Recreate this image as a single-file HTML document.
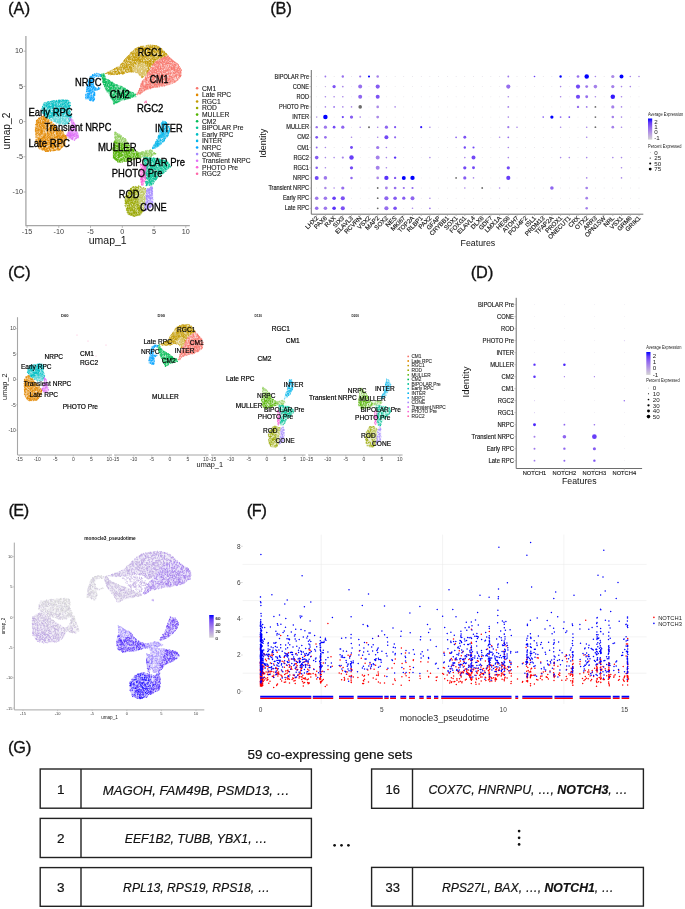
<!DOCTYPE html>
<html><head><meta charset="utf-8"><style>
html,body{margin:0;padding:0;background:#fff;}
svg{display:block;will-change:transform;}
text{font-family:"Liberation Sans",sans-serif;}
</style></head><body>
<svg width="685" height="909" viewBox="0 0 685 909">
<rect width="685" height="909" fill="#fff"/>
<text x="8.02" y="14.40" font-size="17.2" fill="#111" stroke="#111" stroke-width="0.3">(</text>
<text x="24.43" y="14.40" font-size="17.2" fill="#111" stroke="#111" stroke-width="0.3">)</text>
<text x="18.98" y="14.40" font-size="16.3" fill="#111" stroke="#111" stroke-width="0.3" text-anchor="middle">A</text>
<text x="270.27" y="14.00" font-size="17.2" fill="#111" stroke="#111" stroke-width="0.3">(</text>
<text x="286.13" y="14.00" font-size="17.2" fill="#111" stroke="#111" stroke-width="0.3">)</text>
<text x="280.95" y="14.00" font-size="16.3" fill="#111" stroke="#111" stroke-width="0.3" text-anchor="middle">B</text>
<text x="8.07" y="278.40" font-size="17.2" fill="#111" stroke="#111" stroke-width="0.3">(</text>
<text x="24.93" y="278.40" font-size="17.2" fill="#111" stroke="#111" stroke-width="0.3">)</text>
<text x="19.25" y="278.40" font-size="16.3" fill="#111" stroke="#111" stroke-width="0.3" text-anchor="middle">C</text>
<text x="470.77" y="278.40" font-size="17.2" fill="#111" stroke="#111" stroke-width="0.3">(</text>
<text x="487.73" y="278.40" font-size="17.2" fill="#111" stroke="#111" stroke-width="0.3">)</text>
<text x="482.00" y="278.40" font-size="16.3" fill="#111" stroke="#111" stroke-width="0.3" text-anchor="middle">D</text>
<text x="8.57" y="516.00" font-size="17.2" fill="#111" stroke="#111" stroke-width="0.3">(</text>
<text x="23.53" y="516.00" font-size="17.2" fill="#111" stroke="#111" stroke-width="0.3">)</text>
<text x="18.80" y="516.00" font-size="16.3" fill="#111" stroke="#111" stroke-width="0.3" text-anchor="middle">E</text>
<text x="246.77" y="516.00" font-size="17.2" fill="#111" stroke="#111" stroke-width="0.3">(</text>
<text x="261.13" y="516.00" font-size="17.2" fill="#111" stroke="#111" stroke-width="0.3">)</text>
<text x="256.70" y="516.00" font-size="16.3" fill="#111" stroke="#111" stroke-width="0.3" text-anchor="middle">F</text>
<text x="8.02" y="752.70" font-size="17.2" fill="#111" stroke="#111" stroke-width="0.3">(</text>
<text x="25.63" y="752.70" font-size="17.2" fill="#111" stroke="#111" stroke-width="0.3">)</text>
<text x="19.58" y="752.70" font-size="16.3" fill="#111" stroke="#111" stroke-width="0.3" text-anchor="middle">G</text>
<path d="M38.4 118.2L43.0 115.6L50.2 120.2L56.8 126.8L63.4 132.0L67.3 137.3L64.7 145.2L59.4 150.4L46.3 151.8L39.7 149.8L35.8 142.6L35.1 129.4L35.8 121.5Z" fill="#E38900" fill-opacity="0.25"/>
<path d="M48.5 141.7h0M39.8 118.9h0M41.1 128.1h0M47.9 135.1h0M48.6 140.4h0M41.7 147.4h0M36.0 139.9h0M48.5 135.8h0M39.6 122.8h0M45.2 140.7h0M40.6 147.4h0M38.3 130.8h0M57.2 145.8h0M44.1 144.2h0M38.4 131.8h0M44.4 120.3h0M35.7 140.2h0M41.9 125.2h0M54.1 140.9h0M38.4 130.6h0M57.5 130.6h0M36.7 135.0h0M56.5 134.2h0M65.5 136.8h0M39.6 144.8h0M47.9 121.6h0M59.3 141.9h0M63.5 138.2h0M43.8 148.0h0M48.9 150.5h0M56.5 138.1h0M49.6 136.5h0M48.2 124.2h0M64.2 136.4h0M45.6 134.7h0M64.4 138.2h0M40.6 120.6h0M65.1 140.8h0M37.2 142.9h0M59.4 149.0h0M36.0 124.5h0M62.8 135.1h0M52.9 146.1h0M39.1 125.7h0M54.0 150.7h0M62.9 142.6h0M37.0 120.0h0M42.4 141.4h0M43.2 142.5h0M41.4 136.6h0M42.8 133.5h0M55.1 145.6h0M37.4 133.2h0M54.6 136.2h0M45.3 151.4h0M53.8 129.4h0M52.8 142.6h0M37.2 129.0h0M43.5 144.7h0M41.3 138.7h0M52.0 149.1h0M43.6 118.0h0M58.8 143.6h0M55.0 150.0h0M65.7 135.8h0M64.6 138.8h0M47.7 133.2h0M54.6 135.5h0M47.8 150.5h0M40.7 120.2h0M39.4 133.9h0M40.8 127.6h0M39.3 144.9h0M46.2 149.6h0M53.8 147.4h0M49.9 135.4h0M50.9 137.3h0M35.6 137.1h0M49.1 144.8h0M45.3 147.9h0M60.5 137.8h0M36.8 130.8h0M57.0 148.9h0M47.2 150.9h0M54.6 145.6h0M53.6 138.3h0M44.3 136.8h0M59.3 146.7h0M59.4 140.9h0M56.7 131.9h0M47.4 130.5h0M48.0 127.1h0M55.1 131.2h0M41.5 131.0h0M46.2 144.5h0M43.2 146.5h0M52.1 144.6h0M53.5 142.1h0M51.8 143.5h0M53.4 132.5h0M46.1 118.1h0M47.3 118.5h0M61.2 147.3h0M57.3 136.2h0M40.3 132.5h0M46.2 123.7h0M54.2 126.9h0M43.4 119.6h0M41.3 133.7h0M43.1 146.4h0M48.5 137.9h0M42.6 119.3h0M51.7 132.9h0M40.0 138.1h0M52.6 139.3h0M39.8 142.8h0M42.2 134.4h0M45.5 147.2h0M62.3 135.1h0M61.7 146.5h0M38.3 139.2h0M57.8 137.7h0M59.9 142.1h0M43.5 124.9h0M55.5 128.1h0M60.8 131.8h0M44.8 120.8h0M64.1 135.2h0M66.5 138.6h0M40.3 142.6h0M36.1 128.9h0M62.9 140.7h0M49.3 136.7h0M43.1 125.1h0M59.3 132.1h0M36.9 134.0h0M41.9 144.5h0M54.2 146.1h0M47.4 142.7h0M51.6 135.2h0M36.1 141.3h0M50.1 149.9h0M42.2 125.3h0M37.7 131.1h0M38.6 138.5h0M61.0 140.8h0M61.6 138.3h0M39.7 118.4h0M36.0 142.9h0M47.8 142.6h0M49.7 131.9h0M50.5 132.8h0M61.0 130.2h0M60.7 148.7h0M39.8 121.3h0M41.1 138.1h0M58.0 142.1h0M43.1 121.9h0M38.9 145.0h0M39.8 125.2h0M52.3 127.0h0M49.1 134.1h0M58.2 147.9h0M36.0 134.5h0M45.6 146.7h0M53.1 140.6h0M49.7 138.3h0M53.7 126.9h0M51.8 148.8h0M48.8 124.6h0M47.1 149.3h0M37.9 123.8h0M45.2 121.9h0M54.6 130.6h0M53.6 128.2h0M36.9 123.9h0M56.5 133.6h0M51.8 121.9h0M61.4 137.1h0M49.6 129.2h0M61.6 138.5h0M56.6 132.9h0M35.5 128.4h0M50.9 142.0h0M50.2 132.2h0M46.0 134.6h0M59.4 132.4h0M39.1 126.9h0M51.3 140.0h0M35.8 134.4h0M56.8 140.5h0M49.6 148.7h0M50.7 146.7h0M61.8 139.1h0M56.8 136.5h0M43.9 135.9h0M56.7 128.4h0M60.0 131.1h0M42.0 143.4h0M45.0 142.1h0M42.0 122.8h0M39.7 129.3h0M56.8 144.6h0M37.7 124.0h0M41.8 148.8h0M58.0 135.7h0M44.9 145.8h0M49.1 149.0h0M57.8 132.9h0M40.2 122.9h0M49.0 130.2h0M39.8 142.0h0M41.2 138.9h0M54.5 142.7h0M55.7 137.2h0M44.6 142.1h0M47.8 126.5h0M47.0 134.8h0M41.7 118.4h0M51.5 125.1h0M46.6 119.5h0M52.1 142.4h0M39.9 135.5h0M42.1 143.1h0M62.8 135.8h0M48.1 143.1h0M58.6 134.3h0M57.9 143.9h0M47.2 143.5h0M59.3 137.8h0M48.0 140.8h0M39.0 123.6h0M44.8 147.6h0M52.6 126.0h0M39.6 126.1h0M54.9 127.3h0M49.8 131.7h0M61.8 131.0h0M46.2 140.0h0M42.2 132.5h0M45.2 138.3h0M60.4 132.1h0M49.0 148.5h0M54.6 143.4h0M51.4 133.6h0M53.6 149.7h0M51.8 122.6h0M57.7 135.2h0M65.7 138.2h0M45.5 149.9h0M43.3 144.7h0M50.9 146.6h0M48.6 140.3h0M47.9 133.9h0M44.6 119.3h0M58.2 136.0h0M60.7 134.0h0M60.6 140.8h0M60.1 130.3h0M45.5 121.8h0M48.3 124.3h0M48.2 150.9h0M45.4 151.2h0M55.6 129.2h0M62.7 138.0h0M43.2 144.3h0M49.0 128.5h0M45.7 140.8h0M43.8 144.9h0M44.6 135.3h0M50.8 146.6h0M53.9 148.1h0M49.5 149.0h0M44.1 137.6h0M35.5 130.7h0M46.1 120.8h0M58.2 140.9h0M48.8 129.1h0M55.4 141.2h0M54.9 139.1h0M40.6 121.0h0M51.7 147.3h0M41.0 132.4h0M48.9 133.6h0M40.3 128.0h0M43.5 146.2h0M60.9 131.0h0M51.5 126.3h0M62.8 139.9h0M50.3 151.3h0M65.6 139.0h0M40.0 138.7h0M53.3 132.6h0M48.9 137.3h0M62.5 142.8h0M53.8 149.1h0M36.8 122.8h0M48.7 119.5h0M44.3 117.8h0M57.8 139.8h0M47.3 122.4h0M60.7 133.3h0M55.8 128.3h0M42.5 131.3h0M47.4 132.6h0M60.0 135.6h0M43.0 148.6h0M53.0 129.2h0M63.3 132.0h0M57.9 143.7h0M51.0 134.7h0M40.0 129.0h0M39.7 141.9h0M50.5 131.8h0M63.6 134.7h0M48.3 125.3h0M37.4 130.7h0M35.9 126.1h0M51.3 150.6h0M38.6 140.0h0M51.2 143.7h0M39.7 118.6h0M48.0 144.5h0M41.3 143.4h0M44.4 123.5h0M35.6 130.0h0M47.4 139.5h0M37.4 121.1h0M56.1 130.2h0M45.4 135.8h0M57.6 148.8h0M50.4 128.2h0M52.5 148.0h0M49.5 147.3h0M43.3 125.5h0M45.7 135.4h0M42.2 139.9h0M39.7 119.0h0M47.5 136.3h0M52.1 127.9h0M53.0 150.9h0M45.1 139.8h0M45.6 143.6h0M45.6 147.8h0M59.3 143.2h0M50.2 123.2h0M36.4 127.3h0M36.3 140.7h0M56.7 131.2h0M59.8 135.0h0M41.3 127.8h0M36.8 137.5h0M51.6 138.0h0M49.0 146.3h0M63.2 139.4h0M36.7 124.1h0M37.1 130.9h0M60.0 146.1h0M36.5 133.2h0M42.8 150.1h0M65.5 137.8h0M42.7 149.7h0M63.1 141.0h0M54.6 142.1h0M43.3 137.3h0M39.3 146.1h0M55.0 134.8h0M43.1 126.3h0M41.6 145.5h0M63.5 133.2h0M54.4 134.7h0M55.2 146.6h0M44.2 147.6h0M42.4 137.2h0M42.8 120.4h0M40.3 146.2h0M54.5 150.5h0M46.2 137.2h0M54.4 137.9h0M37.0 142.8h0M41.3 142.9h0M35.3 127.5h0M64.6 136.9h0M62.6 137.5h0M61.6 147.4h0M45.4 120.1h0M58.3 131.5h0M39.2 137.0h0M36.3 122.8h0M44.5 149.2h0M51.4 132.1h0M54.0 125.2h0M44.9 129.1h0M43.0 136.8h0M61.1 142.8h0M37.7 133.0h0M49.5 139.9h0M49.5 141.1h0M57.0 140.8h0M59.6 143.9h0M40.8 129.8h0M45.4 145.1h0M54.9 143.1h0M38.8 129.1h0M41.3 145.3h0M54.4 140.5h0M42.7 132.3h0M41.5 116.5h0M58.6 141.8h0M45.7 146.1h0M48.9 146.9h0M56.3 136.6h0M41.6 134.8h0M45.7 140.3h0M62.5 139.7h0M46.2 121.1h0M55.6 146.3h0M61.6 138.3h0M65.9 137.0h0M41.5 131.1h0M45.9 151.5h0M47.3 151.5h0M51.8 121.8h0M37.5 129.0h0M39.1 138.6h0M48.4 151.5h0M47.8 132.3h0M53.2 143.8h0M50.8 130.8h0M43.5 148.6h0M41.2 140.4h0M46.5 150.9h0M39.1 122.4h0M63.7 136.7h0M42.4 120.9h0M41.7 148.0h0M63.2 141.0h0M50.3 145.5h0M51.1 128.8h0M44.0 149.1h0M47.6 133.4h0M43.3 147.6h0M47.4 126.4h0M38.9 145.9h0M59.1 137.0h0M42.9 138.2h0M55.7 127.5h0M49.9 143.3h0M43.3 137.0h0M48.9 129.4h0M39.2 124.4h0M37.7 126.6h0M59.0 137.9h0M56.9 133.8h0M42.5 121.9h0M41.1 146.2h0M46.3 143.8h0M52.7 145.2h0M50.7 137.0h0M52.4 128.8h0M54.6 150.3h0M47.7 129.8h0M60.6 139.0h0M47.8 140.5h0M48.1 120.5h0M49.6 127.7h0M42.1 149.1h0M57.3 137.3h0M59.1 135.2h0M57.7 149.3h0M43.6 118.2h0M41.9 133.8h0M38.5 129.7h0M52.4 127.9h0M53.0 135.0h0M47.7 140.8h0M56.9 140.5h0M53.2 128.6h0M54.8 149.5h0M49.3 142.4h0M36.3 143.3h0M44.0 135.0h0M52.8 144.6h0M56.0 149.3h0M37.5 125.6h0M64.7 143.3h0M54.4 145.8h0M38.2 146.1h0M57.2 133.2h0M46.3 128.4h0M43.3 148.6h0M50.0 125.8h0M45.0 149.2h0M51.8 129.1h0M58.0 132.1h0M38.0 122.3h0M52.1 130.7h0M40.8 146.7h0M36.9 126.2h0M46.6 150.1h0M50.5 125.7h0M51.3 138.9h0M38.7 143.0h0M62.5 146.2h0M44.3 148.4h0M40.1 147.4h0M46.2 121.4h0M40.4 122.7h0M57.4 136.4h0M51.7 146.8h0M43.2 123.7h0M44.1 138.8h0M44.6 125.4h0M54.1 129.4h0M57.7 133.6h0M55.5 128.4h0M44.3 120.4h0M44.2 125.5h0M49.3 122.3h0M66.1 138.9h0M50.7 150.6h0M39.7 138.5h0M56.4 131.3h0M37.0 133.4h0M50.1 144.8h0M43.4 129.8h0M42.8 140.4h0M37.0 120.6h0M44.4 149.9h0M62.5 131.3h0M50.2 138.4h0M43.6 116.2h0M56.8 135.6h0M45.5 143.8h0M39.8 124.5h0M44.5 122.7h0M37.9 140.4h0M53.0 148.4h0M61.1 147.0h0M56.7 144.8h0M53.1 133.9h0M57.4 140.3h0M51.9 145.6h0M51.4 145.5h0M44.2 122.1h0M43.5 136.6h0M37.8 138.0h0M42.3 143.3h0M53.4 139.7h0M38.6 118.7h0M55.2 130.4h0M37.9 129.0h0M48.2 142.5h0M44.4 127.0h0M54.6 137.1h0M59.8 149.7h0M56.3 146.1h0M41.0 146.6h0M46.8 147.9h0M66.7 137.7h0M48.5 121.7h0M45.1 127.3h0M54.7 139.2h0M56.4 136.5h0M47.9 150.6h0M40.1 148.0h0M45.1 135.5h0M40.5 134.0h0M60.6 140.7h0M38.9 148.2h0M50.5 149.9h0M41.6 146.5h0M57.8 148.0h0M45.7 134.7h0M56.0 137.1h0M42.6 131.1h0M43.1 146.2h0M56.1 129.0h0M44.6 148.6h0M65.4 137.8h0M42.0 149.6h0M59.3 142.8h0M41.9 145.7h0M42.8 138.5h0M58.0 142.5h0M47.7 143.1h0M64.2 136.9h0M38.0 120.3h0M38.5 121.9h0M39.2 143.8h0M36.4 124.3h0M45.1 144.5h0M61.2 146.7h0M49.9 149.3h0M43.4 149.4h0M36.2 141.9h0M53.3 133.4h0M43.4 127.4h0M43.1 123.5h0M60.8 133.8h0M37.8 143.7h0M52.3 142.4h0M51.7 130.1h0M47.7 123.4h0M44.5 148.8h0M64.2 135.0h0M44.6 117.1h0M58.8 138.8h0M52.9 150.5h0M44.1 137.4h0M47.9 138.3h0M44.8 145.3h0M36.7 121.0h0M47.8 150.2h0M38.7 139.0h0M52.1 128.4h0M41.5 123.6h0M36.5 141.4h0M56.2 131.7h0M56.3 129.3h0M48.5 133.1h0M50.5 135.7h0M55.7 142.7h0M46.4 148.8h0M62.0 135.6h0M63.0 146.4h0M52.4 148.2h0M59.9 130.8h0M45.8 150.1h0M61.1 148.2h0M35.5 129.3h0M42.7 126.3h0M58.9 141.8h0M50.0 128.8h0M53.9 134.9h0M52.8 137.9h0M47.8 143.5h0M43.2 139.3h0M52.6 138.3h0M42.9 148.7h0M53.8 124.8h0M56.0 141.5h0M52.0 139.4h0M61.3 144.8h0M55.1 131.9h0M48.2 147.3h0M53.3 148.5h0M40.0 146.2h0M61.5 133.7h0M36.3 120.9h0M47.1 138.0h0M40.1 135.1h0M50.1 133.4h0M59.8 138.6h0M50.2 139.7h0M49.7 134.6h0M60.5 137.4h0M50.1 148.0h0M54.5 141.9h0M48.4 140.4h0M38.9 143.4h0M47.6 148.4h0M41.2 131.6h0M62.3 137.1h0M50.0 134.2h0M53.6 131.5h0M41.3 119.7h0M40.0 117.5h0M53.1 146.3h0M46.7 118.3h0M48.8 137.4h0M48.8 144.9h0M57.8 132.6h0M64.3 144.8h0M42.2 131.1h0M62.4 131.9h0M50.0 127.7h0M52.2 125.9h0M39.0 139.8h0M57.0 147.0h0M39.4 144.5h0M61.7 139.0h0M41.7 125.1h0M48.6 135.2h0M50.5 132.5h0M62.1 147.1h0M61.4 147.4h0M53.5 150.5h0M54.6 137.5h0M45.4 140.3h0M36.8 120.5h0M39.3 139.3h0M40.7 127.9h0M36.5 124.1h0M40.0 134.5h0M47.7 125.9h0M43.3 118.6h0M62.9 131.8h0M53.2 142.3h0M60.7 131.8h0M41.0 145.6h0M53.7 147.3h0M54.7 124.7h0M44.6 134.9h0M51.5 128.0h0M59.9 144.7h0M48.8 123.0h0M37.3 122.8h0M43.9 137.3h0M66.0 140.3h0M48.5 134.8h0M57.0 134.2h0M44.7 119.4h0M44.3 143.4h0M55.7 144.6h0M51.8 124.0h0M55.3 126.6h0M48.6 131.0h0M59.0 149.9h0M37.4 121.9h0M45.5 124.6h0M51.1 145.4h0M62.6 137.2h0M42.8 122.4h0M52.5 142.7h0M42.4 121.9h0M36.4 120.9h0M42.3 116.8h0M48.4 120.6h0M47.2 131.0h0M50.3 130.9h0M38.4 143.6h0M39.5 131.0h0M43.9 126.5h0M56.8 134.3h0M41.2 132.6h0M46.0 141.1h0M42.4 146.2h0M52.0 133.7h0M43.3 122.3h0M50.3 151.1h0M39.4 125.9h0M60.9 139.7h0M44.1 127.0h0M48.6 137.4h0M58.3 146.6h0M64.9 143.9h0M45.0 126.6h0M55.5 125.7h0M50.6 144.7h0M47.9 121.4h0M56.0 142.9h0M44.1 131.9h0M57.9 137.0h0M35.2 130.0h0M53.2 142.2h0M37.9 130.1h0M44.1 130.9h0M51.1 139.5h0M51.1 138.1h0M53.9 131.1h0M45.4 120.9h0M54.4 137.7h0M51.2 127.2h0M49.4 140.9h0M41.1 117.9h0M47.3 140.8h0M38.4 122.7h0M49.7 138.1h0M55.2 129.6h0M35.7 133.2h0M41.0 138.7h0M52.4 143.7h0M47.8 151.4h0M51.7 132.9h0M59.2 136.3h0M46.8 133.3h0M41.2 129.8h0M36.1 132.3h0M43.9 134.7h0M36.0 135.7h0M44.5 136.5h0M58.7 131.5h0M51.1 145.3h0M58.2 141.1h0M49.3 142.9h0M47.7 132.5h0M58.6 135.3h0M39.8 125.9h0M63.1 135.4h0M52.6 137.9h0M44.8 128.9h0M53.6 144.9h0M41.6 127.5h0M36.6 121.3h0M41.3 133.5h0M55.6 147.5h0M47.0 126.2h0M48.4 123.4h0M45.4 120.0h0M64.8 142.6h0M49.8 142.9h0M55.3 126.6h0M51.9 141.4h0M43.7 144.4h0M65.0 138.2h0M39.4 143.0h0M52.1 142.9h0M56.2 146.5h0M59.0 141.9h0M37.8 145.6h0M52.5 135.2h0M57.4 136.9h0M55.8 129.1h0M44.0 134.0h0M63.6 136.1h0M56.5 131.6h0M46.5 139.3h0M52.6 147.6h0M44.0 119.5h0M41.3 129.6h0M55.3 138.2h0M47.9 129.3h0M66.8 137.3h0M47.5 120.9h0M57.5 148.4h0M45.3 143.3h0M44.4 150.3h0M57.7 138.2h0M64.8 140.1h0M59.9 136.3h0M62.0 140.9h0M39.8 137.8h0M44.1 148.8h0M41.5 125.9h0M36.6 131.8h0M53.1 136.4h0M49.5 146.4h0M53.7 139.3h0M44.1 133.2h0M43.2 131.0h0M38.8 125.4h0M54.8 129.3h0M36.0 129.7h0M49.7 149.3h0M44.1 137.9h0M51.4 144.1h0M38.2 137.5h0M37.0 133.0h0M51.8 127.1h0M43.5 122.9h0M54.1 146.1h0M45.9 136.8h0M40.3 122.6h0M43.7 140.6h0M44.4 127.8h0M46.8 144.8h0M36.3 128.6h0M62.7 139.0h0M38.8 123.1h0M59.1 130.2h0M50.7 147.7h0M42.3 144.8h0M49.8 139.2h0M40.7 121.6h0M51.9 142.4h0M50.0 147.1h0M42.7 129.1h0M59.5 149.6h0M48.4 137.7h0M52.7 129.7h0M38.4 141.4h0M62.9 141.2h0M50.8 140.9h0M47.8 144.5h0M45.3 128.1h0M46.8 136.1h0M36.4 139.5h0M41.6 130.7h0M49.6 128.2h0M47.4 122.1h0M37.3 135.6h0M42.5 126.0h0M52.9 136.2h0M46.2 128.3h0M66.0 135.6h0M56.1 133.4h0M55.9 137.5h0M39.8 127.7h0M49.9 120.2h0M46.8 123.9h0M42.4 130.4h0M40.9 140.7h0M59.3 138.0h0M57.8 148.8h0M40.0 124.4h0M52.7 128.1h0M40.3 141.5h0M39.8 118.2h0M52.6 147.5h0M52.2 143.9h0M41.2 146.8h0M41.1 117.6h0M48.7 135.7h0M43.9 119.4h0M47.7 126.1h0M51.6 128.2h0M65.0 144.2h0M38.5 129.2h0M48.0 125.6h0M38.2 119.9h0M45.3 150.0h0M41.8 142.7h0M43.4 116.9h0M50.0 143.0h0M58.6 128.4h0M50.5 145.1h0M50.6 122.6h0M62.4 133.8h0M52.1 126.0h0M44.0 128.2h0M44.2 118.7h0M51.9 144.1h0M54.2 126.1h0M39.9 120.4h0M58.7 142.2h0M40.9 130.6h0M60.4 138.0h0M54.9 141.0h0M56.2 149.1h0M56.5 126.6h0M55.1 128.3h0M45.5 137.7h0M40.3 133.2h0M41.2 132.6h0M62.2 146.1h0M39.0 133.3h0M56.4 133.3h0M41.4 147.4h0M40.9 138.7h0M59.0 136.0h0M45.0 136.8h0M47.8 139.6h0M65.5 137.9h0M60.5 134.2h0M52.2 127.5h0M39.3 129.5h0M42.0 116.8h0M44.0 122.1h0M41.0 141.1h0M50.3 137.3h0M47.1 147.3h0M58.5 150.1h0M46.4 149.5h0M50.5 138.9h0M58.8 144.9h0M47.9 131.8h0M61.4 141.6h0M40.9 123.9h0M58.2 142.7h0M54.5 147.4h0M43.2 127.9h0M51.0 127.0h0M52.7 140.3h0M42.2 133.2h0M37.6 124.5h0M46.4 142.8h0M41.0 131.2h0M63.2 134.9h0M60.4 143.3h0M56.8 144.4h0M36.4 125.2h0M57.5 147.0h0M37.9 122.6h0M44.0 142.3h0M62.8 136.5h0M41.5 130.6h0M39.5 148.8h0M59.7 134.1h0M45.4 120.0h0M60.3 135.3h0M42.4 123.7h0M43.5 126.8h0M47.6 126.4h0M45.7 142.6h0M42.9 124.0h0M41.2 147.5h0M42.8 143.0h0M43.5 116.8h0M58.7 141.9h0M38.0 127.4h0M37.9 137.1h0M51.6 140.4h0M43.4 139.2h0M53.6 126.7h0M40.4 141.9h0M41.0 124.2h0M63.7 137.2h0M38.6 121.9h0M53.7 124.7h0M44.8 121.8h0M41.2 132.4h0M51.5 134.1h0M59.4 144.3h0M53.9 132.4h0M63.9 145.6h0M53.5 145.8h0M47.5 118.9h0M46.7 151.3h0M60.8 145.0h0M51.2 145.6h0M56.6 137.1h0M35.9 142.3h0M45.6 129.2h0M54.8 139.4h0M41.6 145.5h0M47.3 138.5h0M66.2 136.0h0M46.7 138.0h0M51.3 132.0h0M58.7 149.1h0M53.4 124.5h0M43.9 143.7h0M50.8 127.1h0M45.2 117.1h0M52.3 145.4h0M37.8 119.5h0M52.1 139.5h0M36.3 130.6h0M57.2 150.1h0M47.7 126.5h0M52.9 146.4h0M60.7 140.4h0M49.0 140.6h0M42.1 125.9h0M60.1 149.3h0M41.2 126.3h0M35.3 131.2h0M41.9 138.8h0M47.6 134.9h0M45.6 118.7h0M52.4 127.8h0M47.5 136.3h0M59.4 149.7h0M54.8 127.0h0M38.6 118.3h0M45.4 139.5h0M37.8 126.7h0M52.7 142.9h0M52.2 126.0h0M56.1 146.1h0M55.7 136.1h0M45.0 147.3h0M45.2 128.9h0M44.5 131.7h0M43.1 119.7h0M45.0 133.6h0M52.5 132.0h0M42.0 131.5h0M40.5 134.8h0M66.0 135.7h0M65.8 139.8h0M62.6 143.8h0M57.2 142.4h0M40.1 141.6h0M38.2 141.2h0M50.9 123.0h0M44.9 146.8h0M46.8 125.8h0M40.1 136.4h0M56.8 130.3h0M38.5 141.0h0M51.7 133.6h0M47.1 137.4h0M51.2 142.0h0M43.4 149.0h0M57.7 138.0h0M43.9 140.8h0M43.4 145.2h0M53.1 141.4h0M51.0 147.4h0M59.8 133.5h0M54.0 129.4h0M40.8 130.8h0M47.6 148.9h0M61.8 136.4h0M45.4 124.0h0M65.9 136.0h0M42.1 124.6h0M38.5 122.3h0M59.8 141.3h0M49.2 144.3h0M51.8 130.6h0M38.9 147.6h0M44.0 137.9h0M66.2 139.2h0M39.2 143.5h0M65.7 136.0h0M53.9 127.8h0M38.7 146.9h0M44.9 130.8h0M55.9 137.5h0M48.7 129.6h0M39.1 134.9h0M42.6 142.9h0M42.4 116.7h0M50.5 128.4h0M52.7 139.5h0M53.1 137.2h0M41.3 123.8h0M40.1 129.3h0M38.7 134.1h0M46.2 118.1h0M52.0 139.1h0M54.9 145.1h0M42.7 138.0h0M44.9 118.8h0M44.9 118.2h0M38.4 144.1h0M46.4 148.6h0M51.1 147.2h0M42.2 128.9h0M46.9 119.1h0M45.8 139.5h0M50.1 147.4h0M43.8 128.4h0M45.4 135.6h0M41.2 121.9h0M39.6 119.1h0M44.1 147.6h0M55.4 150.5h0M45.2 133.0h0M53.6 124.2h0M53.1 129.9h0M51.4 122.7h0M40.1 142.9h0M45.7 138.9h0M53.3 148.2h0M41.7 138.5h0M55.6 140.7h0M64.3 143.9h0M55.2 137.4h0M42.0 139.2h0M64.6 135.9h0M43.5 127.7h0M61.4 137.2h0M51.4 128.2h0M63.3 135.9h0M50.0 150.4h0M63.4 145.3h0M61.5 132.5h0M48.9 130.1h0M53.8 142.0h0M60.4 139.3h0M53.2 130.5h0M45.4 126.0h0M44.6 140.3h0M59.7 137.2h0M42.3 122.6h0M35.6 124.6h0M60.6 141.6h0M43.0 135.7h0M54.0 141.7h0M50.0 130.3h0M45.0 124.2h0M38.1 139.0h0M56.7 140.5h0M39.0 134.7h0M47.2 145.1h0M38.7 134.8h0M49.5 142.8h0M38.3 128.7h0M53.3 124.2h0M62.1 143.3h0M62.0 135.3h0M62.0 147.5h0M60.1 136.3h0M54.9 146.2h0M57.4 134.9h0M42.7 140.0h0M63.4 145.7h0M38.6 118.2h0M38.3 120.5h0M40.2 131.7h0M61.3 145.0h0M57.9 133.3h0M57.8 139.5h0M36.5 128.7h0M53.3 141.2h0M54.2 141.7h0M54.7 126.0h0M48.4 147.4h0M58.7 149.2h0M40.6 126.3h0M38.1 127.1h0M47.4 138.5h0M50.3 141.6h0M43.8 121.9h0M47.3 131.5h0M48.7 148.7h0M43.8 128.3h0M42.0 129.1h0M47.7 136.4h0M44.1 125.0h0M58.3 148.5h0M39.0 122.2h0M39.4 140.3h0M42.0 137.5h0M41.6 145.2h0M45.3 139.8h0M39.9 126.7h0M44.7 138.6h0M57.0 146.2h0M41.0 143.1h0M58.0 135.8h0M39.8 130.6h0M47.6 133.6h0M43.7 147.8h0M44.4 144.5h0M49.9 137.2h0M42.7 140.5h0M39.9 135.9h0M51.0 145.9h0M50.6 144.0h0M48.0 126.7h0M60.4 130.7h0M51.1 136.5h0M61.5 136.6h0M48.2 121.4h0M57.7 147.6h0M38.6 132.5h0M65.2 136.0h0M52.3 139.3h0M41.4 140.0h0M43.9 119.5h0M43.5 127.7h0M50.1 124.1h0M58.5 144.8h0M60.6 141.5h0M43.8 123.2h0M38.6 130.0h0M37.9 139.3h0M45.9 151.5h0M45.2 142.3h0M58.2 136.3h0M46.9 123.1h0M42.7 126.8h0M64.4 141.4h0M43.6 121.6h0M63.5 144.3h0M54.0 132.2h0M45.7 118.8h0M57.1 130.0h0M50.5 126.1h0M44.2 137.0h0M60.5 137.4h0M43.3 117.1h0M35.5 131.6h0M41.0 141.4h0M40.2 145.6h0M41.7 128.4h0M42.5 144.8h0M50.9 147.2h0M39.3 133.7h0M59.7 145.6h0M53.1 133.4h0M51.4 135.2h0M47.1 126.2h0M41.6 144.6h0M45.3 133.4h0M61.2 137.8h0M48.3 122.0h0M47.9 133.2h0M40.4 123.6h0M41.9 118.4h0M46.9 125.9h0M63.7 143.8h0M38.6 146.4h0M38.6 141.7h0M47.1 145.0h0M52.1 124.5h0M42.2 140.4h0M57.2 138.8h0M37.4 124.4h0M63.1 142.2h0M40.5 126.4h0M53.2 145.5h0M41.6 119.3h0M47.4 148.6h0M43.5 119.5h0M36.9 128.3h0M36.3 136.7h0M56.8 132.3h0M59.0 133.7h0M59.1 133.8h0M57.8 131.8h0" stroke="#E38900" stroke-width="0.85" stroke-linecap="round" fill="none"/>
<path d="M43.6 102.5L52.8 100.5L63.4 99.5L69.3 99.9L70.6 103.1L69.9 109.7L72.6 117.6L67.3 124.2L59.4 124.2L52.8 121.5L46.3 117.6L41.0 112.3L41.7 107.0Z" fill="#00BFC4" fill-opacity="0.25"/>
<path d="M64.4 112.7h0M65.8 117.9h0M65.3 118.6h0M68.9 110.7h0M55.5 103.1h0M48.4 106.2h0M64.3 103.4h0M63.9 114.2h0M70.4 117.4h0M63.1 101.4h0M57.0 118.3h0M50.2 111.8h0M50.5 110.6h0M48.7 113.5h0M54.9 118.5h0M53.5 107.5h0M59.2 105.6h0M66.7 121.3h0M67.4 108.2h0M45.6 114.4h0M64.4 109.1h0M53.8 106.8h0M50.5 115.6h0M55.4 109.0h0M63.8 101.7h0M48.9 103.5h0M62.3 104.4h0M66.0 116.0h0M68.1 106.6h0M65.6 100.0h0M68.6 105.6h0M44.9 102.6h0M59.6 121.5h0M43.9 111.4h0M59.5 109.0h0M48.0 116.7h0M66.6 106.2h0M57.1 109.9h0M66.6 112.8h0M65.0 100.5h0M46.8 113.5h0M60.6 118.8h0M60.0 113.3h0M62.2 104.1h0M45.7 105.3h0M69.0 115.0h0M61.8 107.1h0M49.2 114.2h0M66.4 101.4h0M46.5 111.5h0M49.5 106.7h0M67.4 108.0h0M63.8 104.0h0M62.7 113.7h0M64.0 110.3h0M53.0 118.2h0M70.5 119.6h0M44.9 116.0h0M57.9 120.5h0M48.2 101.7h0M62.9 119.6h0M61.0 118.6h0M60.9 121.5h0M58.4 102.5h0M65.2 105.1h0M55.1 120.0h0M66.8 122.0h0M58.5 104.6h0M54.4 111.2h0M65.7 122.1h0M54.9 116.9h0M60.3 122.1h0M62.5 104.6h0M43.7 109.8h0M69.1 118.3h0M62.3 112.7h0M66.9 122.9h0M53.6 105.3h0M63.9 116.5h0M58.2 112.8h0M66.6 119.2h0M67.8 104.2h0M58.9 106.1h0M56.1 116.2h0M62.6 119.8h0M52.5 116.1h0M58.5 109.5h0M53.6 114.6h0M48.4 103.6h0M54.4 111.1h0M49.7 107.2h0M62.3 100.2h0M61.7 112.4h0M56.1 117.3h0M62.7 101.1h0M66.3 100.5h0M41.9 112.5h0M64.2 112.0h0M50.3 104.1h0M61.9 122.8h0M46.0 106.3h0M64.7 100.5h0M41.9 111.5h0M58.8 110.1h0M66.0 106.3h0M49.6 109.5h0M62.3 123.7h0M53.6 117.9h0M68.1 116.2h0M65.6 119.6h0M59.9 110.3h0M54.2 105.5h0M51.0 119.8h0M65.2 101.1h0M63.5 104.3h0M65.5 105.7h0M53.8 121.3h0M61.8 101.5h0M44.3 110.8h0M42.7 106.6h0M62.4 100.7h0M55.5 113.6h0M47.3 104.1h0M58.4 119.5h0M66.4 115.1h0M58.1 111.0h0M52.6 113.7h0M57.2 116.2h0M65.5 104.0h0M60.9 116.6h0M51.9 115.3h0M69.7 105.7h0M44.2 108.5h0M70.2 120.4h0M49.2 106.3h0M50.4 101.5h0M46.3 114.7h0M56.6 109.7h0M57.3 121.4h0M49.2 103.8h0M65.7 122.2h0M63.8 106.9h0M61.0 118.5h0M55.0 114.8h0M59.1 121.8h0M64.8 106.0h0M48.2 116.6h0M48.4 114.9h0M48.3 113.6h0M47.0 109.9h0M54.0 119.4h0M62.2 109.0h0M56.6 123.0h0M63.5 118.0h0M57.1 110.5h0M65.3 109.8h0M56.8 101.7h0M69.6 110.7h0M59.9 101.2h0M57.7 105.0h0M53.2 113.3h0M66.8 106.0h0M64.0 111.7h0M50.6 106.7h0M59.4 114.9h0M48.4 113.4h0M68.6 119.4h0M53.9 111.8h0M63.3 113.8h0M64.8 123.0h0M51.6 113.4h0M47.5 117.8h0M60.6 111.7h0M57.5 122.5h0M46.0 114.1h0M61.2 121.9h0M49.5 117.1h0M52.1 108.5h0M43.6 107.6h0M58.4 117.0h0M56.8 112.5h0M55.9 105.2h0M68.0 113.5h0M57.3 107.0h0M68.2 103.5h0M62.4 123.4h0M60.6 104.2h0M52.4 118.8h0M51.4 103.6h0M64.9 106.5h0M65.2 120.3h0M55.4 120.7h0M71.5 116.7h0M45.9 115.5h0M62.5 102.7h0M52.1 104.6h0M67.9 114.6h0M59.2 105.6h0M60.2 117.5h0M54.4 101.9h0M43.8 112.6h0M51.6 115.8h0M44.8 114.5h0M50.4 117.3h0M52.3 117.4h0M59.7 116.8h0M50.0 113.1h0M54.8 108.3h0M44.2 105.4h0M50.4 111.3h0M54.1 100.9h0M59.6 101.2h0M63.2 116.4h0M52.3 114.2h0M66.9 118.7h0M64.7 112.6h0M64.5 104.9h0M57.4 119.6h0M49.8 111.9h0M61.6 101.5h0M45.6 114.2h0M54.1 102.7h0M66.6 117.2h0M66.4 111.6h0M47.2 103.0h0M50.2 111.7h0M68.8 112.4h0M63.3 103.2h0M54.8 121.5h0M46.0 102.4h0M67.0 100.9h0M48.3 114.2h0M63.5 110.2h0M56.2 101.6h0M60.3 106.4h0M70.0 105.4h0M64.7 116.9h0M44.9 104.7h0M58.4 112.0h0M64.5 121.2h0M43.2 108.8h0M51.8 120.4h0M65.3 112.7h0M58.6 100.1h0M61.4 106.3h0M55.3 121.6h0M47.4 102.3h0M60.5 116.2h0M69.7 114.1h0M58.1 111.2h0M58.2 112.5h0M61.9 115.4h0M46.5 112.0h0M46.6 111.0h0M67.6 104.6h0M48.0 113.5h0M51.9 106.8h0M70.3 105.5h0M53.8 104.0h0M49.8 118.7h0M46.1 115.9h0M49.7 117.4h0M52.1 117.7h0M54.2 113.2h0M47.0 106.4h0M56.4 100.6h0M67.8 110.3h0M47.0 103.2h0M45.0 111.4h0M68.8 112.2h0M46.5 112.1h0M52.2 113.7h0M54.3 112.0h0M68.7 101.0h0M69.9 107.2h0M64.0 106.3h0M64.1 118.9h0M58.9 102.2h0M70.5 115.5h0M46.8 117.3h0M48.1 118.1h0M57.7 114.9h0M68.2 101.0h0M58.4 108.9h0M58.6 104.0h0M66.0 102.4h0M55.3 121.6h0M70.1 102.6h0M58.7 113.8h0M65.7 102.0h0M54.4 119.7h0M65.7 120.2h0M55.0 119.5h0M45.4 103.9h0M46.1 105.2h0M51.4 101.2h0M53.2 106.4h0M45.8 107.2h0M56.8 116.1h0M50.2 111.5h0M62.9 122.8h0M44.6 108.8h0M68.4 118.5h0M67.1 100.4h0M66.4 101.9h0M52.1 105.3h0M49.9 109.9h0M58.7 103.7h0M53.6 115.1h0M65.1 123.8h0M70.0 117.4h0M45.9 113.6h0M57.7 122.7h0M62.9 112.8h0M50.8 108.5h0M53.2 111.0h0M68.7 107.2h0M44.5 107.3h0M64.6 120.9h0M55.2 117.7h0M47.2 104.3h0M52.6 108.1h0M50.5 113.1h0M62.6 104.6h0M46.7 106.8h0M67.2 100.1h0M42.0 108.7h0M52.5 117.0h0M51.8 106.5h0M58.6 109.3h0M67.7 105.8h0M70.1 103.1h0M56.3 104.5h0M44.1 110.5h0M56.6 106.8h0M63.4 100.0h0M58.3 100.9h0M57.1 106.8h0M46.3 116.3h0M47.2 109.3h0M64.0 119.5h0M60.0 102.7h0M56.3 101.4h0M60.7 119.8h0M65.7 112.1h0M60.2 106.5h0M70.6 114.7h0M53.9 100.7h0M44.3 110.5h0M47.8 105.0h0M55.7 112.9h0M59.4 101.8h0M50.0 103.0h0M46.5 103.7h0M52.8 104.0h0M54.9 113.8h0M67.4 114.0h0M70.2 111.4h0M60.7 110.4h0M69.8 117.0h0M60.0 120.3h0M69.6 113.8h0M47.6 107.7h0M70.1 111.6h0M67.7 111.6h0M60.8 115.4h0M44.4 106.9h0M59.2 101.7h0M66.4 110.1h0M62.3 104.7h0M67.2 104.8h0M55.2 113.6h0M59.0 122.5h0M49.1 115.7h0M65.7 102.4h0M57.6 109.7h0M56.9 101.1h0M49.5 105.7h0M62.1 100.7h0M68.6 116.6h0M44.0 113.4h0M58.9 107.2h0M45.4 114.0h0M57.1 112.1h0M52.4 100.9h0M64.4 113.3h0M69.9 117.7h0M53.4 101.0h0M66.6 107.3h0M56.6 112.9h0M57.4 103.1h0M52.4 108.4h0M56.7 119.8h0M65.1 102.4h0M57.3 107.8h0M62.7 118.9h0M50.0 109.9h0M68.9 118.4h0M50.0 117.4h0M66.9 116.3h0M54.9 109.3h0M68.7 105.4h0M53.4 103.0h0M62.2 103.8h0M48.8 107.2h0M66.2 118.1h0M46.7 117.8h0M52.9 107.3h0M47.3 113.3h0M57.1 121.8h0M59.0 118.6h0M59.3 119.5h0M70.2 105.5h0M58.1 117.4h0M44.2 113.6h0M47.7 108.3h0M55.0 118.0h0M53.1 105.7h0M49.6 118.4h0M67.6 103.6h0M56.4 108.2h0M61.8 109.0h0M54.7 114.6h0M53.3 109.9h0M58.4 109.1h0M66.6 110.3h0M59.3 123.5h0M55.0 111.2h0M50.4 106.5h0M67.5 123.3h0M53.4 115.6h0M65.9 104.3h0M60.4 123.4h0M50.0 108.4h0M47.4 115.3h0M69.2 107.9h0M44.9 108.1h0M60.8 117.7h0M60.2 101.4h0M59.1 121.9h0M51.3 113.9h0M45.4 112.2h0M50.0 103.0h0M52.2 106.2h0M55.9 118.6h0M59.8 124.2h0M60.0 100.8h0M68.4 113.1h0M49.3 112.1h0M49.0 116.5h0M60.1 119.0h0M56.4 100.4h0M66.0 104.7h0M48.2 112.9h0M67.0 122.9h0M69.8 117.9h0M52.8 113.0h0M45.3 113.7h0M59.2 113.9h0M70.1 112.7h0M48.6 113.0h0M67.2 117.4h0M43.7 113.3h0M57.6 112.0h0M57.9 102.6h0M64.1 123.0h0M49.2 106.5h0M55.1 103.4h0M59.0 110.6h0M69.0 104.8h0M46.3 111.7h0M57.3 109.5h0M48.5 112.7h0M68.7 106.3h0M51.3 116.5h0M47.5 113.1h0M56.6 114.0h0M67.4 116.4h0M68.9 106.4h0M48.9 104.1h0M52.7 103.6h0M49.2 104.0h0M46.6 105.1h0M44.0 112.9h0M67.4 108.1h0M69.8 116.4h0M67.1 122.3h0M63.7 118.5h0M43.3 104.2h0M50.9 107.8h0M55.7 101.9h0M51.9 101.3h0M51.2 115.8h0M67.6 123.7h0M60.5 105.1h0M48.2 111.7h0M70.4 115.0h0M46.7 112.2h0M53.9 121.0h0M44.3 104.9h0M65.0 123.5h0M66.6 113.6h0M66.6 108.9h0M48.6 110.4h0M50.3 115.4h0M69.9 116.1h0M65.8 122.2h0M64.1 110.8h0M64.5 124.0h0M62.3 117.5h0M70.1 118.3h0M59.7 103.0h0M68.8 115.4h0M60.7 112.5h0M50.2 109.3h0M68.9 117.8h0M48.8 101.7h0M60.2 118.1h0M69.6 111.5h0M63.7 100.7h0M50.6 101.7h0M53.7 104.4h0M56.8 105.5h0M47.0 114.4h0M56.2 108.9h0M60.3 104.5h0M49.4 106.9h0M63.5 112.1h0M47.7 113.8h0M68.7 102.6h0M61.9 105.9h0M49.3 107.1h0M54.6 120.5h0M52.9 116.0h0M64.1 121.6h0M55.3 113.1h0M59.2 111.5h0M69.9 118.9h0M47.0 106.2h0M45.8 106.0h0M46.3 114.6h0M55.2 114.0h0M42.7 107.1h0M43.9 110.9h0M69.2 119.8h0M68.6 109.4h0M57.1 105.9h0M60.2 110.5h0M56.7 112.9h0M59.3 111.0h0M66.2 109.6h0M56.3 111.3h0M46.6 110.4h0M45.3 116.5h0M52.8 114.9h0M63.3 115.9h0M46.1 109.5h0M62.4 118.0h0M69.8 109.9h0M60.3 111.7h0M41.8 110.6h0M62.8 116.2h0M65.4 120.6h0M63.7 100.6h0M50.6 111.4h0M52.5 104.4h0M63.1 122.4h0M44.2 105.2h0M50.0 116.0h0M53.2 118.4h0M44.0 110.9h0M50.2 112.2h0M45.3 110.5h0M57.3 108.0h0M58.5 117.1h0M62.0 108.3h0M70.3 105.3h0M60.4 115.6h0M60.1 116.3h0M64.2 120.3h0M59.2 100.3h0M55.8 114.8h0M61.8 102.8h0M52.8 104.8h0M55.0 104.6h0M44.1 107.4h0M56.7 114.4h0M47.2 108.2h0M55.3 105.7h0M51.7 105.9h0M61.9 109.1h0M55.7 105.9h0M59.3 109.8h0M55.4 104.7h0M57.2 109.9h0M58.0 112.2h0M63.5 108.0h0M53.5 119.6h0M68.8 115.6h0M65.3 121.7h0M56.8 109.9h0M64.0 113.8h0M47.4 104.8h0M68.6 119.5h0M65.9 123.7h0M55.8 107.0h0M69.1 102.9h0M58.8 106.5h0M51.5 102.9h0M48.6 107.7h0M46.2 112.2h0M62.0 116.1h0M47.0 105.4h0M56.8 111.0h0M51.2 117.3h0M44.3 104.3h0M55.3 121.3h0M50.7 115.7h0M60.7 105.4h0M60.5 119.1h0M68.0 118.4h0M48.6 108.4h0M65.7 123.9h0M48.8 111.0h0M53.7 113.3h0M57.7 115.8h0M56.7 116.4h0M50.9 104.8h0M69.7 113.3h0M62.5 119.5h0M67.0 110.2h0M59.3 119.4h0M57.5 117.2h0M65.8 107.8h0M68.7 105.9h0M52.8 107.9h0M49.1 111.1h0M48.6 104.6h0M70.3 116.5h0M63.3 114.0h0M60.6 100.6h0M52.3 101.5h0M51.3 117.1h0M52.2 101.7h0M44.2 103.1h0M63.3 122.8h0M65.0 109.2h0M65.3 120.1h0M42.9 107.2h0M64.5 105.9h0M69.8 105.5h0M65.9 109.4h0M69.1 106.6h0M66.4 100.3h0M61.3 113.4h0M48.9 106.1h0M61.8 106.5h0M46.6 103.8h0M41.9 111.0h0M56.4 110.0h0M58.8 101.6h0M55.3 101.2h0M45.5 114.8h0M62.4 114.4h0M62.4 118.5h0M65.4 102.2h0M60.8 120.7h0M68.2 122.7h0M65.8 110.2h0M65.5 123.8h0M57.0 108.2h0M44.8 115.7h0M49.2 116.7h0M60.8 117.2h0M48.9 111.9h0M51.8 104.0h0M56.0 122.0h0M58.9 115.1h0M58.4 100.6h0M68.4 102.6h0M64.3 110.7h0M63.4 120.8h0M63.0 120.6h0M56.4 101.8h0M53.0 104.2h0M65.1 116.7h0M59.3 118.5h0M52.7 108.6h0M63.1 110.7h0M66.7 103.3h0M59.6 108.7h0M48.8 105.8h0M64.5 107.6h0M54.2 112.7h0M52.8 105.3h0M68.6 103.8h0M46.3 114.2h0M64.7 101.5h0M55.3 119.1h0M63.8 116.3h0M65.2 113.9h0M52.8 110.5h0M49.9 107.9h0M68.8 112.7h0M64.1 109.3h0M52.0 102.2h0M58.3 106.0h0M70.0 120.5h0M61.7 121.1h0M50.3 111.6h0M53.8 114.3h0M56.2 106.6h0M60.8 119.4h0M43.5 110.0h0M68.7 116.6h0M64.7 112.4h0M43.5 107.8h0M67.0 106.6h0M57.2 111.0h0M51.5 112.5h0M43.5 105.0h0M59.1 100.7h0M61.8 99.9h0M64.5 109.9h0M57.9 119.0h0M60.0 106.6h0M63.4 107.0h0M58.6 122.2h0M48.8 102.3h0M57.2 122.1h0M46.7 105.8h0M58.1 120.6h0M55.1 105.3h0M70.6 114.8h0M68.3 102.7h0M54.9 120.7h0M69.4 121.2h0M60.8 118.2h0M62.3 120.4h0M61.0 103.7h0M61.6 110.7h0M42.9 112.7h0M54.9 121.1h0M61.9 105.9h0M47.8 101.9h0M55.8 108.1h0M59.2 100.9h0M48.9 112.2h0M52.9 115.0h0M52.8 110.9h0M48.4 106.9h0M66.1 100.6h0M69.8 108.6h0M62.3 104.2h0M68.5 119.9h0M48.9 114.1h0M64.3 121.3h0M55.8 102.8h0M44.5 112.6h0M43.4 108.6h0M53.1 118.4h0M67.7 117.5h0M68.9 113.7h0M55.2 111.3h0M68.1 109.3h0M49.2 102.2h0M48.8 112.8h0M58.3 121.2h0M59.6 120.1h0M66.4 115.6h0M68.3 115.1h0M62.9 121.2h0M66.8 102.9h0M63.1 116.3h0M64.9 119.3h0M57.1 111.8h0M63.1 124.1h0M69.7 106.8h0M51.6 119.8h0M52.4 107.5h0M55.1 106.3h0M64.7 110.7h0M51.7 107.0h0M48.1 110.0h0M63.0 114.4h0M46.7 106.0h0M59.9 120.7h0M54.0 104.8h0M51.2 116.6h0M63.1 105.0h0M53.5 116.8h0M63.8 102.7h0M60.3 121.4h0M59.4 107.1h0M64.5 123.6h0M69.6 121.0h0M57.5 121.6h0M57.6 121.5h0M55.2 113.4h0M66.7 109.5h0M59.0 121.7h0M56.3 114.1h0M64.9 117.1h0M66.9 102.1h0M53.0 113.0h0M68.1 103.1h0M63.6 114.1h0M60.2 108.7h0M69.9 117.1h0M62.1 105.0h0M66.7 111.7h0M57.1 101.6h0M54.8 120.8h0M62.5 104.2h0M59.5 122.8h0M52.6 106.7h0M67.5 121.0h0M47.4 117.3h0M59.7 121.6h0M62.8 119.1h0M55.3 105.1h0M50.0 107.0h0M67.6 112.8h0M58.8 106.5h0M67.4 116.9h0M68.7 102.7h0M67.8 100.8h0M68.7 105.4h0M69.0 108.9h0M67.6 112.8h0M58.8 123.8h0M52.5 105.7h0M55.2 102.6h0M57.2 120.9h0M52.1 103.3h0M50.7 117.8h0M60.4 117.8h0M51.1 115.1h0M42.7 113.2h0M57.5 109.6h0M59.0 101.2h0M52.4 112.4h0M43.7 111.1h0M65.4 110.4h0M53.4 106.2h0M56.4 103.5h0M59.6 113.3h0M47.5 114.2h0M70.5 117.4h0M59.5 120.9h0M46.7 116.7h0M65.2 107.1h0M64.2 119.6h0M60.7 122.8h0M52.0 110.2h0M49.8 116.6h0M46.8 117.6h0M64.7 110.7h0M64.8 103.3h0M61.9 106.8h0M55.1 120.0h0M69.5 107.4h0M46.7 110.8h0M62.5 109.7h0M69.0 121.4h0M56.1 118.8h0M53.6 106.1h0M49.6 115.5h0M42.3 109.0h0M62.6 116.6h0M68.5 118.8h0M46.6 105.4h0M70.8 115.9h0M49.4 103.7h0M65.5 106.6h0M64.6 120.8h0M60.4 122.7h0M60.1 102.0h0M69.5 117.6h0M69.0 102.4h0M55.4 120.0h0M62.9 116.7h0M59.3 101.6h0M49.5 118.4h0M68.6 111.8h0M59.3 115.0h0M53.2 112.3h0M53.4 105.7h0M59.0 122.4h0M54.4 114.1h0M59.9 99.9h0M66.2 100.7h0M43.2 110.8h0M65.1 120.8h0M63.4 122.9h0M66.5 100.5h0M66.9 112.4h0M61.4 112.5h0M65.3 110.4h0M62.7 118.9h0M67.0 115.9h0M55.3 109.7h0M54.2 114.6h0M63.0 110.0h0M55.7 111.7h0M42.6 106.5h0M43.8 110.0h0M67.0 123.2h0M58.0 108.4h0M66.2 123.1h0M56.6 104.8h0M59.3 102.9h0M66.2 116.2h0M65.7 115.9h0M43.2 109.0h0M50.2 107.0h0M61.0 120.8h0M63.3 106.2h0M56.8 119.1h0M60.1 109.0h0M64.6 102.9h0M66.0 105.2h0M53.0 103.1h0M65.8 107.9h0M51.9 115.7h0M53.6 102.4h0M47.8 107.3h0M65.7 119.1h0M65.5 116.2h0M54.1 100.7h0M66.7 107.8h0M55.9 101.4h0M59.3 116.6h0M62.3 100.1h0M46.8 114.3h0M65.2 105.2h0M66.4 123.1h0M56.6 113.4h0M53.2 106.4h0M47.2 113.2h0M66.2 121.1h0M42.2 110.4h0M67.9 109.2h0M60.9 109.8h0M63.4 100.3h0M59.3 119.8h0M60.5 112.2h0M63.1 107.7h0M64.7 103.5h0M64.3 103.7h0M51.6 114.9h0M67.8 114.6h0M61.2 104.2h0M70.5 115.8h0M44.2 113.9h0" stroke="#00BFC4" stroke-width="0.85" stroke-linecap="round" fill="none"/>
<path d="M68.6 116.9L73.9 120.2L76.5 128.1L79.1 137.3L75.2 140.6L68.6 138.6L66.0 134.7L69.9 129.4L71.2 122.8Z" fill="#DF70F8" fill-opacity="0.25"/>
<path d="M72.5 129.2h0M73.7 125.2h0M70.4 135.2h0M78.2 134.1h0M75.5 129.3h0M70.4 126.8h0M69.4 133.3h0M68.8 133.7h0M72.0 129.7h0M70.8 134.5h0M76.6 135.3h0M72.2 134.4h0M76.8 132.4h0M70.3 135.1h0M76.4 136.0h0M68.5 135.4h0M70.8 136.7h0M72.8 136.3h0M72.1 135.6h0M72.6 138.4h0M75.1 136.4h0M71.3 129.2h0M69.5 134.5h0M73.3 124.9h0M73.2 135.7h0M74.2 133.7h0M73.6 135.1h0M73.7 122.7h0M72.6 125.1h0M70.9 135.3h0M70.6 127.9h0M70.4 137.6h0M71.9 136.9h0M71.6 128.9h0M72.5 133.1h0M69.1 134.0h0M71.0 136.2h0M72.3 123.6h0M70.1 130.8h0M73.0 122.7h0M72.9 130.3h0M70.9 130.5h0M71.1 138.0h0M72.8 125.2h0M66.6 135.4h0M70.6 133.0h0M73.0 137.7h0M70.4 135.3h0M72.9 120.1h0M71.1 138.1h0M74.6 133.1h0M68.8 135.2h0M74.1 140.2h0M70.1 135.3h0M69.2 137.2h0M70.0 129.8h0M69.2 132.2h0M67.2 133.9h0M77.3 135.6h0M74.4 124.7h0M75.5 131.5h0M70.6 136.0h0M72.9 133.9h0M74.4 127.2h0M71.3 128.2h0M72.1 133.1h0M71.6 119.9h0M77.4 133.3h0M74.1 134.9h0M69.7 118.7h0M68.1 134.1h0M69.8 135.8h0M71.6 130.3h0M73.9 136.3h0M71.1 127.4h0M70.1 119.5h0M69.7 132.3h0M71.6 136.1h0M77.9 137.6h0M74.7 136.5h0M74.9 124.2h0M67.4 135.2h0M74.6 130.6h0M76.4 138.0h0M75.3 128.6h0M73.5 137.1h0M72.4 137.9h0M75.1 130.4h0M71.9 131.1h0M75.4 135.3h0M76.3 135.1h0M75.0 131.2h0M73.7 123.2h0M76.3 131.6h0M69.7 133.5h0M76.3 137.1h0M75.4 133.9h0M69.0 135.7h0M74.5 123.7h0M77.8 137.1h0M74.8 126.7h0M67.5 135.2h0M73.4 134.7h0M76.1 129.2h0M67.2 135.4h0M71.3 135.4h0M74.8 136.5h0M73.3 122.1h0M77.0 136.2h0M71.0 120.8h0M69.8 136.6h0M72.8 133.8h0M71.9 122.7h0M73.4 135.3h0M68.5 135.8h0M70.2 132.2h0M72.1 128.9h0M71.5 135.8h0M72.4 127.0h0M75.2 128.9h0M72.4 138.0h0M73.7 132.6h0M77.1 132.6h0M74.2 126.1h0M70.5 137.1h0M69.0 137.0h0M71.3 120.1h0M71.2 122.4h0M71.8 119.0h0M72.0 129.8h0M69.7 136.1h0M75.3 126.2h0M72.2 139.4h0M75.7 130.7h0M74.6 134.4h0M73.0 129.0h0M75.1 138.6h0M76.7 134.1h0M75.5 138.8h0M73.0 131.4h0M69.4 118.1h0M70.6 135.8h0M78.5 136.2h0M73.2 126.6h0M74.5 140.3h0M74.3 134.2h0M72.1 134.2h0M73.5 134.8h0M76.3 134.1h0M71.4 127.7h0M71.3 135.2h0M70.3 118.1h0M73.9 126.9h0M68.3 133.2h0M70.7 133.4h0M73.7 129.0h0M68.4 133.8h0M78.1 137.1h0M72.8 133.2h0M71.2 132.6h0M76.0 133.2h0M71.1 130.7h0M72.9 135.8h0M73.5 128.2h0M68.4 132.2h0M73.3 134.4h0M74.7 125.9h0M71.7 126.9h0M75.5 138.1h0M73.1 135.4h0M72.2 126.2h0M73.6 122.8h0M69.7 133.8h0M77.8 135.7h0M68.9 136.0h0M70.5 133.3h0M72.3 123.8h0M74.9 136.2h0M76.7 135.9h0M71.1 130.9h0M70.6 126.1h0M69.5 136.3h0M72.0 131.2h0M71.7 138.5h0M78.1 137.9h0M72.5 131.8h0M72.3 135.5h0M71.3 121.3h0M73.7 134.8h0M67.0 136.0h0M71.2 135.1h0M69.9 129.8h0M72.0 134.7h0M68.3 132.3h0M73.7 126.1h0M70.2 137.2h0M71.3 130.9h0M72.6 139.7h0M67.8 136.0h0M71.3 131.5h0M76.6 138.3h0M69.1 138.3h0M75.0 125.5h0M72.1 121.6h0M77.3 135.2h0M72.1 137.4h0M73.3 123.1h0M72.1 120.2h0M74.0 125.2h0M78.2 135.9h0M73.8 122.5h0M73.0 138.2h0M70.3 135.8h0M70.8 134.5h0M75.7 133.3h0M71.5 133.5h0M74.6 127.7h0M75.3 134.3h0M74.7 128.9h0M71.2 124.2h0M77.2 137.2h0M77.0 134.2h0M70.9 134.4h0M75.3 129.0h0M73.2 130.7h0M75.2 132.2h0M71.0 120.0h0M68.0 132.1h0M74.7 139.8h0M74.5 135.3h0M71.1 139.1h0M71.2 125.7h0M71.6 131.8h0M70.1 133.8h0M71.6 129.8h0M74.4 134.0h0M75.3 127.0h0M75.1 124.9h0M68.8 135.1h0M73.3 126.3h0M73.4 122.7h0M74.0 128.8h0M68.1 132.8h0M68.9 135.4h0M67.1 134.7h0M75.9 138.3h0M71.9 138.9h0M72.3 139.0h0" stroke="#DF70F8" stroke-width="0.85" stroke-linecap="round" fill="none"/>
<path d="M105.0 73.5L112.0 70.0L119.0 66.0L122.0 62.5L127.0 57.0L131.0 52.0L136.0 48.0L142.0 46.0L150.0 44.7L157.0 45.5L163.0 49.5L168.0 55.5L160.0 59.0L155.0 62.0L151.0 67.0L147.0 74.0L142.0 78.0L137.0 73.0L130.0 72.0L124.0 74.0L117.0 74.5L110.0 75.0Z" fill="#C49A00" fill-opacity="0.25"/>
<path d="M137.8 67.3h0M140.1 62.6h0M147.5 58.2h0M142.0 57.7h0M137.0 66.1h0M137.2 49.3h0M148.1 63.9h0M145.0 56.5h0M146.1 52.1h0M129.5 56.6h0M152.7 58.5h0M110.6 73.6h0M158.5 57.4h0M147.9 59.7h0M144.0 47.8h0M140.0 48.1h0M136.4 57.8h0M159.4 55.9h0M150.9 48.3h0M134.6 62.1h0M145.3 70.1h0M147.8 62.4h0M133.6 55.8h0M146.0 48.2h0M118.0 71.9h0M127.0 69.1h0M128.9 70.8h0M133.0 71.3h0M149.9 64.2h0M151.4 63.6h0M140.2 63.1h0M164.6 56.0h0M136.0 49.9h0M120.4 69.1h0M149.6 61.2h0M141.1 74.0h0M131.1 63.2h0M147.0 71.1h0M146.3 55.7h0M154.6 52.2h0M133.1 60.3h0M131.7 53.1h0M124.5 66.8h0M155.5 58.1h0M143.0 56.2h0M129.4 64.5h0M137.1 68.7h0M140.7 70.2h0M159.7 53.0h0M140.9 65.4h0M130.6 59.5h0M123.7 73.0h0M137.5 49.9h0M129.3 66.6h0M117.4 69.5h0M142.8 71.5h0M138.9 68.9h0M140.6 74.5h0M126.1 69.7h0M151.2 55.5h0M152.9 55.0h0M138.0 71.8h0M154.9 51.4h0M146.2 71.8h0M130.7 59.2h0M164.0 52.2h0M131.6 66.0h0M109.2 73.8h0M139.2 52.7h0M152.7 48.7h0M143.4 52.8h0M159.0 46.9h0M134.5 56.7h0M124.4 64.1h0M127.9 57.3h0M134.1 68.6h0M137.8 70.7h0M151.9 54.9h0M137.4 52.7h0M147.2 48.0h0M150.4 61.7h0M123.0 67.3h0M137.3 66.3h0M125.8 71.5h0M142.0 58.0h0M126.3 72.1h0M111.6 74.2h0M160.5 51.4h0M133.4 57.2h0M151.9 52.7h0M137.2 70.2h0M146.2 61.0h0M136.1 72.7h0M142.2 59.6h0M144.7 56.4h0M158.0 48.1h0M165.3 53.4h0M130.8 63.4h0M136.5 57.1h0M141.8 75.0h0M135.7 63.9h0M153.1 56.1h0M140.5 67.3h0M145.0 62.9h0M144.7 71.3h0M155.3 47.7h0M133.6 66.6h0M142.2 73.6h0M141.3 50.1h0M146.5 70.1h0M147.0 65.4h0M134.9 53.3h0M140.7 49.6h0M138.9 64.0h0M145.2 61.7h0M145.1 69.5h0M131.8 65.2h0M149.9 64.9h0M133.2 64.1h0M126.5 60.0h0M142.0 77.7h0M158.8 49.9h0M163.0 52.1h0M145.2 55.4h0M133.4 57.4h0M148.4 68.6h0M167.0 54.7h0M144.5 61.1h0M147.5 49.8h0M132.0 69.6h0M162.3 51.5h0M138.9 65.1h0M137.2 60.2h0M161.7 48.7h0M138.5 59.3h0M145.3 71.7h0M144.2 67.4h0M143.6 58.1h0M153.8 59.7h0M139.2 58.2h0M132.2 53.7h0M147.6 66.0h0M111.6 74.4h0M135.7 59.5h0M125.0 71.5h0M160.4 55.2h0M132.0 53.9h0M159.0 56.6h0M141.9 73.8h0M145.0 54.5h0M149.9 55.3h0M131.5 69.0h0M133.4 52.2h0M161.2 51.7h0M144.5 73.9h0M138.5 66.4h0M138.0 65.0h0M149.5 52.7h0M152.1 46.7h0M155.9 54.4h0M154.5 61.9h0M163.5 54.0h0M150.0 58.2h0M151.2 53.2h0M154.4 47.6h0M138.9 48.9h0M141.6 72.5h0M124.9 66.2h0M161.0 57.8h0M138.5 55.9h0M112.1 72.4h0M153.7 57.6h0M161.0 55.0h0M145.8 63.6h0M138.6 57.5h0M120.1 67.3h0M128.2 63.2h0M143.1 59.2h0M138.0 57.4h0M139.9 74.9h0M132.5 61.1h0M150.7 46.0h0M162.7 51.8h0M119.2 69.1h0M157.4 51.9h0M134.5 57.4h0M130.6 66.4h0M143.6 56.7h0M125.6 69.0h0M142.3 64.8h0M146.5 65.8h0M137.3 70.6h0M137.3 67.4h0M137.2 55.8h0M147.4 52.6h0M127.4 69.3h0M144.7 49.3h0M143.9 71.0h0M153.3 51.0h0M141.5 64.7h0M154.9 48.5h0M135.6 72.2h0M140.3 59.9h0M142.6 63.1h0M114.7 74.0h0M142.5 69.3h0M152.7 58.4h0M153.9 59.3h0M124.0 61.8h0M148.0 61.9h0M142.5 64.8h0M141.2 56.0h0M145.9 65.2h0M108.3 72.8h0M151.7 50.8h0M144.3 70.2h0M142.3 47.4h0M142.1 73.0h0M145.0 52.5h0M143.8 71.9h0M138.9 70.2h0M115.3 71.4h0M126.5 64.0h0M151.6 50.2h0M145.7 65.5h0M142.9 46.2h0M154.6 47.9h0M138.3 54.1h0M150.5 66.8h0M109.2 72.2h0M162.7 52.1h0M148.1 59.1h0M134.3 58.5h0M108.7 74.3h0M153.7 53.8h0M112.2 73.9h0M155.8 45.5h0M125.5 67.6h0M144.3 51.8h0M149.4 63.6h0M137.9 55.7h0M155.5 49.8h0M114.5 69.3h0M143.1 68.4h0M135.4 66.3h0M142.6 72.3h0M138.7 65.8h0M156.0 48.4h0M129.3 67.6h0M113.6 74.6h0M145.2 52.6h0M129.0 66.9h0M151.0 55.7h0M139.0 51.1h0M153.3 62.2h0M148.3 67.3h0M151.7 50.5h0M157.4 51.1h0M140.9 66.3h0M147.1 53.4h0M135.5 54.7h0M135.1 58.1h0M139.8 59.9h0M158.4 46.9h0M152.0 55.5h0M127.4 70.1h0M132.1 53.2h0M134.1 67.2h0M142.9 73.9h0M154.9 60.1h0M145.9 49.0h0M129.9 66.4h0M161.2 57.1h0M162.2 56.3h0M153.1 48.4h0M150.0 54.5h0M133.5 53.4h0M133.0 57.8h0M147.2 64.8h0M136.0 49.8h0M145.9 56.7h0M156.5 52.5h0M149.0 45.2h0M110.7 72.5h0M127.1 57.6h0M128.7 61.4h0M132.3 58.9h0M126.7 63.3h0M119.2 74.3h0M161.1 52.7h0M129.3 62.2h0M124.5 60.2h0M152.0 64.0h0M113.4 69.5h0M134.7 49.1h0M122.9 65.3h0M129.6 60.0h0M137.9 65.8h0M134.1 66.2h0M132.4 58.4h0M142.6 57.3h0M127.0 66.6h0M116.5 71.6h0M140.0 47.7h0M120.8 73.5h0M149.2 55.9h0M146.0 54.6h0M129.6 58.4h0M134.4 61.2h0M138.4 64.7h0M131.7 59.1h0M158.9 58.7h0M159.7 54.4h0M122.8 73.9h0M135.2 62.7h0M140.2 61.7h0M146.6 57.1h0M126.4 66.9h0M135.5 55.7h0M160.7 58.1h0M144.3 51.4h0M154.8 56.0h0M150.9 50.7h0M133.6 71.5h0M150.4 49.6h0M134.1 50.2h0M136.5 52.9h0M128.5 59.1h0M141.1 46.3h0M161.5 54.1h0M144.0 68.6h0M138.4 47.3h0M154.3 45.5h0M154.1 49.3h0M131.3 52.8h0M129.6 55.1h0M147.8 62.1h0M159.5 52.7h0M128.8 59.7h0M123.9 68.9h0M145.6 66.4h0M130.8 68.9h0M138.3 48.2h0M150.9 61.0h0M129.2 59.7h0M141.8 54.1h0M129.4 57.4h0M136.2 72.6h0M162.6 55.9h0M118.3 69.2h0M125.7 70.8h0M135.8 66.6h0M132.7 59.1h0M149.0 64.8h0M130.0 54.9h0M140.0 47.5h0M146.2 68.7h0M146.7 74.1h0M142.3 50.0h0M145.7 59.6h0M133.9 53.7h0M125.5 64.0h0M126.2 66.1h0M115.3 71.8h0M137.2 70.2h0M135.0 70.0h0M154.3 45.5h0M154.8 46.1h0M138.6 55.4h0M135.4 55.9h0M133.4 54.4h0M148.4 49.1h0M117.3 74.4h0M142.8 70.4h0M140.4 63.8h0M122.6 63.5h0M147.9 58.9h0M164.2 52.4h0M142.0 56.5h0M161.8 49.4h0M140.9 46.4h0M134.1 61.9h0M151.2 47.5h0M129.7 67.6h0M121.7 72.3h0M158.7 51.0h0M115.6 72.8h0M141.0 59.9h0M154.2 51.5h0M140.4 61.7h0M149.8 51.8h0M131.9 70.5h0M132.2 59.3h0M142.5 58.1h0M158.7 57.9h0M156.6 57.8h0M131.4 56.4h0M134.6 69.5h0M115.1 71.4h0M151.6 51.4h0M129.0 55.7h0M153.8 53.3h0M136.9 50.0h0M150.6 52.0h0M128.5 59.6h0M140.1 60.9h0M155.5 48.9h0M116.9 74.2h0M139.6 56.9h0M133.9 68.7h0M122.4 66.8h0M137.4 52.3h0M125.9 59.2h0M145.6 60.9h0M121.3 63.8h0M149.0 51.3h0M142.9 74.6h0M140.2 60.7h0M130.3 61.8h0M151.8 53.2h0M155.9 55.4h0M146.1 69.0h0M131.8 62.5h0M129.4 71.6h0M147.8 52.3h0M143.3 49.3h0M159.0 48.8h0M130.0 57.9h0M154.5 48.8h0M116.0 71.5h0M152.4 61.7h0M123.7 68.3h0M156.1 57.3h0M152.1 57.7h0M164.4 52.4h0M137.1 62.8h0M125.4 62.3h0M163.3 55.3h0M137.6 59.4h0M135.5 48.7h0M139.0 65.4h0M118.4 71.2h0M157.7 51.6h0M146.5 71.9h0M150.6 47.6h0M154.1 58.1h0M139.2 70.4h0M139.6 50.1h0M139.6 74.4h0M134.5 52.3h0M130.7 68.1h0M150.1 62.8h0M146.7 69.4h0M141.9 75.2h0M144.2 72.4h0M139.8 73.7h0M145.0 49.3h0M124.2 66.6h0M151.3 54.1h0M130.0 66.8h0M114.8 72.2h0M137.4 56.1h0M152.5 47.0h0M135.8 55.1h0M145.7 49.5h0M110.6 72.0h0M136.6 72.3h0M122.4 72.7h0M129.6 68.1h0M143.3 65.6h0M106.5 73.3h0M118.8 73.0h0M145.6 70.4h0M144.6 50.5h0M144.9 59.1h0M152.0 55.3h0M135.0 57.6h0M144.9 50.4h0M135.3 67.6h0M143.3 46.3h0M162.8 51.6h0M110.2 73.7h0M149.4 65.7h0M138.1 59.6h0M145.6 62.2h0M115.4 74.0h0M149.7 46.5h0M136.1 56.8h0M136.1 53.7h0M147.7 59.7h0M138.0 65.6h0M141.5 48.5h0M140.1 66.1h0M124.8 67.9h0M141.3 48.3h0M142.0 73.1h0M156.3 54.7h0M117.0 74.4h0M159.9 52.2h0M148.7 63.0h0M144.8 53.4h0M154.3 60.0h0M142.3 72.7h0M120.0 69.7h0M158.7 53.8h0M150.1 63.6h0M124.1 73.3h0M139.2 60.7h0M122.0 71.5h0M145.0 70.1h0M161.9 56.5h0M151.2 49.5h0M128.6 64.9h0M163.7 55.2h0M138.1 62.2h0M142.0 66.7h0M144.0 63.7h0M149.4 66.5h0M143.3 48.4h0M151.0 46.1h0M135.0 55.1h0M149.8 55.4h0M127.7 61.8h0M112.1 72.8h0M125.5 58.8h0M141.5 68.5h0M143.9 67.5h0M118.6 72.9h0M132.9 60.1h0M144.2 65.6h0M157.4 50.5h0M148.7 59.9h0M158.2 51.9h0M143.4 66.5h0M140.4 49.9h0M152.8 50.4h0M143.2 48.7h0M156.7 50.3h0M130.0 64.3h0M119.6 73.4h0M135.7 60.6h0M145.8 64.9h0M159.3 54.9h0M147.7 65.0h0M115.6 69.0h0M153.4 62.2h0M147.5 51.0h0M143.0 65.8h0M147.9 51.8h0M160.5 51.4h0M130.8 63.0h0M148.8 54.7h0M142.7 66.7h0M134.6 70.8h0M112.1 73.4h0M144.5 71.2h0M134.4 60.3h0M120.6 66.2h0M140.8 46.5h0M155.0 59.4h0M121.5 67.4h0M163.8 56.9h0M151.1 49.5h0M151.5 47.3h0M119.8 72.4h0M143.8 57.9h0M140.3 72.4h0M146.4 72.8h0M157.0 50.7h0M123.5 72.4h0M148.1 68.3h0M129.3 67.8h0M127.6 67.9h0M153.6 60.5h0M116.1 67.7h0M129.7 71.9h0M119.6 72.9h0M129.2 64.7h0M135.2 60.4h0M152.9 45.6h0M144.6 65.7h0M135.9 69.3h0M141.0 70.4h0M141.8 75.8h0M161.2 50.5h0M144.6 57.8h0M146.3 46.2h0M118.2 67.2h0M118.0 69.4h0M140.5 69.3h0M143.6 64.8h0M138.9 47.4h0M146.5 61.4h0M147.7 71.3h0M119.1 72.7h0M128.9 68.2h0M140.3 48.0h0M130.9 57.2h0M133.2 53.5h0M142.4 56.8h0M140.4 57.2h0M133.5 72.3h0M141.9 56.7h0M152.6 53.6h0M152.4 52.2h0M147.0 47.1h0M108.6 72.6h0M142.7 59.9h0M132.3 65.6h0M153.0 57.9h0M130.8 71.9h0M123.6 63.5h0M141.5 61.4h0M130.8 52.6h0M136.2 55.6h0M126.9 72.3h0M154.4 47.6h0M140.8 50.2h0M166.1 56.1h0M139.0 54.0h0M145.4 64.5h0M140.4 63.7h0M128.3 69.4h0M146.5 55.6h0M108.9 73.9h0M135.6 54.0h0M138.0 59.0h0M105.9 73.5h0M150.7 64.3h0M139.4 59.3h0M158.3 49.8h0M142.0 73.8h0M131.1 64.3h0M137.4 71.1h0M126.6 57.8h0M145.1 52.8h0M123.9 72.5h0M127.9 64.4h0M145.6 53.2h0M141.5 49.4h0M161.9 52.5h0M132.4 55.0h0M156.7 55.0h0M144.8 61.8h0M156.3 51.3h0M144.4 54.2h0M141.9 64.5h0M166.6 54.6h0M130.2 69.6h0M141.4 66.6h0M115.1 71.7h0M147.3 55.3h0M137.1 60.2h0M128.6 65.0h0M165.2 54.8h0M134.0 58.2h0M149.2 60.8h0M154.3 59.3h0M147.6 48.6h0M130.0 69.8h0M152.5 53.1h0M148.8 51.8h0M148.0 49.8h0M144.4 49.2h0M142.4 75.9h0M131.8 71.0h0M139.5 63.7h0M140.4 67.9h0M140.4 72.9h0M136.1 72.2h0M150.4 47.7h0M131.6 67.5h0M147.5 53.0h0M153.4 63.5h0M143.6 74.3h0M133.5 68.6h0M142.5 47.9h0M134.9 57.9h0M126.9 71.7h0M114.9 68.7h0M145.6 57.1h0M142.8 47.3h0M109.0 73.1h0M151.2 52.5h0M136.3 68.3h0M148.6 50.9h0M134.9 53.8h0M142.3 57.5h0M152.6 47.0h0M150.3 61.5h0M137.0 55.8h0M145.2 73.9h0M149.2 61.1h0M145.9 73.2h0M150.4 59.5h0M139.9 61.4h0M139.8 60.6h0M145.0 57.4h0M147.1 61.6h0M132.8 63.5h0M135.6 56.9h0M133.1 62.3h0M154.9 50.5h0M147.1 68.3h0M129.3 66.4h0M162.2 51.4h0M140.5 61.2h0M114.4 69.1h0M142.1 74.3h0M140.9 65.1h0M146.3 54.2h0M147.8 61.4h0M136.1 60.0h0M160.2 52.8h0M147.0 49.6h0M137.1 48.9h0M164.3 54.8h0M124.9 68.6h0M117.6 73.1h0M146.4 66.1h0M136.8 54.3h0M134.8 56.9h0M126.5 59.2h0M137.9 58.0h0M154.7 56.7h0M138.3 58.6h0M107.7 72.2h0M137.4 51.3h0M135.8 62.6h0M134.3 68.0h0M130.4 56.1h0M126.5 61.6h0M131.8 52.3h0M160.5 54.5h0M138.9 74.0h0M112.1 74.0h0M161.5 55.3h0M154.5 59.5h0M124.6 65.7h0M148.4 66.6h0M132.6 54.2h0M130.3 57.5h0M149.1 51.1h0M147.5 51.0h0M124.7 64.0h0M142.8 60.7h0M121.3 64.2h0M150.0 49.2h0M142.5 47.0h0M120.8 70.2h0M122.2 73.7h0M128.4 69.1h0M141.6 55.7h0M144.9 53.4h0M144.1 49.2h0M148.2 65.0h0M154.0 46.6h0M156.8 58.7h0M141.5 73.5h0M159.7 54.3h0M123.0 70.4h0M138.7 55.3h0M147.1 71.3h0M159.2 56.8h0M126.3 67.6h0M108.0 72.9h0M125.4 70.5h0M118.2 71.3h0M147.7 70.9h0M145.4 63.2h0M157.2 57.3h0M135.5 63.7h0M144.0 72.7h0M156.4 45.6h0M148.4 50.5h0M140.0 71.5h0M135.2 54.7h0M125.4 65.6h0M137.1 54.7h0M143.9 70.5h0M125.4 67.2h0M157.4 48.6h0M129.8 61.5h0M124.7 69.0h0M105.7 73.6h0M142.2 62.5h0M121.7 68.9h0M123.8 67.5h0M150.7 64.1h0M151.7 60.3h0M136.2 57.5h0M142.2 63.9h0M142.7 75.4h0M128.8 55.8h0M124.5 60.7h0M122.6 63.0h0M145.2 51.3h0M153.4 61.9h0M125.6 69.9h0M128.4 71.6h0M144.0 70.2h0M149.2 53.7h0M143.3 62.4h0M118.3 71.7h0M129.0 58.8h0M111.2 73.1h0M158.9 49.1h0M131.6 64.5h0M126.5 66.5h0M120.8 70.2h0M125.8 61.4h0M142.6 51.2h0M155.8 53.1h0M145.2 48.8h0M147.6 66.3h0M159.2 47.8h0M139.4 60.1h0M137.4 60.9h0M158.1 55.4h0M139.9 51.2h0M149.6 61.2h0M139.5 74.4h0M123.1 68.8h0M120.0 73.4h0M124.9 67.1h0M139.1 47.3h0M161.5 53.9h0M147.6 66.7h0M152.6 47.1h0M121.6 69.5h0M156.5 55.4h0M126.7 60.9h0M136.4 52.3h0M139.0 67.3h0M157.6 47.3h0M143.4 62.3h0M153.5 61.5h0M124.2 62.1h0M131.4 70.1h0M128.6 61.6h0M158.2 47.9h0M150.9 49.5h0M154.3 59.7h0M160.2 57.8h0M145.1 69.7h0M142.0 77.1h0M147.9 66.1h0M154.5 49.1h0M139.1 72.5h0M153.1 48.6h0M142.5 68.6h0M141.8 53.0h0M160.5 49.1h0M148.0 56.8h0M122.3 65.2h0M135.6 63.2h0M148.2 50.2h0M142.0 46.7h0M144.4 67.4h0M130.0 68.0h0M136.8 68.2h0M126.9 64.5h0M114.1 71.6h0M132.2 54.0h0M137.9 69.4h0M121.2 68.2h0M143.0 71.9h0M142.7 53.5h0M141.3 69.0h0M132.3 71.8h0M127.4 72.5h0M145.1 56.6h0M163.9 55.5h0M140.3 59.0h0M149.1 70.3h0M133.9 70.9h0M129.3 58.8h0M138.4 72.9h0M136.5 59.6h0M119.3 72.6h0M162.4 55.9h0M147.6 63.1h0M126.4 69.8h0M121.7 70.3h0M140.3 70.7h0M130.4 70.7h0M135.3 63.2h0M111.9 70.2h0M151.2 53.0h0M149.8 53.3h0M149.5 53.8h0M130.7 70.2h0M136.9 49.1h0M149.2 63.5h0M133.9 70.8h0M149.8 64.9h0M144.2 64.8h0M136.4 61.5h0M164.3 52.6h0M143.7 49.0h0M139.4 60.6h0M124.3 64.7h0M133.0 68.4h0M108.4 72.2h0M139.9 65.4h0M136.7 61.7h0M139.7 72.1h0M120.8 65.1h0M134.3 60.2h0M159.0 50.0h0M118.2 70.9h0M123.6 65.0h0M110.7 74.8h0M132.5 70.0h0M146.7 55.9h0M123.1 65.9h0M144.8 75.3h0M143.1 67.0h0M144.9 50.2h0M123.0 74.0h0M150.9 61.4h0M143.5 69.0h0M156.3 59.6h0M149.9 58.1h0M139.4 68.8h0M133.4 66.3h0M121.1 67.7h0M149.7 65.4h0M135.9 48.8h0M155.6 54.7h0M147.4 72.1h0M146.3 45.6h0M138.9 49.7h0M123.1 73.3h0M151.1 56.5h0M137.3 60.3h0M140.8 54.2h0M160.0 49.5h0M149.5 65.4h0M153.7 51.1h0M158.4 57.8h0M138.9 59.9h0M123.5 72.2h0M158.3 56.7h0M135.0 71.4h0M116.6 68.2h0M157.8 46.3h0M154.7 45.8h0M144.1 50.6h0M142.8 49.6h0M151.6 59.1h0M132.7 64.8h0M112.8 73.3h0M151.6 62.3h0M138.2 66.3h0M156.0 52.8h0M144.8 70.9h0M145.8 61.1h0M145.5 62.2h0M142.2 65.4h0M142.3 50.0h0M142.5 50.9h0M132.7 55.8h0M151.6 52.8h0M153.6 61.8h0M133.5 50.7h0M145.0 55.5h0M119.9 73.5h0M154.2 50.6h0M128.7 69.6h0M139.1 71.9h0M126.4 60.4h0M141.1 66.3h0M149.4 60.8h0M137.9 57.9h0M150.8 52.6h0M155.5 52.2h0M131.6 70.9h0M142.3 60.3h0M161.4 51.6h0M128.0 72.3h0M152.5 64.7h0M162.2 51.6h0M158.1 51.1h0M137.8 51.2h0M146.5 71.9h0M135.9 69.2h0M148.4 69.9h0M119.2 69.2h0M145.5 67.8h0M158.2 53.1h0M117.6 70.5h0M138.0 69.5h0M112.4 71.2h0M136.8 60.6h0M116.9 74.1h0M116.0 69.1h0M149.3 69.3h0M116.9 68.2h0M153.2 59.0h0M163.3 53.1h0M124.2 68.4h0M138.4 55.3h0M146.2 53.5h0M164.4 56.8h0M144.9 50.0h0M154.5 55.3h0M140.3 64.0h0M116.6 73.0h0M138.4 59.7h0M128.1 57.4h0M148.3 71.0h0M141.4 64.5h0M126.4 67.2h0M163.6 55.1h0M121.8 67.1h0M138.6 64.7h0M125.6 62.5h0M124.5 73.1h0M145.4 51.6h0M153.1 49.2h0M137.3 54.8h0M161.3 53.6h0M121.7 73.5h0M137.8 50.2h0M128.9 57.9h0M147.6 65.7h0M137.0 60.9h0M152.7 47.1h0M144.3 74.4h0M157.3 59.2h0M144.0 59.2h0M126.7 61.9h0M164.2 54.2h0M157.0 47.8h0M130.1 62.6h0M122.1 67.1h0M124.8 59.7h0M134.3 67.8h0M162.3 50.6h0M151.1 53.0h0M155.8 60.9h0M147.9 71.0h0M114.4 70.3h0M143.7 61.8h0M138.6 59.3h0M132.6 69.1h0M126.1 63.8h0M141.3 62.7h0M133.9 62.9h0M139.1 61.6h0M157.7 58.8h0M135.9 51.9h0M117.5 69.0h0M109.6 73.7h0M143.7 63.7h0M135.5 59.2h0M165.8 53.4h0M149.2 53.2h0M123.9 68.4h0M122.9 73.6h0M132.2 51.6h0M143.9 76.1h0M140.4 71.3h0M145.3 47.6h0M155.7 59.6h0M113.8 73.8h0M136.9 49.6h0M153.7 56.8h0M143.3 57.0h0M127.7 58.7h0M148.0 53.3h0M135.9 63.8h0M148.7 69.0h0M128.9 60.0h0M134.4 62.6h0M140.2 71.3h0M133.5 63.0h0M149.6 64.8h0M154.4 52.6h0M144.8 74.1h0M137.7 66.8h0M131.8 61.0h0M146.0 66.2h0M146.8 66.0h0M143.4 76.8h0M154.8 54.9h0M138.8 73.3h0M139.1 54.2h0M166.0 53.6h0M135.2 63.5h0M146.8 65.9h0M154.6 58.2h0M117.1 74.2h0M149.2 52.2h0M133.0 60.9h0M113.1 69.4h0M148.9 46.4h0M145.9 52.5h0M141.6 69.5h0M147.1 63.7h0M119.3 72.2h0M149.7 47.4h0M153.2 63.2h0M158.2 49.4h0M152.2 45.1h0M147.9 68.0h0M116.9 68.5h0M133.3 56.4h0M122.1 72.9h0M139.4 53.2h0M129.8 62.5h0M122.9 71.6h0M136.0 49.7h0M142.9 72.2h0M149.6 69.3h0M135.9 53.4h0M152.3 61.7h0M162.5 52.4h0M152.8 64.1h0M132.9 57.0h0M131.9 56.6h0M149.8 66.4h0M143.0 53.3h0M157.3 47.9h0M137.5 53.4h0M152.1 56.8h0M150.8 63.4h0M135.7 70.9h0M123.6 63.7h0M134.8 65.9h0M127.5 62.0h0M116.2 68.6h0M114.7 68.7h0M154.5 47.2h0M151.6 54.5h0M134.5 59.9h0M137.5 72.2h0M150.8 61.4h0M148.9 54.7h0M136.0 58.0h0M121.0 71.2h0M140.1 74.9h0M141.4 49.1h0M149.2 48.3h0M141.6 55.2h0M125.0 67.4h0M107.1 73.0h0M137.7 58.5h0M142.0 48.3h0M138.2 50.2h0M134.9 67.7h0M117.8 69.0h0M153.1 50.5h0M135.9 52.1h0M133.1 60.1h0M131.7 72.1h0M120.2 66.9h0M150.3 53.9h0M137.9 68.5h0M150.2 65.2h0M145.4 74.8h0M149.2 58.4h0M143.2 73.1h0M140.8 67.3h0M148.0 64.9h0M152.3 58.8h0M114.7 72.9h0M128.8 70.4h0M138.2 62.8h0M144.9 47.8h0M142.5 66.9h0M166.8 54.8h0M151.9 51.4h0M138.1 70.6h0M165.0 54.7h0M110.8 70.9h0M146.6 55.8h0M139.8 74.1h0M161.0 50.4h0M150.0 49.8h0M132.0 68.9h0M135.4 59.9h0M147.0 70.6h0M144.4 49.5h0M136.5 48.2h0M128.6 58.3h0M153.9 51.5h0M140.5 56.2h0M119.8 67.7h0M164.4 56.5h0M145.5 48.7h0M141.9 62.6h0M135.2 53.9h0M164.3 56.3h0M151.7 55.3h0M122.6 65.9h0M146.4 58.3h0M125.2 60.5h0M145.6 48.6h0M135.4 49.5h0M154.8 52.2h0M116.7 74.3h0M161.3 53.1h0M141.9 58.9h0M128.2 57.1h0M130.5 58.9h0M140.7 59.7h0M156.3 46.9h0M148.3 49.3h0M166.5 53.7h0M115.5 71.7h0M109.6 72.2h0M121.5 64.4h0M157.6 57.1h0M154.9 59.3h0M136.5 64.2h0M148.7 62.6h0M122.9 73.8h0M153.3 57.4h0M117.3 70.5h0M144.8 48.5h0M140.0 68.3h0M147.3 61.7h0M149.6 48.2h0M143.4 73.4h0M127.2 67.9h0M142.9 62.5h0M145.8 68.6h0M152.7 47.7h0M137.4 71.5h0M150.5 65.1h0M152.2 52.4h0M130.4 67.6h0M132.2 67.9h0M148.9 56.4h0M141.9 52.0h0M133.4 56.0h0M155.4 51.8h0M138.7 66.8h0M144.4 72.6h0M139.3 75.1h0M160.5 53.8h0M135.8 67.3h0M136.2 59.2h0M146.3 48.9h0M121.2 72.7h0M140.8 72.8h0M142.6 61.1h0M146.6 70.6h0M138.8 53.7h0M132.6 53.1h0M133.2 71.1h0M158.5 57.2h0M144.0 73.2h0M144.6 59.4h0M132.1 54.1h0M133.3 60.5h0M148.9 58.2h0M116.9 67.4h0M161.1 52.4h0M148.4 45.3h0M145.2 49.0h0M120.4 64.9h0M147.7 72.2h0M142.5 54.2h0M146.6 58.7h0M143.3 56.3h0M151.6 49.5h0M130.3 65.2h0M145.5 69.4h0M110.1 71.0h0M159.4 55.6h0M161.1 48.5h0M153.1 62.1h0M150.7 55.7h0M135.6 68.5h0M154.9 57.5h0M136.9 56.2h0M140.6 74.8h0M122.3 63.5h0M131.5 68.6h0M147.2 63.3h0M125.9 58.4h0M150.2 63.3h0M117.7 73.9h0M143.8 52.4h0M142.4 48.5h0M159.0 47.4h0M150.4 61.3h0M133.3 68.2h0M112.4 74.5h0M139.4 57.2h0M145.5 53.6h0M153.7 45.4h0M161.1 51.7h0M157.3 46.9h0M149.3 60.8h0M151.3 52.2h0M146.9 62.3h0M135.8 69.9h0M134.6 63.1h0M136.7 52.1h0M150.4 49.2h0M142.0 59.1h0M154.9 46.8h0M126.0 70.9h0M127.6 62.8h0M147.7 55.6h0M130.4 71.6h0M143.6 69.9h0M127.4 67.1h0M118.3 73.2h0M115.1 72.8h0M150.5 63.0h0M127.4 66.9h0M152.1 49.3h0M136.4 55.4h0M155.3 59.8h0M137.3 69.4h0M142.4 76.9h0M145.1 75.0h0M158.5 51.1h0M145.1 49.3h0M153.9 62.5h0M119.6 73.7h0M145.0 48.5h0M150.0 62.9h0M131.2 62.1h0M161.3 49.2h0M143.1 70.7h0M155.2 59.5h0M135.8 51.8h0M157.3 56.2h0M164.4 51.8h0M147.3 45.3h0M130.3 53.8h0M143.8 50.4h0M147.4 62.4h0M140.5 55.6h0M139.7 53.0h0M139.1 73.0h0M139.9 65.0h0M137.2 72.3h0M148.2 68.1h0M164.9 53.8h0M139.7 65.6h0M118.6 73.0h0M142.6 57.5h0M140.0 63.6h0M138.1 58.6h0M146.9 66.9h0M142.5 55.3h0M126.9 68.0h0M135.4 60.6h0M137.7 72.7h0M160.0 56.9h0M160.8 48.8h0M165.0 53.3h0M150.6 45.0h0M149.7 65.9h0M147.6 64.2h0M141.7 50.6h0M133.5 64.9h0M133.5 65.0h0M141.1 58.5h0M137.8 65.3h0M140.7 51.3h0M155.4 59.7h0M152.3 51.0h0M138.8 60.7h0M137.1 53.8h0M158.9 52.3h0M141.4 47.1h0M131.2 57.9h0M151.6 58.9h0M156.7 46.2h0M146.6 66.0h0M131.1 60.1h0M143.7 71.5h0M113.6 71.6h0M155.0 55.7h0M128.3 55.7h0M159.0 50.5h0M132.7 59.8h0M147.9 47.6h0M139.5 69.2h0M146.9 57.0h0M115.8 71.3h0M134.8 59.5h0M150.3 51.3h0M161.2 57.3h0M159.5 52.2h0M148.2 61.5h0M152.9 59.5h0M139.1 63.7h0M136.7 57.6h0M148.1 70.6h0M142.5 57.1h0M154.3 61.2h0M133.9 71.4h0M153.2 52.0h0M150.4 66.9h0M141.1 61.5h0M120.0 67.8h0M138.3 71.2h0M117.6 69.9h0M142.7 69.4h0M161.7 57.3h0M144.0 58.5h0M124.4 60.4h0M123.7 67.4h0M132.2 63.4h0M162.3 55.2h0M151.4 64.9h0M135.6 50.7h0M148.8 54.5h0M123.3 69.5h0M153.9 47.6h0M153.5 48.4h0M124.5 60.2h0M142.5 61.5h0M135.0 57.2h0M111.2 73.6h0M159.9 51.2h0M139.6 57.6h0M126.4 65.0h0M118.9 68.5h0M150.4 59.5h0M139.5 57.5h0M128.7 56.8h0M148.6 48.4h0M130.6 54.0h0M137.4 47.6h0M133.4 70.0h0M159.1 53.0h0M122.4 65.7h0M157.2 58.6h0M148.1 46.9h0M142.0 63.8h0M152.5 56.7h0M119.2 72.6h0M141.7 76.8h0M133.0 66.7h0M131.7 71.6h0M123.7 72.4h0M132.5 55.7h0M138.3 63.6h0M126.7 65.6h0M143.0 52.6h0M160.6 51.2h0M145.7 63.7h0M145.2 62.7h0M147.0 62.0h0M142.7 63.9h0M153.7 48.9h0M152.1 46.0h0M142.7 54.5h0M126.5 64.2h0M148.5 54.5h0M155.3 46.4h0M148.7 69.0h0M123.7 60.9h0M127.7 66.0h0M139.5 62.7h0M141.8 75.7h0M133.4 60.1h0M134.4 60.9h0M146.3 47.5h0M158.8 49.5h0M150.4 56.0h0M142.9 66.8h0M144.8 54.1h0M130.3 67.1h0M124.2 61.3h0M130.3 69.0h0M145.1 57.7h0M145.0 62.0h0M127.7 56.7h0M115.8 71.5h0M117.2 67.3h0M133.8 51.6h0M150.4 60.8h0M127.5 65.2h0M160.2 56.4h0M144.8 67.9h0M165.3 56.7h0M151.3 55.8h0M135.0 63.9h0M129.5 56.8h0M164.9 55.9h0M122.2 72.2h0M139.3 70.0h0M151.9 47.2h0M159.1 56.3h0M148.1 63.2h0M132.4 71.1h0M137.3 70.4h0M163.9 51.2h0M151.0 57.8h0M151.1 60.5h0M141.2 59.4h0M128.1 65.3h0M149.7 47.6h0M157.0 53.2h0M140.9 62.1h0M130.1 64.8h0M142.5 67.5h0M119.1 73.8h0M144.0 48.4h0M138.7 71.1h0M130.8 62.0h0M153.2 55.9h0M150.6 53.9h0M142.5 74.2h0M148.1 57.5h0M140.2 65.4h0M130.1 62.3h0M150.6 46.6h0M122.1 64.6h0M133.2 64.5h0M134.9 56.9h0M126.3 65.6h0M161.3 53.7h0M146.2 71.4h0M141.7 54.9h0M138.7 61.5h0M131.2 70.9h0M140.2 75.6h0M128.7 69.9h0M148.7 67.7h0M148.7 56.1h0M114.3 74.6h0M156.9 55.2h0M138.8 58.7h0M151.8 64.5h0M133.2 66.1h0M150.5 56.2h0M135.7 50.6h0M121.9 71.8h0M131.5 67.4h0M142.4 60.4h0M142.2 61.8h0M146.6 63.3h0M127.2 56.9h0M142.3 77.1h0M143.8 49.3h0M127.1 60.7h0M127.9 58.4h0M141.8 76.3h0M139.2 64.3h0M132.7 59.9h0M138.4 58.5h0M123.9 72.6h0M164.1 54.3h0" stroke="#C49A00" stroke-width="0.85" stroke-linecap="round" fill="none"/>
<path d="M168.0 55.5L173.0 60.5L178.0 64.0L181.5 70.0L181.0 77.0L175.0 82.5L165.0 86.0L154.0 88.0L145.0 90.5L140.0 94.5L136.0 95.0L139.0 90.0L141.0 83.0L146.0 76.0L150.0 69.0L154.0 63.0L159.0 59.5Z" fill="#F8766D" fill-opacity="0.25"/>
<path d="M151.6 83.2h0M174.6 71.8h0M153.3 74.7h0M175.4 71.2h0M179.0 66.8h0M179.9 75.9h0M165.4 83.0h0M139.4 90.8h0M170.8 81.6h0M168.0 69.4h0M150.7 88.7h0M141.5 86.3h0M159.1 75.9h0M142.2 92.1h0M156.5 86.9h0M143.0 85.5h0M156.6 66.1h0M157.6 76.1h0M159.5 59.6h0M152.4 76.7h0M160.9 83.7h0M158.0 63.1h0M153.1 79.3h0M159.3 80.5h0M158.7 70.4h0M161.2 62.9h0M169.9 66.9h0M167.5 59.0h0M155.1 84.0h0M147.1 77.9h0M152.9 80.0h0M165.9 64.2h0M170.1 83.9h0M155.6 72.7h0M153.1 83.8h0M149.1 86.9h0M171.7 68.5h0M170.7 80.3h0M164.4 60.8h0M179.2 72.9h0M172.4 67.7h0M148.8 78.0h0M149.5 73.1h0M157.2 63.2h0M177.2 66.9h0M168.8 67.2h0M181.1 70.1h0M170.6 61.4h0M152.1 72.2h0M144.4 79.8h0M163.4 75.6h0M159.6 76.9h0M149.7 72.1h0M168.7 60.7h0M139.7 88.9h0M155.8 83.8h0M161.4 73.0h0M145.5 88.8h0M165.3 72.2h0M171.4 69.3h0M147.3 85.1h0M152.8 85.6h0M170.0 81.2h0M150.3 76.1h0M168.3 78.7h0M158.2 61.0h0M152.1 81.3h0M173.6 61.2h0M171.7 66.1h0M152.0 87.6h0M173.9 70.5h0M180.6 76.6h0M147.6 86.6h0M164.9 73.3h0M156.4 72.9h0M179.8 75.3h0M141.9 83.6h0M161.6 79.2h0M174.4 73.3h0M156.3 84.5h0M169.4 84.1h0M161.0 68.3h0M152.6 72.7h0M173.9 66.2h0M164.5 61.2h0M142.1 91.1h0M165.7 83.2h0M173.8 63.9h0M157.3 77.7h0M154.2 75.0h0M167.7 56.8h0M178.1 65.2h0M165.3 74.8h0M167.6 70.9h0M150.2 87.1h0M165.5 83.3h0M174.2 70.5h0M169.1 67.5h0M164.5 60.0h0M162.4 82.0h0M158.7 76.2h0M168.2 69.6h0M169.9 76.5h0M166.5 57.6h0M174.8 66.6h0M170.7 81.8h0M147.3 75.1h0M155.0 70.5h0M165.5 83.5h0M143.6 87.0h0M162.6 61.4h0M174.5 62.2h0M159.2 64.0h0M169.9 61.4h0M159.6 78.2h0M160.3 76.1h0M156.0 82.5h0M168.1 59.3h0M152.8 73.1h0M165.9 85.5h0M166.3 67.2h0M156.3 72.8h0M147.0 75.7h0M172.2 77.6h0M148.5 84.6h0M145.9 87.7h0M163.1 66.5h0M145.1 89.5h0M152.9 82.4h0M177.2 69.0h0M159.1 59.8h0M138.7 91.9h0M178.3 67.0h0M167.4 61.6h0M171.2 68.4h0M152.6 86.8h0M161.3 61.8h0M163.3 83.5h0M157.1 63.4h0M164.2 85.7h0M159.2 81.0h0M156.0 70.6h0M169.1 65.0h0M152.7 75.5h0M154.8 82.8h0M165.2 65.8h0M163.5 76.3h0M159.8 76.9h0M173.6 67.2h0M154.2 63.6h0M148.7 81.8h0M138.8 92.3h0M157.0 76.7h0M146.9 83.0h0M145.5 85.9h0M174.6 66.4h0M147.8 84.6h0M151.3 74.4h0M151.5 85.3h0M156.4 66.9h0M162.9 74.3h0M158.3 73.6h0M139.9 90.0h0M169.0 84.2h0M166.2 79.8h0M145.8 79.8h0M142.8 83.6h0M142.3 91.1h0M144.8 85.1h0M174.3 70.2h0M163.2 69.0h0M161.2 63.6h0M161.0 59.4h0M152.1 79.8h0M161.4 78.2h0M170.8 61.7h0M153.4 79.0h0M154.5 85.4h0M150.4 70.3h0M149.7 87.2h0M166.6 82.9h0M160.9 68.9h0M144.6 90.5h0M154.4 78.5h0M174.0 69.5h0M162.1 85.8h0M172.5 60.0h0M153.3 64.3h0M162.2 66.8h0M158.6 83.6h0M164.1 57.3h0M158.4 75.1h0M145.0 87.6h0M166.3 58.1h0M155.2 62.7h0M171.9 64.4h0M163.1 67.9h0M180.0 67.7h0M169.9 58.1h0M154.7 78.9h0M160.5 69.1h0M167.7 76.9h0M153.6 87.1h0M153.8 71.0h0M139.4 90.2h0M140.1 93.0h0M162.6 78.3h0M158.3 68.8h0M165.7 81.8h0M150.5 82.7h0M156.9 61.9h0M149.4 74.7h0M156.3 81.0h0M164.3 85.8h0M157.3 64.7h0M156.4 84.3h0M157.6 80.3h0M162.7 74.2h0M161.2 74.0h0M177.2 72.2h0M152.8 86.9h0M139.3 93.9h0M180.1 72.5h0M163.5 79.8h0M173.1 61.8h0M160.9 66.9h0M152.9 79.2h0M140.8 86.8h0M140.3 94.0h0M160.8 80.6h0M151.9 76.4h0M162.9 82.5h0M171.6 60.0h0M157.5 60.9h0M163.4 72.7h0M142.4 84.7h0M142.9 84.3h0M157.4 67.2h0M173.8 77.3h0M165.9 65.0h0M154.6 71.8h0M169.0 80.1h0M173.8 79.9h0M167.1 65.8h0M173.2 61.1h0M169.7 79.3h0M171.1 72.4h0M175.2 73.0h0M179.7 73.8h0M177.8 64.4h0M151.2 74.3h0M154.7 84.8h0M175.4 76.1h0M163.3 68.2h0M144.4 86.9h0M165.7 80.3h0M172.7 65.2h0M160.2 71.8h0M160.4 66.4h0M154.7 83.0h0M159.7 73.7h0M166.5 57.5h0M152.8 71.0h0M146.1 83.0h0M172.0 67.3h0M158.6 84.9h0M143.9 91.1h0M152.9 70.2h0M167.4 80.8h0M162.7 58.1h0M152.9 69.2h0M149.3 73.0h0M154.5 68.1h0M156.8 67.1h0M153.2 80.9h0M156.9 86.0h0M173.8 82.7h0M162.3 79.7h0M167.8 55.7h0M142.0 82.1h0M156.3 72.0h0M150.1 84.1h0M163.1 76.5h0M158.0 67.6h0M168.2 84.0h0M172.1 69.1h0M167.3 65.9h0M180.8 73.1h0M169.6 67.8h0M171.2 67.6h0M173.1 81.2h0M160.1 75.4h0M170.3 73.8h0M171.9 68.3h0M153.1 82.0h0M156.4 70.9h0M176.6 63.1h0M162.8 75.3h0M159.7 83.2h0M157.1 67.5h0M170.8 63.9h0M170.4 76.5h0M159.7 73.8h0M149.1 83.7h0M173.0 64.1h0M171.5 76.6h0M145.4 77.0h0M155.2 76.6h0M155.0 81.0h0M161.6 81.5h0M160.3 69.2h0M155.0 86.9h0M159.2 86.6h0M165.6 60.7h0M159.6 74.3h0M160.4 76.4h0M166.0 73.8h0M177.8 79.9h0M157.2 71.7h0M149.3 73.7h0M166.7 62.6h0M149.9 84.2h0M175.6 63.0h0M171.8 67.8h0M158.7 80.3h0M163.7 66.5h0M162.2 68.3h0M176.2 65.7h0M167.4 63.5h0M144.4 88.9h0M152.0 81.3h0M147.6 75.8h0M149.4 77.6h0M150.1 87.2h0M156.9 82.7h0M178.7 77.7h0M151.4 67.5h0M153.8 70.1h0M152.4 79.6h0M145.5 77.6h0M149.4 87.2h0M163.2 85.7h0M173.5 68.6h0M157.1 75.4h0M153.3 67.4h0M150.8 82.7h0M155.3 72.4h0M169.5 76.4h0M155.6 85.8h0M164.7 85.0h0M166.2 84.1h0M161.8 79.2h0M158.0 62.4h0M145.8 84.7h0M161.9 71.8h0M169.2 58.9h0M163.0 79.3h0M149.9 81.5h0M173.8 69.4h0M165.5 63.8h0M151.0 80.5h0M146.8 78.6h0M177.9 72.7h0M158.8 74.8h0M147.0 85.0h0M176.2 71.8h0M153.5 72.1h0M167.3 80.8h0M147.8 73.9h0M147.6 73.9h0M162.4 79.5h0M159.9 78.9h0M160.7 82.0h0M150.5 87.8h0M175.7 75.6h0M159.7 61.1h0M169.8 58.0h0M154.8 66.1h0M176.2 78.6h0M163.8 75.7h0M150.6 76.1h0M149.2 72.4h0M173.8 68.7h0M176.4 70.9h0M145.5 84.9h0M158.0 68.7h0M178.6 68.2h0M171.2 67.5h0M178.0 70.6h0M169.2 63.2h0M145.5 77.0h0M161.8 75.5h0M176.6 75.7h0M160.6 80.6h0M153.2 68.6h0M150.9 83.9h0M155.4 66.7h0M165.7 71.6h0M163.0 64.4h0M155.8 69.6h0M154.2 67.4h0M179.5 71.0h0M178.4 65.8h0M167.3 57.4h0M162.3 60.0h0M161.3 81.9h0M150.7 70.7h0M164.3 75.1h0M151.9 72.2h0M158.5 69.2h0M164.9 58.1h0M159.3 72.8h0M167.7 74.2h0M176.5 77.7h0M169.5 61.8h0M159.7 61.6h0M155.6 84.4h0M156.1 81.0h0M176.9 74.1h0M155.7 73.1h0M145.0 90.1h0M162.8 75.6h0M152.1 67.2h0M149.2 71.9h0M166.5 70.9h0M162.7 63.4h0M165.7 78.7h0M158.4 66.4h0M146.8 80.2h0M153.2 64.8h0M158.8 62.9h0M169.6 79.8h0M171.2 76.9h0M157.6 67.3h0M154.8 82.6h0M168.2 63.7h0M145.1 81.2h0M156.1 80.3h0M139.2 93.4h0M170.2 64.4h0M172.1 76.7h0M148.7 75.2h0M174.2 62.1h0M155.3 65.2h0M162.9 78.1h0M146.6 84.7h0M173.3 77.0h0M146.7 78.7h0M164.9 58.5h0M141.6 84.4h0M168.4 72.2h0M160.0 77.4h0M142.0 92.3h0M174.4 62.9h0M164.7 78.6h0M140.4 85.7h0M175.0 80.8h0M162.5 82.0h0M179.4 66.5h0M161.9 62.9h0M157.5 63.2h0M156.0 64.4h0M143.5 79.8h0M153.0 77.8h0M157.3 66.8h0M156.7 62.2h0M152.3 67.3h0M149.2 86.7h0M142.5 81.0h0M163.0 65.6h0M180.1 75.1h0M158.3 62.7h0M167.9 73.2h0M152.5 69.0h0M165.5 72.4h0M159.5 71.1h0M171.7 60.4h0M149.3 80.7h0M171.9 68.9h0M169.0 72.5h0M151.7 71.9h0M146.9 77.4h0M172.8 78.2h0M158.0 72.0h0M174.1 68.3h0M169.8 58.5h0M171.6 59.7h0M163.4 58.1h0M176.4 70.2h0M154.4 85.5h0M159.8 85.4h0M160.6 62.7h0M154.7 70.6h0M178.0 68.8h0M176.1 76.4h0M166.2 79.3h0M162.4 61.1h0M181.0 70.3h0M175.6 70.1h0M169.5 76.0h0M163.0 59.0h0M155.9 64.3h0M150.3 71.1h0M164.8 77.0h0M156.3 77.1h0M148.0 73.1h0M156.9 76.5h0M166.7 59.1h0M166.9 63.5h0M154.6 63.9h0M154.8 83.9h0M165.5 75.0h0M165.4 79.3h0M160.7 67.9h0M167.1 74.4h0M162.4 82.8h0M146.8 78.6h0M151.1 74.0h0M162.5 66.3h0M157.5 84.1h0M144.9 81.0h0M172.7 62.6h0M141.3 92.9h0M142.3 83.2h0M159.1 63.7h0M157.8 61.1h0M174.6 68.1h0M173.3 79.4h0M152.8 68.4h0M138.9 90.4h0M165.6 62.6h0M146.0 79.2h0M171.6 81.9h0M138.2 92.5h0M137.1 93.3h0M150.7 73.7h0M158.8 76.3h0M146.1 82.5h0M158.8 65.8h0M165.6 57.3h0M169.5 63.7h0M180.4 75.4h0M148.4 81.4h0M164.4 58.1h0M168.0 78.1h0M161.6 70.6h0M146.7 85.8h0M172.4 74.0h0M158.9 66.9h0M149.2 70.6h0M161.9 71.8h0M151.1 74.2h0M149.2 88.1h0M170.1 60.0h0M181.0 74.8h0M158.1 68.1h0M166.6 70.8h0M165.8 81.6h0M163.1 58.0h0M169.7 82.5h0M176.3 63.9h0M177.0 69.4h0M154.6 72.3h0M168.1 73.8h0M172.5 83.4h0M143.3 82.9h0M137.7 94.0h0M154.7 77.4h0M161.6 74.4h0M163.1 81.7h0M146.3 80.2h0M153.2 75.9h0M158.6 64.3h0M168.6 63.2h0M153.5 74.8h0M159.1 64.7h0M179.2 78.3h0M142.2 82.0h0M157.4 83.8h0M147.9 89.1h0M170.6 80.1h0M156.4 61.7h0M156.2 65.8h0M172.5 65.9h0M158.8 85.3h0M143.9 90.1h0M154.6 65.4h0M169.9 73.7h0M156.8 71.0h0M147.9 86.5h0M171.9 64.0h0M145.1 86.6h0M165.8 79.6h0M175.6 65.9h0M156.7 73.2h0M165.5 58.6h0M138.4 93.0h0M150.6 71.8h0M173.4 61.4h0M168.7 70.3h0M154.3 65.6h0M138.4 92.4h0M147.3 87.0h0M166.8 69.9h0M165.3 63.9h0M159.1 71.9h0M150.4 79.9h0M144.9 89.7h0M179.6 68.5h0M163.2 58.0h0M166.5 62.1h0M154.7 69.6h0M158.4 71.6h0M175.4 72.4h0M150.5 88.6h0M160.9 78.3h0M161.3 80.5h0M156.8 77.5h0M154.6 64.1h0M169.3 78.1h0M168.0 70.3h0M179.3 77.0h0M150.6 85.9h0M146.8 88.4h0M152.3 84.3h0M162.2 86.2h0M180.4 72.9h0M160.6 67.5h0M174.9 62.1h0M161.9 80.1h0M141.8 90.4h0M164.4 57.4h0M157.5 73.9h0M148.0 72.9h0M169.4 57.8h0M162.2 65.0h0M178.9 71.6h0M164.7 60.7h0M161.2 80.4h0M163.8 65.4h0M173.7 72.8h0M180.4 71.5h0M170.9 69.8h0M159.2 73.7h0M161.7 68.8h0M170.6 73.4h0M163.3 82.6h0M155.5 84.5h0M173.1 72.4h0M151.0 81.3h0M174.4 67.4h0M166.6 76.5h0M155.2 74.0h0M151.1 87.3h0M153.7 79.4h0M161.1 85.1h0M176.3 80.4h0M166.8 74.8h0M163.9 72.5h0M158.4 79.6h0M146.5 79.2h0M142.7 81.9h0M174.1 76.6h0M160.8 69.5h0M145.3 86.6h0M164.8 64.6h0M170.2 74.2h0M158.2 73.4h0M153.0 87.5h0M181.4 69.9h0M178.6 67.0h0M177.3 71.1h0M141.3 90.8h0M159.8 70.7h0M163.2 69.7h0M154.7 86.3h0M172.8 71.3h0M144.2 89.4h0M177.8 70.3h0M140.1 91.2h0M159.2 83.9h0M163.5 79.5h0M157.9 65.8h0M167.8 70.0h0M162.5 60.5h0M156.4 81.2h0M152.5 82.3h0M172.3 81.4h0M163.3 75.0h0M157.2 76.6h0M165.6 68.8h0M160.3 61.2h0M160.2 64.3h0M141.8 90.3h0M148.4 77.5h0M162.8 77.0h0M152.6 68.4h0M153.0 68.7h0M158.7 65.5h0M170.2 59.5h0M163.5 75.1h0M162.0 83.1h0M162.6 80.9h0M157.2 71.5h0M162.8 72.0h0M173.4 66.1h0M171.3 77.0h0M161.8 77.0h0M169.9 65.8h0M152.2 75.3h0M159.8 86.1h0M166.4 78.6h0M146.3 89.7h0M140.2 92.1h0M152.9 77.1h0M172.0 69.0h0M171.2 70.0h0M155.8 67.1h0M174.6 75.7h0M160.6 62.3h0M153.8 85.0h0M169.7 75.5h0M169.7 61.7h0M162.6 79.2h0M169.1 59.4h0M163.8 62.6h0M180.4 76.6h0M162.1 84.6h0M168.6 73.4h0M168.2 73.5h0M172.3 75.4h0M156.5 71.0h0M160.3 78.1h0M156.0 62.9h0M167.5 65.2h0M152.3 69.6h0M156.3 69.7h0M166.2 71.6h0M159.2 79.5h0M157.4 86.2h0M168.7 62.9h0M149.0 79.0h0M168.6 68.5h0M174.5 65.0h0M167.9 65.1h0M175.4 64.2h0M153.7 64.1h0M171.8 69.5h0M174.9 81.1h0M175.7 75.3h0M151.7 69.8h0M163.1 61.0h0M157.1 86.6h0M164.8 60.7h0M168.0 62.2h0M146.8 88.0h0M172.7 60.8h0M171.8 72.9h0M161.2 77.2h0M174.4 70.3h0M150.5 76.6h0M156.7 85.4h0M148.1 84.8h0M154.1 74.8h0M137.3 94.8h0M175.3 74.9h0M163.1 82.5h0M140.9 92.1h0M156.0 64.8h0M170.0 73.8h0M160.2 71.8h0M155.1 86.3h0M174.9 74.1h0M147.4 88.0h0M167.6 84.0h0M168.0 80.0h0M161.6 58.8h0M168.8 63.6h0M139.5 89.4h0M143.0 87.4h0M140.0 93.5h0M158.6 82.4h0M147.2 87.7h0M160.8 72.2h0M149.7 87.7h0M154.7 64.0h0M146.9 88.9h0M163.2 74.9h0M174.2 78.1h0M170.9 67.8h0M157.6 76.5h0M160.0 59.9h0M145.1 77.9h0M160.2 65.4h0M149.3 74.5h0M152.0 76.1h0M181.1 75.6h0M161.4 73.3h0M147.1 83.8h0M172.1 80.1h0M157.5 68.3h0M174.3 82.1h0M164.2 62.1h0M157.8 71.7h0M175.9 64.8h0M177.5 71.8h0M158.9 81.1h0M164.3 83.3h0M170.2 79.1h0M175.8 69.6h0M158.6 82.7h0M145.5 78.7h0M152.6 87.2h0M163.2 63.8h0M143.2 81.1h0M152.2 82.1h0M153.2 73.0h0M168.7 58.0h0M145.8 83.1h0M172.1 61.8h0M153.2 81.5h0M161.9 75.7h0M160.8 62.4h0M149.7 80.6h0M146.6 86.2h0M164.0 71.8h0M146.5 82.0h0M161.9 83.4h0M158.4 80.9h0M157.8 67.1h0M161.3 59.9h0M159.1 62.1h0M166.3 74.4h0M174.5 64.5h0M166.1 64.2h0M153.5 81.2h0M140.8 84.2h0M156.1 62.2h0M147.6 76.4h0M163.5 76.7h0M164.8 59.1h0M150.6 87.3h0M155.7 62.0h0M169.3 57.5h0M174.2 64.3h0M150.8 86.9h0M167.4 78.9h0M178.4 65.3h0M155.1 84.4h0M169.4 82.2h0M159.2 87.0h0M148.3 72.3h0M152.9 77.8h0M171.5 67.6h0M167.9 74.2h0M161.8 74.6h0M167.4 57.0h0M150.1 87.1h0M162.6 64.6h0M172.2 78.1h0M169.6 70.2h0M151.5 79.3h0M139.4 88.5h0M164.1 70.9h0M170.6 71.8h0M152.7 79.4h0M171.0 58.6h0M177.7 68.9h0M163.7 84.4h0M150.6 68.2h0M138.3 92.8h0M165.9 70.2h0M162.4 74.0h0M150.8 83.0h0M176.8 75.4h0M140.4 86.2h0M166.6 63.2h0M169.2 61.1h0M174.1 70.7h0M158.9 78.8h0M148.9 74.4h0M156.2 81.6h0M180.8 71.6h0M167.3 69.5h0M179.5 76.0h0M176.9 74.2h0M164.1 62.2h0M157.7 87.1h0M174.4 69.5h0M176.3 77.2h0M171.0 68.7h0M153.6 75.3h0M143.9 86.7h0M178.3 67.6h0M161.8 75.7h0M159.2 66.5h0M179.8 70.4h0M153.2 83.6h0M163.2 83.2h0M141.4 88.3h0M158.4 84.1h0M142.5 82.3h0M174.8 81.5h0M177.5 80.2h0M159.6 77.4h0M147.4 77.6h0M157.1 86.7h0M145.2 87.0h0M152.3 73.8h0M170.8 75.7h0M154.3 73.1h0M166.2 59.2h0M164.3 70.5h0M164.3 80.3h0M154.3 83.6h0M176.1 76.2h0M143.3 81.9h0M172.0 61.5h0M169.4 65.7h0M149.4 80.7h0M140.0 88.5h0M164.9 74.1h0M164.4 72.3h0M154.9 76.7h0M165.7 56.9h0M153.7 70.1h0M171.8 79.9h0M172.4 79.8h0M159.9 68.8h0M165.9 58.3h0M149.5 79.5h0M139.8 90.2h0M167.2 63.5h0M141.6 89.7h0M151.1 70.8h0M164.1 78.7h0M149.3 83.2h0M179.3 74.6h0M167.2 56.5h0M154.4 76.8h0M178.5 73.0h0M167.8 60.3h0M167.0 68.4h0M155.4 69.8h0M143.2 88.4h0M159.3 63.8h0M168.5 56.1h0M175.3 67.2h0M180.6 72.1h0M167.9 56.8h0M166.2 78.4h0M178.5 67.8h0M145.6 87.6h0M155.3 68.8h0M164.9 67.7h0M174.0 80.3h0M156.2 70.7h0M164.4 76.4h0M142.9 86.5h0M153.1 78.3h0M165.5 77.6h0M162.2 74.7h0M168.2 58.8h0M155.1 82.8h0M152.8 65.2h0M166.8 77.4h0M160.5 79.5h0M168.9 71.6h0M160.0 83.4h0M154.1 84.1h0M156.9 63.1h0M161.5 70.7h0M153.9 80.1h0M175.1 68.2h0M178.5 70.8h0M162.4 61.5h0M177.3 69.9h0M177.2 71.0h0M148.2 77.4h0M170.5 70.3h0M150.4 83.9h0M164.7 85.9h0M170.2 72.1h0M162.8 64.0h0M147.9 73.6h0M161.1 84.9h0M171.8 77.9h0M158.8 70.1h0M157.9 84.2h0M149.5 76.4h0M159.2 84.6h0M177.5 74.9h0M151.1 67.9h0M166.9 68.7h0M157.2 73.8h0M159.7 69.7h0M172.8 82.2h0M155.6 62.0h0M159.2 62.7h0M153.6 86.2h0M164.3 66.7h0M144.9 87.4h0M166.9 67.8h0M149.3 84.7h0M175.0 65.0h0M169.9 66.5h0M163.3 72.5h0M158.0 65.9h0M138.9 91.2h0M157.7 78.6h0M152.7 77.7h0M157.5 70.0h0M156.5 63.2h0M180.2 68.7h0M146.7 80.7h0M141.8 85.8h0M172.6 65.0h0M174.4 70.1h0M174.3 64.5h0M150.7 81.9h0M162.8 83.7h0M150.0 85.8h0M155.4 67.1h0M142.0 84.6h0M161.4 62.6h0M160.4 68.4h0M181.2 70.6h0M156.8 75.3h0M163.6 64.9h0M159.5 81.1h0M148.8 84.6h0M176.2 80.9h0M165.4 70.5h0M175.7 72.9h0M143.8 86.5h0M163.3 62.0h0M171.3 61.0h0M172.0 61.2h0M146.7 80.4h0M168.6 74.6h0M165.9 75.1h0M176.7 74.3h0M177.6 78.7h0M153.8 76.8h0M151.1 70.4h0M162.7 62.3h0M168.7 68.0h0M147.9 88.8h0M148.5 82.1h0M180.6 75.4h0M161.1 80.3h0M166.2 61.3h0M151.7 72.3h0M167.9 85.0h0M176.1 69.3h0M173.3 75.0h0M157.1 86.1h0M147.1 81.9h0M136.6 94.4h0M149.2 85.7h0M161.8 73.9h0M150.2 79.6h0M146.8 88.5h0M154.2 79.3h0M159.8 81.7h0M181.2 72.9h0M155.2 64.4h0M139.1 90.3h0M150.2 86.6h0M170.7 81.3h0M144.1 86.3h0M170.6 78.3h0M152.1 74.6h0M145.8 79.5h0M150.8 81.6h0M174.4 76.9h0M173.9 67.1h0M177.5 68.2h0M166.0 63.4h0M155.1 87.4h0M159.0 75.4h0M163.7 75.4h0M169.8 78.4h0M158.8 63.4h0M157.3 73.6h0M166.4 64.1h0M176.0 72.0h0M169.5 63.6h0M177.5 79.3h0M178.7 73.1h0M168.5 80.2h0M166.0 61.3h0M140.0 89.1h0M167.7 78.1h0M162.8 83.3h0M178.1 75.2h0M160.1 81.5h0M166.4 73.4h0M167.9 57.1h0M163.3 62.1h0M169.0 78.1h0M168.7 58.5h0M152.1 73.6h0M173.4 73.6h0M162.3 69.5h0M148.7 77.7h0M141.9 87.9h0M153.8 78.3h0M154.1 71.3h0M172.7 68.8h0M174.8 76.7h0M164.9 57.3h0M174.8 72.9h0M179.6 69.5h0M167.2 58.8h0M171.6 78.2h0M152.8 77.0h0M167.9 60.7h0M167.5 63.3h0M167.7 66.9h0M150.0 87.2h0M142.3 85.3h0M158.8 62.2h0M164.7 67.3h0M160.8 76.1h0M160.7 76.8h0M168.5 76.1h0M163.1 81.9h0M153.6 83.0h0M161.9 85.3h0M154.2 84.2h0M151.4 82.6h0M147.9 72.9h0M155.3 70.7h0M141.2 83.7h0M145.3 81.8h0M177.1 64.0h0M153.5 68.3h0M150.6 79.4h0M164.1 68.6h0M141.0 92.1h0M175.2 62.5h0M159.3 83.9h0M153.0 74.9h0M154.5 72.4h0M141.8 84.9h0M157.7 61.8h0M153.2 72.3h0M156.0 85.1h0M177.3 68.2h0M155.4 76.3h0M176.0 74.9h0M158.0 68.3h0M168.8 79.5h0M162.3 61.1h0M156.4 62.0h0M174.2 68.5h0M160.7 67.3h0M161.7 85.9h0M150.5 74.6h0M151.2 87.0h0M178.4 74.8h0M173.4 65.5h0M158.9 79.0h0M168.7 82.7h0M160.7 83.2h0M158.4 69.9h0M157.8 82.2h0M164.6 64.2h0M155.6 80.8h0M157.4 86.6h0M140.0 93.2h0M173.0 79.5h0M155.7 68.8h0M159.9 69.4h0M156.0 76.4h0M174.9 70.3h0M138.2 92.2h0M171.0 83.8h0M172.6 69.4h0M170.0 58.8h0M152.4 74.1h0M145.3 86.0h0M161.6 58.7h0M167.6 70.6h0M162.0 60.1h0M174.9 67.9h0M169.4 76.7h0M158.4 67.7h0M160.2 59.9h0M140.7 92.7h0M159.2 77.9h0M158.6 80.8h0M174.9 82.1h0M152.6 81.4h0M162.5 83.0h0M147.4 84.5h0M151.4 87.7h0M164.8 76.3h0M167.3 81.4h0M152.1 71.8h0M147.8 84.8h0M166.9 59.4h0M179.2 75.9h0M158.2 61.1h0M172.7 60.8h0M155.7 70.0h0M168.0 79.6h0M150.8 76.8h0M167.0 62.8h0M175.6 65.3h0M173.5 72.5h0M162.1 65.9h0M148.9 85.7h0M146.4 87.0h0M154.2 74.2h0M169.1 70.9h0M146.8 84.4h0M143.0 81.1h0M170.3 76.9h0M174.8 82.2h0M149.3 87.8h0M178.9 72.5h0M160.2 61.1h0M161.4 80.8h0M154.1 81.5h0M160.4 67.8h0M160.7 66.1h0M146.2 79.8h0M162.7 59.2h0M163.7 71.0h0M140.5 88.5h0M155.2 82.3h0M146.7 84.3h0M178.6 70.3h0M159.5 61.3h0M153.3 75.5h0M166.8 77.4h0M163.4 59.1h0M169.5 69.5h0M161.1 72.7h0M156.8 69.3h0M169.8 82.5h0M170.0 73.8h0M169.6 76.6h0M151.2 85.6h0M172.7 79.1h0M153.0 79.4h0M168.5 56.7h0M170.7 62.0h0M162.4 78.5h0M174.0 81.1h0M172.5 62.8h0M162.8 63.9h0M149.5 82.9h0M178.5 64.8h0M159.6 64.8h0M157.9 76.1h0M162.8 75.4h0M170.6 82.2h0M160.8 78.3h0M147.4 74.1h0M162.1 59.3h0M147.3 84.4h0M143.0 88.5h0M170.3 66.8h0M165.9 60.1h0M163.2 61.8h0M147.6 80.2h0M161.1 59.9h0M142.4 82.8h0M163.1 68.3h0M163.0 64.8h0M150.2 73.8h0M167.9 62.2h0M171.2 68.5h0M164.5 62.4h0M169.7 66.1h0M179.9 73.3h0M166.3 70.3h0M158.7 80.3h0M168.5 59.8h0M159.4 68.2h0M140.7 88.3h0M164.8 57.0h0M155.9 78.0h0M160.4 72.2h0M156.9 69.5h0M161.6 76.9h0M174.7 62.0h0M180.3 68.4h0M160.1 84.5h0M170.0 76.9h0M159.2 84.3h0M150.5 84.5h0M156.6 69.7h0M143.6 84.1h0M167.5 71.0h0M168.5 60.4h0M160.0 85.5h0M178.0 72.8h0M142.5 81.3h0M151.5 82.8h0M163.6 70.2h0M157.6 85.0h0M149.0 80.2h0M168.9 82.4h0M142.0 86.9h0M151.1 85.1h0M164.2 78.1h0M153.9 71.9h0M146.7 80.2h0M164.6 67.7h0M176.7 76.7h0M172.6 61.2h0M165.4 70.1h0M148.0 87.8h0M145.4 80.0h0M154.7 82.7h0M159.3 75.1h0M164.6 78.8h0M166.1 58.9h0M148.6 82.7h0M171.7 80.2h0M179.7 74.3h0M169.4 78.7h0M180.3 76.0h0M176.3 67.6h0M157.7 62.2h0M163.2 71.3h0M147.7 86.9h0M153.6 77.7h0M150.3 80.2h0M167.9 82.1h0M176.7 71.7h0M164.2 79.3h0M141.1 90.4h0M143.9 90.9h0M150.5 76.0h0M165.3 81.1h0M165.6 79.1h0M152.0 74.6h0M175.8 81.6h0M152.0 71.9h0M152.8 87.0h0M171.7 63.5h0M143.2 85.6h0M144.9 81.8h0M145.0 87.0h0M147.7 88.4h0M171.4 66.0h0M144.2 89.1h0M162.9 57.9h0M161.1 68.4h0M160.4 69.2h0M172.2 77.4h0M168.5 62.7h0M154.4 69.6h0M156.1 86.9h0M173.1 75.3h0M158.2 75.7h0M143.9 85.3h0M156.4 84.9h0M142.3 83.7h0M175.8 64.8h0M180.3 69.1h0M165.7 66.8h0M166.6 84.7h0M167.4 78.4h0M161.1 62.6h0M140.4 89.9h0M166.7 83.8h0M151.1 80.7h0M151.0 68.1h0M145.8 89.2h0M151.8 75.1h0M165.6 59.3h0M161.7 84.5h0M170.5 63.4h0M153.8 65.1h0M149.5 76.3h0M145.4 78.7h0M166.5 81.9h0M155.1 68.9h0M165.1 59.6h0M165.1 71.2h0M146.2 85.7h0M160.7 71.4h0M167.1 60.3h0M168.6 80.4h0M156.5 69.3h0M173.4 67.4h0M179.3 69.7h0M178.7 77.7h0M178.8 75.9h0M162.2 81.8h0M175.9 72.1h0M168.9 81.1h0M145.6 86.6h0M146.8 80.0h0M155.8 77.7h0M154.5 72.4h0M145.9 78.6h0M164.4 58.1h0M173.4 66.9h0M178.0 79.6h0M143.5 88.2h0M146.8 87.4h0M152.6 70.2h0M161.4 72.8h0M148.3 72.3h0M180.1 76.4h0M153.1 83.4h0M162.7 84.3h0M163.2 59.1h0M170.8 73.7h0M149.9 81.3h0M156.3 72.8h0M162.5 77.2h0M153.1 86.7h0M171.2 73.4h0M142.6 88.9h0M174.7 64.9h0M179.5 76.3h0M170.3 63.9h0M157.4 74.4h0M177.2 63.5h0M153.7 75.8h0M174.6 69.2h0M147.1 75.7h0M164.1 72.3h0M161.6 78.9h0M152.6 65.4h0M173.8 73.3h0M171.6 59.5h0M174.4 73.5h0" stroke="#F8766D" stroke-width="0.85" stroke-linecap="round" fill="none"/>
<path d="M100.1 74.2L104.5 73.3L106.3 78.5L115.0 83.8L122.0 86.4L129.0 90.8L135.2 93.4L136.0 96.9L129.0 98.7L122.0 100.4L116.8 103.1L113.3 104.8L112.4 101.3L109.8 96.1L106.3 90.8L103.6 85.5L101.9 79.4Z" fill="#00BC56" fill-opacity="0.25"/>
<path d="M124.4 92.5h0M120.0 98.8h0M104.7 86.4h0M114.5 87.4h0M105.5 82.9h0M114.4 103.2h0M111.2 93.3h0M104.1 75.5h0M113.3 86.8h0M126.2 99.2h0M111.8 82.7h0M107.4 85.4h0M129.8 94.1h0M116.1 94.7h0M124.2 97.6h0M113.4 100.1h0M107.5 84.4h0M135.2 95.1h0M122.8 96.2h0M128.2 95.6h0M128.1 98.9h0M104.6 78.3h0M133.6 96.5h0M107.6 84.9h0M117.7 86.4h0M105.1 78.0h0M119.4 93.0h0M105.0 86.9h0M130.3 94.6h0M127.7 98.4h0M103.8 75.2h0M103.1 80.2h0M114.1 100.7h0M131.7 94.8h0M114.4 102.9h0M103.8 75.6h0M120.1 98.6h0M105.2 88.1h0M112.6 98.3h0M111.9 83.3h0M116.1 91.3h0M120.3 89.0h0M113.9 85.4h0M117.6 94.1h0M113.1 88.5h0M103.5 79.3h0M113.2 86.5h0M119.4 88.4h0M124.0 99.8h0M119.2 99.2h0M105.7 84.5h0M109.9 95.2h0M103.8 74.6h0M117.9 102.3h0M120.6 99.2h0M103.9 73.4h0M129.2 91.3h0M108.3 83.3h0M106.7 81.4h0M107.4 83.4h0M113.7 86.3h0M115.0 96.4h0M100.4 74.5h0M120.0 94.5h0M115.2 98.7h0M103.4 75.8h0M126.1 90.4h0M105.6 79.1h0M123.4 88.0h0M118.3 91.6h0M118.8 91.7h0M116.3 91.6h0M126.2 96.1h0M122.2 93.4h0M113.8 97.1h0M134.5 95.0h0M107.8 90.2h0M132.8 96.1h0M123.4 97.6h0M112.9 90.0h0M120.9 94.1h0M127.3 93.7h0M105.1 80.4h0M106.2 89.3h0M110.6 92.6h0M109.2 82.6h0M121.1 87.1h0M116.0 93.7h0M118.9 101.8h0M115.9 101.8h0M110.7 88.6h0M109.4 88.3h0M108.9 87.3h0M118.0 90.5h0M106.1 81.6h0M135.1 94.4h0M104.7 80.0h0M121.3 93.3h0M112.7 96.1h0M129.0 98.4h0M119.4 99.4h0M104.3 82.0h0M107.2 88.9h0M124.8 95.9h0M113.5 97.1h0M125.4 96.6h0M120.2 88.1h0M124.4 95.6h0M118.0 88.9h0M108.9 82.7h0M118.5 93.9h0M117.8 87.7h0M124.1 91.4h0M103.7 79.1h0M116.5 85.7h0M113.9 85.5h0M121.1 86.4h0M122.5 93.4h0M119.2 94.2h0M108.3 86.3h0M127.2 92.5h0M118.8 100.4h0M122.2 90.1h0M108.1 86.9h0M125.5 96.9h0M119.4 93.5h0M114.5 88.2h0M119.0 95.8h0M118.2 93.4h0M127.3 95.0h0M103.8 81.1h0M125.3 94.4h0M119.1 97.7h0M119.7 98.8h0M124.5 90.6h0M112.9 87.6h0M120.1 91.0h0M106.3 82.7h0M113.4 97.5h0M113.9 103.7h0M131.2 95.5h0M117.1 98.3h0M129.4 98.1h0M105.0 85.8h0M118.7 91.6h0M124.2 94.2h0M103.2 82.9h0M109.6 82.9h0M118.3 96.2h0M113.0 95.3h0M125.8 91.4h0M112.9 82.6h0M111.8 87.0h0M107.1 92.0h0M110.8 89.3h0M101.4 75.2h0M104.2 80.7h0M114.8 96.7h0M104.5 76.5h0M113.4 86.1h0M109.1 92.1h0M119.6 88.5h0M126.3 95.9h0M113.2 91.4h0M117.5 93.9h0M128.9 92.1h0M129.1 92.6h0M112.2 82.2h0M111.9 82.1h0M107.7 85.0h0M109.7 86.7h0M122.0 91.7h0M114.8 94.6h0M131.0 95.8h0M114.4 94.9h0M117.0 89.7h0M123.5 93.8h0M111.0 97.8h0M113.5 87.6h0M103.0 73.8h0M128.2 93.3h0M111.0 95.1h0M130.6 92.6h0M104.2 81.9h0M121.0 97.0h0M116.4 96.4h0M125.1 94.5h0M105.6 79.3h0M105.1 76.4h0M110.0 88.9h0M107.4 86.3h0M128.7 94.4h0M109.0 89.9h0M115.5 88.2h0M103.5 75.0h0M123.5 89.4h0M114.3 100.5h0M122.2 93.3h0M114.9 92.2h0M125.6 94.6h0M117.3 95.9h0M103.9 77.7h0M120.8 88.7h0M118.2 91.1h0M113.7 91.2h0M123.4 89.6h0M102.5 78.1h0M113.3 98.3h0M125.1 97.9h0M116.1 86.0h0M112.1 85.3h0M110.3 85.4h0M107.9 81.9h0M120.7 92.1h0M120.7 95.8h0M106.8 90.1h0M119.2 91.7h0M125.6 94.8h0M113.6 94.9h0M114.8 99.2h0M126.0 91.9h0M108.6 80.1h0M115.3 87.8h0M112.3 86.5h0M120.6 98.8h0M106.2 82.3h0M118.7 88.8h0M109.4 84.1h0M116.5 97.3h0M116.7 88.8h0M111.4 97.7h0M113.3 87.9h0M129.4 95.3h0M123.7 92.8h0M109.3 89.8h0M135.9 96.7h0M132.2 92.4h0M133.9 95.9h0M120.1 95.2h0M108.4 90.9h0M112.6 98.6h0M124.9 98.6h0M111.4 84.3h0M110.5 91.8h0M133.6 93.3h0M113.5 85.9h0M124.5 93.2h0M108.5 90.8h0M126.9 95.2h0M119.0 101.4h0M110.6 81.8h0M121.2 97.3h0M128.1 92.5h0M124.3 94.2h0M108.9 89.9h0M104.7 85.8h0M106.5 87.3h0M106.8 86.6h0M122.6 92.7h0M104.6 82.4h0M129.6 92.7h0M107.1 88.0h0M118.4 88.0h0M121.4 95.2h0M116.7 96.5h0M116.6 84.8h0M109.1 87.0h0M119.7 95.4h0M118.2 90.3h0M124.8 93.9h0M110.2 86.9h0M133.5 95.1h0M103.7 78.5h0M132.4 92.7h0M105.4 84.9h0M102.4 77.6h0M118.6 87.8h0M122.5 91.0h0M120.1 99.0h0M130.5 98.3h0M114.7 85.8h0M115.3 102.3h0M124.5 97.6h0M101.2 76.2h0M111.6 84.5h0M111.2 94.6h0M111.2 93.5h0M106.5 79.3h0M129.1 93.9h0M105.8 81.2h0M117.5 92.9h0M122.3 98.5h0M130.2 93.9h0M103.2 76.6h0M120.0 101.0h0M110.4 93.8h0M105.8 84.2h0M124.5 90.6h0M117.1 89.9h0M131.9 96.3h0M131.8 96.3h0M105.8 88.1h0M103.6 80.1h0M107.6 90.6h0M108.3 89.9h0M132.7 97.4h0M107.2 91.4h0M122.5 92.6h0M113.8 99.0h0M108.4 83.5h0M107.4 85.7h0M103.3 80.9h0M113.4 84.6h0M114.4 92.5h0M103.1 78.9h0M104.6 84.6h0M114.2 83.7h0M118.7 88.6h0M121.7 95.5h0M111.4 92.8h0M118.8 99.5h0M105.4 82.6h0M114.4 92.6h0M124.7 89.2h0M106.9 84.7h0M133.5 95.6h0M116.8 93.5h0M114.6 96.9h0M115.9 101.8h0M122.8 87.8h0M127.4 96.0h0M125.6 92.2h0M121.4 94.1h0M105.5 84.0h0M114.3 85.8h0M114.9 97.6h0M103.2 75.9h0M118.5 90.5h0M115.3 84.8h0M121.2 93.7h0M106.1 88.5h0M124.1 93.1h0M124.4 99.6h0M121.0 93.1h0M125.5 95.9h0M133.9 95.6h0M123.1 90.0h0M133.7 94.8h0M123.4 89.3h0M103.2 76.1h0M127.6 91.4h0M104.5 82.3h0M118.5 90.5h0M108.9 80.2h0M111.4 87.5h0M124.9 88.4h0M104.1 74.9h0M119.3 90.7h0M121.8 100.0h0M115.9 85.1h0M112.1 98.1h0M110.6 92.2h0M124.6 96.6h0M117.5 96.8h0M124.6 94.7h0M110.4 94.8h0M109.0 90.4h0M114.0 86.1h0M110.9 85.3h0M113.4 83.7h0M114.0 95.4h0M115.4 88.3h0M131.1 97.4h0M102.2 78.5h0M103.0 76.8h0M126.8 93.0h0M109.3 91.4h0M102.5 74.9h0M116.8 98.8h0M127.6 98.8h0M128.1 98.1h0M114.5 100.8h0M107.7 79.9h0M123.6 90.3h0M114.7 90.1h0M109.0 83.0h0M130.2 92.5h0M102.7 81.6h0M111.8 88.5h0M121.3 97.3h0M130.0 97.7h0M127.7 91.9h0M114.0 102.8h0M119.8 89.3h0M115.1 91.1h0M107.9 82.9h0M125.7 99.3h0M133.1 95.8h0M105.7 82.9h0M127.6 95.5h0M109.4 81.0h0M117.1 85.1h0M119.8 101.0h0M118.9 85.9h0M102.9 82.3h0M115.1 92.7h0M128.9 96.2h0M107.1 79.7h0M115.2 91.4h0M117.7 90.3h0M103.0 75.5h0M112.3 85.4h0M111.5 82.9h0M106.5 85.5h0M109.1 86.6h0M117.0 91.5h0M111.4 93.8h0M117.2 102.4h0M130.3 97.0h0M121.7 98.0h0M131.4 94.1h0M117.0 84.8h0M101.5 76.4h0M114.5 93.5h0M124.6 99.7h0M124.9 89.7h0M125.4 99.0h0M110.5 88.4h0M104.4 80.0h0M102.4 78.6h0M111.6 87.9h0M105.7 84.7h0M116.7 94.1h0M109.5 80.5h0M107.9 81.9h0M120.8 94.0h0M105.0 79.3h0M120.7 97.7h0M121.5 92.7h0M125.2 88.9h0M115.5 102.2h0M132.5 94.8h0M110.1 87.4h0M110.5 85.2h0M112.1 96.6h0M103.8 75.8h0M112.1 99.3h0M113.7 88.0h0M103.3 79.4h0M121.9 94.8h0M119.6 95.5h0M105.4 81.5h0M111.4 95.3h0M123.2 94.3h0M103.3 82.7h0M125.4 89.9h0M117.6 93.4h0M103.5 84.1h0M109.5 89.3h0M111.8 83.6h0M114.7 99.7h0M124.1 93.5h0M124.8 99.3h0M108.9 83.6h0M111.7 91.5h0M111.3 85.2h0M122.0 95.7h0M111.8 84.8h0M105.0 79.8h0M116.7 100.7h0M119.7 98.2h0M109.6 85.2h0M118.7 98.2h0M128.0 91.0h0M116.1 101.6h0M113.4 103.3h0M123.6 97.2h0M120.7 95.6h0M109.9 81.0h0M130.6 95.8h0M115.2 97.3h0M130.3 97.7h0M110.2 94.2h0M111.6 83.7h0M116.0 93.3h0M114.3 101.5h0M111.9 91.3h0M104.9 84.8h0M110.0 84.8h0M115.5 89.5h0M118.4 101.5h0M116.9 100.1h0M103.3 82.4h0M121.4 96.3h0M104.4 82.5h0M105.3 85.7h0M116.9 102.9h0M128.5 97.6h0M110.0 90.4h0M117.7 101.7h0M121.7 93.8h0M133.2 92.6h0M113.3 99.5h0M111.3 84.5h0M115.6 102.9h0M108.6 90.9h0M125.0 96.7h0M113.4 96.9h0M101.8 75.3h0M111.6 91.7h0M113.2 89.2h0M131.2 93.1h0M103.3 81.9h0M106.0 83.1h0M110.4 90.1h0M111.8 83.4h0M120.8 86.1h0M109.9 91.8h0M116.8 87.4h0M104.5 80.5h0M101.7 75.9h0M120.7 87.3h0M126.1 98.3h0M122.9 88.3h0M112.3 95.5h0M112.1 83.2h0M116.9 95.3h0M114.5 89.6h0M130.0 91.6h0M120.4 87.7h0M121.6 96.5h0M111.3 85.7h0M117.0 96.9h0M130.4 96.3h0M111.9 93.7h0M105.1 82.1h0M108.5 81.6h0M108.1 86.1h0M118.3 93.6h0M105.1 83.9h0M111.0 87.4h0M133.1 95.6h0M120.1 96.6h0M116.7 102.5h0M116.8 93.1h0M112.4 91.4h0M124.2 96.5h0M114.2 92.6h0M117.4 98.9h0M110.4 83.9h0M115.3 99.3h0M116.5 102.3h0M114.0 94.5h0M101.4 74.1h0M119.3 91.6h0M120.0 99.9h0M100.8 74.9h0M123.4 98.4h0M103.5 84.6h0M112.9 100.0h0M105.1 78.5h0M114.3 92.2h0M131.0 92.1h0M111.2 95.7h0M120.4 93.5h0M112.3 83.9h0M127.1 93.1h0M121.6 95.5h0M108.4 80.1h0M128.6 95.4h0M103.1 80.7h0M107.6 88.8h0M111.0 87.8h0M114.6 84.6h0M118.5 90.5h0M108.9 87.7h0M122.6 95.8h0M110.3 96.5h0M104.0 80.1h0M120.2 95.2h0M135.3 94.1h0M109.4 81.2h0M113.0 88.7h0M114.6 90.9h0M106.8 81.9h0M112.4 85.2h0M111.0 89.9h0M115.1 98.2h0M112.9 99.7h0M113.1 99.6h0M104.9 86.3h0M119.4 97.9h0M128.9 94.1h0M134.0 95.1h0M122.2 98.7h0M127.5 90.4h0M110.9 97.9h0M110.5 91.0h0M128.4 96.6h0M121.9 88.9h0M109.2 93.2h0M122.2 86.7h0M127.0 92.1h0M116.8 91.9h0M129.2 96.7h0M127.8 93.4h0M130.1 95.7h0M124.6 95.0h0M104.4 79.6h0M114.1 104.2h0M124.8 89.4h0M115.1 101.0h0M119.5 97.6h0M109.5 90.8h0M116.6 102.7h0M113.3 94.5h0M118.4 99.3h0M120.2 87.9h0M106.5 83.4h0M120.8 94.3h0M109.0 84.7h0M125.7 97.9h0M117.5 99.5h0M135.4 94.7h0M128.2 96.2h0M105.2 84.9h0M103.1 77.4h0M103.3 81.8h0M124.2 98.2h0M127.0 95.2h0M120.1 88.2h0M115.5 98.7h0M125.5 96.6h0M111.6 89.0h0M127.7 90.3h0M101.1 76.8h0M131.0 93.4h0M108.8 82.1h0M128.0 95.9h0M109.9 85.4h0M116.8 88.3h0M103.0 79.3h0M114.7 85.9h0M106.0 89.2h0M109.8 88.0h0M110.9 95.6h0M110.4 82.4h0M106.0 81.8h0M125.1 88.4h0M113.8 96.1h0M133.1 93.7h0M106.2 86.6h0M106.1 90.1h0M114.1 91.1h0M109.8 87.7h0M115.1 102.5h0M112.3 98.8h0M116.9 90.4h0M120.4 97.7h0M113.2 93.1h0M106.7 89.7h0M119.3 91.9h0M107.8 80.8h0M117.8 101.6h0M126.3 95.3h0M117.4 99.8h0M126.9 89.6h0M115.9 99.8h0M119.9 88.9h0M112.9 94.5h0M113.4 101.7h0M118.7 92.6h0M123.4 88.7h0M110.8 90.4h0M121.2 97.4h0M111.7 82.6h0M126.5 90.3h0M115.3 89.1h0M118.0 91.2h0M125.1 94.2h0M118.8 95.0h0M117.7 85.4h0M110.4 89.0h0M115.9 88.0h0M121.6 86.9h0M110.8 83.0h0M126.7 91.2h0M118.1 94.4h0M105.1 82.4h0M104.6 78.3h0M116.9 96.8h0M122.0 99.7h0M132.1 96.5h0M122.8 96.1h0M115.1 91.8h0M113.6 94.1h0M124.6 88.2h0M123.1 98.3h0M133.2 95.3h0" stroke="#00BC56" stroke-width="0.85" stroke-linecap="round" fill="none"/>
<path d="M85.0 96.5L86.1 89.9L87.0 85.5L88.8 79.4L90.5 75.9L93.1 74.1L96.6 73.0L99.7 73.5L101.5 74.8L100.6 76.8L97.5 76.8L94.9 77.6L93.1 81.1L94.0 86.4L96.6 88.2L100.2 86.8L101.0 88.6L98.4 89.9L94.9 90.8L95.1 95.2L94.9 100.4L92.7 101.7L88.8 100.0L85.7 98.7Z" fill="#06A4FF" fill-opacity="0.25"/>
<path d="M95.0 88.2h0M93.1 95.5h0M90.8 84.4h0M88.6 91.5h0M90.6 100.7h0M90.5 78.4h0M89.4 93.0h0M97.2 76.0h0M96.9 89.8h0M91.3 80.8h0M90.0 76.9h0M87.6 84.5h0M90.9 95.5h0M94.5 86.9h0M89.6 90.0h0M97.4 89.0h0M88.6 88.6h0M95.0 95.1h0M94.5 92.9h0M91.5 87.6h0M90.7 89.4h0M92.1 91.2h0M94.5 74.2h0M91.4 94.0h0M90.9 78.1h0M91.4 80.4h0M87.9 83.9h0M93.1 92.3h0M92.5 98.1h0M92.9 97.1h0M90.4 88.4h0M92.0 86.4h0M86.8 87.4h0M91.1 93.8h0M91.0 90.5h0M90.9 77.3h0M90.3 79.1h0M92.6 88.8h0M90.5 80.8h0M95.0 87.9h0M88.0 91.5h0M87.7 93.5h0M94.0 95.3h0M92.5 74.7h0M92.5 82.8h0M85.7 97.2h0M92.9 77.8h0M93.5 94.7h0M92.8 76.2h0M92.8 80.8h0M93.5 87.2h0M100.1 76.4h0M89.2 82.8h0M93.2 79.7h0M96.2 76.5h0M94.3 95.1h0M92.1 92.5h0M87.1 97.1h0M94.9 93.4h0M90.0 90.6h0M92.5 75.4h0M90.8 77.2h0M92.3 89.4h0M87.5 94.0h0M87.4 87.0h0M91.5 76.7h0M99.1 88.9h0M89.0 94.6h0M93.3 88.3h0M94.4 93.7h0M99.5 88.8h0M86.1 95.0h0M91.1 86.1h0M89.9 85.2h0M88.4 82.1h0M94.7 98.4h0M91.7 84.5h0M90.7 81.2h0M98.4 88.1h0M89.3 97.8h0M92.4 84.8h0M87.2 95.3h0M88.6 96.9h0M94.2 75.5h0M91.8 87.5h0M93.8 99.4h0M91.0 96.4h0M91.7 76.7h0M86.0 98.8h0M86.0 98.7h0M92.3 78.3h0M91.9 99.3h0M93.2 78.4h0M91.8 86.4h0M87.3 85.2h0M87.0 96.9h0M94.2 92.7h0M88.4 86.1h0M90.8 78.6h0M93.7 98.1h0M92.0 97.1h0M91.7 95.6h0M93.8 91.6h0M88.9 81.3h0M99.9 75.0h0M101.0 75.2h0M93.8 100.4h0M94.3 77.7h0M85.5 97.4h0M89.8 88.8h0M89.3 80.7h0M93.2 78.6h0M99.3 74.9h0M90.5 80.8h0M92.2 79.2h0M88.5 88.6h0M96.1 76.1h0M87.0 88.6h0M87.9 97.7h0M96.1 75.8h0M95.9 88.5h0M93.0 98.4h0M95.0 75.5h0M85.6 95.2h0M92.5 74.8h0M98.5 87.5h0M89.2 80.1h0M88.3 90.2h0M91.8 84.2h0M94.6 89.3h0M91.3 79.0h0M93.9 79.5h0M88.1 98.7h0M93.0 75.1h0M94.3 87.4h0M98.7 88.0h0M91.2 81.4h0M93.3 87.9h0M93.3 86.9h0M94.5 75.3h0M88.1 93.8h0M98.5 89.1h0M91.2 99.8h0M96.0 87.9h0M93.6 85.8h0M88.8 86.6h0M89.1 83.7h0M93.1 84.5h0M93.1 89.0h0M94.4 73.8h0M88.7 80.1h0M85.7 94.7h0M93.4 75.9h0M95.0 89.1h0M94.1 94.9h0M94.4 89.1h0M93.3 75.1h0M88.0 84.6h0M92.8 77.7h0M88.5 95.0h0M89.6 81.2h0M96.2 88.9h0M91.8 77.3h0M91.3 95.8h0M88.1 86.5h0M90.8 77.9h0M94.9 90.2h0M91.8 83.0h0M87.1 89.5h0M93.6 99.5h0M88.2 88.7h0M89.1 88.8h0M94.4 94.2h0M93.4 100.8h0M97.4 89.4h0M89.1 87.4h0M92.4 91.2h0M87.3 85.7h0M88.4 97.0h0M89.8 90.5h0M89.3 86.9h0M93.5 84.0h0M93.8 90.8h0M96.5 75.4h0M90.8 98.4h0M92.0 82.0h0M93.0 101.3h0M93.8 89.0h0M91.9 85.2h0M92.5 79.7h0M91.0 98.4h0M92.4 75.5h0M92.8 80.0h0M92.2 84.4h0M94.8 94.8h0M89.6 86.4h0M92.0 76.3h0M91.4 83.2h0M88.5 82.3h0M98.6 73.9h0M89.2 89.8h0M89.7 100.2h0M89.7 96.8h0M86.9 94.3h0M87.5 97.0h0M91.0 97.5h0M90.2 91.1h0M93.1 100.1h0M93.0 80.1h0M87.4 86.3h0M94.4 92.7h0M100.6 75.3h0M91.4 92.6h0M91.5 80.8h0M93.6 94.8h0M88.4 84.1h0M88.2 93.9h0M92.0 78.9h0M88.8 82.1h0M90.6 99.1h0M87.0 91.0h0M89.1 81.3h0M92.8 75.1h0M86.9 90.2h0M91.0 80.4h0M94.5 95.1h0M91.3 81.5h0M93.3 83.3h0M89.7 80.5h0M90.9 81.7h0M89.5 93.7h0M95.7 74.8h0M89.5 90.3h0M90.3 99.0h0M87.7 89.2h0M93.3 82.9h0M90.5 76.4h0M90.1 100.3h0M88.7 81.8h0M92.6 88.2h0M96.1 90.1h0M98.6 89.4h0M88.0 87.1h0M91.7 90.0h0M93.2 100.4h0M90.9 81.6h0M97.1 73.4h0M93.4 97.4h0M92.6 84.8h0M92.1 82.7h0M88.0 90.8h0M86.9 89.1h0M99.6 74.2h0M91.6 78.8h0M100.7 76.5h0M98.4 76.6h0M90.4 82.3h0M91.5 97.7h0M86.2 96.9h0M94.1 86.5h0M93.4 86.9h0M91.8 99.6h0M93.5 96.5h0M89.5 82.6h0M94.8 92.7h0M95.5 90.1h0M89.5 91.8h0M92.4 91.4h0M88.3 93.3h0M91.0 84.6h0M89.7 99.9h0M90.3 80.8h0M90.7 90.5h0M86.8 87.0h0M90.3 86.2h0M90.6 99.8h0M96.7 73.3h0M94.3 95.2h0M87.3 97.7h0M90.0 87.8h0M91.0 89.0h0M87.7 87.1h0M92.1 100.5h0M87.4 95.3h0M91.9 96.3h0M93.5 87.8h0M90.4 97.1h0M88.2 82.3h0M88.0 85.6h0M91.1 86.6h0M88.0 88.6h0M89.3 79.6h0M98.9 76.1h0M94.4 94.3h0M90.2 100.1h0M91.0 97.8h0M90.9 92.7h0M89.3 78.8h0M87.5 97.8h0M93.0 82.6h0M95.5 87.9h0M92.1 98.6h0M87.3 96.0h0M89.5 95.0h0M90.7 90.4h0M93.8 85.4h0M91.6 93.0h0M91.1 91.6h0M94.1 77.1h0M88.3 93.3h0M89.6 94.1h0M86.8 89.8h0M89.9 94.1h0M93.5 87.5h0M91.3 86.4h0M90.5 90.2h0M97.7 75.1h0M92.3 89.5h0M89.2 86.5h0M89.2 97.1h0M97.2 90.0h0M89.0 95.2h0M93.6 93.9h0M98.8 88.3h0M88.8 97.8h0M88.3 90.7h0M91.7 97.8h0M87.6 97.3h0M89.8 93.6h0M87.7 89.2h0M94.9 90.3h0M90.4 85.9h0M92.6 87.0h0M93.5 80.0h0M92.3 90.1h0M89.6 91.2h0M89.6 83.6h0M88.5 95.9h0M89.9 91.6h0M86.5 91.5h0M93.8 97.2h0M88.1 85.0h0M92.1 80.7h0M89.8 81.4h0M89.9 91.7h0M88.4 96.6h0M95.3 89.4h0M94.6 99.4h0M94.5 99.4h0M91.7 86.7h0M95.8 74.3h0M90.4 83.4h0M90.0 86.7h0M88.6 95.0h0M90.6 93.1h0M88.7 82.9h0M86.5 91.5h0M93.2 100.0h0M91.1 81.9h0M88.0 91.7h0M89.0 86.4h0M90.1 92.2h0M89.2 86.6h0M89.7 98.9h0M91.6 83.0h0" stroke="#06A4FF" stroke-width="0.85" stroke-linecap="round" fill="none"/>
<path d="M144.6 100.8L146.8 100.8L146.8 102.8L144.6 102.8Z" fill="#FF66A8" fill-opacity="0.25"/>
<path d="M145.0 102.4h0M145.1 101.9h0M146.3 101.1h0M146.4 102.1h0M146.4 102.7h0M144.7 102.7h0M145.7 101.3h0" stroke="#FF66A8" stroke-width="0.85" stroke-linecap="round" fill="none"/>
<path d="M114.0 131.2L118.4 133.4L125.7 139.2L131.5 148.0L138.8 152.3L150.5 149.4L156.3 153.8L150.5 156.7L138.8 158.2L130.0 161.1L118.4 162.6L113.2 158.2L112.5 149.4L114.7 139.2Z" fill="#53B400" fill-opacity="0.25"/>
<path d="M149.8 154.6h0M149.2 150.9h0M123.3 146.9h0M130.9 154.8h0M128.1 156.1h0M155.8 153.7h0M126.7 143.3h0M115.6 138.6h0M139.3 152.9h0M139.2 153.3h0M121.6 147.8h0M115.4 149.1h0M128.9 147.5h0M121.0 144.8h0M122.1 151.9h0M133.0 150.3h0M124.8 141.8h0M113.5 145.0h0M120.6 153.5h0M122.6 148.9h0M129.0 144.2h0M130.0 151.3h0M153.7 153.3h0M144.9 155.1h0M144.2 155.3h0M126.4 142.4h0M114.6 137.2h0M145.4 153.5h0M117.0 153.3h0M129.4 149.5h0M121.7 159.0h0M118.5 140.7h0M136.9 154.0h0M123.5 157.7h0M118.3 147.5h0M146.2 153.7h0M129.5 145.6h0M125.3 139.9h0M145.1 153.2h0M122.2 146.2h0M121.1 135.6h0M126.5 154.0h0M119.1 161.7h0M137.7 156.0h0M147.6 153.8h0M116.2 151.9h0M136.1 153.6h0M129.6 149.2h0M114.2 156.3h0M127.6 154.8h0M117.5 160.3h0M129.0 151.5h0M149.6 150.4h0M118.8 136.4h0M121.6 153.1h0M121.4 148.0h0M132.7 149.7h0M123.4 155.3h0M115.8 153.9h0M143.7 157.2h0M128.3 156.0h0M117.5 151.5h0M137.3 157.9h0M145.6 151.2h0M140.1 156.2h0M115.5 147.7h0M113.6 155.7h0M115.0 146.4h0M122.8 150.2h0M120.4 137.5h0M128.0 159.5h0M146.9 151.7h0M145.1 155.2h0M133.2 159.4h0M132.2 153.2h0M117.4 146.3h0M133.7 151.7h0M113.3 156.2h0M126.1 140.0h0M127.2 143.6h0M127.0 160.2h0M150.1 150.1h0M116.5 133.0h0M143.2 153.3h0M151.3 152.9h0M136.1 158.9h0M119.3 152.2h0M121.0 149.6h0M139.5 155.4h0M139.9 157.9h0M115.0 159.3h0M125.8 140.3h0M121.6 140.2h0M125.0 154.4h0M130.9 157.3h0M115.5 140.2h0M128.2 157.5h0M114.6 147.9h0M144.2 153.5h0M115.9 155.6h0M129.5 158.3h0M123.8 151.7h0M121.5 146.3h0M112.8 148.3h0M146.9 152.7h0M120.7 137.3h0M123.8 160.2h0M124.3 159.8h0M113.9 151.3h0M116.0 132.8h0M126.3 152.0h0M118.8 149.9h0M126.5 153.7h0M121.0 155.3h0M138.2 156.9h0M124.9 156.7h0M143.5 155.3h0M122.0 147.7h0M115.2 144.0h0M124.2 160.7h0M128.1 153.6h0M124.0 161.4h0M127.2 157.2h0M126.2 143.9h0M133.2 151.2h0M144.5 154.9h0M146.6 153.1h0M123.2 147.9h0M122.0 142.8h0M130.5 158.5h0M150.4 153.0h0M117.1 146.1h0M121.5 149.5h0M128.9 160.1h0M120.9 156.2h0M125.1 140.2h0M139.0 152.9h0M119.8 148.7h0M117.7 148.6h0M117.6 136.5h0M121.2 156.0h0M125.9 147.1h0M126.8 143.4h0M117.2 145.8h0M115.2 147.6h0M135.8 157.5h0M129.2 150.9h0M119.8 150.6h0M115.5 151.9h0M132.0 157.2h0M121.7 140.2h0M119.9 160.8h0M152.9 155.1h0M114.4 142.1h0M119.6 153.5h0M148.9 151.9h0M120.4 162.2h0M114.0 145.8h0M116.5 158.9h0M113.6 150.6h0M128.7 152.8h0M140.6 154.5h0M115.7 143.6h0M148.3 155.7h0M121.0 154.4h0M119.7 136.6h0M118.8 136.3h0M119.1 152.9h0M129.1 151.5h0M120.7 136.3h0M121.0 146.2h0M115.0 158.4h0M113.2 157.9h0M127.0 149.4h0M114.3 144.8h0M135.9 158.2h0M115.1 142.5h0M116.4 142.8h0M113.6 153.2h0M118.8 160.2h0M115.2 151.8h0M119.2 162.4h0M121.6 147.2h0M133.1 154.5h0M115.9 139.7h0M142.9 154.5h0M120.4 145.2h0M121.2 159.2h0M116.1 156.2h0M130.2 151.3h0M150.8 156.0h0M119.5 139.3h0M117.0 142.9h0M144.6 153.1h0M136.8 152.4h0M124.5 155.1h0M149.9 154.5h0M127.0 146.0h0M127.6 156.0h0M113.8 154.0h0M114.2 144.4h0M115.6 152.0h0M124.5 150.5h0M119.3 143.8h0M115.1 154.6h0M120.1 148.8h0M118.0 145.5h0M147.4 154.7h0M124.3 144.0h0M134.4 158.9h0M119.8 153.9h0M122.0 150.4h0M132.1 155.2h0M125.7 161.4h0M118.2 135.4h0M150.4 150.1h0M121.9 139.9h0M113.8 156.6h0M125.5 156.9h0M122.7 151.2h0M129.7 155.9h0M113.7 157.8h0M125.7 154.4h0M151.1 155.1h0M154.7 153.4h0M141.5 153.1h0M126.1 154.9h0M120.3 143.5h0M133.2 149.3h0M123.3 148.2h0M128.1 151.5h0M130.6 158.2h0M119.6 157.1h0M132.2 156.7h0M129.4 151.7h0M127.3 154.6h0M115.3 133.9h0M117.5 146.7h0M118.4 151.4h0M114.4 147.3h0M147.6 156.5h0M144.0 156.9h0M114.5 134.0h0M125.9 158.9h0M151.4 155.2h0M131.5 151.9h0M115.8 153.3h0M124.3 138.7h0M127.1 144.6h0M140.4 152.7h0M138.8 155.4h0M120.1 142.5h0M141.2 154.3h0M144.9 154.2h0M115.7 137.1h0M118.2 137.7h0M140.1 155.1h0M128.1 144.9h0M121.6 154.6h0M120.1 155.9h0M132.9 149.0h0M123.5 141.3h0M115.2 145.7h0M119.5 136.5h0M148.5 153.8h0M133.4 150.2h0M125.7 156.3h0M123.3 157.1h0M120.9 160.9h0M118.3 156.4h0M126.5 155.8h0M138.3 156.4h0M134.3 154.7h0M123.2 137.5h0M123.0 159.1h0M116.9 139.9h0M120.3 147.5h0M121.2 136.0h0M119.2 140.4h0M141.6 153.5h0M117.5 155.2h0M126.3 161.4h0M116.6 141.8h0M128.3 150.0h0M140.6 153.2h0M119.7 141.5h0M114.8 146.0h0M134.4 156.0h0M142.8 154.5h0M122.6 154.9h0M132.4 150.7h0M118.9 152.9h0M115.7 145.3h0M155.5 153.8h0M131.3 153.9h0M129.4 156.2h0M115.3 132.4h0M118.2 159.3h0M124.8 140.4h0M117.9 161.2h0M141.0 156.5h0M119.4 161.5h0M115.7 132.4h0M118.3 141.0h0M119.6 161.4h0M120.6 138.4h0M114.1 142.5h0M146.4 153.1h0M123.2 137.5h0M119.7 141.4h0M117.9 139.6h0M119.4 144.3h0M120.7 159.1h0M119.6 153.8h0M127.0 152.0h0M137.9 157.9h0M121.7 152.7h0M142.5 155.1h0M117.4 145.1h0M114.8 140.9h0M115.4 137.5h0M119.3 156.3h0M114.6 157.6h0M123.2 139.6h0M152.0 151.4h0M122.9 143.8h0M116.0 155.8h0M137.1 153.8h0M140.9 157.8h0M128.0 153.3h0M117.2 133.6h0M145.9 156.4h0M129.9 151.7h0M124.4 160.6h0M113.7 145.3h0M116.9 142.2h0M128.5 144.9h0M118.0 136.6h0M131.8 155.7h0M115.0 145.4h0M142.7 152.1h0M113.0 149.9h0M116.4 145.5h0M120.1 143.2h0M124.1 148.2h0M123.2 144.3h0M115.2 153.3h0M123.0 138.7h0M131.1 160.4h0M153.7 153.1h0M117.8 138.8h0M116.0 151.9h0M133.1 158.3h0M116.4 141.8h0M136.6 155.0h0M144.2 152.8h0M119.8 157.0h0M116.9 140.4h0M145.7 156.7h0M145.2 152.7h0M114.1 155.2h0M114.2 148.0h0M118.0 162.1h0M129.2 147.2h0M154.6 152.8h0M115.6 140.1h0M122.7 149.3h0M116.2 156.5h0M114.1 155.5h0M130.5 154.0h0M123.6 152.5h0M118.2 152.2h0M118.8 150.7h0M138.4 157.6h0M117.9 158.9h0M118.1 152.0h0M116.2 136.5h0M137.3 153.1h0M125.2 141.6h0M119.2 134.9h0M130.6 156.4h0M120.9 138.1h0M129.8 159.4h0M129.8 152.4h0M150.2 156.7h0M124.7 152.2h0M123.6 145.1h0M117.6 161.8h0M130.3 159.0h0M115.1 136.0h0M122.8 144.4h0M121.5 140.3h0M128.6 145.6h0M113.6 157.2h0M122.5 142.6h0M136.7 151.9h0M133.4 153.5h0M141.3 154.5h0M115.9 140.2h0M121.0 153.3h0M122.6 154.8h0M127.7 155.6h0M136.0 155.4h0M122.1 156.9h0M121.3 149.1h0M131.7 149.2h0M116.3 159.8h0M122.0 145.7h0M118.0 134.0h0M113.2 148.0h0M132.3 150.3h0M121.2 159.8h0M125.0 145.4h0M142.6 152.9h0M122.0 139.7h0M137.6 158.2h0M118.4 137.0h0M133.4 156.3h0M117.6 138.2h0M126.6 157.8h0M140.8 155.9h0M125.4 145.7h0M129.4 155.2h0M141.6 152.3h0M122.0 152.3h0M125.8 141.9h0M115.5 138.2h0M125.3 145.9h0M126.2 146.7h0M122.2 159.5h0M131.4 158.3h0M118.8 137.1h0M128.8 149.7h0M115.9 140.1h0M119.0 154.5h0M118.5 155.2h0M115.1 146.1h0M127.2 160.4h0M138.2 153.1h0M131.1 160.3h0M142.4 156.4h0M117.1 151.1h0M125.5 157.5h0M118.6 142.8h0M129.2 145.7h0M125.6 152.0h0M116.1 142.6h0M154.6 153.2h0M116.3 141.0h0M123.4 151.0h0M122.2 138.9h0M127.1 159.0h0M130.4 149.4h0M117.1 140.9h0M151.0 153.3h0M120.5 160.5h0M129.7 151.3h0M119.6 141.1h0M124.6 156.1h0M127.1 147.9h0M124.0 147.5h0M136.9 153.9h0M123.9 138.8h0M137.0 154.7h0M123.0 148.6h0M115.7 145.2h0M116.8 159.1h0M118.4 154.6h0M136.2 158.1h0M141.9 151.7h0M128.4 160.4h0M126.2 151.1h0M129.2 159.6h0M122.0 159.7h0M125.8 157.2h0M125.5 151.4h0M133.0 157.4h0M116.1 154.5h0M118.8 152.3h0M116.1 134.3h0M113.5 152.6h0M125.7 143.6h0M114.5 157.4h0M127.1 142.8h0M113.7 149.9h0M129.3 152.3h0M123.7 147.8h0M125.2 157.2h0M122.4 158.1h0M145.9 155.2h0M117.7 134.9h0M116.3 152.8h0M127.0 148.4h0M128.2 155.0h0M138.5 153.2h0M115.1 149.0h0M125.7 156.3h0M124.3 141.6h0M118.4 157.5h0M132.1 150.2h0M145.8 153.9h0M113.0 148.2h0M127.7 158.7h0M116.6 134.8h0M146.2 151.7h0M119.3 153.0h0M114.4 152.0h0M119.9 147.4h0M131.2 154.0h0M125.0 151.5h0M115.0 158.7h0M126.7 159.5h0M129.3 152.2h0M124.2 159.2h0M117.3 148.9h0M128.1 159.7h0M128.9 157.7h0M114.6 142.7h0M127.3 160.2h0M140.2 157.7h0M128.9 153.1h0M114.7 145.4h0M123.6 148.3h0M117.7 151.1h0M125.0 139.1h0M117.5 161.3h0M117.0 146.7h0M139.1 153.0h0M142.7 154.2h0M147.0 153.5h0M137.5 154.4h0M118.3 146.5h0M121.4 156.2h0M116.1 159.5h0M114.7 132.7h0M117.5 157.5h0M117.3 152.2h0M115.4 142.4h0M118.0 141.7h0M119.2 155.1h0M126.2 147.4h0M152.0 153.6h0M150.4 152.0h0M136.2 159.0h0M113.4 156.6h0M118.7 157.3h0M149.3 155.7h0M144.4 155.7h0M142.2 153.8h0M117.0 137.8h0M115.9 147.7h0M121.8 146.7h0M119.1 151.0h0M119.1 143.1h0M115.3 132.2h0M123.6 143.1h0M145.5 152.9h0M113.4 157.7h0M124.1 158.6h0M122.1 159.5h0M121.9 153.1h0M119.0 135.3h0M124.1 152.9h0M154.3 153.9h0M119.8 143.3h0M116.1 139.2h0M117.9 149.7h0M125.1 138.7h0M115.5 153.7h0M122.3 144.2h0M129.0 160.1h0M124.2 153.8h0M115.1 157.9h0M119.1 139.9h0M152.2 151.4h0M123.9 148.0h0M120.2 135.0h0M115.4 133.6h0M146.9 155.0h0M122.3 146.1h0M131.0 157.6h0M146.7 153.3h0M116.6 142.5h0M134.4 154.6h0M143.4 152.3h0M149.9 152.5h0M116.8 143.3h0M114.5 151.2h0M151.0 152.7h0M146.1 151.2h0M136.1 158.3h0M122.9 154.6h0M127.5 148.1h0M141.0 153.3h0M151.8 150.4h0M122.3 155.4h0M119.1 142.9h0M127.8 158.7h0M116.4 146.4h0M125.3 140.5h0M116.5 151.4h0M113.8 153.6h0M116.8 145.1h0M142.1 153.0h0M128.7 148.1h0M122.4 151.4h0M115.1 157.7h0M132.6 149.4h0M116.8 137.8h0M119.2 150.1h0M117.8 136.0h0M139.1 154.6h0M129.2 153.4h0M124.5 154.0h0M132.1 157.4h0M125.5 144.3h0M132.6 153.3h0M128.2 161.1h0M126.2 147.5h0M114.4 158.3h0M116.5 137.2h0M153.6 153.3h0M121.3 154.9h0M116.2 139.3h0M120.7 137.0h0M114.2 141.9h0M121.2 136.6h0M113.4 150.8h0M145.0 154.8h0M116.6 150.7h0M128.2 152.2h0M147.7 156.9h0M114.3 142.1h0M134.2 154.9h0M115.2 141.0h0M142.9 151.5h0M137.8 151.8h0M135.6 157.8h0M121.3 160.5h0M133.2 153.0h0M118.2 155.2h0M116.6 146.6h0M133.5 151.0h0M120.9 138.0h0M115.8 157.9h0M151.0 153.1h0M126.4 145.3h0M149.3 151.1h0M117.4 134.2h0M114.9 138.1h0M122.4 138.3h0M121.9 159.4h0M123.9 148.1h0M118.4 153.3h0M133.6 151.2h0M137.4 154.3h0M136.4 154.8h0M137.4 156.2h0M122.4 142.6h0M136.1 155.1h0M139.3 154.1h0M123.4 147.8h0M126.9 147.1h0M126.8 154.4h0M117.5 142.9h0M129.0 152.0h0M145.9 150.6h0M119.2 134.2h0M119.9 156.1h0M127.3 158.8h0M121.7 145.2h0M115.1 159.0h0M143.3 152.2h0M125.1 152.6h0M114.6 154.3h0M151.5 154.1h0M124.8 158.7h0M151.6 154.8h0M118.9 139.7h0M124.2 151.2h0M113.3 150.3h0M130.5 157.2h0M131.6 149.7h0M129.0 150.1h0M117.5 159.4h0M124.6 142.8h0M115.6 140.6h0M119.9 152.6h0M113.6 150.3h0M132.5 148.9h0M116.4 159.8h0M137.9 155.3h0M147.3 156.1h0M119.4 137.1h0M122.5 138.8h0M125.8 157.6h0M125.7 143.3h0M137.8 158.0h0M115.3 156.8h0M115.5 134.1h0M119.8 136.3h0M114.7 150.4h0M121.4 144.1h0M134.2 153.4h0M117.4 141.2h0M140.7 156.2h0M120.7 151.8h0M151.7 154.6h0M117.3 135.5h0M113.2 155.0h0M121.5 141.9h0M129.7 156.3h0M152.7 154.7h0M122.1 142.9h0M119.0 136.9h0M133.8 155.1h0M118.8 137.1h0M146.2 154.9h0M122.3 155.1h0M122.1 148.6h0M149.1 152.9h0M121.6 152.2h0M120.6 142.1h0M124.9 160.1h0M123.0 148.0h0M133.7 156.7h0M149.7 151.2h0M122.3 162.0h0M129.2 153.7h0M129.4 156.6h0M137.2 154.8h0M122.0 150.3h0M127.5 155.3h0M116.7 148.6h0M113.2 147.3h0M117.5 140.7h0M127.6 146.1h0M116.5 143.6h0M119.2 159.3h0M116.5 158.5h0M119.6 154.9h0M124.5 144.4h0M150.0 151.5h0M125.7 151.1h0M123.7 157.3h0M129.8 147.4h0M126.4 153.7h0M121.5 148.8h0M134.5 153.5h0M116.7 150.2h0M135.7 156.5h0M118.1 143.6h0M124.3 145.9h0M116.7 152.4h0M151.9 151.6h0M152.2 154.3h0M128.6 157.7h0M115.1 157.1h0M121.3 141.7h0M139.9 156.8h0M117.4 159.9h0M119.5 156.2h0M125.2 153.3h0M127.2 157.2h0M147.2 150.4h0M121.9 144.1h0M130.1 155.7h0M133.5 151.0h0M129.5 152.9h0M123.6 150.5h0M124.9 155.5h0M114.4 151.4h0M134.9 150.9h0M116.6 152.4h0M115.9 151.4h0M130.5 149.8h0M117.8 142.0h0M127.2 142.9h0M118.5 151.0h0M126.8 156.7h0M117.9 136.0h0M142.0 153.5h0M136.5 154.0h0M120.7 138.3h0M121.7 158.6h0M122.9 141.2h0M140.8 153.4h0M119.6 147.2h0M120.5 158.9h0M142.0 153.7h0M116.2 153.6h0M128.3 156.0h0M123.7 158.6h0M133.3 159.7h0M136.4 158.1h0M114.7 141.2h0M121.6 145.4h0M140.7 157.6h0M123.3 145.1h0M115.8 159.5h0M133.0 159.7h0M140.3 155.5h0M140.9 157.4h0M116.9 160.2h0M118.0 144.0h0M151.2 156.0h0M115.1 155.3h0M137.1 158.6h0M116.1 151.1h0M132.8 150.1h0M121.5 147.8h0M130.1 160.9h0M133.7 156.7h0M137.0 155.4h0M126.4 151.8h0M125.3 156.8h0M143.1 155.4h0M149.8 153.0h0M118.2 135.9h0M133.6 156.2h0M122.2 160.7h0M144.4 156.6h0M125.2 140.7h0M151.9 150.6h0M120.6 153.0h0M148.1 155.6h0M133.4 154.8h0M130.8 150.7h0M146.9 152.2h0M118.1 148.2h0M120.7 156.6h0M119.6 136.0h0M141.3 154.5h0M114.1 153.9h0M127.2 142.2h0M127.4 147.6h0M136.2 157.1h0M119.6 150.0h0M154.7 153.3h0M120.3 155.2h0M122.0 143.5h0M127.1 145.6h0M115.4 136.3h0M123.1 149.1h0M137.4 154.0h0M139.0 153.6h0M125.1 139.0h0M127.9 149.7h0M123.7 147.1h0M130.0 147.2h0M118.4 155.4h0M116.9 140.8h0M115.8 160.1h0M119.0 155.4h0M140.3 154.0h0M118.5 157.1h0M132.5 151.8h0M127.7 153.3h0M114.8 149.2h0M127.5 148.2h0M137.4 156.7h0M151.0 150.4h0M123.9 141.8h0M116.3 160.6h0M119.0 156.8h0M119.2 157.2h0M149.1 154.1h0M127.0 152.7h0M118.0 154.5h0M122.4 138.2h0M116.9 134.5h0M126.5 152.0h0M136.3 151.8h0M139.8 156.7h0M118.7 157.6h0M131.4 152.4h0M126.4 160.9h0M115.2 158.9h0M122.5 144.7h0M120.9 150.4h0M115.3 145.8h0M146.6 157.0h0M127.5 151.0h0M118.9 145.2h0M140.6 154.4h0M120.5 139.6h0M131.9 150.1h0M118.0 146.3h0M121.0 162.3h0M141.3 153.0h0M119.2 160.6h0M139.5 158.0h0M119.7 152.0h0M113.4 152.6h0M135.1 153.1h0M140.5 156.6h0M120.3 136.6h0M126.1 142.9h0M121.6 143.5h0M117.6 142.4h0M138.5 155.2h0M127.1 146.6h0M118.3 152.1h0M131.7 160.0h0M144.5 156.5h0M122.4 161.9h0M115.5 141.7h0M121.3 155.5h0M124.7 161.3h0M115.4 141.6h0M126.5 152.6h0M124.8 149.0h0M126.5 152.0h0M116.1 153.2h0M118.5 158.9h0M120.2 159.9h0M126.3 146.1h0M146.9 156.9h0M114.6 134.7h0M123.5 141.1h0M135.7 156.4h0M117.2 146.9h0M138.8 154.0h0M151.4 155.9h0M147.5 155.9h0M140.4 157.8h0M145.7 155.6h0M118.2 142.7h0M133.7 150.4h0M126.7 149.5h0M133.2 150.5h0M148.9 153.7h0M148.1 153.7h0M117.7 146.8h0M120.0 141.0h0M118.3 150.9h0M130.1 156.7h0M112.7 149.3h0M117.9 155.7h0M122.0 151.7h0M119.6 160.9h0M115.0 137.7h0M118.2 152.6h0M126.8 157.0h0M128.6 148.6h0M128.2 154.8h0M120.0 154.3h0M122.5 150.1h0M122.3 149.5h0" stroke="#53B400" stroke-width="0.85" stroke-linecap="round" fill="none"/>
<path d="M162.2 121.0L166.5 121.7L170.2 129.0L168.7 134.8L163.6 142.1L156.3 148.0L151.9 149.4L153.4 145.0L157.8 137.7L159.2 130.4L160.7 124.6Z" fill="#00B6EB" fill-opacity="0.25"/>
<path d="M152.6 147.4h0M158.8 145.9h0M166.6 136.3h0M163.3 126.7h0M162.4 141.4h0M162.2 134.6h0M160.2 131.7h0M162.5 122.8h0M169.3 131.4h0M160.0 136.0h0M164.1 128.9h0M163.8 129.0h0M160.7 135.9h0M162.5 121.2h0M164.4 129.0h0M164.6 139.8h0M161.1 142.5h0M163.6 140.0h0M158.3 143.3h0M164.8 134.4h0M161.1 143.6h0M164.6 124.6h0M155.3 146.3h0M157.2 143.6h0M167.9 131.8h0M158.6 144.9h0M167.4 130.6h0M157.7 141.5h0M164.1 140.7h0M167.2 132.6h0M160.4 140.9h0M155.3 143.5h0M169.3 129.1h0M159.7 141.0h0M158.6 144.8h0M164.6 128.8h0M166.1 131.2h0M166.4 122.5h0M164.3 121.4h0M163.2 141.2h0M164.9 123.1h0M169.5 130.5h0M161.4 136.8h0M157.6 146.0h0M167.4 130.7h0M161.4 136.9h0M160.6 135.1h0M162.0 125.9h0M168.3 133.2h0M164.2 123.8h0M157.2 140.0h0M165.5 122.3h0M166.0 124.5h0M159.3 137.4h0M153.1 146.3h0M157.1 144.9h0M163.3 121.3h0M162.6 133.6h0M165.3 126.5h0M163.9 135.5h0M165.4 138.6h0M162.9 135.5h0M156.3 141.4h0M158.4 143.5h0M167.1 130.8h0M152.7 148.2h0M166.3 124.3h0M168.7 133.4h0M161.5 132.8h0M165.0 125.2h0M161.1 134.4h0M168.0 126.9h0M153.9 145.5h0M155.9 143.2h0M167.9 131.2h0M161.1 128.3h0M165.0 136.5h0M164.4 128.2h0M160.0 139.7h0M154.8 144.9h0M165.0 137.9h0M157.7 140.8h0M162.0 126.3h0M160.1 142.9h0M161.3 123.3h0M155.6 145.8h0M169.4 128.5h0M163.3 123.0h0M160.8 130.6h0M165.8 133.8h0M165.7 135.0h0M159.6 130.0h0M161.0 132.7h0M158.2 137.0h0M168.5 126.7h0M164.6 139.3h0M167.9 135.3h0M165.9 123.3h0M159.4 129.9h0M162.3 130.3h0M160.1 134.3h0M165.5 132.6h0M160.1 144.8h0M158.7 135.4h0M157.3 144.1h0M158.2 137.9h0M162.7 134.9h0M161.7 137.1h0M161.6 130.7h0M160.3 144.1h0M164.5 136.0h0M156.7 143.7h0M158.2 140.4h0M166.7 123.7h0M163.6 134.0h0M161.5 122.8h0M162.8 134.8h0M158.3 136.6h0M158.1 137.2h0M166.4 122.7h0M161.8 130.7h0M162.1 129.4h0M160.7 131.7h0M155.2 145.9h0M163.9 137.0h0M162.8 137.6h0M159.3 144.8h0M167.6 132.6h0M158.0 143.6h0M162.8 141.7h0M158.3 139.3h0M153.8 148.3h0M161.5 126.1h0M168.6 132.9h0M163.2 141.8h0M168.6 133.1h0M165.4 133.1h0M155.0 146.1h0M162.4 134.0h0M155.2 148.1h0M166.3 127.3h0M161.0 124.0h0M158.1 141.8h0M160.0 133.2h0M161.9 134.4h0M166.0 123.6h0M161.5 135.9h0M165.4 124.5h0M167.7 134.7h0M167.4 136.1h0M162.2 124.7h0M164.1 141.3h0M164.4 140.3h0M166.1 135.0h0M164.9 138.4h0M160.7 137.2h0M158.5 138.5h0M157.3 143.4h0M154.3 147.7h0M166.8 126.9h0M165.0 128.4h0M169.0 126.8h0M167.1 137.0h0M152.4 148.6h0M156.8 144.9h0M167.6 136.0h0M163.6 136.9h0M163.8 133.5h0M161.4 130.0h0M159.9 135.1h0M166.2 135.5h0M159.4 136.0h0M157.7 146.0h0M168.2 126.3h0M162.7 122.3h0M160.4 139.5h0M166.1 123.0h0M158.2 142.3h0M156.7 146.0h0M164.6 134.4h0M170.1 129.0h0M160.1 128.3h0M169.4 132.1h0M161.8 137.6h0M163.0 122.5h0M163.9 126.9h0M164.2 138.4h0M164.7 139.0h0M162.9 131.5h0M166.6 128.7h0M154.9 146.4h0M167.2 133.2h0M166.5 129.9h0M159.6 137.3h0M163.5 133.8h0M161.9 128.7h0M155.9 145.8h0M169.2 131.2h0M163.2 123.8h0M156.9 144.3h0M165.4 130.2h0M169.4 129.7h0M161.7 131.8h0M165.6 121.7h0M168.5 132.6h0M162.3 141.8h0M159.3 136.8h0M159.1 138.6h0M162.0 129.6h0M155.5 142.1h0M159.7 136.5h0M166.8 128.7h0M158.7 146.0h0M164.1 132.9h0M153.2 148.4h0M160.0 139.2h0M164.8 125.3h0M156.0 144.7h0M162.7 132.2h0M157.1 145.3h0M162.8 136.5h0M163.5 130.7h0M163.8 138.9h0M165.3 123.0h0M163.4 132.5h0M161.8 124.3h0M160.2 127.4h0M154.1 144.9h0M154.1 147.9h0M163.6 133.9h0M162.3 136.8h0M157.8 145.7h0M157.6 144.7h0M159.4 138.0h0M161.6 132.9h0M163.4 134.9h0M157.5 144.9h0M156.4 143.1h0M162.7 139.4h0M165.9 131.4h0M162.5 139.6h0M162.2 140.0h0M165.8 137.9h0M157.6 143.1h0M163.6 131.1h0M165.3 127.9h0M164.0 122.3h0M163.9 125.6h0M163.5 136.0h0M152.4 148.0h0M169.7 128.4h0M164.3 131.7h0M161.4 135.5h0M160.9 129.5h0M162.5 123.5h0M164.1 133.3h0M157.5 140.8h0M166.8 125.3h0M164.8 137.2h0M162.3 133.4h0M160.7 138.2h0M161.1 129.2h0M157.5 145.8h0M160.8 130.8h0M169.4 130.9h0M162.2 127.7h0M155.4 142.2h0M165.7 124.6h0M163.8 133.2h0M166.6 133.1h0M166.4 130.3h0M156.1 144.7h0M168.0 133.0h0M160.9 140.4h0M164.5 125.6h0M168.4 134.2h0M162.9 123.8h0M158.3 143.8h0M165.0 131.8h0M159.5 136.4h0M164.9 123.1h0M160.4 140.9h0M153.5 147.3h0M164.4 129.9h0M165.3 124.1h0M159.4 141.9h0M160.6 136.7h0M169.4 130.2h0M156.8 141.3h0M165.7 122.9h0M163.3 123.8h0M160.3 143.0h0M160.1 137.6h0M161.8 124.1h0M170.0 128.8h0M158.9 137.7h0M161.0 129.1h0M159.9 136.7h0M168.1 133.7h0M163.8 123.8h0M162.3 127.7h0M163.2 124.0h0M155.3 143.2h0M166.7 124.2h0M156.7 139.6h0M157.4 140.7h0M166.4 135.3h0M165.4 128.3h0M158.4 141.6h0M159.5 143.4h0M162.0 134.9h0M160.7 140.4h0M159.9 140.7h0M156.8 142.4h0M165.0 124.2h0M156.2 141.3h0M164.2 140.2h0M163.1 124.5h0M163.8 125.0h0M169.0 127.1h0M164.8 129.1h0M164.1 140.4h0M162.4 135.2h0M158.4 136.1h0M155.7 144.3h0M163.7 131.7h0M165.8 128.2h0M163.7 126.3h0M160.6 129.6h0M161.6 140.7h0M159.0 135.6h0M159.8 136.0h0M162.7 128.4h0M156.9 146.9h0M156.9 147.0h0M166.7 130.3h0M165.8 136.9h0M165.3 130.2h0M158.4 141.6h0M164.7 136.0h0M168.5 131.3h0M163.9 130.3h0M162.0 128.0h0M161.4 134.0h0M166.0 127.7h0M162.5 132.1h0M165.8 126.6h0M160.5 135.4h0M157.6 142.6h0M168.1 135.5h0M159.5 144.2h0M166.2 124.6h0M167.8 136.0h0M161.3 132.8h0M158.3 136.2h0M154.2 145.2h0M163.5 138.2h0M161.4 143.8h0M163.4 133.5h0M155.0 147.6h0M168.6 130.7h0" stroke="#00B6EB" stroke-width="0.85" stroke-linecap="round" fill="none"/>
<path d="M143.2 156.7L157.8 158.2L168.0 161.1L170.9 166.9L166.5 171.3L157.8 177.2L151.9 185.9L146.1 185.9L144.6 175.7L144.6 168.4Z" fill="#00C094" fill-opacity="0.25"/>
<path d="M144.8 167.5h0M149.9 171.2h0M147.2 166.8h0M157.9 171.0h0M154.5 163.0h0M164.6 161.8h0M160.5 162.7h0M147.8 158.7h0M155.4 179.5h0M146.8 183.3h0M160.4 170.8h0M146.0 174.8h0M145.1 178.1h0M152.8 171.6h0M156.3 174.9h0M148.5 177.2h0M164.5 163.1h0M151.7 183.9h0M148.3 173.3h0M154.7 174.7h0M149.7 185.5h0M149.9 181.7h0M153.1 178.7h0M152.1 174.0h0M152.1 165.3h0M152.3 176.5h0M146.3 166.2h0M153.7 165.5h0M160.4 171.9h0M147.9 179.3h0M145.2 173.2h0M151.2 179.9h0M149.8 174.3h0M168.0 162.9h0M160.6 171.7h0M147.4 163.6h0M146.0 172.2h0M154.6 164.4h0M150.5 170.3h0M150.0 173.2h0M150.5 182.7h0M149.2 168.5h0M156.7 178.2h0M159.2 164.4h0M158.2 171.3h0M153.6 161.7h0M147.6 167.0h0M154.9 169.2h0M152.0 179.9h0M162.2 173.3h0M147.5 173.2h0M164.2 161.3h0M154.9 178.3h0M153.8 163.9h0M163.4 165.9h0M147.9 164.9h0M156.3 161.7h0M165.6 162.6h0M147.2 165.4h0M159.8 160.1h0M145.4 162.2h0M152.0 169.3h0M168.8 167.9h0M151.3 180.1h0M149.1 161.8h0M151.0 183.0h0M167.5 162.8h0M163.7 169.4h0M146.4 157.5h0M152.1 166.8h0M149.7 161.9h0M164.3 165.9h0M165.3 164.4h0M152.2 169.8h0M150.0 158.3h0M150.2 183.6h0M164.1 172.7h0M168.9 166.1h0M152.4 175.3h0M163.2 172.3h0M169.6 166.4h0M148.8 169.2h0M162.3 173.5h0M162.9 164.7h0M163.8 166.9h0M156.9 167.4h0M158.1 165.5h0M146.1 160.5h0M163.5 167.3h0M153.1 173.6h0M162.3 169.0h0M148.8 170.2h0M160.9 169.2h0M160.8 166.5h0M144.8 165.6h0M153.7 176.6h0M152.4 172.7h0M151.8 184.7h0M147.5 182.1h0M158.7 167.9h0M166.5 166.5h0M153.7 165.9h0M147.6 183.3h0M159.7 166.4h0M157.1 169.3h0M150.8 167.7h0M144.3 161.8h0M150.6 170.0h0M148.6 175.0h0M169.9 166.3h0M166.6 166.1h0M155.5 168.9h0M168.7 166.6h0M154.8 169.7h0M154.7 179.0h0M148.0 178.8h0M148.8 177.7h0M166.0 166.0h0M153.5 158.3h0M160.3 162.7h0M157.7 167.8h0M146.8 158.0h0M149.3 175.4h0M151.8 182.8h0M146.2 178.3h0M169.6 164.8h0M166.4 163.4h0M150.2 158.4h0M155.3 160.3h0M167.8 163.1h0M149.7 182.8h0M154.3 159.5h0M164.5 168.9h0M163.0 163.0h0M164.7 166.6h0M149.9 169.2h0M150.5 171.0h0M153.8 179.0h0M159.6 169.2h0M147.4 174.7h0M147.0 164.9h0M168.8 164.4h0M150.1 162.6h0M153.8 162.8h0M147.0 157.8h0M163.6 170.7h0M146.7 159.7h0M148.5 158.5h0M151.7 170.6h0M163.0 172.7h0M149.6 168.9h0M152.5 161.0h0M154.8 174.8h0M167.5 167.2h0M143.9 160.7h0M166.0 169.2h0M154.5 179.2h0M152.1 162.9h0M145.7 178.9h0M155.0 179.2h0M162.8 161.8h0M167.4 162.8h0M147.3 182.0h0M152.7 178.3h0M152.9 168.1h0M157.1 158.5h0M166.4 167.8h0M167.1 161.3h0M155.2 172.8h0M148.9 174.4h0M153.7 180.4h0M149.3 178.9h0M154.0 173.4h0M163.4 160.1h0M151.2 164.3h0M149.0 173.7h0M152.8 183.0h0M148.9 180.8h0M152.3 181.2h0M154.5 165.6h0M154.7 158.3h0M148.6 173.7h0M165.5 163.7h0M168.5 165.4h0M162.0 165.6h0M163.7 171.6h0M152.9 180.6h0M159.1 174.5h0M160.9 174.2h0M154.1 172.8h0M158.1 165.5h0M153.7 165.4h0M143.7 159.6h0M161.8 172.1h0M149.5 174.8h0M161.9 173.2h0M158.4 164.5h0M165.4 168.6h0M144.1 157.1h0M156.8 177.7h0M144.7 172.1h0M155.4 169.5h0M159.9 161.4h0M163.0 171.3h0M151.5 168.2h0M145.9 173.6h0M162.9 166.1h0M154.8 166.4h0M151.5 162.7h0M153.4 183.6h0M161.8 169.0h0M161.6 160.7h0M148.9 161.8h0M155.6 161.3h0M151.5 160.6h0M145.9 181.6h0M151.3 183.6h0M151.0 184.5h0M153.2 161.9h0M153.1 167.6h0M144.9 157.3h0M156.1 176.5h0M145.5 158.2h0M146.8 159.8h0M148.6 170.9h0M157.2 167.3h0M166.6 161.2h0M157.9 172.9h0M145.3 164.5h0M147.0 183.8h0M154.7 176.9h0M146.1 185.6h0M157.8 161.9h0M146.6 168.6h0M153.1 160.9h0M148.6 169.3h0M144.9 170.1h0M150.9 181.3h0M146.6 175.0h0M160.8 174.9h0M159.7 160.9h0M155.4 174.1h0M152.9 159.9h0M151.9 159.4h0M146.5 173.0h0M150.3 159.1h0M153.2 183.9h0M146.7 177.8h0M153.9 164.8h0M160.6 160.5h0M162.4 160.9h0M166.5 163.7h0M167.1 162.4h0M149.5 168.7h0M153.2 177.6h0M154.3 158.5h0M157.0 176.4h0M145.3 171.3h0M160.1 159.5h0M149.2 184.0h0M153.1 171.8h0M150.9 172.7h0M146.9 169.6h0M158.1 170.2h0M145.6 170.3h0M156.2 172.8h0M149.3 171.6h0M153.8 162.1h0M158.7 161.5h0M158.7 164.1h0M167.8 163.0h0M167.5 163.7h0M159.3 171.5h0M149.0 179.4h0M164.5 160.9h0M149.9 174.1h0M156.4 178.2h0M165.7 171.3h0M153.2 160.9h0M154.9 161.8h0M149.6 179.5h0M144.8 175.7h0M156.5 165.7h0M151.0 184.9h0M144.4 160.5h0M158.5 170.2h0M164.3 163.4h0M153.0 179.7h0M158.0 159.4h0M160.4 161.8h0M155.2 174.0h0M154.8 175.8h0M148.9 182.9h0M146.4 181.6h0M150.0 159.8h0M147.6 168.6h0M159.7 161.5h0M159.3 174.1h0M145.7 182.4h0M151.8 160.6h0M146.5 173.0h0M154.7 159.6h0M163.4 160.4h0M153.2 175.8h0M151.0 166.6h0M159.0 172.1h0M152.3 166.2h0M151.5 177.8h0M155.5 172.0h0M147.9 164.9h0M145.9 172.5h0M152.3 173.8h0M155.3 161.2h0M150.5 176.1h0M151.2 164.7h0M150.5 166.3h0M168.2 168.5h0M167.4 163.1h0M158.7 162.1h0M146.1 157.0h0M147.9 157.6h0M151.9 166.9h0M148.1 183.8h0M161.7 168.1h0M160.2 167.0h0M153.1 166.7h0M161.1 170.6h0M153.1 159.6h0M146.1 168.7h0M151.4 177.8h0M147.3 167.6h0M154.0 179.2h0M151.1 177.2h0M150.9 167.4h0M162.7 163.3h0M147.4 175.1h0M146.0 167.1h0M151.3 167.8h0M153.1 167.3h0M152.1 174.9h0M150.0 178.6h0M152.3 165.9h0M156.2 158.5h0M151.7 173.3h0M160.0 164.7h0M150.2 162.1h0M145.0 167.5h0M154.4 165.0h0M151.6 173.6h0M167.3 168.9h0M165.1 161.8h0M160.7 171.8h0M156.2 179.2h0M145.9 171.2h0M146.0 174.3h0M170.5 167.0h0M159.1 164.5h0M145.9 159.4h0M149.4 179.5h0M160.6 168.6h0M154.1 178.8h0M155.4 169.1h0M146.4 175.1h0M166.4 164.6h0M160.7 170.7h0M150.5 181.8h0M154.3 166.6h0M150.0 182.6h0M155.8 162.9h0M153.8 170.0h0M150.1 158.7h0M147.9 160.3h0M146.5 181.7h0M146.9 184.7h0M160.7 165.3h0M148.3 175.2h0M165.5 169.6h0M156.5 176.4h0M146.6 185.1h0M168.6 166.3h0M159.6 172.6h0M158.2 170.7h0M153.2 175.4h0M152.2 169.9h0M154.6 159.4h0M147.8 177.4h0M155.3 176.3h0M150.2 167.3h0M149.9 176.8h0M165.2 168.0h0M149.6 171.6h0M145.9 183.6h0M159.1 173.3h0M150.2 180.0h0M150.5 177.1h0M151.0 163.1h0M157.9 172.6h0M145.1 161.0h0M149.7 180.9h0M156.8 168.3h0M166.5 166.0h0M152.1 160.0h0M150.9 183.3h0M163.3 169.8h0M159.8 160.0h0M152.6 160.0h0M152.0 160.6h0M144.1 161.7h0M154.9 160.3h0M159.1 167.7h0M153.6 164.4h0M165.6 168.5h0M150.3 174.5h0M146.1 170.4h0M160.8 160.3h0M159.1 165.1h0M157.8 171.9h0M165.3 160.4h0M144.8 163.8h0M153.6 178.5h0M151.1 157.7h0M160.5 174.1h0M150.3 177.0h0M155.9 175.0h0M165.8 169.9h0M158.1 161.9h0M147.5 181.7h0M155.9 165.2h0M149.7 181.6h0M161.8 160.3h0M145.9 175.7h0M153.3 168.3h0M155.7 163.5h0M164.2 163.5h0M169.4 165.2h0M149.2 168.8h0M147.0 168.3h0M152.7 176.0h0M164.6 167.7h0M162.1 162.9h0M150.9 168.5h0M154.3 163.2h0M150.9 168.8h0M152.1 176.4h0M149.5 163.9h0M150.0 171.9h0M148.0 166.9h0M159.1 160.4h0M145.6 163.9h0M152.9 161.5h0M154.5 160.3h0M164.5 170.9h0M152.5 160.2h0M154.7 173.6h0M148.9 161.6h0M149.2 168.3h0M151.1 163.5h0M164.3 165.3h0M155.3 158.4h0M153.9 161.5h0M148.9 173.4h0M158.4 165.0h0M150.5 174.0h0M154.0 172.8h0M143.6 157.2h0M160.0 161.3h0M158.3 165.7h0M160.9 171.2h0M162.2 172.8h0M160.6 164.1h0M164.3 162.2h0M168.8 167.0h0M148.1 177.6h0M149.6 157.4h0M146.1 162.3h0M144.7 169.3h0M164.4 167.0h0M144.9 172.2h0M159.5 173.6h0M148.0 170.0h0M163.5 167.5h0M159.2 159.3h0M161.8 167.4h0M153.7 174.7h0M149.0 172.7h0M152.2 158.4h0M162.0 165.5h0M156.2 170.0h0M162.5 163.8h0M155.9 169.3h0M157.7 177.3h0M155.3 178.8h0M158.1 169.5h0M159.0 173.7h0M156.0 162.4h0M162.7 173.8h0M152.7 166.9h0M160.9 162.8h0M155.1 167.7h0M149.9 165.6h0M152.4 168.4h0M161.1 161.5h0M151.8 173.1h0M159.0 172.9h0M145.7 167.9h0M164.2 164.3h0M147.1 160.7h0M152.3 176.1h0M170.4 166.7h0M151.5 160.7h0M145.0 164.6h0M144.6 161.1h0M153.2 164.6h0M151.5 168.1h0M151.3 175.5h0M147.5 158.2h0M169.4 164.7h0M147.3 176.4h0M157.7 176.6h0M154.4 159.8h0M148.0 159.9h0M159.8 170.2h0M158.7 166.5h0M162.9 168.5h0M146.5 184.8h0M159.1 161.9h0M158.1 176.7h0M153.8 158.3h0M165.2 165.6h0M159.8 168.3h0M153.0 166.0h0M154.2 181.8h0M149.5 180.8h0M159.7 166.3h0M164.7 165.8h0M156.7 160.9h0M154.6 172.1h0M145.6 177.5h0M149.5 177.5h0M153.3 172.6h0M150.0 160.0h0M162.4 166.9h0M152.3 181.1h0M147.2 175.3h0M156.3 179.3h0M152.8 174.7h0M164.0 160.1h0M149.5 180.6h0M159.7 165.6h0M145.3 163.1h0M150.2 178.3h0M157.0 178.4h0M164.6 168.9h0M150.5 179.8h0M145.3 164.4h0M166.5 169.4h0M144.2 163.1h0M157.9 168.8h0M147.0 161.2h0M146.0 173.7h0M153.8 157.9h0M160.0 172.9h0M166.8 167.6h0M163.8 172.4h0M146.9 185.0h0M155.0 174.6h0M158.5 175.2h0M166.8 163.9h0M157.7 161.2h0M160.7 174.0h0M146.8 185.1h0M166.2 164.3h0M151.1 181.5h0M169.1 164.0h0M146.4 167.8h0M161.1 162.4h0M165.9 171.4h0M147.9 166.7h0M148.0 171.5h0M151.3 171.0h0M144.4 161.1h0M162.1 160.4h0M152.4 173.9h0M164.8 167.2h0M151.6 164.5h0M144.8 170.3h0M149.8 176.3h0M164.9 162.8h0M158.5 165.3h0M156.7 177.7h0M152.9 172.4h0M145.4 172.4h0M149.5 169.3h0M160.5 175.4h0M155.3 164.0h0M169.1 164.7h0M163.6 162.3h0M152.9 166.3h0M147.5 160.7h0M157.0 164.5h0M153.7 172.8h0M154.5 174.0h0M149.9 165.6h0M154.0 181.7h0M166.1 164.9h0M155.2 172.0h0M156.4 166.7h0M166.1 167.1h0M150.4 160.3h0M154.7 164.5h0M153.1 169.6h0M147.4 164.8h0M147.8 176.1h0M148.9 176.7h0M147.3 173.4h0M149.2 164.7h0M159.7 158.9h0M158.6 160.1h0M144.3 159.2h0M145.6 173.9h0M164.9 162.6h0M146.6 166.2h0M152.0 174.7h0M146.6 163.4h0M146.9 164.0h0M148.5 161.1h0M159.4 165.8h0M151.2 177.3h0M159.3 170.7h0M153.6 175.8h0M151.7 177.8h0M148.7 180.4h0M156.1 176.5h0M167.0 162.5h0M165.6 163.8h0M146.8 182.3h0M155.6 167.2h0M150.4 172.6h0M165.6 169.0h0M145.3 175.9h0M154.1 168.7h0M167.1 165.4h0M150.3 176.1h0M147.6 171.1h0M156.4 167.8h0M146.3 177.6h0M166.2 162.5h0M151.8 162.5h0M159.3 162.8h0M147.0 184.7h0M151.9 165.6h0M158.3 160.7h0M153.3 178.2h0M159.1 160.9h0M162.6 170.8h0M155.8 175.3h0M156.5 166.9h0M156.0 166.5h0M152.7 180.8h0M157.9 163.5h0M146.2 185.7h0M165.5 168.8h0M168.4 167.5h0M152.2 167.1h0M151.3 162.0h0M144.9 176.9h0M165.4 160.4h0M153.4 158.2h0M155.3 174.8h0M149.7 184.8h0M151.1 173.4h0M160.7 168.3h0M155.4 174.1h0M158.5 164.4h0M158.4 172.1h0M155.6 171.3h0M155.2 161.6h0M155.8 179.9h0M146.7 184.4h0M145.4 158.0h0M161.0 166.8h0M148.2 182.0h0M156.6 173.4h0M163.8 162.7h0M157.8 173.7h0M147.4 178.6h0M154.4 172.6h0M150.5 175.4h0M146.6 157.7h0M166.2 167.9h0M158.0 168.1h0M153.6 172.7h0M152.2 166.5h0M151.0 165.1h0M148.2 163.8h0M166.6 164.1h0M146.3 160.9h0M154.1 168.6h0M163.3 173.2h0M161.1 170.1h0M161.5 163.7h0M144.7 159.7h0M148.1 159.7h0M150.9 165.1h0M148.5 182.3h0M145.6 169.5h0M154.6 169.0h0M150.5 171.0h0M145.1 165.3h0M158.9 165.2h0M154.5 172.2h0M145.5 162.6h0M155.6 174.8h0M158.7 172.0h0M149.2 182.1h0M146.4 163.5h0M148.5 163.4h0M151.9 174.4h0M154.9 162.6h0M147.3 183.3h0M155.6 180.0h0M153.6 181.6h0M146.3 167.2h0M157.3 172.7h0M161.4 160.3h0M150.0 162.6h0M144.9 168.3h0M145.3 166.3h0M147.3 158.9h0M154.7 167.3h0M146.4 184.3h0M160.3 167.8h0M157.8 174.2h0M161.4 168.7h0M144.3 161.1h0M150.7 176.2h0M152.0 159.1h0M150.4 178.3h0M145.5 160.1h0M145.5 181.5h0M161.1 164.6h0M145.6 158.6h0M158.1 162.1h0M150.3 171.0h0M153.5 176.6h0M169.2 166.6h0M151.6 158.6h0M150.1 162.7h0M143.9 158.3h0M158.4 164.4h0M152.4 178.7h0M162.0 160.6h0M158.0 174.8h0M158.4 163.6h0M144.8 170.4h0M146.8 173.0h0M147.0 171.6h0M154.2 174.5h0M164.8 168.3h0M163.9 164.0h0M155.2 178.3h0M154.7 168.4h0M151.3 184.1h0M146.4 178.3h0M147.7 178.8h0M151.9 176.0h0M150.4 178.8h0M161.7 169.0h0M155.6 174.6h0M159.6 164.1h0M165.5 166.5h0M162.8 163.6h0M145.1 169.1h0M149.8 160.2h0M146.4 157.9h0M148.1 170.2h0M158.4 169.9h0M157.0 173.0h0M146.0 182.7h0M155.1 164.1h0M162.3 169.9h0M161.4 170.8h0M165.5 163.5h0M148.3 178.6h0M151.5 180.2h0M145.3 167.2h0M151.6 181.6h0M162.6 170.9h0M163.5 166.2h0M145.6 160.3h0M148.1 171.1h0M162.5 161.0h0M151.2 176.4h0M149.6 173.1h0M148.5 160.2h0M146.2 177.7h0M164.2 160.7h0M149.9 171.4h0M146.1 166.8h0M155.7 177.5h0M150.6 182.9h0M155.7 177.3h0M154.0 166.0h0M165.0 163.9h0M154.3 176.1h0M148.5 166.0h0M155.4 164.1h0M148.8 163.1h0" stroke="#00C094" stroke-width="0.85" stroke-linecap="round" fill="none"/>
<path d="M140.3 164.0L146.1 165.5L146.1 178.6L143.2 185.9L141.0 184.5L140.3 174.2Z" fill="#FB61D7" fill-opacity="0.25"/>
<path d="M142.8 180.5h0M142.7 181.9h0M140.5 170.9h0M141.1 173.7h0M145.5 177.1h0M141.6 177.6h0M145.8 177.0h0M143.7 165.2h0M141.7 178.8h0M142.7 165.1h0M140.4 174.6h0M141.5 165.3h0M141.3 168.6h0M142.2 180.7h0M142.0 169.9h0M140.9 179.2h0M145.0 175.7h0M140.6 179.0h0M144.8 181.6h0M144.5 174.5h0M142.4 172.4h0M144.5 173.8h0M144.6 168.7h0M141.0 182.4h0M145.7 171.0h0M144.0 169.6h0M144.5 166.7h0M143.7 165.4h0M142.5 169.9h0M145.4 168.3h0M143.1 172.4h0M142.9 166.0h0M140.7 164.8h0M144.7 170.3h0M145.6 179.4h0M146.0 168.7h0M143.0 181.1h0M143.5 166.0h0M144.2 175.8h0M141.2 178.0h0M142.0 179.4h0M142.6 181.9h0M143.0 177.8h0M140.6 172.0h0M144.2 167.9h0M143.1 176.3h0M141.5 181.2h0M141.7 182.9h0M140.9 181.1h0M143.3 167.6h0M141.8 178.7h0M140.7 179.7h0M141.5 182.4h0M140.8 179.1h0M144.7 168.2h0M143.7 169.4h0M143.8 181.7h0M144.9 174.8h0M143.7 166.0h0M143.7 173.9h0M142.7 180.1h0M143.9 177.4h0M144.7 178.1h0M141.8 174.4h0M141.7 184.9h0M144.6 181.1h0M145.4 166.5h0M145.7 179.2h0M142.1 168.7h0M143.7 177.7h0M144.8 169.5h0M144.8 175.0h0M142.5 172.2h0M145.3 178.5h0M140.6 175.8h0M144.6 175.2h0M143.8 179.7h0M145.5 170.3h0M144.5 171.0h0M141.6 171.2h0M143.7 172.1h0M141.7 177.8h0M146.0 166.2h0M144.5 169.3h0M144.8 175.8h0M142.8 164.9h0M141.5 175.6h0M144.3 175.3h0M142.6 181.0h0M142.2 179.8h0M141.1 175.8h0M140.6 176.3h0M141.6 171.0h0M143.9 172.9h0M145.6 175.0h0M141.8 175.0h0M142.3 185.0h0M144.7 166.5h0M145.2 178.4h0M146.0 166.6h0M141.3 176.6h0M143.1 180.0h0M142.0 178.9h0M142.4 179.2h0M142.1 179.8h0M145.5 178.2h0M142.2 174.1h0M143.1 185.0h0M141.6 177.5h0M142.5 177.6h0M143.6 177.2h0M145.2 169.7h0M145.9 167.4h0M141.7 184.7h0M142.8 171.0h0M141.5 184.1h0M142.4 178.3h0M141.7 178.2h0M145.5 167.9h0M144.3 168.5h0M141.7 179.3h0M143.6 175.0h0M143.8 174.5h0M142.3 176.6h0M141.8 169.0h0M145.0 170.4h0M142.0 172.8h0M143.4 169.1h0M142.3 184.0h0M145.6 168.9h0M143.4 165.9h0M140.5 164.3h0M142.8 165.9h0M142.6 180.6h0M142.0 176.5h0M144.2 168.8h0M146.0 169.4h0M141.3 176.8h0M145.2 177.6h0M142.9 181.0h0M140.3 166.2h0M145.7 172.1h0M143.4 174.7h0M141.4 181.6h0M144.3 166.2h0M145.4 167.1h0M141.9 184.0h0M144.2 165.6h0M141.2 169.5h0M143.5 169.0h0M144.4 177.3h0M142.8 168.7h0M144.5 174.0h0M143.3 169.4h0M141.6 179.5h0M142.6 165.8h0M143.3 174.1h0M142.6 166.8h0M144.4 167.1h0M141.4 165.0h0M143.9 166.6h0M141.4 164.4h0M142.9 182.9h0M141.3 167.8h0M143.6 183.8h0M140.3 164.0h0M144.5 181.0h0M142.8 167.8h0M140.6 171.1h0" stroke="#FB61D7" stroke-width="0.85" stroke-linecap="round" fill="none"/>
<path d="M138.8 185.9L146.1 188.8L145.4 197.6L144.6 209.3L140.3 215.1L134.4 216.6L127.8 214.4L124.9 206.4L124.9 197.6L128.6 190.3L133.0 186.6Z" fill="#99A800" fill-opacity="0.25"/>
<path d="M127.5 207.5h0M139.4 197.7h0M126.8 194.8h0M132.9 210.3h0M142.4 191.5h0M141.7 192.4h0M136.5 187.7h0M143.4 199.4h0M140.9 192.4h0M136.7 194.0h0M127.3 200.8h0M134.2 187.7h0M137.5 194.3h0M134.2 195.1h0M138.7 196.9h0M142.5 210.4h0M144.6 202.2h0M144.5 196.6h0M135.0 195.0h0M139.0 186.4h0M132.4 213.1h0M128.9 203.6h0M128.9 206.8h0M136.0 192.3h0M135.5 212.7h0M135.7 189.3h0M127.2 209.2h0M131.5 213.7h0M133.1 216.1h0M128.4 198.0h0M133.3 193.2h0M137.1 204.1h0M143.6 194.0h0M129.8 193.2h0M135.9 199.8h0M140.6 189.7h0M144.7 189.5h0M129.4 193.7h0M136.1 213.4h0M132.2 206.7h0M130.1 201.9h0M139.5 209.6h0M126.8 209.0h0M129.7 206.0h0M134.6 211.0h0M127.3 201.3h0M143.9 189.4h0M132.2 187.4h0M137.2 187.9h0M131.9 200.8h0M139.8 214.9h0M136.0 210.2h0M143.7 195.2h0M129.7 213.5h0M137.0 200.4h0M134.9 199.0h0M130.3 210.3h0M134.3 204.9h0M127.4 200.3h0M133.1 190.6h0M132.1 199.7h0M132.8 208.2h0M134.9 197.3h0M138.4 208.3h0M131.6 204.9h0M129.7 213.6h0M133.1 214.6h0M127.8 203.3h0M129.4 206.0h0M136.3 189.4h0M130.8 189.1h0M143.2 195.9h0M136.2 191.4h0M130.9 192.9h0M127.8 210.9h0M129.6 200.8h0M141.7 198.4h0M126.2 202.4h0M142.5 204.1h0M140.5 187.8h0M141.6 195.3h0M140.0 196.7h0M141.8 191.5h0M139.8 214.6h0M140.8 187.0h0M131.4 208.7h0M126.3 202.4h0M131.1 194.3h0M133.0 213.9h0M142.6 200.0h0M130.3 203.8h0M134.9 192.2h0M133.3 203.1h0M137.1 207.8h0M135.9 213.0h0M134.9 206.5h0M131.1 206.0h0M141.6 188.2h0M138.6 202.8h0M131.6 192.3h0M135.3 208.2h0M142.1 210.4h0M127.0 195.4h0M129.5 193.4h0M134.0 193.6h0M135.1 196.9h0M137.7 196.9h0M125.9 196.8h0M136.5 190.1h0M132.6 209.7h0M130.8 203.8h0M141.0 200.2h0M129.6 200.2h0M129.7 214.5h0M128.2 211.3h0M138.5 193.6h0M127.4 196.3h0M131.6 188.6h0M141.5 192.3h0M132.3 187.4h0M133.4 190.1h0M140.3 212.4h0M129.0 195.7h0M135.9 191.0h0M128.9 193.9h0M133.6 212.3h0M138.4 205.5h0M134.6 205.9h0M129.0 200.1h0M133.2 215.9h0M140.2 213.3h0M139.7 197.6h0M139.9 215.0h0M140.7 190.3h0M142.9 190.9h0M125.3 206.0h0M138.4 212.6h0M141.4 192.3h0M128.2 199.3h0M126.8 196.4h0M133.5 204.4h0M139.4 213.1h0M136.4 213.4h0M132.8 192.3h0M132.6 199.1h0M139.0 188.6h0M132.3 212.9h0M125.2 199.7h0M127.6 208.1h0M140.5 197.1h0M135.4 199.3h0M128.2 205.9h0M142.7 205.4h0M137.5 208.5h0M137.4 198.8h0M131.5 200.6h0M125.0 200.3h0M138.6 211.0h0M137.9 196.8h0M135.1 198.9h0M138.6 189.0h0M129.4 204.8h0M128.2 210.9h0M136.0 187.0h0M130.3 193.9h0M138.3 207.0h0M129.0 192.1h0M135.8 215.4h0M138.4 187.6h0M142.7 196.3h0M135.8 190.1h0M127.6 207.6h0M139.7 208.7h0M139.9 209.2h0M131.3 214.4h0M129.2 210.1h0M128.0 202.9h0M144.0 192.7h0M136.4 212.5h0M131.5 202.0h0M130.0 194.6h0M138.8 209.9h0M137.5 204.4h0M131.9 209.1h0M144.9 202.7h0M135.2 201.7h0M139.9 201.4h0M134.3 216.3h0M138.5 210.4h0M140.0 190.1h0M138.3 212.6h0M130.2 209.3h0M126.8 194.0h0M133.0 197.2h0M133.9 199.9h0M127.9 208.1h0M141.7 212.2h0M143.3 194.6h0M143.2 210.9h0M127.5 210.2h0M136.1 201.8h0M135.9 211.5h0M134.2 194.6h0M142.5 188.9h0M131.1 212.3h0M140.7 189.6h0M138.0 211.5h0M130.4 196.5h0M140.0 197.7h0M144.2 197.4h0M127.1 202.9h0M130.0 194.3h0M131.4 210.4h0M144.1 207.3h0M139.9 192.5h0M132.5 197.6h0M136.5 206.7h0M128.6 203.7h0M143.0 198.4h0M126.4 202.6h0M131.6 199.2h0M138.5 199.4h0M128.4 199.3h0M133.7 193.2h0M130.1 199.4h0M133.6 196.6h0M129.8 202.9h0M133.6 193.6h0M142.2 189.6h0M132.2 194.6h0M127.4 196.4h0M129.5 205.5h0M136.2 214.0h0M133.8 210.7h0M145.1 198.5h0M130.9 200.3h0M140.0 195.8h0M128.1 210.8h0M140.0 204.7h0M130.4 190.3h0M140.7 210.7h0M132.2 211.0h0M142.7 207.7h0M126.1 196.7h0M128.5 195.4h0M133.2 210.1h0M139.8 203.0h0M134.1 211.3h0M128.4 209.2h0M140.7 197.5h0M144.3 197.2h0M139.0 194.4h0M141.1 211.0h0M134.0 199.3h0M127.3 199.1h0M139.8 210.1h0M128.8 192.9h0M126.8 199.3h0M139.7 196.6h0M137.0 190.8h0M134.1 212.3h0M131.0 213.1h0M133.5 215.3h0M133.8 186.9h0M130.5 208.0h0M133.2 207.7h0M129.2 208.7h0M140.8 207.4h0M135.0 209.3h0M127.1 209.1h0M137.2 205.7h0M133.6 205.7h0M138.1 207.2h0M128.1 210.2h0M131.7 199.7h0M131.3 215.0h0M140.2 186.9h0M141.6 206.5h0M128.4 199.0h0M126.2 197.3h0M129.0 204.9h0M140.8 211.8h0M126.7 203.4h0M139.7 206.7h0M139.7 191.2h0M128.8 214.6h0M134.5 212.0h0M130.3 200.2h0M127.1 212.4h0M140.2 186.9h0M130.7 209.9h0M133.1 192.2h0M129.8 192.4h0M134.1 207.4h0M138.1 202.6h0M133.5 199.9h0M132.8 203.7h0M134.1 189.9h0M127.1 200.9h0M134.4 192.4h0M129.4 204.4h0M144.4 207.5h0M133.0 210.8h0M143.8 206.0h0M142.3 190.1h0M137.0 202.5h0M133.5 200.9h0M138.1 207.4h0M141.0 213.9h0M133.9 215.5h0M141.6 197.5h0M129.9 213.3h0M133.3 211.2h0M135.0 198.1h0M129.4 208.2h0M139.3 203.0h0M139.9 211.0h0M130.6 200.9h0M131.8 207.7h0M129.8 198.8h0M133.9 189.4h0M128.9 193.7h0M133.0 202.2h0M143.6 205.7h0M133.4 213.6h0M128.2 208.9h0M133.2 195.4h0M141.9 201.1h0M137.8 209.3h0M141.0 192.1h0M131.6 190.2h0M131.5 213.3h0M136.9 189.7h0M131.1 214.9h0M133.1 210.0h0M136.2 212.2h0M135.7 189.0h0M135.9 203.8h0M137.0 209.7h0M128.5 196.4h0M140.5 195.5h0M133.7 196.1h0M128.1 214.0h0M133.2 193.2h0M139.4 211.6h0M141.0 209.9h0M140.2 189.7h0M141.2 190.0h0M138.7 212.5h0M133.7 205.0h0M139.2 194.2h0M139.7 207.7h0M141.1 199.7h0M140.7 200.7h0M130.7 204.2h0M141.6 201.2h0M127.5 212.2h0M143.7 193.9h0M137.0 214.7h0M134.4 213.4h0M127.4 197.3h0M128.2 193.1h0M133.6 189.3h0M134.6 209.3h0M143.4 191.2h0M127.1 205.5h0M131.9 203.0h0M138.3 204.6h0M133.8 212.0h0M130.7 215.2h0M132.9 198.1h0M138.6 194.7h0M144.4 194.3h0M136.9 209.1h0M128.6 208.3h0M125.2 201.3h0M130.6 189.0h0M140.9 192.7h0M135.9 215.0h0M139.7 202.2h0M132.8 197.0h0M130.8 188.8h0M136.0 199.2h0M141.7 190.1h0M138.3 213.2h0M137.1 197.8h0M137.0 190.6h0M131.4 189.9h0M125.5 198.9h0M130.8 194.5h0M128.1 201.7h0M130.1 191.4h0M131.3 197.0h0M144.5 198.4h0M134.3 207.6h0M132.3 215.4h0M138.1 204.4h0M131.0 193.3h0M131.2 188.3h0M132.6 196.7h0M131.5 214.8h0M137.9 213.0h0M125.0 205.5h0M134.3 201.8h0M132.1 202.0h0M134.3 195.5h0M136.9 187.8h0M145.7 190.8h0M138.7 201.1h0M128.3 210.8h0M135.3 186.4h0M125.4 203.6h0M136.6 215.7h0M137.3 205.6h0M141.7 207.3h0M130.7 210.0h0M126.9 210.4h0M132.7 197.2h0M145.8 191.2h0M138.0 199.5h0M131.2 188.7h0M135.6 214.7h0M129.6 207.7h0M141.1 208.7h0M141.4 210.1h0M145.2 199.4h0M127.8 196.2h0M134.1 204.6h0M133.4 215.8h0M136.3 191.5h0M132.9 190.3h0M136.6 191.3h0M132.6 206.0h0M139.3 214.3h0M129.1 197.1h0M130.4 188.9h0M138.9 208.3h0M125.6 201.5h0M130.3 193.4h0M131.3 198.6h0M139.4 210.0h0M135.9 202.2h0M137.0 198.5h0M130.7 210.9h0M137.5 206.7h0M133.7 203.5h0M141.1 199.5h0M128.5 201.1h0M142.2 200.0h0M137.8 203.7h0M132.3 190.4h0M140.7 202.8h0M141.9 211.3h0M142.8 188.5h0M134.7 214.4h0M130.8 211.6h0M140.8 203.5h0M131.1 206.0h0M144.1 193.0h0M126.7 203.5h0M144.6 201.4h0M131.5 214.7h0M132.7 200.9h0M135.1 193.2h0M136.7 210.4h0M128.0 208.3h0M130.1 203.4h0M134.2 209.0h0M141.6 211.7h0M134.7 208.9h0M142.3 192.5h0M142.3 197.1h0M134.3 203.5h0M145.2 198.9h0M127.4 206.9h0M139.1 201.2h0M132.2 191.4h0M143.3 202.7h0M138.0 206.2h0M133.7 187.2h0M142.2 198.3h0M139.4 207.8h0M138.8 195.1h0M126.7 195.9h0M137.9 200.0h0M139.3 203.4h0M134.3 212.0h0M132.9 192.8h0M132.5 208.5h0M133.0 213.3h0M137.8 196.4h0M135.0 197.8h0M125.8 196.3h0M135.8 187.8h0M142.6 209.7h0M134.8 188.2h0M142.4 202.1h0M144.7 189.8h0M137.1 205.6h0M138.0 187.5h0M139.2 210.4h0M141.0 212.6h0M143.2 188.9h0M141.5 197.9h0M131.2 209.4h0M138.8 205.0h0M138.5 188.3h0M142.2 198.1h0M128.9 200.7h0M130.6 189.9h0M138.7 215.1h0M126.2 200.8h0M126.5 197.8h0M141.1 192.7h0M143.1 203.2h0M141.5 196.7h0M130.9 210.3h0M132.1 203.4h0M137.8 214.9h0M145.2 189.5h0M132.6 214.6h0M129.4 199.1h0M134.7 192.5h0M132.6 209.5h0M139.6 205.5h0M140.6 204.0h0M132.6 202.4h0M137.4 202.2h0M137.2 208.4h0M140.1 198.8h0M141.4 195.2h0M137.1 187.4h0M129.0 201.6h0M128.7 192.6h0M133.2 198.8h0M134.7 193.6h0M131.8 207.5h0M137.4 214.5h0M129.5 198.7h0M138.4 207.6h0M127.5 208.5h0M143.3 209.2h0M144.0 188.0h0M128.3 202.9h0M137.2 201.5h0M142.0 191.4h0M142.2 204.7h0M137.7 197.4h0M128.2 203.2h0M131.1 197.7h0M142.6 209.5h0M139.1 203.5h0M130.5 202.2h0M138.3 198.6h0M142.2 207.2h0M132.2 192.5h0M132.9 209.9h0M141.5 204.7h0M140.6 197.9h0M130.2 214.9h0M132.9 192.7h0M135.0 216.3h0M141.7 213.0h0M144.8 205.3h0M130.1 208.0h0M125.8 200.4h0M139.9 212.8h0M143.4 187.7h0M136.2 199.1h0M128.5 192.8h0M144.4 199.2h0M129.6 209.1h0M139.1 199.5h0M134.7 212.8h0M129.2 206.1h0M136.8 194.2h0M139.6 190.3h0M137.6 192.7h0M131.4 214.5h0M126.1 203.1h0M134.7 210.6h0M138.9 197.7h0M134.4 196.7h0M137.7 192.7h0M135.5 201.0h0M128.3 200.0h0M134.7 203.7h0M136.3 214.1h0M142.0 200.9h0M135.1 201.2h0M131.8 209.9h0M125.8 200.1h0M134.6 203.5h0M140.1 198.7h0M133.5 187.0h0M144.7 202.3h0M133.9 212.8h0M145.0 203.2h0M125.6 201.1h0M139.4 197.0h0M135.5 188.4h0M131.6 214.2h0M128.7 201.6h0M140.4 195.0h0M141.8 200.6h0M137.5 201.2h0M135.9 192.4h0M134.3 216.2h0M125.6 203.7h0M142.3 199.9h0M135.7 211.1h0M141.3 204.2h0M139.9 209.1h0M143.1 195.7h0M131.2 200.5h0M134.0 190.1h0M136.3 197.4h0M140.0 203.2h0M142.5 211.8h0M129.1 205.7h0M133.5 211.9h0M144.4 204.7h0M130.5 207.3h0M145.5 195.3h0M138.4 196.6h0M131.7 202.5h0M131.7 208.7h0M140.0 207.4h0M145.9 191.1h0M125.4 202.7h0M139.1 207.8h0M128.0 208.2h0M139.3 209.8h0M130.1 193.9h0M130.6 197.7h0M135.9 211.3h0M137.7 201.8h0M126.3 204.3h0M142.4 196.7h0M128.1 192.9h0M133.1 186.6h0M131.9 192.7h0M128.2 205.3h0M143.3 208.8h0M126.0 195.9h0M131.3 198.3h0M135.6 203.0h0M135.2 205.7h0M142.7 201.3h0M126.5 197.2h0M130.5 210.5h0M128.4 212.8h0M137.2 187.5h0M141.7 205.8h0M137.0 208.1h0M138.0 215.0h0M131.7 205.8h0M144.5 204.8h0M128.0 212.9h0M145.1 188.7h0M144.4 193.5h0M144.1 193.4h0M131.2 204.6h0M136.1 202.7h0M130.6 208.2h0M136.8 212.7h0M136.2 215.5h0M136.8 191.2h0M132.9 205.7h0M127.8 202.7h0M133.1 206.2h0M136.8 200.8h0M138.9 210.6h0M138.5 186.1h0M128.4 195.3h0M140.9 211.1h0M136.7 204.2h0M128.8 203.4h0M140.7 196.1h0M138.9 200.8h0M142.2 197.0h0M133.7 212.7h0M143.8 204.8h0M135.6 190.0h0M145.3 197.4h0M127.9 201.3h0M132.2 206.8h0M134.8 212.6h0M132.2 202.5h0M140.5 201.5h0M138.4 209.9h0M133.5 196.5h0M135.7 194.4h0M136.1 204.3h0M144.5 205.2h0M145.1 191.8h0M130.2 191.4h0M145.4 197.9h0M138.9 199.7h0M139.7 213.7h0M134.0 207.6h0M144.3 205.3h0M139.2 205.5h0M129.4 214.6h0M143.0 197.3h0M129.4 208.5h0M141.7 210.9h0M133.9 202.9h0M140.0 208.6h0M143.1 211.3h0M131.0 202.7h0M137.5 197.8h0M129.5 211.1h0M136.2 212.9h0M138.6 207.6h0M136.4 199.5h0M141.7 188.3h0M137.9 208.5h0M144.7 200.3h0M141.8 191.9h0M139.7 206.4h0M126.5 202.6h0M142.6 194.4h0M134.4 201.9h0M133.0 206.9h0M137.2 189.5h0M137.7 208.6h0M131.6 202.5h0M143.9 199.6h0M131.0 214.0h0M130.0 193.3h0M145.6 192.6h0M136.2 204.4h0M143.8 199.4h0M136.6 190.7h0M139.8 200.0h0M131.1 196.1h0M139.5 196.0h0M141.2 208.3h0M131.5 204.9h0M137.7 196.3h0M137.2 215.6h0M130.3 193.2h0M135.2 192.7h0M132.1 203.0h0M127.7 201.2h0M134.5 213.0h0M128.2 212.8h0M137.8 189.8h0M138.8 214.6h0M128.8 212.6h0M143.0 192.9h0M131.3 200.0h0M134.3 191.9h0M139.7 211.0h0M125.9 206.2h0M131.1 200.0h0M137.6 194.1h0M138.7 208.5h0M138.8 185.9h0M132.0 190.0h0M144.6 191.1h0M125.9 201.8h0M142.9 195.1h0M126.8 209.2h0M142.9 191.3h0M132.5 193.0h0M127.7 205.4h0M126.5 201.7h0M136.3 212.7h0M145.4 188.6h0M129.9 191.3h0M134.8 190.9h0M139.6 208.9h0M143.5 201.9h0M139.2 190.7h0M126.3 210.3h0M137.6 204.6h0M134.9 189.2h0M143.6 208.2h0M144.9 200.7h0M131.0 202.2h0M132.8 200.2h0M129.7 213.0h0M127.5 205.9h0M135.6 208.4h0M129.4 200.3h0M136.0 187.1h0M130.6 196.7h0M129.1 190.5h0M144.5 209.4h0M141.2 204.5h0M129.2 207.5h0M141.6 194.6h0M141.6 210.9h0M137.1 191.6h0M135.0 200.0h0M134.3 198.8h0M130.4 213.4h0M143.3 192.8h0M132.7 191.1h0M127.7 195.5h0M128.8 190.7h0M132.0 210.7h0M126.7 208.6h0M135.5 201.2h0M137.5 192.9h0M133.5 189.3h0M135.5 190.3h0M140.4 194.0h0M129.3 212.7h0M135.7 205.5h0M124.9 203.3h0M143.4 192.1h0M136.3 212.8h0M134.9 202.5h0M138.6 191.3h0M132.3 201.3h0M133.7 204.0h0M127.4 198.1h0M134.6 210.3h0M139.0 209.0h0M138.1 191.8h0M139.8 191.4h0M142.6 201.4h0M134.6 213.2h0M135.3 201.4h0M129.2 197.4h0M127.9 198.2h0M134.2 207.2h0M130.3 195.8h0M142.9 195.1h0M135.2 198.2h0M134.9 215.8h0" stroke="#99A800" stroke-width="0.85" stroke-linecap="round" fill="none"/>
<path d="M146.8 188.8L152.7 185.9L153.4 197.6L152.7 206.4L147.6 209.3L143.2 212.2L145.4 200.5Z" fill="#A58AFF" fill-opacity="0.25"/>
<path d="M152.7 191.7h0M146.6 193.1h0M147.8 195.7h0M150.9 205.1h0M145.3 202.0h0M151.0 197.7h0M148.5 189.3h0M150.7 198.4h0M146.3 196.1h0M152.5 187.9h0M143.8 210.6h0M152.9 202.6h0M147.2 191.9h0M150.0 202.7h0M146.9 202.1h0M145.2 206.9h0M147.7 193.7h0M150.7 196.1h0M151.2 188.5h0M147.3 205.7h0M146.9 205.5h0M146.5 193.5h0M149.6 189.8h0M151.8 190.5h0M147.0 189.8h0M152.6 193.8h0M150.9 198.9h0M152.8 201.9h0M150.8 187.4h0M145.9 210.0h0M152.5 193.9h0M151.4 187.4h0M146.6 208.3h0M152.3 197.7h0M152.8 205.0h0M149.2 191.1h0M150.5 195.5h0M151.2 198.6h0M151.3 193.2h0M144.6 205.6h0M151.7 192.8h0M147.3 202.7h0M147.9 206.9h0M150.8 197.7h0M146.7 190.5h0M147.3 191.3h0M146.4 199.2h0M147.0 199.2h0M150.6 207.2h0M147.8 197.7h0M147.5 196.5h0M149.4 206.6h0M150.7 187.0h0M146.9 200.0h0M152.1 202.8h0M149.3 203.2h0M149.7 204.1h0M146.7 198.3h0M146.4 197.2h0M149.1 193.3h0M144.7 211.1h0M149.5 198.1h0M145.7 204.6h0M151.4 190.6h0M148.7 190.5h0M146.5 196.4h0M150.2 190.1h0M145.9 203.3h0M147.9 205.6h0M147.8 196.3h0M149.0 193.7h0M150.2 206.3h0M150.7 207.0h0M147.2 190.6h0M146.7 198.3h0M151.8 193.6h0M146.3 196.2h0M148.7 204.2h0M151.0 201.6h0M148.0 208.9h0M150.7 199.2h0M151.2 189.8h0M150.7 204.4h0M149.0 197.1h0M147.0 199.7h0M150.7 191.9h0M146.1 210.3h0M146.9 203.5h0M152.7 188.7h0M148.0 198.4h0M150.7 206.8h0M147.8 196.9h0M151.9 186.9h0M151.6 205.1h0M149.3 197.2h0M152.1 191.1h0M147.3 207.0h0M153.0 199.6h0M150.3 198.5h0M146.9 202.4h0M148.8 193.0h0M147.8 208.0h0M150.9 195.4h0M149.7 201.3h0M144.5 208.9h0M147.4 208.7h0M149.3 192.5h0M145.7 209.7h0M152.2 191.3h0M146.9 196.1h0M151.6 191.8h0M147.3 201.4h0M150.1 199.0h0M149.1 196.2h0M152.6 197.9h0M152.1 188.5h0M147.4 188.7h0M147.2 195.7h0M151.2 206.2h0M147.5 189.2h0M151.2 186.9h0M144.8 204.7h0M144.9 209.9h0M145.9 206.4h0M145.7 205.9h0M150.2 205.2h0M151.8 201.3h0M146.2 196.4h0M149.9 194.6h0M150.2 207.1h0M151.4 189.3h0M147.4 194.6h0M150.9 200.8h0M152.6 201.9h0M147.4 208.2h0M150.5 188.7h0M151.2 190.3h0M149.2 188.6h0M146.0 196.0h0M146.7 203.3h0M152.3 191.9h0M150.8 187.8h0M146.9 190.7h0M146.2 198.5h0M148.7 197.7h0M148.5 195.6h0M147.0 195.5h0M148.9 197.8h0M149.5 206.6h0M146.5 191.9h0M147.7 201.7h0M146.2 194.6h0M149.1 196.3h0M148.9 190.9h0M148.6 189.2h0M146.5 209.3h0M147.0 200.1h0M151.6 195.1h0M148.9 203.9h0M151.9 190.9h0M148.2 191.6h0M147.2 204.7h0M146.5 196.2h0M152.0 190.0h0M146.9 205.1h0M152.1 195.8h0M152.7 206.1h0M152.4 198.2h0M152.6 197.8h0M150.0 207.7h0M148.1 192.4h0M151.4 203.4h0M149.6 194.4h0M150.0 204.6h0M145.3 203.3h0M150.2 187.4h0M146.3 196.2h0M149.4 207.6h0M150.3 200.2h0M149.6 190.3h0M149.3 193.0h0M148.2 202.3h0M146.9 189.0h0M146.9 192.0h0M151.4 203.0h0M152.1 202.4h0M148.3 190.8h0M149.2 200.2h0M152.2 204.1h0M149.0 195.6h0M144.6 204.8h0M150.8 189.7h0M152.1 201.4h0M149.3 188.8h0M150.2 198.0h0M151.6 196.9h0M146.7 198.6h0M149.8 206.3h0M147.1 207.4h0M149.6 196.0h0M152.0 189.2h0M148.4 203.7h0M151.7 188.5h0M148.7 204.7h0M150.4 198.8h0M149.9 198.1h0M146.8 208.7h0M148.7 190.4h0M148.8 193.0h0M145.8 207.7h0M150.1 197.9h0M147.5 199.8h0M146.7 190.5h0M146.6 206.6h0M151.5 195.0h0M146.9 202.1h0M146.8 196.5h0M149.8 192.2h0M145.0 205.1h0M151.9 192.3h0M147.0 207.8h0M150.3 194.7h0M148.5 200.5h0M147.9 201.2h0M145.9 197.5h0M152.9 204.2h0M144.8 207.5h0M149.9 196.2h0M148.9 196.5h0M148.1 205.8h0M151.0 189.5h0M146.6 197.2h0M151.7 198.2h0M151.0 190.4h0M151.8 193.3h0M149.6 189.7h0M147.7 209.1h0M150.9 203.9h0M146.5 207.0h0M146.9 208.6h0M152.4 205.4h0M152.3 188.1h0M149.5 191.9h0M146.3 193.4h0M146.9 208.2h0M150.9 192.6h0M148.1 197.1h0M149.8 198.8h0M152.4 187.9h0M146.0 201.9h0M144.6 205.1h0M148.8 203.7h0M151.3 194.1h0M152.4 195.0h0M148.3 195.9h0M149.3 189.9h0M146.3 196.0h0M146.2 203.7h0M147.4 206.7h0M145.9 196.5h0" stroke="#A58AFF" stroke-width="0.85" stroke-linecap="round" fill="none"/>
<path d="M113.0 130.0L119.0 132.0L126.0 139.0L128.0 144.0L118.0 143.0L113.0 140.0Z" fill="#fff" fill-opacity="0.35"/>
<path d="M138.0 151.0L150.0 149.0L156.0 153.0L150.0 157.0L140.0 158.0Z" fill="#fff" fill-opacity="0.35"/>
<path d="M139.0 187.0L146.0 189.0L146.0 200.0L143.0 210.0L139.0 205.0L138.0 195.0Z" fill="#fff" fill-opacity="0.35"/>
<path d="M132.0 68.0L142.0 62.0L148.0 66.0L146.0 75.0L140.0 77.0L133.0 73.0Z" fill="#fff" fill-opacity="0.35"/>
<path d="M50.0 118.0L60.0 116.0L70.0 117.0L67.0 124.0L59.0 124.0L52.0 121.5Z" fill="#fff" fill-opacity="0.35"/>
<path d="M25.9 35.9V225.6H189.8" fill="none" stroke="#a6a6a6" stroke-width="1.3"/>
<path d="M23.6 51.2h2.3" stroke="#a6a6a6" stroke-width="0.8"/>
<text x="23.0" y="53.3" font-size="7.2" fill="#404040" text-anchor="end">10</text>
<path d="M23.6 86.4h2.3" stroke="#a6a6a6" stroke-width="0.8"/>
<text x="23.0" y="88.5" font-size="7.2" fill="#404040" text-anchor="end">5</text>
<path d="M23.6 121.6h2.3" stroke="#a6a6a6" stroke-width="0.8"/>
<text x="23.0" y="123.7" font-size="7.2" fill="#404040" text-anchor="end">0</text>
<path d="M23.6 156.8h2.3" stroke="#a6a6a6" stroke-width="0.8"/>
<text x="23.0" y="158.9" font-size="7.2" fill="#404040" text-anchor="end">-5</text>
<path d="M23.6 192.0h2.3" stroke="#a6a6a6" stroke-width="0.8"/>
<text x="23.0" y="194.1" font-size="7.2" fill="#404040" text-anchor="end">-10</text>
<path d="M27.0 225.6v2.3" stroke="#a6a6a6" stroke-width="0.8"/>
<text x="27.0" y="233.6" font-size="7.2" fill="#404040" text-anchor="middle">-15</text>
<path d="M58.8 225.6v2.3" stroke="#a6a6a6" stroke-width="0.8"/>
<text x="58.8" y="233.6" font-size="7.2" fill="#404040" text-anchor="middle">-10</text>
<path d="M90.5 225.6v2.3" stroke="#a6a6a6" stroke-width="0.8"/>
<text x="90.5" y="233.6" font-size="7.2" fill="#404040" text-anchor="middle">-5</text>
<path d="M122.3 225.6v2.3" stroke="#a6a6a6" stroke-width="0.8"/>
<text x="122.3" y="233.6" font-size="7.2" fill="#404040" text-anchor="middle">0</text>
<path d="M154.1 225.6v2.3" stroke="#a6a6a6" stroke-width="0.8"/>
<text x="154.1" y="233.6" font-size="7.2" fill="#404040" text-anchor="middle">5</text>
<path d="M185.8 225.6v2.3" stroke="#a6a6a6" stroke-width="0.8"/>
<text x="185.8" y="233.6" font-size="7.2" fill="#404040" text-anchor="middle">10</text>
<text x="107.7" y="243.5" font-size="10.5" fill="#111" text-anchor="middle">umap_1</text>
<text x="0.0" y="0.0" font-size="10.2" fill="#111" text-anchor="middle" transform="translate(10.2 131.1) rotate(-90)">umap_2</text>
<text x="137.8" y="55.9" font-size="10.3" fill="#000" textLength="24.5" lengthAdjust="spacingAndGlyphs" stroke="#000" stroke-width="0.3">RGC1</text>
<text x="149.7" y="83.4" font-size="10.3" fill="#000" textLength="18.8" lengthAdjust="spacingAndGlyphs" stroke="#000" stroke-width="0.3">CM1</text>
<text x="75.0" y="85.8" font-size="10.3" fill="#000" textLength="26.6" lengthAdjust="spacingAndGlyphs" stroke="#000" stroke-width="0.3">NRPC</text>
<text x="109.8" y="98.3" font-size="10.3" fill="#000" textLength="20.1" lengthAdjust="spacingAndGlyphs" stroke="#000" stroke-width="0.3">CM2</text>
<text x="136.9" y="112.2" font-size="10.3" fill="#000" textLength="26.5" lengthAdjust="spacingAndGlyphs" stroke="#000" stroke-width="0.3">RGC2</text>
<text x="28.5" y="115.9" font-size="10.3" fill="#000" textLength="44.1" lengthAdjust="spacingAndGlyphs" stroke="#000" stroke-width="0.3">Early RPC</text>
<text x="44.5" y="131.1" font-size="10.3" fill="#000" textLength="66.8" lengthAdjust="spacingAndGlyphs" stroke="#000" stroke-width="0.3">Transient NRPC</text>
<text x="28.5" y="147.4" font-size="10.3" fill="#000" textLength="41.4" lengthAdjust="spacingAndGlyphs" stroke="#000" stroke-width="0.3">Late RPC</text>
<text x="154.9" y="131.5" font-size="10.3" fill="#000" textLength="27.7" lengthAdjust="spacingAndGlyphs" stroke="#000" stroke-width="0.3">INTER</text>
<text x="97.9" y="151.3" font-size="10.3" fill="#000" textLength="38.7" lengthAdjust="spacingAndGlyphs" stroke="#000" stroke-width="0.3">MULLER</text>
<text x="126.4" y="165.9" font-size="10.3" fill="#000" textLength="58.6" lengthAdjust="spacingAndGlyphs" stroke="#000" stroke-width="0.3">BIPOLAR Pre</text>
<text x="111.8" y="176.7" font-size="10.3" fill="#000" textLength="50.6" lengthAdjust="spacingAndGlyphs" stroke="#000" stroke-width="0.3">PHOTO Pre</text>
<text x="118.8" y="197.6" font-size="10.3" fill="#000" textLength="20.7" lengthAdjust="spacingAndGlyphs" stroke="#000" stroke-width="0.3">ROD</text>
<text x="140.0" y="210.7" font-size="10.3" fill="#000" textLength="26.8" lengthAdjust="spacingAndGlyphs" stroke="#000" stroke-width="0.3">CONE</text>
<circle cx="197.1" cy="88.3" r="1.3" fill="#F8766D"/>
<text x="202.0" y="90.7" font-size="7.0" fill="#1a1a1a" textLength="14.2" lengthAdjust="spacingAndGlyphs" stroke="#1a1a1a" stroke-width="0.12">CM1</text>
<circle cx="197.1" cy="94.9" r="1.3" fill="#E38900"/>
<text x="202.0" y="97.3" font-size="7.0" fill="#1a1a1a" textLength="29.1" lengthAdjust="spacingAndGlyphs" stroke="#1a1a1a" stroke-width="0.12">Late RPC</text>
<circle cx="197.1" cy="101.5" r="1.3" fill="#C49A00"/>
<text x="202.0" y="103.9" font-size="7.0" fill="#1a1a1a" textLength="18.7" lengthAdjust="spacingAndGlyphs" stroke="#1a1a1a" stroke-width="0.12">RGC1</text>
<circle cx="197.1" cy="108.0" r="1.3" fill="#99A800"/>
<text x="202.0" y="110.4" font-size="7.0" fill="#1a1a1a" textLength="14.9" lengthAdjust="spacingAndGlyphs" stroke="#1a1a1a" stroke-width="0.12">ROD</text>
<circle cx="197.1" cy="114.6" r="1.3" fill="#53B400"/>
<text x="202.0" y="117.0" font-size="7.0" fill="#1a1a1a" textLength="27.3" lengthAdjust="spacingAndGlyphs" stroke="#1a1a1a" stroke-width="0.12">MULLER</text>
<circle cx="197.1" cy="121.2" r="1.3" fill="#00BC56"/>
<text x="202.0" y="123.6" font-size="7.0" fill="#1a1a1a" textLength="14.2" lengthAdjust="spacingAndGlyphs" stroke="#1a1a1a" stroke-width="0.12">CM2</text>
<circle cx="197.1" cy="127.8" r="1.3" fill="#00C094"/>
<text x="202.0" y="130.2" font-size="7.0" fill="#1a1a1a" textLength="41.5" lengthAdjust="spacingAndGlyphs" stroke="#1a1a1a" stroke-width="0.12">BIPOLAR Pre</text>
<circle cx="197.1" cy="134.4" r="1.3" fill="#00BFC4"/>
<text x="202.0" y="136.8" font-size="7.0" fill="#1a1a1a" textLength="31.4" lengthAdjust="spacingAndGlyphs" stroke="#1a1a1a" stroke-width="0.12">Early RPC</text>
<circle cx="197.1" cy="140.9" r="1.3" fill="#00B6EB"/>
<text x="202.0" y="143.3" font-size="7.0" fill="#1a1a1a" textLength="20.2" lengthAdjust="spacingAndGlyphs" stroke="#1a1a1a" stroke-width="0.12">INTER</text>
<circle cx="197.1" cy="147.5" r="1.3" fill="#06A4FF"/>
<text x="202.0" y="149.9" font-size="7.0" fill="#1a1a1a" textLength="19.0" lengthAdjust="spacingAndGlyphs" stroke="#1a1a1a" stroke-width="0.12">NRPC</text>
<circle cx="197.1" cy="154.1" r="1.3" fill="#A58AFF"/>
<text x="202.0" y="156.5" font-size="7.0" fill="#1a1a1a" textLength="19.4" lengthAdjust="spacingAndGlyphs" stroke="#1a1a1a" stroke-width="0.12">CONE</text>
<circle cx="197.1" cy="160.7" r="1.3" fill="#DF70F8"/>
<text x="202.0" y="163.1" font-size="7.0" fill="#1a1a1a" textLength="48.7" lengthAdjust="spacingAndGlyphs" stroke="#1a1a1a" stroke-width="0.12">Transient NRPC</text>
<circle cx="197.1" cy="167.3" r="1.3" fill="#FB61D7"/>
<text x="202.0" y="169.7" font-size="7.0" fill="#1a1a1a" textLength="36.1" lengthAdjust="spacingAndGlyphs" stroke="#1a1a1a" stroke-width="0.12">PHOTO Pre</text>
<circle cx="197.1" cy="173.8" r="1.3" fill="#FF66A8"/>
<text x="202.0" y="176.2" font-size="7.0" fill="#1a1a1a" textLength="18.7" lengthAdjust="spacingAndGlyphs" stroke="#1a1a1a" stroke-width="0.12">RGC2</text>
<circle cx="316.7" cy="76.5" r="0.38" fill="#cec8d6"/>
<circle cx="325.4" cy="76.5" r="0.90" fill="#9d77ec"/>
<circle cx="334.1" cy="76.5" r="0.38" fill="#cec8d6"/>
<circle cx="342.8" cy="76.5" r="1.17" fill="#966eee"/>
<circle cx="351.5" cy="76.5" r="0.38" fill="#cec8d6"/>
<circle cx="360.2" cy="76.5" r="1.08" fill="#966eee"/>
<circle cx="369.0" cy="76.5" r="1.08" fill="#0000ff"/>
<circle cx="377.7" cy="76.5" r="1.26" fill="#a480ea"/>
<circle cx="386.4" cy="76.5" r="0.38" fill="#cec8d6"/>
<circle cx="395.1" cy="76.5" r="0.38" fill="#cec8d6"/>
<circle cx="403.8" cy="76.5" r="0.38" fill="#cec8d6"/>
<circle cx="412.5" cy="76.5" r="0.38" fill="#cec8d6"/>
<circle cx="421.2" cy="76.5" r="0.38" fill="#cec8d6"/>
<circle cx="429.9" cy="76.5" r="0.38" fill="#cec8d6"/>
<circle cx="438.6" cy="76.5" r="0.38" fill="#cec8d6"/>
<circle cx="447.4" cy="76.5" r="0.38" fill="#cec8d6"/>
<circle cx="456.1" cy="76.5" r="0.38" fill="#cec8d6"/>
<circle cx="464.8" cy="76.5" r="0.38" fill="#cec8d6"/>
<circle cx="473.5" cy="76.5" r="0.38" fill="#cec8d6"/>
<circle cx="482.2" cy="76.5" r="0.38" fill="#cec8d6"/>
<circle cx="490.9" cy="76.5" r="0.38" fill="#cec8d6"/>
<circle cx="499.6" cy="76.5" r="0.38" fill="#cec8d6"/>
<circle cx="508.3" cy="76.5" r="0.90" fill="#9d77ec"/>
<circle cx="517.0" cy="76.5" r="0.38" fill="#cec8d6"/>
<circle cx="525.7" cy="76.5" r="0.38" fill="#cec8d6"/>
<circle cx="534.5" cy="76.5" r="0.81" fill="#673df8"/>
<circle cx="543.2" cy="76.5" r="0.38" fill="#cec8d6"/>
<circle cx="551.9" cy="76.5" r="0.38" fill="#cec8d6"/>
<circle cx="560.6" cy="76.5" r="1.17" fill="#0000ff"/>
<circle cx="569.3" cy="76.5" r="0.38" fill="#cec8d6"/>
<circle cx="578.0" cy="76.5" r="1.35" fill="#966eee"/>
<circle cx="586.7" cy="76.5" r="2.25" fill="#0000ff"/>
<circle cx="595.4" cy="76.5" r="0.81" fill="#a886e8"/>
<circle cx="604.1" cy="76.5" r="0.38" fill="#cec8d6"/>
<circle cx="612.8" cy="76.5" r="1.62" fill="#aa89e7"/>
<circle cx="621.5" cy="76.5" r="1.98" fill="#0000ff"/>
<circle cx="630.3" cy="76.5" r="0.81" fill="#a886e8"/>
<circle cx="639.0" cy="76.5" r="0.81" fill="#a886e8"/>
<circle cx="316.7" cy="86.6" r="0.38" fill="#cec8d6"/>
<circle cx="325.4" cy="86.6" r="0.72" fill="#c1aede"/>
<circle cx="334.1" cy="86.6" r="1.62" fill="#7c51f4"/>
<circle cx="342.8" cy="86.6" r="0.90" fill="#aa89e7"/>
<circle cx="351.5" cy="86.6" r="0.38" fill="#cec8d6"/>
<circle cx="360.2" cy="86.6" r="1.98" fill="#966eee"/>
<circle cx="369.0" cy="86.6" r="0.38" fill="#cec8d6"/>
<circle cx="377.7" cy="86.6" r="2.07" fill="#855bf2"/>
<circle cx="386.4" cy="86.6" r="0.38" fill="#cec8d6"/>
<circle cx="395.1" cy="86.6" r="0.38" fill="#cec8d6"/>
<circle cx="403.8" cy="86.6" r="0.38" fill="#cec8d6"/>
<circle cx="412.5" cy="86.6" r="0.38" fill="#cec8d6"/>
<circle cx="421.2" cy="86.6" r="0.38" fill="#cec8d6"/>
<circle cx="429.9" cy="86.6" r="0.38" fill="#cec8d6"/>
<circle cx="438.6" cy="86.6" r="0.38" fill="#cec8d6"/>
<circle cx="447.4" cy="86.6" r="0.38" fill="#cec8d6"/>
<circle cx="456.1" cy="86.6" r="0.38" fill="#cec8d6"/>
<circle cx="464.8" cy="86.6" r="0.38" fill="#cec8d6"/>
<circle cx="473.5" cy="86.6" r="0.38" fill="#cec8d6"/>
<circle cx="482.2" cy="86.6" r="0.38" fill="#cec8d6"/>
<circle cx="490.9" cy="86.6" r="0.38" fill="#cec8d6"/>
<circle cx="499.6" cy="86.6" r="0.38" fill="#cec8d6"/>
<circle cx="508.3" cy="86.6" r="2.07" fill="#966eee"/>
<circle cx="517.0" cy="86.6" r="0.38" fill="#cec8d6"/>
<circle cx="525.7" cy="86.6" r="0.38" fill="#cec8d6"/>
<circle cx="534.5" cy="86.6" r="0.38" fill="#cec8d6"/>
<circle cx="543.2" cy="86.6" r="0.38" fill="#cec8d6"/>
<circle cx="551.9" cy="86.6" r="0.38" fill="#cec8d6"/>
<circle cx="560.6" cy="86.6" r="0.81" fill="#a886e8"/>
<circle cx="569.3" cy="86.6" r="0.38" fill="#cec8d6"/>
<circle cx="578.0" cy="86.6" r="2.07" fill="#7248f6"/>
<circle cx="586.7" cy="86.6" r="1.44" fill="#9d77ec"/>
<circle cx="595.4" cy="86.6" r="1.80" fill="#a480ea"/>
<circle cx="604.1" cy="86.6" r="0.38" fill="#cec8d6"/>
<circle cx="612.8" cy="86.6" r="1.62" fill="#a480ea"/>
<circle cx="621.5" cy="86.6" r="0.81" fill="#a886e8"/>
<circle cx="630.3" cy="86.6" r="0.81" fill="#a886e8"/>
<circle cx="639.0" cy="86.6" r="0.38" fill="#cec8d6"/>
<circle cx="316.7" cy="96.8" r="0.38" fill="#cec8d6"/>
<circle cx="325.4" cy="96.8" r="0.81" fill="#a886e8"/>
<circle cx="334.1" cy="96.8" r="0.81" fill="#a886e8"/>
<circle cx="342.8" cy="96.8" r="0.81" fill="#a886e8"/>
<circle cx="351.5" cy="96.8" r="0.38" fill="#cec8d6"/>
<circle cx="360.2" cy="96.8" r="1.98" fill="#8e65f0"/>
<circle cx="369.0" cy="96.8" r="0.38" fill="#cec8d6"/>
<circle cx="377.7" cy="96.8" r="1.98" fill="#7c51f4"/>
<circle cx="386.4" cy="96.8" r="0.38" fill="#cec8d6"/>
<circle cx="395.1" cy="96.8" r="0.38" fill="#cec8d6"/>
<circle cx="403.8" cy="96.8" r="0.38" fill="#cec8d6"/>
<circle cx="412.5" cy="96.8" r="0.38" fill="#cec8d6"/>
<circle cx="421.2" cy="96.8" r="0.38" fill="#cec8d6"/>
<circle cx="429.9" cy="96.8" r="0.38" fill="#cec8d6"/>
<circle cx="438.6" cy="96.8" r="0.38" fill="#cec8d6"/>
<circle cx="447.4" cy="96.8" r="0.38" fill="#cec8d6"/>
<circle cx="456.1" cy="96.8" r="0.38" fill="#cec8d6"/>
<circle cx="464.8" cy="96.8" r="0.38" fill="#cec8d6"/>
<circle cx="473.5" cy="96.8" r="0.38" fill="#cec8d6"/>
<circle cx="482.2" cy="96.8" r="0.38" fill="#cec8d6"/>
<circle cx="490.9" cy="96.8" r="0.38" fill="#cec8d6"/>
<circle cx="499.6" cy="96.8" r="0.38" fill="#cec8d6"/>
<circle cx="508.3" cy="96.8" r="0.81" fill="#a886e8"/>
<circle cx="517.0" cy="96.8" r="0.38" fill="#cec8d6"/>
<circle cx="525.7" cy="96.8" r="0.38" fill="#cec8d6"/>
<circle cx="534.5" cy="96.8" r="0.38" fill="#cec8d6"/>
<circle cx="543.2" cy="96.8" r="0.38" fill="#cec8d6"/>
<circle cx="551.9" cy="96.8" r="0.38" fill="#cec8d6"/>
<circle cx="560.6" cy="96.8" r="0.81" fill="#a886e8"/>
<circle cx="569.3" cy="96.8" r="0.38" fill="#cec8d6"/>
<circle cx="578.0" cy="96.8" r="2.07" fill="#7248f6"/>
<circle cx="586.7" cy="96.8" r="1.44" fill="#966eee"/>
<circle cx="595.4" cy="96.8" r="0.81" fill="#a886e8"/>
<circle cx="604.1" cy="96.8" r="0.38" fill="#cec8d6"/>
<circle cx="612.8" cy="96.8" r="2.25" fill="#3318fd"/>
<circle cx="621.5" cy="96.8" r="0.81" fill="#a886e8"/>
<circle cx="630.3" cy="96.8" r="0.38" fill="#cec8d6"/>
<circle cx="639.0" cy="96.8" r="0.38" fill="#cec8d6"/>
<circle cx="316.7" cy="106.9" r="0.38" fill="#cec8d6"/>
<circle cx="325.4" cy="106.9" r="0.81" fill="#a886e8"/>
<circle cx="334.1" cy="106.9" r="0.90" fill="#966eee"/>
<circle cx="342.8" cy="106.9" r="0.81" fill="#a886e8"/>
<circle cx="351.5" cy="106.9" r="0.81" fill="#a886e8"/>
<circle cx="360.2" cy="106.9" r="1.8" fill="#6b6b6b"/>
<circle cx="369.0" cy="106.9" r="0.38" fill="#cec8d6"/>
<circle cx="377.7" cy="106.9" r="1.35" fill="#aa89e7"/>
<circle cx="386.4" cy="106.9" r="0.38" fill="#cec8d6"/>
<circle cx="395.1" cy="106.9" r="0.81" fill="#a886e8"/>
<circle cx="403.8" cy="106.9" r="0.38" fill="#cec8d6"/>
<circle cx="412.5" cy="106.9" r="0.38" fill="#cec8d6"/>
<circle cx="421.2" cy="106.9" r="0.38" fill="#cec8d6"/>
<circle cx="429.9" cy="106.9" r="0.38" fill="#cec8d6"/>
<circle cx="438.6" cy="106.9" r="0.38" fill="#cec8d6"/>
<circle cx="447.4" cy="106.9" r="0.38" fill="#cec8d6"/>
<circle cx="456.1" cy="106.9" r="0.38" fill="#cec8d6"/>
<circle cx="464.8" cy="106.9" r="0.38" fill="#cec8d6"/>
<circle cx="473.5" cy="106.9" r="0.38" fill="#cec8d6"/>
<circle cx="482.2" cy="106.9" r="0.38" fill="#cec8d6"/>
<circle cx="490.9" cy="106.9" r="0.38" fill="#cec8d6"/>
<circle cx="499.6" cy="106.9" r="0.38" fill="#cec8d6"/>
<circle cx="508.3" cy="106.9" r="0.90" fill="#a480ea"/>
<circle cx="517.0" cy="106.9" r="0.38" fill="#cec8d6"/>
<circle cx="525.7" cy="106.9" r="0.38" fill="#cec8d6"/>
<circle cx="534.5" cy="106.9" r="0.38" fill="#cec8d6"/>
<circle cx="543.2" cy="106.9" r="0.38" fill="#cec8d6"/>
<circle cx="551.9" cy="106.9" r="0.38" fill="#cec8d6"/>
<circle cx="560.6" cy="106.9" r="0.38" fill="#cec8d6"/>
<circle cx="569.3" cy="106.9" r="0.38" fill="#cec8d6"/>
<circle cx="578.0" cy="106.9" r="1.17" fill="#966eee"/>
<circle cx="586.7" cy="106.9" r="0.90" fill="#9d77ec"/>
<circle cx="595.4" cy="106.9" r="0.9" fill="#6b6b6b"/>
<circle cx="604.1" cy="106.9" r="0.38" fill="#cec8d6"/>
<circle cx="612.8" cy="106.9" r="1.62" fill="#a480ea"/>
<circle cx="621.5" cy="106.9" r="0.81" fill="#a886e8"/>
<circle cx="630.3" cy="106.9" r="0.38" fill="#cec8d6"/>
<circle cx="639.0" cy="106.9" r="0.38" fill="#cec8d6"/>
<circle cx="316.7" cy="117.1" r="0.81" fill="#b69ce3"/>
<circle cx="325.4" cy="117.1" r="2.25" fill="#0000ff"/>
<circle cx="334.1" cy="117.1" r="0.38" fill="#cec8d6"/>
<circle cx="342.8" cy="117.1" r="1.08" fill="#673df8"/>
<circle cx="351.5" cy="117.1" r="1.62" fill="#855bf2"/>
<circle cx="360.2" cy="117.1" r="0.81" fill="#a886e8"/>
<circle cx="369.0" cy="117.1" r="0.38" fill="#cec8d6"/>
<circle cx="377.7" cy="117.1" r="1.44" fill="#aa89e7"/>
<circle cx="386.4" cy="117.1" r="0.38" fill="#cec8d6"/>
<circle cx="395.1" cy="117.1" r="0.38" fill="#cec8d6"/>
<circle cx="403.8" cy="117.1" r="0.38" fill="#cec8d6"/>
<circle cx="412.5" cy="117.1" r="0.38" fill="#cec8d6"/>
<circle cx="421.2" cy="117.1" r="0.38" fill="#cec8d6"/>
<circle cx="429.9" cy="117.1" r="0.38" fill="#cec8d6"/>
<circle cx="438.6" cy="117.1" r="0.38" fill="#cec8d6"/>
<circle cx="447.4" cy="117.1" r="0.38" fill="#cec8d6"/>
<circle cx="456.1" cy="117.1" r="0.38" fill="#cec8d6"/>
<circle cx="464.8" cy="117.1" r="0.38" fill="#cec8d6"/>
<circle cx="473.5" cy="117.1" r="0.38" fill="#cec8d6"/>
<circle cx="482.2" cy="117.1" r="0.38" fill="#cec8d6"/>
<circle cx="490.9" cy="117.1" r="0.38" fill="#cec8d6"/>
<circle cx="499.6" cy="117.1" r="0.38" fill="#cec8d6"/>
<circle cx="508.3" cy="117.1" r="0.81" fill="#a886e8"/>
<circle cx="517.0" cy="117.1" r="0.38" fill="#cec8d6"/>
<circle cx="525.7" cy="117.1" r="0.38" fill="#cec8d6"/>
<circle cx="534.5" cy="117.1" r="0.38" fill="#cec8d6"/>
<circle cx="543.2" cy="117.1" r="0.81" fill="#7c51f4"/>
<circle cx="551.9" cy="117.1" r="1.62" fill="#0000ff"/>
<circle cx="560.6" cy="117.1" r="0.90" fill="#8e65f0"/>
<circle cx="569.3" cy="117.1" r="0.90" fill="#673df8"/>
<circle cx="578.0" cy="117.1" r="0.38" fill="#cec8d6"/>
<circle cx="586.7" cy="117.1" r="0.38" fill="#cec8d6"/>
<circle cx="595.4" cy="117.1" r="0.9" fill="#6b6b6b"/>
<circle cx="604.1" cy="117.1" r="0.38" fill="#cec8d6"/>
<circle cx="612.8" cy="117.1" r="1.26" fill="#a480ea"/>
<circle cx="621.5" cy="117.1" r="0.81" fill="#a886e8"/>
<circle cx="630.3" cy="117.1" r="0.38" fill="#cec8d6"/>
<circle cx="639.0" cy="117.1" r="0.38" fill="#cec8d6"/>
<circle cx="316.7" cy="127.2" r="1.17" fill="#966eee"/>
<circle cx="325.4" cy="127.2" r="1.62" fill="#9d77ec"/>
<circle cx="334.1" cy="127.2" r="1.35" fill="#7248f6"/>
<circle cx="342.8" cy="127.2" r="1.62" fill="#8e65f0"/>
<circle cx="351.5" cy="127.2" r="0.38" fill="#cec8d6"/>
<circle cx="360.2" cy="127.2" r="0.81" fill="#a886e8"/>
<circle cx="369.0" cy="127.2" r="1.0" fill="#6b6b6b"/>
<circle cx="377.7" cy="127.2" r="0.81" fill="#a886e8"/>
<circle cx="386.4" cy="127.2" r="1.62" fill="#8e65f0"/>
<circle cx="395.1" cy="127.2" r="1.08" fill="#7c51f4"/>
<circle cx="403.8" cy="127.2" r="0.38" fill="#cec8d6"/>
<circle cx="412.5" cy="127.2" r="0.38" fill="#cec8d6"/>
<circle cx="421.2" cy="127.2" r="1.08" fill="#3318fd"/>
<circle cx="429.9" cy="127.2" r="0.81" fill="#a886e8"/>
<circle cx="438.6" cy="127.2" r="0.38" fill="#cec8d6"/>
<circle cx="447.4" cy="127.2" r="0.38" fill="#cec8d6"/>
<circle cx="456.1" cy="127.2" r="0.38" fill="#cec8d6"/>
<circle cx="464.8" cy="127.2" r="0.38" fill="#cec8d6"/>
<circle cx="473.5" cy="127.2" r="0.38" fill="#cec8d6"/>
<circle cx="482.2" cy="127.2" r="0.38" fill="#cec8d6"/>
<circle cx="490.9" cy="127.2" r="0.38" fill="#cec8d6"/>
<circle cx="499.6" cy="127.2" r="0.38" fill="#cec8d6"/>
<circle cx="508.3" cy="127.2" r="1.08" fill="#9d77ec"/>
<circle cx="517.0" cy="127.2" r="0.81" fill="#a886e8"/>
<circle cx="525.7" cy="127.2" r="0.38" fill="#cec8d6"/>
<circle cx="534.5" cy="127.2" r="0.38" fill="#cec8d6"/>
<circle cx="543.2" cy="127.2" r="0.38" fill="#cec8d6"/>
<circle cx="551.9" cy="127.2" r="0.38" fill="#cec8d6"/>
<circle cx="560.6" cy="127.2" r="0.81" fill="#a886e8"/>
<circle cx="569.3" cy="127.2" r="0.38" fill="#cec8d6"/>
<circle cx="578.0" cy="127.2" r="0.38" fill="#cec8d6"/>
<circle cx="586.7" cy="127.2" r="0.81" fill="#a886e8"/>
<circle cx="595.4" cy="127.2" r="0.9" fill="#6b6b6b"/>
<circle cx="604.1" cy="127.2" r="0.38" fill="#cec8d6"/>
<circle cx="612.8" cy="127.2" r="1.35" fill="#a480ea"/>
<circle cx="621.5" cy="127.2" r="0.81" fill="#a886e8"/>
<circle cx="630.3" cy="127.2" r="0.38" fill="#cec8d6"/>
<circle cx="639.0" cy="127.2" r="0.38" fill="#cec8d6"/>
<circle cx="316.7" cy="137.3" r="1.35" fill="#7c51f4"/>
<circle cx="325.4" cy="137.3" r="1.35" fill="#966eee"/>
<circle cx="334.1" cy="137.3" r="0.38" fill="#cec8d6"/>
<circle cx="342.8" cy="137.3" r="0.38" fill="#cec8d6"/>
<circle cx="351.5" cy="137.3" r="0.81" fill="#a886e8"/>
<circle cx="360.2" cy="137.3" r="0.38" fill="#cec8d6"/>
<circle cx="369.0" cy="137.3" r="0.38" fill="#cec8d6"/>
<circle cx="377.7" cy="137.3" r="0.81" fill="#a886e8"/>
<circle cx="386.4" cy="137.3" r="1.98" fill="#7248f6"/>
<circle cx="395.1" cy="137.3" r="1.08" fill="#8e65f0"/>
<circle cx="403.8" cy="137.3" r="0.38" fill="#cec8d6"/>
<circle cx="412.5" cy="137.3" r="0.38" fill="#cec8d6"/>
<circle cx="421.2" cy="137.3" r="0.38" fill="#cec8d6"/>
<circle cx="429.9" cy="137.3" r="0.38" fill="#cec8d6"/>
<circle cx="438.6" cy="137.3" r="0.38" fill="#cec8d6"/>
<circle cx="447.4" cy="137.3" r="0.38" fill="#cec8d6"/>
<circle cx="456.1" cy="137.3" r="0.90" fill="#8e65f0"/>
<circle cx="464.8" cy="137.3" r="1.44" fill="#7c51f4"/>
<circle cx="473.5" cy="137.3" r="0.38" fill="#cec8d6"/>
<circle cx="482.2" cy="137.3" r="0.38" fill="#cec8d6"/>
<circle cx="490.9" cy="137.3" r="0.38" fill="#cec8d6"/>
<circle cx="499.6" cy="137.3" r="0.81" fill="#a886e8"/>
<circle cx="508.3" cy="137.3" r="0.90" fill="#966eee"/>
<circle cx="517.0" cy="137.3" r="0.38" fill="#cec8d6"/>
<circle cx="525.7" cy="137.3" r="0.38" fill="#cec8d6"/>
<circle cx="534.5" cy="137.3" r="0.38" fill="#cec8d6"/>
<circle cx="543.2" cy="137.3" r="0.38" fill="#cec8d6"/>
<circle cx="551.9" cy="137.3" r="0.38" fill="#cec8d6"/>
<circle cx="560.6" cy="137.3" r="0.38" fill="#cec8d6"/>
<circle cx="569.3" cy="137.3" r="0.38" fill="#cec8d6"/>
<circle cx="578.0" cy="137.3" r="0.38" fill="#cec8d6"/>
<circle cx="586.7" cy="137.3" r="0.81" fill="#a886e8"/>
<circle cx="595.4" cy="137.3" r="0.38" fill="#cec8d6"/>
<circle cx="604.1" cy="137.3" r="0.38" fill="#cec8d6"/>
<circle cx="612.8" cy="137.3" r="0.38" fill="#cec8d6"/>
<circle cx="621.5" cy="137.3" r="0.38" fill="#cec8d6"/>
<circle cx="630.3" cy="137.3" r="0.38" fill="#cec8d6"/>
<circle cx="639.0" cy="137.3" r="0.38" fill="#cec8d6"/>
<circle cx="316.7" cy="147.5" r="0.99" fill="#8e65f0"/>
<circle cx="325.4" cy="147.5" r="0.81" fill="#a886e8"/>
<circle cx="334.1" cy="147.5" r="0.38" fill="#cec8d6"/>
<circle cx="342.8" cy="147.5" r="0.38" fill="#cec8d6"/>
<circle cx="351.5" cy="147.5" r="1.44" fill="#7248f6"/>
<circle cx="360.2" cy="147.5" r="0.38" fill="#cec8d6"/>
<circle cx="369.0" cy="147.5" r="0.38" fill="#cec8d6"/>
<circle cx="377.7" cy="147.5" r="1.62" fill="#9d77ec"/>
<circle cx="386.4" cy="147.5" r="0.81" fill="#a886e8"/>
<circle cx="395.1" cy="147.5" r="0.38" fill="#cec8d6"/>
<circle cx="403.8" cy="147.5" r="0.38" fill="#cec8d6"/>
<circle cx="412.5" cy="147.5" r="0.38" fill="#cec8d6"/>
<circle cx="421.2" cy="147.5" r="0.38" fill="#cec8d6"/>
<circle cx="429.9" cy="147.5" r="0.38" fill="#cec8d6"/>
<circle cx="438.6" cy="147.5" r="0.38" fill="#cec8d6"/>
<circle cx="447.4" cy="147.5" r="0.38" fill="#cec8d6"/>
<circle cx="456.1" cy="147.5" r="0.38" fill="#cec8d6"/>
<circle cx="464.8" cy="147.5" r="1.17" fill="#7248f6"/>
<circle cx="473.5" cy="147.5" r="1.08" fill="#7248f6"/>
<circle cx="482.2" cy="147.5" r="0.38" fill="#cec8d6"/>
<circle cx="490.9" cy="147.5" r="0.38" fill="#cec8d6"/>
<circle cx="499.6" cy="147.5" r="0.38" fill="#cec8d6"/>
<circle cx="508.3" cy="147.5" r="0.81" fill="#a886e8"/>
<circle cx="517.0" cy="147.5" r="0.38" fill="#cec8d6"/>
<circle cx="525.7" cy="147.5" r="0.38" fill="#cec8d6"/>
<circle cx="534.5" cy="147.5" r="0.38" fill="#cec8d6"/>
<circle cx="543.2" cy="147.5" r="0.38" fill="#cec8d6"/>
<circle cx="551.9" cy="147.5" r="0.38" fill="#cec8d6"/>
<circle cx="560.6" cy="147.5" r="0.38" fill="#cec8d6"/>
<circle cx="569.3" cy="147.5" r="0.38" fill="#cec8d6"/>
<circle cx="578.0" cy="147.5" r="0.38" fill="#cec8d6"/>
<circle cx="586.7" cy="147.5" r="0.38" fill="#cec8d6"/>
<circle cx="595.4" cy="147.5" r="0.38" fill="#cec8d6"/>
<circle cx="604.1" cy="147.5" r="0.38" fill="#cec8d6"/>
<circle cx="612.8" cy="147.5" r="0.38" fill="#cec8d6"/>
<circle cx="621.5" cy="147.5" r="0.38" fill="#cec8d6"/>
<circle cx="630.3" cy="147.5" r="0.38" fill="#cec8d6"/>
<circle cx="639.0" cy="147.5" r="0.38" fill="#cec8d6"/>
<circle cx="316.7" cy="157.6" r="1.80" fill="#855bf2"/>
<circle cx="325.4" cy="157.6" r="0.81" fill="#a886e8"/>
<circle cx="334.1" cy="157.6" r="0.81" fill="#a886e8"/>
<circle cx="342.8" cy="157.6" r="1.08" fill="#a480ea"/>
<circle cx="351.5" cy="157.6" r="2.25" fill="#673df8"/>
<circle cx="360.2" cy="157.6" r="0.38" fill="#cec8d6"/>
<circle cx="369.0" cy="157.6" r="0.38" fill="#cec8d6"/>
<circle cx="377.7" cy="157.6" r="1.98" fill="#a480ea"/>
<circle cx="386.4" cy="157.6" r="0.81" fill="#a886e8"/>
<circle cx="395.1" cy="157.6" r="1.17" fill="#5932fa"/>
<circle cx="403.8" cy="157.6" r="0.38" fill="#cec8d6"/>
<circle cx="412.5" cy="157.6" r="0.38" fill="#cec8d6"/>
<circle cx="421.2" cy="157.6" r="0.38" fill="#cec8d6"/>
<circle cx="429.9" cy="157.6" r="0.81" fill="#a886e8"/>
<circle cx="438.6" cy="157.6" r="0.38" fill="#cec8d6"/>
<circle cx="447.4" cy="157.6" r="0.38" fill="#cec8d6"/>
<circle cx="456.1" cy="157.6" r="0.38" fill="#cec8d6"/>
<circle cx="464.8" cy="157.6" r="0.81" fill="#a886e8"/>
<circle cx="473.5" cy="157.6" r="1.98" fill="#7248f6"/>
<circle cx="482.2" cy="157.6" r="0.38" fill="#cec8d6"/>
<circle cx="490.9" cy="157.6" r="0.38" fill="#cec8d6"/>
<circle cx="499.6" cy="157.6" r="0.38" fill="#cec8d6"/>
<circle cx="508.3" cy="157.6" r="0.81" fill="#a886e8"/>
<circle cx="517.0" cy="157.6" r="0.38" fill="#cec8d6"/>
<circle cx="525.7" cy="157.6" r="0.38" fill="#cec8d6"/>
<circle cx="534.5" cy="157.6" r="0.38" fill="#cec8d6"/>
<circle cx="543.2" cy="157.6" r="0.38" fill="#cec8d6"/>
<circle cx="551.9" cy="157.6" r="0.38" fill="#cec8d6"/>
<circle cx="560.6" cy="157.6" r="0.81" fill="#a886e8"/>
<circle cx="569.3" cy="157.6" r="0.81" fill="#a886e8"/>
<circle cx="578.0" cy="157.6" r="0.38" fill="#cec8d6"/>
<circle cx="586.7" cy="157.6" r="0.81" fill="#a886e8"/>
<circle cx="595.4" cy="157.6" r="0.38" fill="#cec8d6"/>
<circle cx="604.1" cy="157.6" r="0.38" fill="#cec8d6"/>
<circle cx="612.8" cy="157.6" r="0.81" fill="#a886e8"/>
<circle cx="621.5" cy="157.6" r="0.81" fill="#a886e8"/>
<circle cx="630.3" cy="157.6" r="0.38" fill="#cec8d6"/>
<circle cx="639.0" cy="157.6" r="0.38" fill="#cec8d6"/>
<circle cx="316.7" cy="167.8" r="1.26" fill="#855bf2"/>
<circle cx="325.4" cy="167.8" r="0.81" fill="#a886e8"/>
<circle cx="334.1" cy="167.8" r="0.38" fill="#cec8d6"/>
<circle cx="342.8" cy="167.8" r="0.38" fill="#cec8d6"/>
<circle cx="351.5" cy="167.8" r="1.62" fill="#7248f6"/>
<circle cx="360.2" cy="167.8" r="0.38" fill="#cec8d6"/>
<circle cx="369.0" cy="167.8" r="0.38" fill="#cec8d6"/>
<circle cx="377.7" cy="167.8" r="1.98" fill="#a480ea"/>
<circle cx="386.4" cy="167.8" r="0.81" fill="#a886e8"/>
<circle cx="395.1" cy="167.8" r="0.38" fill="#cec8d6"/>
<circle cx="403.8" cy="167.8" r="0.38" fill="#cec8d6"/>
<circle cx="412.5" cy="167.8" r="0.38" fill="#cec8d6"/>
<circle cx="421.2" cy="167.8" r="0.38" fill="#cec8d6"/>
<circle cx="429.9" cy="167.8" r="0.38" fill="#cec8d6"/>
<circle cx="438.6" cy="167.8" r="0.38" fill="#cec8d6"/>
<circle cx="447.4" cy="167.8" r="0.38" fill="#cec8d6"/>
<circle cx="456.1" cy="167.8" r="0.38" fill="#cec8d6"/>
<circle cx="464.8" cy="167.8" r="1.62" fill="#7248f6"/>
<circle cx="473.5" cy="167.8" r="1.44" fill="#7248f6"/>
<circle cx="482.2" cy="167.8" r="0.38" fill="#cec8d6"/>
<circle cx="490.9" cy="167.8" r="0.38" fill="#cec8d6"/>
<circle cx="499.6" cy="167.8" r="0.38" fill="#cec8d6"/>
<circle cx="508.3" cy="167.8" r="1.62" fill="#7248f6"/>
<circle cx="517.0" cy="167.8" r="0.38" fill="#cec8d6"/>
<circle cx="525.7" cy="167.8" r="0.38" fill="#cec8d6"/>
<circle cx="534.5" cy="167.8" r="0.38" fill="#cec8d6"/>
<circle cx="543.2" cy="167.8" r="0.38" fill="#cec8d6"/>
<circle cx="551.9" cy="167.8" r="0.38" fill="#cec8d6"/>
<circle cx="560.6" cy="167.8" r="0.38" fill="#cec8d6"/>
<circle cx="569.3" cy="167.8" r="0.38" fill="#cec8d6"/>
<circle cx="578.0" cy="167.8" r="0.38" fill="#cec8d6"/>
<circle cx="586.7" cy="167.8" r="0.38" fill="#cec8d6"/>
<circle cx="595.4" cy="167.8" r="0.38" fill="#cec8d6"/>
<circle cx="604.1" cy="167.8" r="0.38" fill="#cec8d6"/>
<circle cx="612.8" cy="167.8" r="0.38" fill="#cec8d6"/>
<circle cx="621.5" cy="167.8" r="0.81" fill="#a886e8"/>
<circle cx="630.3" cy="167.8" r="0.38" fill="#cec8d6"/>
<circle cx="639.0" cy="167.8" r="0.38" fill="#cec8d6"/>
<circle cx="316.7" cy="177.9" r="1.98" fill="#7248f6"/>
<circle cx="325.4" cy="177.9" r="1.80" fill="#9d77ec"/>
<circle cx="334.1" cy="177.9" r="0.38" fill="#cec8d6"/>
<circle cx="342.8" cy="177.9" r="0.38" fill="#cec8d6"/>
<circle cx="351.5" cy="177.9" r="1.26" fill="#8e65f0"/>
<circle cx="360.2" cy="177.9" r="0.38" fill="#cec8d6"/>
<circle cx="369.0" cy="177.9" r="0.38" fill="#cec8d6"/>
<circle cx="377.7" cy="177.9" r="1.35" fill="#aa89e7"/>
<circle cx="386.4" cy="177.9" r="2.16" fill="#5932fa"/>
<circle cx="395.1" cy="177.9" r="1.17" fill="#855bf2"/>
<circle cx="403.8" cy="177.9" r="1.98" fill="#0000ff"/>
<circle cx="412.5" cy="177.9" r="2.16" fill="#0000ff"/>
<circle cx="421.2" cy="177.9" r="0.38" fill="#cec8d6"/>
<circle cx="429.9" cy="177.9" r="0.38" fill="#cec8d6"/>
<circle cx="438.6" cy="177.9" r="0.38" fill="#cec8d6"/>
<circle cx="447.4" cy="177.9" r="0.38" fill="#cec8d6"/>
<circle cx="456.1" cy="177.9" r="0.9" fill="#6b6b6b"/>
<circle cx="464.8" cy="177.9" r="1.62" fill="#855bf2"/>
<circle cx="473.5" cy="177.9" r="0.81" fill="#a886e8"/>
<circle cx="482.2" cy="177.9" r="0.38" fill="#cec8d6"/>
<circle cx="490.9" cy="177.9" r="0.38" fill="#cec8d6"/>
<circle cx="499.6" cy="177.9" r="0.38" fill="#cec8d6"/>
<circle cx="508.3" cy="177.9" r="2.07" fill="#673df8"/>
<circle cx="517.0" cy="177.9" r="0.38" fill="#cec8d6"/>
<circle cx="525.7" cy="177.9" r="0.38" fill="#cec8d6"/>
<circle cx="534.5" cy="177.9" r="0.38" fill="#cec8d6"/>
<circle cx="543.2" cy="177.9" r="0.38" fill="#cec8d6"/>
<circle cx="551.9" cy="177.9" r="0.38" fill="#cec8d6"/>
<circle cx="560.6" cy="177.9" r="0.38" fill="#cec8d6"/>
<circle cx="569.3" cy="177.9" r="0.38" fill="#cec8d6"/>
<circle cx="578.0" cy="177.9" r="0.38" fill="#cec8d6"/>
<circle cx="586.7" cy="177.9" r="0.81" fill="#a886e8"/>
<circle cx="595.4" cy="177.9" r="0.38" fill="#cec8d6"/>
<circle cx="604.1" cy="177.9" r="0.38" fill="#cec8d6"/>
<circle cx="612.8" cy="177.9" r="0.38" fill="#cec8d6"/>
<circle cx="621.5" cy="177.9" r="0.81" fill="#a886e8"/>
<circle cx="630.3" cy="177.9" r="0.38" fill="#cec8d6"/>
<circle cx="639.0" cy="177.9" r="0.38" fill="#cec8d6"/>
<circle cx="316.7" cy="188.0" r="0.38" fill="#cec8d6"/>
<circle cx="325.4" cy="188.0" r="1.26" fill="#aa89e7"/>
<circle cx="334.1" cy="188.0" r="0.81" fill="#a886e8"/>
<circle cx="342.8" cy="188.0" r="1.62" fill="#966eee"/>
<circle cx="351.5" cy="188.0" r="0.38" fill="#cec8d6"/>
<circle cx="360.2" cy="188.0" r="0.38" fill="#cec8d6"/>
<circle cx="369.0" cy="188.0" r="0.38" fill="#cec8d6"/>
<circle cx="377.7" cy="188.0" r="0.9" fill="#6b6b6b"/>
<circle cx="386.4" cy="188.0" r="1.44" fill="#a480ea"/>
<circle cx="395.1" cy="188.0" r="1.35" fill="#966eee"/>
<circle cx="403.8" cy="188.0" r="1.08" fill="#966eee"/>
<circle cx="412.5" cy="188.0" r="1.08" fill="#8e65f0"/>
<circle cx="421.2" cy="188.0" r="0.38" fill="#cec8d6"/>
<circle cx="429.9" cy="188.0" r="0.38" fill="#cec8d6"/>
<circle cx="438.6" cy="188.0" r="0.38" fill="#cec8d6"/>
<circle cx="447.4" cy="188.0" r="0.38" fill="#cec8d6"/>
<circle cx="456.1" cy="188.0" r="0.38" fill="#cec8d6"/>
<circle cx="464.8" cy="188.0" r="0.81" fill="#a886e8"/>
<circle cx="473.5" cy="188.0" r="0.38" fill="#cec8d6"/>
<circle cx="482.2" cy="188.0" r="0.9" fill="#6b6b6b"/>
<circle cx="490.9" cy="188.0" r="0.38" fill="#cec8d6"/>
<circle cx="499.6" cy="188.0" r="0.81" fill="#a886e8"/>
<circle cx="508.3" cy="188.0" r="0.38" fill="#cec8d6"/>
<circle cx="517.0" cy="188.0" r="0.38" fill="#cec8d6"/>
<circle cx="525.7" cy="188.0" r="0.38" fill="#cec8d6"/>
<circle cx="534.5" cy="188.0" r="0.38" fill="#cec8d6"/>
<circle cx="543.2" cy="188.0" r="0.38" fill="#cec8d6"/>
<circle cx="551.9" cy="188.0" r="1.80" fill="#8e65f0"/>
<circle cx="560.6" cy="188.0" r="0.38" fill="#cec8d6"/>
<circle cx="569.3" cy="188.0" r="0.38" fill="#cec8d6"/>
<circle cx="578.0" cy="188.0" r="0.38" fill="#cec8d6"/>
<circle cx="586.7" cy="188.0" r="1.35" fill="#a480ea"/>
<circle cx="595.4" cy="188.0" r="0.38" fill="#cec8d6"/>
<circle cx="604.1" cy="188.0" r="0.38" fill="#cec8d6"/>
<circle cx="612.8" cy="188.0" r="0.38" fill="#cec8d6"/>
<circle cx="621.5" cy="188.0" r="0.38" fill="#cec8d6"/>
<circle cx="630.3" cy="188.0" r="0.38" fill="#cec8d6"/>
<circle cx="639.0" cy="188.0" r="0.38" fill="#cec8d6"/>
<circle cx="316.7" cy="198.2" r="1.80" fill="#9d77ec"/>
<circle cx="325.4" cy="198.2" r="1.80" fill="#9d77ec"/>
<circle cx="334.1" cy="198.2" r="1.80" fill="#673df8"/>
<circle cx="342.8" cy="198.2" r="2.07" fill="#7c51f4"/>
<circle cx="351.5" cy="198.2" r="0.38" fill="#cec8d6"/>
<circle cx="360.2" cy="198.2" r="0.38" fill="#cec8d6"/>
<circle cx="369.0" cy="198.2" r="0.38" fill="#cec8d6"/>
<circle cx="377.7" cy="198.2" r="0.9" fill="#6b6b6b"/>
<circle cx="386.4" cy="198.2" r="2.07" fill="#8e65f0"/>
<circle cx="395.1" cy="198.2" r="1.80" fill="#855bf2"/>
<circle cx="403.8" cy="198.2" r="1.62" fill="#855bf2"/>
<circle cx="412.5" cy="198.2" r="1.98" fill="#8e65f0"/>
<circle cx="421.2" cy="198.2" r="0.38" fill="#cec8d6"/>
<circle cx="429.9" cy="198.2" r="0.81" fill="#a886e8"/>
<circle cx="438.6" cy="198.2" r="0.38" fill="#cec8d6"/>
<circle cx="447.4" cy="198.2" r="0.38" fill="#cec8d6"/>
<circle cx="456.1" cy="198.2" r="0.38" fill="#cec8d6"/>
<circle cx="464.8" cy="198.2" r="0.38" fill="#cec8d6"/>
<circle cx="473.5" cy="198.2" r="0.38" fill="#cec8d6"/>
<circle cx="482.2" cy="198.2" r="0.38" fill="#cec8d6"/>
<circle cx="490.9" cy="198.2" r="0.38" fill="#cec8d6"/>
<circle cx="499.6" cy="198.2" r="0.38" fill="#cec8d6"/>
<circle cx="508.3" cy="198.2" r="0.38" fill="#cec8d6"/>
<circle cx="517.0" cy="198.2" r="0.38" fill="#cec8d6"/>
<circle cx="525.7" cy="198.2" r="0.38" fill="#cec8d6"/>
<circle cx="534.5" cy="198.2" r="0.38" fill="#cec8d6"/>
<circle cx="543.2" cy="198.2" r="0.38" fill="#cec8d6"/>
<circle cx="551.9" cy="198.2" r="0.38" fill="#cec8d6"/>
<circle cx="560.6" cy="198.2" r="0.38" fill="#cec8d6"/>
<circle cx="569.3" cy="198.2" r="0.38" fill="#cec8d6"/>
<circle cx="578.0" cy="198.2" r="0.38" fill="#cec8d6"/>
<circle cx="586.7" cy="198.2" r="1.35" fill="#a480ea"/>
<circle cx="595.4" cy="198.2" r="0.38" fill="#cec8d6"/>
<circle cx="604.1" cy="198.2" r="0.38" fill="#cec8d6"/>
<circle cx="612.8" cy="198.2" r="0.38" fill="#cec8d6"/>
<circle cx="621.5" cy="198.2" r="0.38" fill="#cec8d6"/>
<circle cx="630.3" cy="198.2" r="0.38" fill="#cec8d6"/>
<circle cx="639.0" cy="198.2" r="0.38" fill="#cec8d6"/>
<circle cx="316.7" cy="208.3" r="1.80" fill="#966eee"/>
<circle cx="325.4" cy="208.3" r="1.80" fill="#9d77ec"/>
<circle cx="334.1" cy="208.3" r="1.80" fill="#5932fa"/>
<circle cx="342.8" cy="208.3" r="2.07" fill="#7c51f4"/>
<circle cx="351.5" cy="208.3" r="0.38" fill="#cec8d6"/>
<circle cx="360.2" cy="208.3" r="0.38" fill="#cec8d6"/>
<circle cx="369.0" cy="208.3" r="0.38" fill="#cec8d6"/>
<circle cx="377.7" cy="208.3" r="0.9" fill="#6b6b6b"/>
<circle cx="386.4" cy="208.3" r="2.07" fill="#966eee"/>
<circle cx="395.1" cy="208.3" r="1.80" fill="#7c51f4"/>
<circle cx="403.8" cy="208.3" r="0.38" fill="#cec8d6"/>
<circle cx="412.5" cy="208.3" r="0.81" fill="#a886e8"/>
<circle cx="421.2" cy="208.3" r="0.38" fill="#cec8d6"/>
<circle cx="429.9" cy="208.3" r="0.90" fill="#9d77ec"/>
<circle cx="438.6" cy="208.3" r="0.38" fill="#cec8d6"/>
<circle cx="447.4" cy="208.3" r="0.38" fill="#cec8d6"/>
<circle cx="456.1" cy="208.3" r="0.38" fill="#cec8d6"/>
<circle cx="464.8" cy="208.3" r="0.38" fill="#cec8d6"/>
<circle cx="473.5" cy="208.3" r="0.38" fill="#cec8d6"/>
<circle cx="482.2" cy="208.3" r="0.38" fill="#cec8d6"/>
<circle cx="490.9" cy="208.3" r="0.38" fill="#cec8d6"/>
<circle cx="499.6" cy="208.3" r="0.38" fill="#cec8d6"/>
<circle cx="508.3" cy="208.3" r="0.38" fill="#cec8d6"/>
<circle cx="517.0" cy="208.3" r="0.38" fill="#cec8d6"/>
<circle cx="525.7" cy="208.3" r="0.38" fill="#cec8d6"/>
<circle cx="534.5" cy="208.3" r="0.38" fill="#cec8d6"/>
<circle cx="543.2" cy="208.3" r="0.38" fill="#cec8d6"/>
<circle cx="551.9" cy="208.3" r="0.38" fill="#cec8d6"/>
<circle cx="560.6" cy="208.3" r="0.38" fill="#cec8d6"/>
<circle cx="569.3" cy="208.3" r="0.38" fill="#cec8d6"/>
<circle cx="578.0" cy="208.3" r="0.38" fill="#cec8d6"/>
<circle cx="586.7" cy="208.3" r="1.26" fill="#a480ea"/>
<circle cx="595.4" cy="208.3" r="0.38" fill="#cec8d6"/>
<circle cx="604.1" cy="208.3" r="0.38" fill="#cec8d6"/>
<circle cx="612.8" cy="208.3" r="0.38" fill="#cec8d6"/>
<circle cx="621.5" cy="208.3" r="0.38" fill="#cec8d6"/>
<circle cx="630.3" cy="208.3" r="0.38" fill="#cec8d6"/>
<circle cx="639.0" cy="208.3" r="0.38" fill="#cec8d6"/>
<path d="M311.3 70V214.2H643.3" fill="none" stroke="#6e6e6e" stroke-width="1.0"/>
<path d="M309.5 76.5h1.8" stroke="#a6a6a6" stroke-width="0.7"/>
<text x="309.0" y="78.6" font-size="6.4" fill="#1a1a1a" text-anchor="end" textLength="34.5" lengthAdjust="spacingAndGlyphs" stroke="#1a1a1a" stroke-width="0.15">BIPOLAR Pre</text>
<path d="M309.5 86.6h1.8" stroke="#a6a6a6" stroke-width="0.7"/>
<text x="309.0" y="88.7" font-size="6.4" fill="#1a1a1a" text-anchor="end" textLength="16.2" lengthAdjust="spacingAndGlyphs" stroke="#1a1a1a" stroke-width="0.15">CONE</text>
<path d="M309.5 96.8h1.8" stroke="#a6a6a6" stroke-width="0.7"/>
<text x="309.0" y="98.9" font-size="6.4" fill="#1a1a1a" text-anchor="end" textLength="12.4" lengthAdjust="spacingAndGlyphs" stroke="#1a1a1a" stroke-width="0.15">ROD</text>
<path d="M309.5 106.9h1.8" stroke="#a6a6a6" stroke-width="0.7"/>
<text x="309.0" y="109.0" font-size="6.4" fill="#1a1a1a" text-anchor="end" textLength="30.1" lengthAdjust="spacingAndGlyphs" stroke="#1a1a1a" stroke-width="0.15">PHOTO Pre</text>
<path d="M309.5 117.1h1.8" stroke="#a6a6a6" stroke-width="0.7"/>
<text x="309.0" y="119.2" font-size="6.4" fill="#1a1a1a" text-anchor="end" textLength="16.8" lengthAdjust="spacingAndGlyphs" stroke="#1a1a1a" stroke-width="0.15">INTER</text>
<path d="M309.5 127.2h1.8" stroke="#a6a6a6" stroke-width="0.7"/>
<text x="309.0" y="129.3" font-size="6.4" fill="#1a1a1a" text-anchor="end" textLength="22.7" lengthAdjust="spacingAndGlyphs" stroke="#1a1a1a" stroke-width="0.15">MULLER</text>
<path d="M309.5 137.3h1.8" stroke="#a6a6a6" stroke-width="0.7"/>
<text x="309.0" y="139.4" font-size="6.4" fill="#1a1a1a" text-anchor="end" textLength="11.8" lengthAdjust="spacingAndGlyphs" stroke="#1a1a1a" stroke-width="0.15">CM2</text>
<path d="M309.5 147.5h1.8" stroke="#a6a6a6" stroke-width="0.7"/>
<text x="309.0" y="149.6" font-size="6.4" fill="#1a1a1a" text-anchor="end" textLength="11.8" lengthAdjust="spacingAndGlyphs" stroke="#1a1a1a" stroke-width="0.15">CM1</text>
<path d="M309.5 157.6h1.8" stroke="#a6a6a6" stroke-width="0.7"/>
<text x="309.0" y="159.7" font-size="6.4" fill="#1a1a1a" text-anchor="end" textLength="15.6" lengthAdjust="spacingAndGlyphs" stroke="#1a1a1a" stroke-width="0.15">RGC2</text>
<path d="M309.5 167.8h1.8" stroke="#a6a6a6" stroke-width="0.7"/>
<text x="309.0" y="169.9" font-size="6.4" fill="#1a1a1a" text-anchor="end" textLength="15.6" lengthAdjust="spacingAndGlyphs" stroke="#1a1a1a" stroke-width="0.15">RGC1</text>
<path d="M309.5 177.9h1.8" stroke="#a6a6a6" stroke-width="0.7"/>
<text x="309.0" y="180.0" font-size="6.4" fill="#1a1a1a" text-anchor="end" textLength="15.9" lengthAdjust="spacingAndGlyphs" stroke="#1a1a1a" stroke-width="0.15">NRPC</text>
<path d="M309.5 188.0h1.8" stroke="#a6a6a6" stroke-width="0.7"/>
<text x="309.0" y="190.1" font-size="6.4" fill="#1a1a1a" text-anchor="end" textLength="40.6" lengthAdjust="spacingAndGlyphs" stroke="#1a1a1a" stroke-width="0.15">Transient NRPC</text>
<path d="M309.5 198.2h1.8" stroke="#a6a6a6" stroke-width="0.7"/>
<text x="309.0" y="200.3" font-size="6.4" fill="#1a1a1a" text-anchor="end" textLength="26.1" lengthAdjust="spacingAndGlyphs" stroke="#1a1a1a" stroke-width="0.15">Early RPC</text>
<path d="M309.5 208.3h1.8" stroke="#a6a6a6" stroke-width="0.7"/>
<text x="309.0" y="210.4" font-size="6.4" fill="#1a1a1a" text-anchor="end" textLength="24.3" lengthAdjust="spacingAndGlyphs" stroke="#1a1a1a" stroke-width="0.15">Late RPC</text>
<path d="M316.7 214.2v1.8" stroke="#a6a6a6" stroke-width="0.7"/>
<text x="0.0" y="0.0" font-size="6.2" fill="#1a1a1a" text-anchor="end" stroke="#1a1a1a" stroke-width="0.15" transform="translate(318.7 218.5) rotate(-45)">LHX2</text>
<path d="M325.4 214.2v1.8" stroke="#a6a6a6" stroke-width="0.7"/>
<text x="0.0" y="0.0" font-size="6.2" fill="#1a1a1a" text-anchor="end" stroke="#1a1a1a" stroke-width="0.15" transform="translate(327.4 218.5) rotate(-45)">PAX6</text>
<path d="M334.1 214.2v1.8" stroke="#a6a6a6" stroke-width="0.7"/>
<text x="0.0" y="0.0" font-size="6.2" fill="#1a1a1a" text-anchor="end" stroke="#1a1a1a" stroke-width="0.15" transform="translate(336.1 218.5) rotate(-45)">RAX</text>
<path d="M342.8 214.2v1.8" stroke="#a6a6a6" stroke-width="0.7"/>
<text x="0.0" y="0.0" font-size="6.2" fill="#1a1a1a" text-anchor="end" stroke="#1a1a1a" stroke-width="0.15" transform="translate(344.8 218.5) rotate(-45)">SIX3</text>
<path d="M351.5 214.2v1.8" stroke="#a6a6a6" stroke-width="0.7"/>
<text x="0.0" y="0.0" font-size="6.2" fill="#1a1a1a" text-anchor="end" stroke="#1a1a1a" stroke-width="0.15" transform="translate(353.5 218.5) rotate(-45)">ELAVL3</text>
<path d="M360.2 214.2v1.8" stroke="#a6a6a6" stroke-width="0.7"/>
<text x="0.0" y="0.0" font-size="6.2" fill="#1a1a1a" text-anchor="end" stroke="#1a1a1a" stroke-width="0.15" transform="translate(362.2 218.5) rotate(-45)">RCVRN</text>
<path d="M369.0 214.2v1.8" stroke="#a6a6a6" stroke-width="0.7"/>
<text x="0.0" y="0.0" font-size="6.2" fill="#1a1a1a" text-anchor="end" stroke="#1a1a1a" stroke-width="0.15" transform="translate(371.0 218.5) rotate(-45)">VSX2</text>
<path d="M377.7 214.2v1.8" stroke="#a6a6a6" stroke-width="0.7"/>
<text x="0.0" y="0.0" font-size="6.2" fill="#1a1a1a" text-anchor="end" stroke="#1a1a1a" stroke-width="0.15" transform="translate(379.7 218.5) rotate(-45)">MAP2</text>
<path d="M386.4 214.2v1.8" stroke="#a6a6a6" stroke-width="0.7"/>
<text x="0.0" y="0.0" font-size="6.2" fill="#1a1a1a" text-anchor="end" stroke="#1a1a1a" stroke-width="0.15" transform="translate(388.4 218.5) rotate(-45)">SOX2</text>
<path d="M395.1 214.2v1.8" stroke="#a6a6a6" stroke-width="0.7"/>
<text x="0.0" y="0.0" font-size="6.2" fill="#1a1a1a" text-anchor="end" stroke="#1a1a1a" stroke-width="0.15" transform="translate(397.1 218.5) rotate(-45)">NES</text>
<path d="M403.8 214.2v1.8" stroke="#a6a6a6" stroke-width="0.7"/>
<text x="0.0" y="0.0" font-size="6.2" fill="#1a1a1a" text-anchor="end" stroke="#1a1a1a" stroke-width="0.15" transform="translate(405.8 218.5) rotate(-45)">MKI67</text>
<path d="M412.5 214.2v1.8" stroke="#a6a6a6" stroke-width="0.7"/>
<text x="0.0" y="0.0" font-size="6.2" fill="#1a1a1a" text-anchor="end" stroke="#1a1a1a" stroke-width="0.15" transform="translate(414.5 218.5) rotate(-45)">TOP2A</text>
<path d="M421.2 214.2v1.8" stroke="#a6a6a6" stroke-width="0.7"/>
<text x="0.0" y="0.0" font-size="6.2" fill="#1a1a1a" text-anchor="end" stroke="#1a1a1a" stroke-width="0.15" transform="translate(423.2 218.5) rotate(-45)">RLBP1</text>
<path d="M429.9 214.2v1.8" stroke="#a6a6a6" stroke-width="0.7"/>
<text x="0.0" y="0.0" font-size="6.2" fill="#1a1a1a" text-anchor="end" stroke="#1a1a1a" stroke-width="0.15" transform="translate(431.9 218.5) rotate(-45)">PAX2</text>
<path d="M438.6 214.2v1.8" stroke="#a6a6a6" stroke-width="0.7"/>
<text x="0.0" y="0.0" font-size="6.2" fill="#1a1a1a" text-anchor="end" stroke="#1a1a1a" stroke-width="0.15" transform="translate(440.6 218.5) rotate(-45)">GFAP</text>
<path d="M447.4 214.2v1.8" stroke="#a6a6a6" stroke-width="0.7"/>
<text x="0.0" y="0.0" font-size="6.2" fill="#1a1a1a" text-anchor="end" stroke="#1a1a1a" stroke-width="0.15" transform="translate(449.4 218.5) rotate(-45)">CRYBB1</text>
<path d="M456.1 214.2v1.8" stroke="#a6a6a6" stroke-width="0.7"/>
<text x="0.0" y="0.0" font-size="6.2" fill="#1a1a1a" text-anchor="end" stroke="#1a1a1a" stroke-width="0.15" transform="translate(458.1 218.5) rotate(-45)">SOX1</text>
<path d="M464.8 214.2v1.8" stroke="#a6a6a6" stroke-width="0.7"/>
<text x="0.0" y="0.0" font-size="6.2" fill="#1a1a1a" text-anchor="end" stroke="#1a1a1a" stroke-width="0.15" transform="translate(466.8 218.5) rotate(-45)">FOXG1</text>
<path d="M473.5 214.2v1.8" stroke="#a6a6a6" stroke-width="0.7"/>
<text x="0.0" y="0.0" font-size="6.2" fill="#1a1a1a" text-anchor="end" stroke="#1a1a1a" stroke-width="0.15" transform="translate(475.5 218.5) rotate(-45)">ELAVL4</text>
<path d="M482.2 214.2v1.8" stroke="#a6a6a6" stroke-width="0.7"/>
<text x="0.0" y="0.0" font-size="6.2" fill="#1a1a1a" text-anchor="end" stroke="#1a1a1a" stroke-width="0.15" transform="translate(484.2 218.5) rotate(-45)">DLX6</text>
<path d="M490.9 214.2v1.8" stroke="#a6a6a6" stroke-width="0.7"/>
<text x="0.0" y="0.0" font-size="6.2" fill="#1a1a1a" text-anchor="end" stroke="#1a1a1a" stroke-width="0.15" transform="translate(492.9 218.5) rotate(-45)">GDF7</text>
<path d="M499.6 214.2v1.8" stroke="#a6a6a6" stroke-width="0.7"/>
<text x="0.0" y="0.0" font-size="6.2" fill="#1a1a1a" text-anchor="end" stroke="#1a1a1a" stroke-width="0.15" transform="translate(501.6 218.5) rotate(-45)">LMX1A</text>
<path d="M508.3 214.2v1.8" stroke="#a6a6a6" stroke-width="0.7"/>
<text x="0.0" y="0.0" font-size="6.2" fill="#1a1a1a" text-anchor="end" stroke="#1a1a1a" stroke-width="0.15" transform="translate(510.3 218.5) rotate(-45)">HES6</text>
<path d="M517.0 214.2v1.8" stroke="#a6a6a6" stroke-width="0.7"/>
<text x="0.0" y="0.0" font-size="6.2" fill="#1a1a1a" text-anchor="end" stroke="#1a1a1a" stroke-width="0.15" transform="translate(519.0 218.5) rotate(-45)">ATOH7</text>
<path d="M525.7 214.2v1.8" stroke="#a6a6a6" stroke-width="0.7"/>
<text x="0.0" y="0.0" font-size="6.2" fill="#1a1a1a" text-anchor="end" stroke="#1a1a1a" stroke-width="0.15" transform="translate(527.7 218.5) rotate(-45)">POU4F2</text>
<path d="M534.5 214.2v1.8" stroke="#a6a6a6" stroke-width="0.7"/>
<text x="0.0" y="0.0" font-size="6.2" fill="#1a1a1a" text-anchor="end" stroke="#1a1a1a" stroke-width="0.15" transform="translate(536.5 218.5) rotate(-45)">ISL1</text>
<path d="M543.2 214.2v1.8" stroke="#a6a6a6" stroke-width="0.7"/>
<text x="0.0" y="0.0" font-size="6.2" fill="#1a1a1a" text-anchor="end" stroke="#1a1a1a" stroke-width="0.15" transform="translate(545.2 218.5) rotate(-45)">PRDM13</text>
<path d="M551.9 214.2v1.8" stroke="#a6a6a6" stroke-width="0.7"/>
<text x="0.0" y="0.0" font-size="6.2" fill="#1a1a1a" text-anchor="end" stroke="#1a1a1a" stroke-width="0.15" transform="translate(553.9 218.5) rotate(-45)">TFAP2A</text>
<path d="M560.6 214.2v1.8" stroke="#a6a6a6" stroke-width="0.7"/>
<text x="0.0" y="0.0" font-size="6.2" fill="#1a1a1a" text-anchor="end" stroke="#1a1a1a" stroke-width="0.15" transform="translate(562.6 218.5) rotate(-45)">PROX1</text>
<path d="M569.3 214.2v1.8" stroke="#a6a6a6" stroke-width="0.7"/>
<text x="0.0" y="0.0" font-size="6.2" fill="#1a1a1a" text-anchor="end" stroke="#1a1a1a" stroke-width="0.15" transform="translate(571.3 218.5) rotate(-45)">ONECUT1</text>
<path d="M578.0 214.2v1.8" stroke="#a6a6a6" stroke-width="0.7"/>
<text x="0.0" y="0.0" font-size="6.2" fill="#1a1a1a" text-anchor="end" stroke="#1a1a1a" stroke-width="0.15" transform="translate(580.0 218.5) rotate(-45)">CRX</text>
<path d="M586.7 214.2v1.8" stroke="#a6a6a6" stroke-width="0.7"/>
<text x="0.0" y="0.0" font-size="6.2" fill="#1a1a1a" text-anchor="end" stroke="#1a1a1a" stroke-width="0.15" transform="translate(588.7 218.5) rotate(-45)">OTX2</text>
<path d="M595.4 214.2v1.8" stroke="#a6a6a6" stroke-width="0.7"/>
<text x="0.0" y="0.0" font-size="6.2" fill="#1a1a1a" text-anchor="end" stroke="#1a1a1a" stroke-width="0.15" transform="translate(597.4 218.5) rotate(-45)">ARR3</text>
<path d="M604.1 214.2v1.8" stroke="#a6a6a6" stroke-width="0.7"/>
<text x="0.0" y="0.0" font-size="6.2" fill="#1a1a1a" text-anchor="end" stroke="#1a1a1a" stroke-width="0.15" transform="translate(606.1 218.5) rotate(-45)">OPN1SW</text>
<path d="M612.8 214.2v1.8" stroke="#a6a6a6" stroke-width="0.7"/>
<text x="0.0" y="0.0" font-size="6.2" fill="#1a1a1a" text-anchor="end" stroke="#1a1a1a" stroke-width="0.15" transform="translate(614.8 218.5) rotate(-45)">NRL</text>
<path d="M621.5 214.2v1.8" stroke="#a6a6a6" stroke-width="0.7"/>
<text x="0.0" y="0.0" font-size="6.2" fill="#1a1a1a" text-anchor="end" stroke="#1a1a1a" stroke-width="0.15" transform="translate(623.5 218.5) rotate(-45)">VSX1</text>
<path d="M630.3 214.2v1.8" stroke="#a6a6a6" stroke-width="0.7"/>
<text x="0.0" y="0.0" font-size="6.2" fill="#1a1a1a" text-anchor="end" stroke="#1a1a1a" stroke-width="0.15" transform="translate(632.3 218.5) rotate(-45)">GRM6</text>
<path d="M639.0 214.2v1.8" stroke="#a6a6a6" stroke-width="0.7"/>
<text x="0.0" y="0.0" font-size="6.2" fill="#1a1a1a" text-anchor="end" stroke="#1a1a1a" stroke-width="0.15" transform="translate(641.0 218.5) rotate(-45)">GRIK1</text>
<text x="477.9" y="246.2" font-size="8.8" fill="#111" text-anchor="middle">Features</text>
<text x="0.0" y="0.0" font-size="9.0" fill="#111" text-anchor="middle" transform="translate(265.6 143.3) rotate(-90)">Identity</text>
<defs><linearGradient id="gB" x1="0" y1="1" x2="0" y2="0"><stop offset="0.00" stop-color="#d3d3d3"/><stop offset="0.20" stop-color="#c1aede"/><stop offset="0.40" stop-color="#aa89e7"/><stop offset="0.60" stop-color="#8e65f0"/><stop offset="0.80" stop-color="#673df8"/><stop offset="1.00" stop-color="#0000ff"/></linearGradient></defs>
<text x="648.0" y="116.2" font-size="4.8" fill="#1a1a1a" textLength="35.3" lengthAdjust="spacingAndGlyphs">Average Expression</text>
<rect x="648.0" y="118.5" width="4.2" height="21.1" fill="url(#gB)"/>
<text x="654.2" y="123.8" font-size="6.2" fill="#1a1a1a">2</text>
<text x="654.2" y="129.0" font-size="6.2" fill="#1a1a1a">1</text>
<text x="654.2" y="134.3" font-size="6.2" fill="#1a1a1a">0</text>
<text x="654.2" y="139.6" font-size="6.2" fill="#1a1a1a">-1</text>
<text x="648.0" y="147.9" font-size="4.8" fill="#1a1a1a" textLength="33.5" lengthAdjust="spacingAndGlyphs">Percent Expressed</text>
<circle cx="650.2" cy="152.6" r="0.25" fill="#000"/>
<text x="654.2" y="154.8" font-size="6.2" fill="#1a1a1a">0</text>
<circle cx="650.2" cy="158.1" r="0.55" fill="#000"/>
<text x="654.2" y="160.3" font-size="6.2" fill="#1a1a1a">25</text>
<circle cx="650.2" cy="163.6" r="1.0" fill="#000"/>
<text x="654.2" y="165.8" font-size="6.2" fill="#1a1a1a">50</text>
<circle cx="650.2" cy="169.1" r="1.45" fill="#000"/>
<text x="654.2" y="171.3" font-size="6.2" fill="#1a1a1a">75</text>
<path d="M28.7 365.6L33.9 364.2L39.9 363.5L43.3 363.7L44.0 366.1L43.6 370.8L45.1 376.5L42.1 381.3L37.6 381.3L33.9 379.3L30.2 376.5L27.2 372.7L27.6 368.9Z" fill="#00BFC4" fill-opacity="0.3"/>
<path d="M37.9 373.7h0M41.5 367.1h0M30.5 368.3h0M34.9 367.7h0M34.7 367.9h0M41.9 367.1h0M38.1 373.1h0M31.2 368.8h0M42.4 378.5h0M32.4 377.0h0M42.8 368.0h0M43.8 375.5h0M37.9 365.7h0M40.1 365.3h0M31.5 376.5h0M38.5 367.8h0M33.8 375.7h0M34.9 372.3h0M30.7 368.9h0M31.8 374.2h0M28.3 373.6h0M37.9 366.7h0M33.9 367.7h0M43.6 369.6h0M36.6 372.7h0M38.9 374.7h0M41.0 376.9h0M34.5 379.5h0M39.3 363.6h0M37.3 369.6h0M39.0 374.4h0M37.6 373.1h0M43.2 372.1h0M39.2 367.1h0M37.5 381.1h0M38.5 377.7h0M37.7 371.9h0M44.6 376.3h0M31.2 376.1h0M30.7 373.7h0M31.4 365.6h0M38.6 365.5h0M31.1 376.3h0M30.4 369.2h0M38.3 372.3h0M31.3 376.0h0M34.6 379.0h0M34.4 367.6h0M42.5 368.9h0M36.1 372.3h0M31.3 375.5h0M33.2 370.8h0M37.5 374.9h0M31.0 371.4h0M38.9 373.3h0M35.3 372.7h0M31.0 366.5h0M29.2 370.6h0M34.0 375.1h0M35.9 372.5h0M38.4 377.3h0M34.4 373.4h0M33.1 374.8h0M38.2 364.9h0M38.8 371.8h0M40.3 376.7h0M41.9 374.4h0M35.3 375.9h0M31.0 376.2h0M35.8 370.4h0M32.9 366.6h0M27.4 372.5h0M31.3 375.4h0M39.0 368.4h0M37.4 375.0h0M32.7 367.7h0M35.9 370.1h0M34.2 374.2h0M28.4 371.6h0M34.1 375.9h0M33.6 376.8h0M41.6 368.9h0M31.3 375.5h0M35.8 367.0h0M39.9 380.5h0M34.8 378.4h0M31.7 365.8h0M37.0 365.4h0M38.4 378.9h0M33.2 364.7h0M36.8 372.3h0M39.6 377.0h0M42.9 374.5h0M38.2 368.6h0M43.6 377.1h0M38.5 370.1h0M33.0 369.6h0M42.4 376.5h0M42.2 372.1h0M27.8 368.4h0M38.9 376.1h0M38.5 366.8h0M32.1 368.1h0M44.7 375.7h0M34.3 375.0h0M41.5 365.4h0M31.6 369.7h0M39.7 370.4h0M36.9 373.0h0M39.0 376.0h0M36.9 377.1h0M36.6 378.2h0M34.6 373.4h0M35.0 368.3h0M40.8 378.2h0M39.4 380.8h0M29.5 371.9h0M34.8 373.5h0M42.8 379.9h0M28.2 370.2h0M36.0 370.9h0M44.7 376.0h0M36.7 380.0h0M43.9 378.4h0M32.2 369.3h0M35.1 365.4h0M33.8 369.1h0M27.3 372.3h0M38.3 372.7h0M30.1 374.9h0M31.3 370.8h0M37.3 368.9h0M38.9 373.6h0M34.9 372.0h0M35.9 371.4h0M32.9 373.9h0M33.4 371.1h0M28.1 370.1h0M36.8 367.9h0M32.4 375.3h0M29.4 370.9h0M40.9 363.9h0M33.1 377.3h0M29.0 373.3h0M38.5 376.9h0M40.4 367.4h0M33.5 372.7h0M34.2 372.8h0M41.6 365.5h0M31.0 365.5h0M29.6 367.0h0M39.4 370.6h0M29.6 368.0h0M35.1 377.0h0M37.9 364.4h0M42.4 373.4h0M39.8 377.9h0M37.7 371.1h0M40.5 373.4h0M41.0 369.5h0M38.3 368.0h0M38.0 380.4h0M41.2 376.0h0M36.7 373.7h0M38.5 372.3h0M33.9 372.0h0M37.3 365.9h0M38.8 374.8h0M28.8 372.9h0M41.3 366.6h0M32.4 366.1h0M38.5 377.1h0M29.9 369.2h0M32.0 376.7h0M39.4 377.6h0M43.9 366.7h0M33.3 370.4h0M33.6 372.6h0M39.7 365.0h0M33.1 375.8h0M39.0 378.3h0M35.9 364.8h0M37.8 364.3h0M38.1 375.7h0M32.3 366.2h0M32.5 366.7h0M42.7 374.4h0M37.3 373.6h0M35.9 378.4h0M30.9 376.9h0M35.8 369.5h0M40.2 379.8h0M43.1 377.3h0M41.2 379.5h0M31.2 373.9h0M29.9 372.6h0M37.8 377.2h0M36.2 378.4h0M30.5 369.2h0M30.2 365.3h0M34.5 376.0h0M42.6 371.1h0M33.3 377.2h0M30.2 375.0h0M38.9 370.2h0M28.1 369.0h0M36.2 373.3h0M38.0 370.2h0M42.0 378.4h0M29.9 375.8h0M36.2 369.6h0M41.4 376.2h0M34.5 364.9h0M34.9 377.3h0M42.5 371.7h0M37.6 368.7h0M41.5 370.0h0M37.0 367.6h0M37.8 378.1h0M38.9 371.1h0M39.4 369.9h0M40.8 367.5h0M34.2 379.3h0M37.5 366.8h0M32.3 371.2h0M36.3 377.4h0M37.5 380.2h0M41.8 378.6h0M44.1 377.6h0M35.2 368.4h0M43.8 365.6h0M43.0 369.4h0M43.6 372.3h0M38.1 364.4h0M31.2 365.4h0M31.6 376.9h0M39.1 364.1h0M38.3 370.2h0M38.4 375.8h0M43.8 368.2h0M33.0 369.3h0M29.8 367.5h0M42.3 376.0h0M29.6 367.4h0M40.0 380.7h0M41.6 374.9h0M31.4 367.5h0M35.1 365.4h0M39.4 368.7h0M39.5 371.6h0M33.4 374.4h0M28.6 373.0h0M33.0 375.5h0M35.1 375.6h0M41.9 370.6h0M41.0 369.6h0M34.1 374.9h0M35.9 377.1h0M38.5 369.3h0M41.4 366.3h0M38.0 369.8h0M38.2 375.3h0M43.5 378.2h0M39.7 380.4h0M34.5 368.0h0M30.7 367.0h0M35.9 379.4h0M36.1 374.8h0M34.9 369.1h0M44.0 373.3h0M43.3 368.0h0M39.2 366.3h0M42.8 377.9h0M35.4 373.6h0M32.9 374.9h0M28.2 369.4h0M36.8 369.3h0M42.1 378.1h0M33.0 368.2h0M40.7 375.9h0M31.8 369.9h0M37.8 368.3h0M41.9 380.2h0M38.6 370.1h0M36.5 366.7h0M31.4 368.8h0M39.9 371.4h0M32.0 370.7h0M43.9 366.9h0M33.1 373.0h0M41.5 371.2h0M36.3 366.9h0M37.6 376.9h0M41.7 376.7h0M42.0 377.1h0M31.0 369.9h0M42.6 376.3h0M36.8 376.0h0M40.8 373.7h0M40.1 377.3h0M32.7 365.7h0M38.9 367.0h0M32.0 370.5h0M31.1 365.4h0M37.3 370.7h0M38.8 375.4h0M28.7 373.7h0M42.2 366.7h0M34.2 377.2h0M39.5 377.9h0M30.1 370.8h0M36.1 379.0h0M35.8 370.1h0M41.9 368.5h0M42.8 365.5h0M37.9 364.3h0M33.3 374.0h0M32.0 375.2h0M34.9 372.8h0M36.6 368.9h0M35.0 367.3h0M40.3 374.8h0M40.3 372.9h0M31.5 375.2h0M41.5 373.0h0M41.1 365.8h0M38.5 372.0h0M31.1 375.4h0M42.0 365.4h0M35.9 373.2h0M37.3 366.8h0M41.6 364.4h0M32.5 375.0h0M40.7 366.2h0M37.2 366.6h0M38.0 370.5h0M37.2 379.9h0M39.9 375.4h0M35.2 377.3h0M34.8 376.7h0M42.7 367.9h0M31.8 370.9h0M30.5 366.4h0M34.7 375.6h0M38.7 377.6h0M33.5 376.8h0M30.2 369.7h0M39.6 367.2h0M37.1 366.4h0M39.2 380.7h0M34.6 375.9h0M30.2 370.4h0M36.0 373.2h0M32.7 377.7h0M32.2 372.5h0M33.3 376.9h0M30.8 368.4h0M37.3 377.4h0M38.6 377.3h0M32.6 369.3h0M36.4 371.1h0M36.3 372.7h0M43.0 379.9h0M27.8 371.5h0M38.3 370.2h0M28.9 370.2h0" stroke="#00BFC4" stroke-width="0.8" stroke-linecap="round" fill="none"/>
<path d="M42.9 376.0L45.9 378.4L47.3 384.1L48.8 390.7L46.6 393.1L42.9 391.7L41.4 388.9L43.6 385.0L44.3 380.3Z" fill="#DF70F8" fill-opacity="0.3"/>
<path d="M47.0 387.1h0M44.9 391.0h0M44.4 377.6h0M46.5 384.6h0M44.1 391.7h0M45.2 391.6h0M47.9 387.6h0M46.6 386.5h0M44.4 381.7h0M48.6 390.3h0M47.0 391.7h0M45.6 384.4h0M47.3 384.7h0M45.9 384.9h0M46.1 383.0h0M44.2 389.9h0M46.1 379.5h0M45.2 387.8h0M43.6 388.2h0M42.1 390.0h0M44.4 390.2h0M47.0 384.0h0M44.6 385.4h0M46.0 386.0h0M42.0 390.1h0M44.0 384.4h0M45.5 388.8h0M46.2 384.3h0M48.5 389.6h0M46.1 384.4h0M42.3 388.7h0M44.4 379.8h0M45.8 386.9h0M46.3 383.9h0M45.3 390.2h0M45.7 379.1h0M44.0 384.9h0M44.4 380.3h0M46.5 390.3h0M45.0 384.5h0M44.4 384.6h0M42.5 388.8h0M44.1 384.1h0M46.6 387.8h0M46.2 383.9h0M42.1 390.0h0M47.4 385.6h0M42.2 388.4h0M46.2 392.3h0M47.5 385.7h0M46.0 383.6h0M43.6 390.3h0M45.4 385.6h0M45.4 392.2h0M42.5 390.0h0M44.9 379.0h0M44.3 379.9h0M44.1 386.3h0M45.7 383.7h0M42.6 389.1h0M43.2 391.2h0M41.8 389.1h0M45.0 384.6h0M44.4 388.7h0M46.2 380.4h0M45.0 378.6h0M44.2 378.5h0M46.8 382.7h0M45.7 387.6h0M48.3 389.5h0M43.3 388.4h0M46.5 393.0h0M42.4 388.7h0M45.5 387.7h0M42.6 388.8h0M46.4 387.8h0M45.0 382.7h0M46.6 392.1h0M45.3 379.3h0M43.1 386.6h0M44.1 383.6h0M46.4 381.1h0M42.9 389.1h0M44.7 383.1h0M46.1 383.5h0M45.1 384.5h0M44.2 379.6h0M45.6 384.6h0M45.1 388.1h0M46.4 382.0h0M43.6 392.0h0M42.6 389.9h0M47.7 388.9h0M44.9 390.7h0M42.9 390.1h0" stroke="#DF70F8" stroke-width="0.8" stroke-linecap="round" fill="none"/>
<path d="M25.7 376.9L28.3 375.1L32.4 378.4L36.2 383.2L39.9 386.9L42.1 390.7L40.6 396.4L37.6 400.2L30.2 401.2L26.5 399.7L24.3 394.6L23.9 385.0L24.3 379.3Z" fill="#E38900" fill-opacity="0.3"/>
<path d="M29.8 396.2h0M34.8 398.8h0M31.6 384.2h0M40.7 388.6h0M36.2 395.3h0M31.8 379.4h0M35.7 385.6h0M26.3 383.6h0M24.5 385.2h0M30.4 390.7h0M26.6 377.0h0M31.0 396.0h0M25.7 377.2h0M39.8 394.2h0M29.3 385.8h0M28.2 376.0h0M28.1 380.3h0M29.3 399.3h0M35.4 397.3h0M32.7 392.8h0M28.2 397.0h0M27.4 379.4h0M41.4 391.0h0M31.7 387.5h0M29.0 386.2h0M33.4 381.5h0M34.0 382.6h0M26.2 394.8h0M37.1 393.4h0M31.0 379.2h0M33.0 382.8h0M32.4 387.2h0M27.3 382.2h0M34.3 398.2h0M32.0 391.5h0M34.4 399.2h0M26.6 398.2h0M26.5 384.8h0M26.0 382.2h0M37.8 396.5h0M27.6 394.5h0M27.2 394.9h0M30.1 396.7h0M32.6 391.5h0M27.7 383.4h0M25.0 380.9h0M37.4 385.5h0M35.7 395.3h0M37.1 388.9h0M26.6 377.6h0M24.5 381.0h0M30.5 378.2h0M38.6 398.5h0M24.9 380.4h0M31.2 384.6h0M28.0 397.8h0M35.3 387.3h0M37.8 392.6h0M24.0 383.5h0M28.6 390.5h0M38.7 393.4h0M28.6 378.9h0M28.2 377.2h0M28.1 394.8h0M33.4 399.8h0M27.8 380.6h0M31.6 391.2h0M30.1 393.0h0M31.9 388.8h0M35.7 388.7h0M35.7 389.5h0M32.3 394.6h0M34.8 399.2h0M31.2 395.5h0M25.4 390.9h0M24.3 379.8h0M26.8 384.3h0M37.1 398.8h0M29.6 383.7h0M31.4 385.4h0M27.9 393.6h0M25.1 381.0h0M24.3 394.0h0M31.6 391.4h0M39.2 391.2h0M32.9 399.0h0M24.8 387.9h0M34.9 400.5h0M37.7 397.3h0M28.6 376.6h0M26.1 376.7h0M34.8 394.3h0M34.0 397.4h0M38.8 386.0h0M30.2 384.0h0M29.1 398.9h0M34.8 386.5h0M38.8 389.0h0M35.9 393.9h0M28.3 386.9h0M41.7 390.1h0M32.2 393.3h0M26.1 384.6h0M34.4 385.1h0M41.6 391.4h0M31.5 400.6h0M31.7 392.1h0M31.8 386.2h0M34.9 390.3h0M35.3 383.2h0M25.3 386.4h0M40.0 389.6h0M26.5 384.6h0M24.6 379.4h0M25.6 386.1h0M39.7 395.0h0M26.0 389.8h0M24.6 389.5h0M30.5 385.4h0M31.3 399.9h0M31.2 378.7h0M33.6 381.4h0M31.0 397.2h0M32.3 393.0h0M26.8 385.1h0M30.1 379.7h0M41.4 392.2h0M26.7 380.1h0M28.0 398.3h0M26.0 379.4h0M31.7 379.6h0M40.8 393.4h0M29.3 375.9h0M33.7 388.9h0M36.1 394.0h0M38.8 392.1h0M33.3 396.7h0M27.6 397.8h0M24.7 394.3h0M26.0 389.7h0M38.6 396.7h0M37.3 396.7h0M36.6 387.5h0M28.1 387.2h0M35.7 392.8h0M24.7 379.6h0M27.3 399.7h0M24.8 391.5h0M41.0 393.2h0M33.3 379.8h0M31.4 396.9h0M33.2 400.8h0M24.4 379.9h0M29.3 400.8h0M28.9 398.5h0M27.8 390.3h0M31.1 397.3h0M28.6 400.4h0M32.1 388.5h0M30.0 400.3h0M33.2 384.8h0M27.5 398.2h0M35.0 383.0h0M34.2 391.3h0M34.1 391.0h0M33.1 387.3h0M35.9 384.5h0M24.2 389.1h0M32.3 389.9h0M35.7 387.9h0M37.3 395.8h0M24.7 387.5h0M27.5 376.9h0M35.3 386.8h0M28.5 396.1h0M37.8 396.2h0M30.2 390.6h0M36.1 398.9h0M30.0 391.9h0M40.5 393.7h0M27.2 385.6h0M39.8 394.1h0M36.7 396.1h0M35.9 398.9h0M32.9 386.6h0M29.2 386.3h0M34.0 391.0h0M29.7 400.6h0M38.1 390.8h0M33.9 385.2h0M25.4 392.0h0M37.6 397.8h0M24.4 392.1h0M36.8 400.2h0M24.1 386.2h0M26.5 379.7h0M40.7 394.4h0M26.2 388.7h0M31.2 400.0h0M31.8 388.5h0M25.2 386.6h0M33.0 390.2h0M29.5 391.7h0M27.2 397.5h0M35.9 394.9h0M30.8 395.6h0M36.2 392.8h0M36.8 384.1h0M24.7 384.3h0M28.6 395.3h0M29.3 381.2h0M29.6 386.6h0M28.2 386.1h0M24.8 382.4h0M30.3 393.2h0M31.2 398.9h0M34.0 396.9h0M30.0 390.1h0M38.2 394.2h0M39.9 393.2h0M35.7 399.9h0M31.7 379.9h0M33.2 395.9h0M25.7 388.5h0M24.8 387.0h0M37.4 387.7h0M26.3 386.8h0M29.0 396.2h0M29.5 395.9h0M29.5 376.7h0M32.7 397.8h0M31.9 395.9h0M37.3 388.0h0M28.4 393.9h0M27.9 386.1h0M32.5 379.4h0M36.3 387.3h0M33.5 390.7h0M31.9 389.0h0M35.5 389.4h0M30.7 383.8h0M28.4 375.5h0M35.2 387.3h0M29.8 387.9h0M27.9 375.9h0M32.3 382.0h0M41.0 393.6h0M26.9 384.9h0M25.5 392.2h0M28.5 388.5h0M31.9 390.0h0M37.4 391.3h0M33.0 399.3h0M27.5 382.9h0M25.9 393.0h0M37.5 384.9h0M25.2 395.9h0M34.6 393.5h0M38.8 388.9h0M41.1 391.0h0M35.9 396.5h0M39.7 390.5h0M36.5 387.5h0M31.0 383.0h0M28.4 378.0h0M28.0 393.4h0M26.7 383.3h0M34.0 381.2h0M32.1 396.3h0M33.4 384.6h0M25.9 384.0h0M35.6 396.7h0M38.0 396.9h0M27.4 387.8h0M30.6 389.0h0M34.0 386.2h0M38.0 395.2h0M29.2 389.0h0M26.5 380.8h0M30.1 389.1h0M27.3 386.7h0M25.9 382.6h0M39.3 397.0h0M26.6 381.0h0M29.8 393.1h0M36.1 400.3h0M36.3 399.8h0M34.1 396.5h0M31.7 394.0h0M26.5 377.8h0M27.0 392.8h0M37.6 389.5h0M39.3 387.8h0M27.5 398.9h0M32.0 385.5h0M24.8 379.3h0M24.6 391.0h0M32.1 379.7h0M25.3 381.1h0M30.4 398.4h0M29.6 395.6h0M34.3 385.0h0M36.7 390.0h0M34.9 398.7h0M39.2 389.9h0M40.5 391.6h0M36.9 388.4h0M32.1 398.9h0M31.3 395.6h0M25.4 396.9h0M29.0 377.7h0M31.0 379.9h0M37.1 385.0h0M30.8 399.2h0M37.8 397.3h0M32.5 378.8h0M37.8 397.8h0M33.5 398.4h0M24.7 389.9h0M24.7 394.4h0M36.3 399.0h0M29.6 399.1h0M38.2 398.6h0M24.3 381.4h0M32.7 395.6h0M30.5 396.7h0M27.9 390.5h0M25.8 389.2h0M35.2 384.8h0M25.1 382.7h0M29.1 382.1h0M34.7 392.4h0M29.9 395.1h0M27.2 397.2h0M31.2 388.8h0M30.6 388.3h0M37.0 397.5h0M25.3 388.8h0M30.7 400.4h0M30.5 383.9h0M26.3 386.2h0M37.3 385.9h0M30.7 387.6h0M35.3 390.2h0M41.8 390.5h0M35.6 393.3h0M26.5 386.2h0M30.3 386.7h0M39.7 390.3h0M32.8 384.7h0M31.9 382.9h0M28.7 398.6h0M34.7 389.4h0M33.3 392.5h0M37.7 397.1h0M31.1 385.7h0M30.0 385.7h0M30.0 380.4h0M40.4 389.1h0M39.1 389.9h0M36.1 384.8h0M38.8 391.3h0M35.2 383.6h0M27.0 391.2h0M29.1 396.4h0M36.4 394.6h0M36.7 396.6h0M41.2 391.2h0M33.1 387.1h0M32.8 380.7h0M25.2 386.0h0M36.2 383.8h0M36.2 396.7h0M28.8 382.1h0M32.4 397.3h0M31.0 394.2h0M24.4 383.6h0M31.6 381.8h0M41.3 390.4h0M37.4 385.6h0M34.5 383.2h0M36.9 388.3h0M37.0 395.8h0M37.6 399.0h0M27.5 383.1h0M25.4 381.6h0M40.2 396.4h0M32.7 399.3h0M34.6 392.8h0M30.8 399.8h0M29.9 398.7h0M35.0 385.1h0M30.3 399.9h0M37.9 397.3h0M26.9 381.4h0M35.3 390.6h0M30.1 389.3h0M31.2 381.7h0M38.7 391.7h0M32.3 394.5h0M37.0 388.4h0M31.7 379.4h0M29.5 382.9h0M30.3 397.3h0M33.9 390.1h0M29.3 398.3h0M38.3 394.6h0M37.0 399.6h0M25.3 396.0h0M31.1 381.7h0M24.3 385.0h0M34.4 394.8h0M28.0 392.0h0M26.8 377.0h0M25.6 387.1h0M24.8 394.1h0M25.7 389.5h0M30.3 389.5h0M32.3 382.2h0M26.0 389.3h0M24.4 390.4h0M38.5 392.0h0M26.6 389.2h0M32.5 390.4h0M27.8 397.4h0M28.0 391.3h0M27.6 386.2h0M39.9 392.0h0M37.7 392.8h0M31.6 394.6h0M28.8 381.1h0M28.3 392.9h0M35.0 388.5h0M25.2 380.7h0M31.9 398.1h0M28.0 398.5h0M27.9 384.6h0M33.9 386.6h0M27.2 385.2h0M32.3 395.8h0M40.0 396.7h0M25.8 394.8h0M24.6 390.6h0M26.8 398.3h0M32.7 394.1h0M33.4 400.4h0M36.4 393.4h0M35.2 400.0h0M32.2 382.3h0M24.8 385.6h0M37.1 395.0h0M30.2 378.6h0M27.0 389.5h0M25.4 381.7h0M27.4 396.8h0M29.6 378.1h0M30.2 398.8h0M32.3 383.4h0M35.0 394.5h0M34.9 384.5h0M29.3 398.0h0M37.0 389.0h0M38.7 387.4h0M32.1 379.0h0M36.9 390.1h0M29.3 399.0h0M34.8 392.9h0M32.5 391.2h0M34.8 389.3h0M28.2 380.3h0M34.5 388.5h0M34.6 398.7h0M35.3 390.0h0M37.8 390.7h0M37.1 398.6h0M32.7 382.7h0M32.6 390.9h0M31.9 387.1h0M26.9 378.9h0M37.3 390.3h0M28.9 388.5h0M25.4 381.4h0M30.2 381.6h0M41.6 390.4h0M31.4 388.7h0M34.4 395.9h0M32.6 383.0h0M25.2 392.5h0M25.6 385.3h0M26.9 386.4h0M35.6 384.0h0M28.5 391.0h0M39.3 386.6h0M32.3 382.0h0M31.9 397.3h0M27.1 383.4h0M29.2 376.3h0" stroke="#E38900" stroke-width="0.8" stroke-linecap="round" fill="none"/>
<path d="M160.0 344.7L164.0 342.2L167.9 339.3L169.6 336.8L172.5 332.8L174.7 329.2L177.6 326.3L181.0 324.8L185.5 323.9L189.5 324.5L192.9 327.4L195.7 331.7L191.2 334.2L188.3 336.4L186.1 340.0L183.8 345.1L181.0 347.9L178.1 344.3L174.2 343.6L170.8 345.1L166.8 345.4L162.8 345.8Z" fill="#C49A00" fill-opacity="0.3"/>
<path d="M177.4 327.7h0M181.7 334.5h0M179.7 341.9h0M173.0 341.8h0M178.5 335.6h0M173.2 336.4h0M179.6 328.9h0M189.4 331.4h0M180.9 326.2h0M188.0 328.7h0M173.9 343.7h0M186.8 335.5h0M184.8 330.5h0M175.4 341.9h0M174.7 340.0h0M194.6 331.1h0M186.5 328.9h0M189.6 324.9h0M178.2 331.5h0M177.8 336.7h0M186.9 334.0h0M182.5 332.7h0M181.9 327.7h0M168.2 342.0h0M183.8 326.3h0M171.2 340.2h0M177.6 331.3h0M190.8 332.8h0M175.1 342.8h0M190.8 334.5h0M187.0 329.0h0M167.8 340.8h0M176.4 339.4h0M191.9 327.0h0M178.7 337.0h0M189.6 326.8h0M181.2 330.3h0M188.9 326.7h0M183.8 331.4h0M169.7 337.0h0M179.8 326.2h0M178.2 331.0h0M185.2 337.7h0M188.0 329.3h0M175.2 343.1h0M168.0 341.3h0M182.1 334.4h0M186.9 328.8h0M182.3 327.6h0M180.1 341.6h0M191.0 330.9h0M172.6 340.0h0M180.2 342.9h0M180.3 334.8h0M187.2 324.4h0M178.6 337.8h0M171.4 334.5h0M193.6 332.5h0M188.4 324.6h0M188.8 328.0h0M174.1 343.4h0M165.4 342.3h0M183.9 327.5h0M183.4 336.3h0M168.9 342.5h0M183.4 337.6h0M181.6 337.8h0M184.5 342.8h0M183.3 335.8h0M167.6 341.3h0M186.3 338.5h0M173.2 338.5h0M170.3 342.1h0M188.3 332.8h0M179.6 345.0h0M186.8 330.8h0M185.4 338.5h0M191.8 328.6h0M178.8 336.6h0M170.3 343.4h0M189.2 326.6h0M177.1 327.0h0M162.1 344.0h0M180.6 340.1h0M182.6 341.6h0M183.0 328.3h0M182.1 331.1h0M172.3 344.3h0M188.2 331.3h0M180.8 336.5h0M176.6 333.6h0M177.1 343.2h0M174.3 341.3h0M181.3 330.7h0M182.4 326.8h0M188.5 330.7h0M184.8 341.0h0M188.8 330.2h0M183.2 341.5h0M176.0 337.2h0M181.6 334.9h0M183.3 335.5h0M179.1 332.1h0M173.7 340.7h0M179.9 337.8h0M187.6 328.2h0M169.3 339.8h0M185.8 334.4h0M190.5 333.7h0M191.3 329.8h0M184.8 327.9h0M172.9 333.2h0M176.0 328.2h0M185.8 326.0h0M182.2 324.9h0M167.5 344.6h0M183.1 335.2h0M181.2 342.4h0M173.0 333.3h0M177.6 334.4h0M189.3 332.6h0M186.7 337.0h0M191.6 330.5h0M190.6 333.2h0M178.4 337.0h0M190.6 329.0h0M191.7 330.4h0M183.0 338.5h0M180.4 326.6h0M171.0 342.9h0M177.3 337.4h0M179.2 335.6h0M187.1 334.0h0M174.7 336.5h0M171.0 341.7h0M182.0 333.8h0M175.4 343.6h0M190.4 328.0h0M177.1 343.9h0M184.0 326.0h0M174.2 338.0h0M173.3 341.8h0M172.1 341.2h0M177.4 338.3h0M178.6 329.1h0M179.4 342.0h0M183.6 324.9h0M184.2 340.0h0M182.5 339.1h0M177.1 333.6h0M185.4 335.6h0M173.4 338.2h0M180.0 326.4h0M183.8 337.1h0M174.1 335.1h0M181.3 347.4h0M179.7 329.8h0M188.0 326.8h0M190.9 331.2h0M164.3 344.8h0M170.0 345.0h0M172.7 334.1h0M181.8 347.0h0M180.7 326.5h0M179.4 335.1h0M188.9 328.3h0M169.9 337.5h0M173.5 336.2h0M172.5 333.5h0M175.3 343.3h0M178.2 327.5h0M166.2 343.8h0M188.9 329.7h0M182.3 339.2h0M172.7 336.8h0M173.2 336.1h0M179.6 345.7h0M190.0 326.8h0M179.6 330.9h0M164.3 341.9h0M175.0 334.8h0M179.6 336.0h0M167.9 343.3h0M178.6 343.3h0M176.1 328.4h0M191.4 326.7h0M194.8 330.6h0M180.5 332.2h0M185.6 328.3h0M172.3 338.2h0M182.1 336.9h0M173.3 337.5h0M178.4 339.2h0M167.2 341.7h0M182.7 343.0h0M183.6 332.4h0M178.6 336.3h0M190.1 327.7h0M175.6 341.3h0M181.7 325.8h0M193.7 332.1h0M183.6 327.0h0M184.7 334.6h0M186.9 324.7h0M182.7 336.4h0M183.0 340.0h0M170.3 345.1h0M176.2 338.9h0M171.7 338.5h0M179.8 326.3h0M172.2 341.2h0M180.3 336.5h0M177.7 342.3h0M182.3 325.3h0M182.0 344.3h0M173.8 340.9h0M180.0 333.2h0M164.5 344.2h0M186.5 332.2h0M178.5 332.5h0M173.9 342.0h0M182.2 331.7h0M169.6 340.6h0M185.2 341.9h0M178.6 344.5h0M185.8 335.9h0M187.7 332.2h0M176.7 332.2h0M177.3 340.2h0M188.5 331.6h0M177.6 335.8h0M182.6 330.3h0M181.3 347.4h0M173.9 342.9h0M191.5 328.2h0M178.3 326.8h0M191.2 332.5h0M187.5 332.1h0M174.1 339.2h0M185.8 330.0h0M183.1 338.6h0M193.0 333.0h0M182.0 340.7h0M191.9 331.3h0M173.0 332.4h0M184.3 325.2h0M182.2 344.0h0M175.6 339.5h0M180.1 344.1h0M178.1 339.7h0M191.9 330.5h0M177.0 327.8h0M179.2 331.2h0M180.6 329.8h0M163.6 343.4h0M187.8 329.4h0M179.9 337.6h0M185.1 327.4h0M175.9 335.1h0M176.8 338.3h0M179.9 344.9h0M169.0 344.7h0M184.4 336.3h0M177.5 332.5h0M184.0 338.2h0M171.3 340.1h0M189.3 331.4h0M163.5 343.9h0M175.2 328.9h0M182.0 338.5h0M189.4 330.9h0M173.3 338.3h0M176.3 340.2h0M168.2 341.6h0M165.5 344.8h0M180.7 332.3h0M173.2 338.6h0M185.0 326.1h0M183.0 330.4h0M179.0 334.8h0M183.6 341.9h0M167.8 342.5h0M162.7 345.5h0M166.7 341.2h0M186.0 328.2h0M183.5 334.3h0M173.7 338.0h0M177.2 329.3h0M177.3 333.5h0M181.2 343.7h0M181.0 332.7h0M166.0 342.2h0M188.7 336.0h0M175.9 342.6h0M186.7 327.7h0M184.2 337.5h0M178.7 336.4h0M175.7 336.1h0M180.8 344.2h0M181.1 347.6h0M180.3 337.8h0M191.2 329.6h0M177.9 330.4h0M169.0 344.1h0M184.9 337.0h0M187.2 334.0h0M183.8 327.5h0M169.7 342.3h0M173.8 332.2h0M179.5 338.1h0M170.7 335.4h0M182.2 331.1h0M186.0 335.3h0M174.1 333.6h0M185.2 330.5h0M171.7 336.1h0M186.5 328.7h0M175.0 332.7h0M177.4 343.0h0M171.8 336.8h0M170.5 338.8h0M173.8 343.3h0M181.1 342.6h0M181.7 335.7h0M191.5 332.0h0M188.7 335.5h0M183.8 337.4h0M177.1 331.8h0M171.1 344.6h0M180.1 341.0h0M181.3 339.0h0M185.6 326.3h0M174.7 340.0h0M186.8 338.0h0M183.1 333.9h0M174.6 330.1h0M184.1 329.6h0M176.9 332.7h0M169.4 342.0h0M187.8 332.9h0M168.3 343.7h0M183.0 336.7h0M182.2 339.6h0M188.8 327.3h0M188.7 333.2h0M185.5 331.8h0M181.6 346.0h0M176.6 344.0h0M185.2 325.6h0M179.8 344.9h0M178.5 344.3h0M168.0 344.4h0M192.8 329.4h0M194.7 332.1h0M182.1 340.2h0M183.9 339.8h0M181.2 342.0h0M164.2 343.2h0M186.2 331.9h0M186.6 326.3h0M176.7 330.2h0M165.3 342.4h0M171.4 337.5h0M190.8 332.0h0M181.1 345.0h0M186.6 325.4h0M161.0 344.1h0M182.2 335.3h0M181.8 342.2h0M167.6 342.3h0M170.4 339.3h0M178.1 327.3h0M180.7 331.9h0M166.3 342.4h0M192.6 332.6h0M180.7 330.9h0M165.1 341.9h0M185.5 340.7h0M165.0 342.3h0M181.1 339.5h0M183.7 327.5h0M190.2 330.1h0M178.9 333.2h0M181.8 340.9h0M177.8 339.7h0M178.7 333.1h0M182.1 336.7h0M170.4 339.4h0M191.3 333.8h0M175.5 343.6h0M184.0 325.8h0M174.0 341.5h0M176.0 332.2h0M165.5 341.3h0M184.8 333.1h0M179.5 325.5h0M169.0 341.9h0M189.4 325.5h0M175.3 336.5h0M169.9 344.8h0M190.3 326.7h0M171.4 344.5h0M177.0 328.8h0M163.3 343.7h0M179.9 339.1h0M168.3 344.6h0M174.0 336.1h0M183.6 345.1h0M178.9 327.4h0M178.0 332.8h0M181.3 327.1h0M179.0 332.1h0M164.7 344.2h0M163.5 342.7h0M189.1 330.9h0M172.5 341.3h0M177.1 341.1h0M178.6 344.5h0M175.5 337.7h0M176.2 330.6h0M172.6 342.2h0M175.4 339.0h0M187.7 331.5h0M172.2 335.3h0M173.8 336.1h0M170.9 339.8h0M186.2 327.3h0M188.3 334.1h0M176.6 334.9h0M178.0 331.4h0M188.9 335.8h0M181.9 345.3h0M185.4 325.0h0M176.4 328.5h0M181.1 330.1h0M170.3 339.6h0M182.5 343.5h0M172.2 334.1h0M183.2 343.8h0M175.3 339.5h0M180.6 333.2h0M166.8 341.9h0M172.5 336.3h0M188.0 327.4h0M192.5 330.2h0M185.6 331.7h0M170.6 338.0h0M176.7 340.1h0M169.3 341.3h0M187.8 328.2h0M187.6 332.5h0M174.2 337.4h0M188.7 327.7h0M167.0 345.0h0M188.1 332.6h0M191.2 326.0h0M191.3 332.4h0M181.7 333.4h0M182.5 329.0h0M175.8 338.7h0M171.8 339.0h0M179.1 331.9h0M182.3 341.3h0M176.2 334.9h0M189.5 329.1h0M190.2 331.6h0M173.8 341.2h0M181.6 345.0h0M184.1 326.4h0M165.8 342.8h0M178.8 339.4h0M176.8 343.9h0M193.1 329.2h0M176.6 336.3h0M183.5 325.3h0M184.1 336.1h0M177.9 333.5h0M189.1 334.4h0M166.5 345.4h0M176.1 339.2h0M194.3 331.2h0M183.0 340.9h0M183.1 330.1h0M180.6 344.5h0M179.6 336.5h0M177.7 340.3h0M177.2 335.1h0M190.7 331.2h0M176.5 339.8h0M178.7 331.2h0M183.1 335.2h0M175.4 341.3h0M175.7 329.4h0M175.3 341.7h0M171.3 337.1h0M184.7 330.3h0M186.8 336.8h0M173.3 334.7h0M177.0 338.3h0M185.2 340.8h0M171.2 344.3h0M183.8 325.7h0M180.2 326.0h0M184.0 327.8h0M177.9 335.9h0M181.5 326.1h0M187.7 331.6h0M173.4 334.1h0M187.9 329.9h0M182.1 340.0h0M172.3 339.7h0M176.4 331.2h0M183.7 343.5h0M178.7 334.7h0M188.1 334.7h0M170.4 340.0h0M182.7 344.2h0M181.3 344.4h0M182.8 332.6h0M179.7 341.7h0M187.9 330.5h0M173.6 336.1h0M181.8 338.6h0M166.3 342.3h0M181.9 332.4h0M184.8 340.8h0M175.4 338.8h0M191.2 332.4h0M184.6 334.6h0M164.2 343.9h0M175.0 339.0h0M190.3 330.6h0M182.9 333.2h0M168.9 342.6h0M181.8 346.3h0M177.1 340.1h0M174.4 337.4h0M172.1 336.2h0M173.3 342.4h0M177.2 332.5h0M180.7 339.9h0M168.1 342.3h0M184.7 340.1h0M183.7 333.5h0M173.1 338.8h0M193.0 330.3h0M182.4 346.1h0M180.3 328.1h0M165.5 345.3h0M178.7 328.1h0M190.8 334.3h0M181.2 335.9h0M184.1 329.1h0M188.9 332.4h0M187.1 338.0h0M174.8 335.2h0M166.1 344.0h0M177.8 330.7h0M176.3 337.2h0M184.1 339.7h0M168.3 343.3h0M193.5 332.7h0M170.5 342.9h0M188.7 330.0h0M176.4 332.6h0M171.9 341.8h0M184.1 327.2h0M171.4 341.3h0M176.4 342.8h0M183.5 326.9h0M174.6 337.0h0M183.2 328.1h0M181.8 328.3h0M181.7 342.1h0M169.6 342.1h0M183.1 327.1h0M193.0 331.7h0M191.8 327.9h0M170.3 340.2h0M171.6 341.2h0M185.3 337.0h0M185.0 328.5h0M182.2 324.8h0M190.6 332.8h0M167.2 345.0h0M175.1 333.7h0M169.6 338.6h0M183.8 339.7h0M179.0 333.2h0M178.5 326.9h0M162.1 344.9h0M184.8 326.1h0M176.4 336.5h0M161.2 344.2h0M162.5 343.6h0M178.0 338.6h0" stroke="#C49A00" stroke-width="0.8" stroke-linecap="round" fill="none"/>
<path d="M195.7 331.7L198.5 335.3L201.4 337.8L203.4 342.2L203.1 347.2L199.7 351.2L194.0 353.7L187.8 355.2L182.7 357.0L179.8 359.8L177.6 360.2L179.3 356.6L180.4 351.5L183.2 346.5L185.5 341.4L187.8 337.1L190.6 334.6Z" fill="#F8766D" fill-opacity="0.3"/>
<path d="M197.5 334.1h0M184.8 353.4h0M185.4 354.2h0M191.6 342.7h0M192.9 353.9h0M190.0 343.5h0M184.4 354.0h0M189.6 351.3h0M192.7 337.4h0M197.4 349.7h0M193.2 345.7h0M196.7 345.4h0M194.0 336.6h0M195.1 345.7h0M195.0 346.9h0M202.3 347.2h0M202.0 344.3h0M189.7 354.2h0M190.9 349.4h0M197.0 336.1h0M189.7 343.8h0M197.9 334.7h0M195.7 346.6h0M180.3 352.5h0M189.5 348.4h0M182.7 347.5h0M198.4 349.9h0M191.9 351.5h0M186.4 349.7h0M190.7 349.3h0M198.2 335.8h0M196.6 346.2h0M198.6 342.1h0M186.2 345.5h0M191.3 349.1h0M198.0 336.3h0M184.8 352.5h0M196.9 347.2h0M195.1 346.8h0M197.6 338.6h0M188.4 340.9h0M202.0 345.8h0M201.6 339.5h0M187.1 345.7h0M189.2 350.9h0M195.5 332.8h0M199.6 342.8h0M192.9 345.9h0M201.6 347.2h0M198.7 343.0h0M197.5 344.9h0M198.9 338.0h0M194.0 351.5h0M179.8 359.7h0M193.3 346.9h0M192.4 337.3h0M198.9 337.7h0M197.6 338.8h0M195.2 347.0h0M195.9 342.1h0M192.0 348.2h0M201.6 344.0h0M182.7 355.7h0M193.1 338.8h0M192.8 334.3h0M186.7 352.7h0M198.9 338.5h0M187.3 354.0h0M197.5 349.2h0M194.7 342.3h0M193.4 338.1h0M197.9 349.1h0M179.6 356.3h0M197.6 345.3h0M188.9 354.1h0M201.0 344.6h0M198.2 351.6h0M198.2 339.3h0M183.8 351.2h0M196.8 348.3h0M198.2 337.5h0M190.2 341.9h0M197.5 351.7h0M191.2 344.7h0M185.5 348.3h0M192.1 343.2h0M183.4 348.3h0M197.9 335.8h0M194.7 336.1h0M190.4 347.1h0M197.8 347.2h0M200.3 339.1h0M198.6 346.1h0M197.9 342.2h0M183.6 350.7h0M183.9 351.8h0M191.2 339.7h0M186.5 351.4h0M183.5 347.8h0M199.6 344.1h0M199.1 343.5h0M194.6 352.8h0M193.3 336.0h0M196.6 346.8h0M189.1 342.8h0M188.7 353.6h0M183.7 348.1h0M201.6 341.0h0M193.4 335.9h0M186.0 340.6h0M185.4 354.0h0M184.9 354.8h0M191.1 340.9h0M182.5 355.8h0M193.1 336.3h0M197.9 344.5h0M178.9 359.7h0M199.0 342.5h0M200.3 339.7h0M182.9 348.2h0M188.1 338.1h0M183.1 347.6h0M196.9 341.2h0M188.3 345.6h0M190.1 344.4h0M189.0 350.9h0M197.6 344.6h0M194.7 347.4h0M183.6 351.0h0M190.0 353.2h0M189.3 345.7h0M196.5 347.4h0M199.9 337.2h0M187.7 349.0h0M183.2 347.5h0M183.4 356.3h0M197.8 347.1h0M184.3 348.4h0M181.3 353.6h0M196.3 342.0h0M186.0 342.0h0M196.2 344.2h0M198.5 335.8h0M184.5 354.9h0M188.0 338.5h0M195.2 340.6h0M182.1 353.3h0M188.8 347.4h0M192.2 344.9h0M202.2 348.2h0M189.1 349.2h0M188.8 338.5h0M195.4 339.1h0M184.4 352.6h0M199.0 336.9h0M190.1 350.9h0M199.2 342.3h0M182.0 352.0h0M194.8 341.7h0M190.1 335.9h0M196.1 350.3h0M193.3 341.3h0M195.7 339.9h0M195.5 338.5h0M190.3 347.4h0M195.8 350.3h0M202.5 347.6h0M194.2 338.5h0M188.7 350.8h0M191.6 343.6h0M188.4 338.0h0M187.4 343.9h0M203.3 342.4h0M189.7 345.5h0M193.9 349.2h0M196.8 350.4h0M200.0 341.1h0M199.7 348.6h0M201.6 348.8h0M195.9 347.6h0M187.9 349.1h0M193.1 342.4h0M183.3 352.6h0M196.9 346.8h0M200.1 344.7h0M188.8 345.7h0M195.3 344.3h0M197.4 343.7h0M197.5 344.5h0M190.2 340.4h0M189.6 343.0h0M181.5 354.4h0M195.2 350.2h0M187.5 337.8h0M183.6 355.6h0M196.0 339.7h0M186.7 339.5h0M191.9 344.5h0M183.2 347.5h0M195.1 341.4h0M185.5 344.3h0M190.6 344.8h0M189.0 347.5h0M200.4 343.4h0M196.5 343.2h0M194.4 346.3h0M197.9 350.7h0M184.0 347.4h0M194.8 340.1h0M191.1 352.5h0M190.7 336.7h0M185.4 345.4h0M188.9 342.6h0M192.7 339.5h0M184.9 353.2h0M195.4 332.0h0M190.0 352.5h0M201.7 339.0h0M185.8 348.6h0M194.7 349.9h0M187.6 347.7h0M196.5 351.5h0M201.9 339.3h0M199.7 347.9h0M193.5 334.4h0M201.0 339.2h0M196.6 347.8h0M190.0 345.7h0M197.5 334.5h0M188.9 337.8h0M187.8 345.8h0M191.4 345.2h0M190.5 346.8h0M196.3 348.6h0M189.4 351.7h0M191.5 346.2h0M189.0 348.4h0M185.6 348.5h0M193.0 350.1h0M195.2 351.8h0M185.6 346.5h0M200.1 343.5h0M200.1 345.6h0M186.2 352.4h0M189.8 336.3h0M193.2 349.5h0M179.8 354.3h0M198.3 336.0h0M194.4 343.4h0M183.4 346.8h0M191.4 353.0h0M199.0 340.5h0M180.0 355.8h0M191.6 352.4h0M193.5 335.9h0M187.1 341.0h0M195.4 346.8h0M192.9 343.5h0M196.1 334.6h0M198.7 337.0h0M189.9 343.9h0M178.2 359.3h0M187.1 343.1h0M199.6 343.9h0M188.8 340.9h0M184.1 347.2h0M186.5 352.7h0M184.9 355.0h0M185.6 342.6h0M188.4 348.3h0M196.5 347.1h0M194.0 342.1h0M196.0 340.0h0M198.6 348.2h0M194.6 351.0h0M193.2 342.8h0M200.8 338.4h0M180.2 354.9h0M193.2 343.6h0M200.4 345.0h0M191.9 337.5h0M194.7 339.8h0M192.2 352.5h0M189.7 342.3h0M192.9 333.9h0M196.9 342.8h0M192.8 346.2h0M186.6 344.1h0M189.2 338.6h0M189.1 341.9h0M194.3 352.2h0M187.1 355.0h0M199.2 337.9h0M182.6 348.1h0M191.3 336.6h0M181.3 356.9h0M192.7 353.3h0M199.7 344.0h0M194.3 348.4h0M195.3 352.0h0M184.6 343.8h0M188.5 354.2h0M197.2 335.1h0M200.7 339.9h0M191.4 341.8h0M198.9 340.1h0M187.4 351.5h0M197.8 346.1h0M184.3 353.7h0M197.0 340.0h0M188.0 349.0h0M191.8 352.4h0M185.3 346.9h0M191.3 340.9h0M190.3 349.2h0M191.1 351.7h0M192.8 339.2h0M190.1 347.0h0M190.4 344.0h0M192.4 335.1h0M185.4 352.5h0M194.7 339.5h0M194.9 344.5h0M198.7 350.7h0M199.2 347.0h0M197.0 333.9h0M183.4 353.9h0M188.8 341.2h0M186.1 344.3h0M181.9 350.4h0M198.4 350.7h0M199.1 343.9h0M194.3 337.3h0M189.7 349.4h0M196.7 350.9h0M187.6 352.2h0M200.8 346.2h0M181.6 351.0h0M197.5 334.8h0M194.4 348.6h0M199.7 349.4h0M199.1 346.7h0M197.8 343.5h0M199.5 337.2h0M193.4 349.8h0M190.4 345.2h0M201.7 346.8h0M179.5 358.7h0M188.2 353.4h0M188.8 340.9h0M192.8 341.6h0M193.5 335.9h0M196.7 344.2h0M187.2 347.0h0M184.4 344.6h0M194.8 350.3h0M201.8 345.4h0M186.7 351.2h0M181.2 353.9h0M198.2 338.9h0M188.2 345.4h0M185.6 341.6h0M197.4 350.6h0M190.4 351.3h0M191.9 348.6h0M180.5 355.7h0M198.4 335.9h0M193.8 349.4h0M189.2 340.8h0M196.7 340.6h0M178.4 359.6h0M185.3 341.9h0M197.5 351.5h0M198.4 340.4h0M200.1 345.9h0M181.7 352.8h0M193.3 344.6h0M198.3 342.3h0M195.2 349.2h0M195.9 345.4h0M187.0 348.6h0M188.1 343.2h0M194.6 343.8h0M188.8 345.8h0M198.1 345.8h0M195.0 341.5h0M199.2 337.9h0M194.3 353.2h0M193.1 336.1h0M197.5 343.0h0M191.3 339.0h0M201.5 348.6h0M195.4 350.1h0M189.6 349.2h0M191.5 343.6h0M191.8 353.4h0M188.4 348.0h0M185.0 346.2h0M188.9 352.4h0M194.7 348.5h0M186.8 342.6h0M188.6 346.2h0M191.8 336.1h0M187.6 348.4h0M181.3 357.3h0M188.7 345.8h0M183.0 351.5h0M198.0 345.2h0M182.0 356.4h0M189.3 342.9h0M197.4 350.7h0M186.2 354.1h0M199.1 338.0h0M197.3 344.4h0M197.2 339.4h0M193.5 342.5h0M182.2 352.2h0M190.5 345.2h0M180.4 358.6h0M185.5 348.4h0M188.4 347.5h0M185.7 341.5h0M187.1 346.8h0M188.8 348.7h0M194.9 341.9h0M193.0 345.8h0M180.1 359.1h0M197.4 347.9h0M188.4 346.7h0M186.2 351.9h0M188.4 340.2h0M199.3 341.2h0M202.5 342.7h0M193.4 340.0h0M199.4 346.7h0M186.1 350.3h0M194.6 339.4h0M188.8 349.0h0M185.0 352.4h0M187.8 345.6h0M181.2 354.4h0M182.3 353.3h0M194.9 350.7h0M193.6 349.3h0M188.6 351.4h0M195.1 339.9h0M186.8 352.3h0M201.4 346.3h0M196.7 348.8h0M190.4 353.1h0M192.8 345.0h0M194.9 346.3h0M192.3 347.7h0M189.3 339.5h0M189.3 344.9h0M199.8 344.1h0M201.4 346.0h0M189.1 351.5h0M196.7 344.7h0M196.5 342.3h0M192.9 344.7h0M192.8 342.0h0M194.5 342.1h0M198.4 338.7h0M185.2 349.1h0M181.7 352.1h0M188.7 351.4h0M196.3 336.6h0M201.3 344.5h0M201.5 342.7h0M184.8 350.2h0M179.4 356.6h0M196.9 340.1h0M199.3 336.5h0M198.4 342.2h0M183.8 350.7h0M181.8 353.4h0M191.9 353.1h0M183.3 352.1h0M202.5 345.0h0M179.2 357.5h0M190.8 351.0h0M195.7 342.4h0M203.0 344.2h0M186.3 341.8h0M188.2 352.7h0M194.0 353.2h0M187.7 349.2h0M190.8 337.4h0M181.7 350.0h0M189.6 338.0h0M201.7 340.0h0M200.6 341.1h0M192.1 353.8h0M186.7 355.5h0M184.8 355.0h0M180.6 356.4h0M197.4 351.0h0M184.1 351.9h0M197.0 336.1h0M199.1 349.7h0M185.7 351.5h0M183.7 356.1h0M180.9 353.9h0M196.9 338.5h0M194.4 348.2h0M191.4 339.7h0M193.5 334.7h0M198.1 341.8h0M184.2 346.0h0M187.3 351.3h0M196.2 347.6h0M195.2 333.8h0M199.3 347.6h0M191.7 350.2h0M192.3 345.0h0M186.6 340.2h0M182.9 354.1h0M188.7 345.5h0M194.0 347.3h0M194.2 347.4h0M182.1 353.8h0M186.9 342.9h0M184.9 352.0h0M197.5 349.4h0M192.0 341.3h0M191.9 348.4h0M194.7 346.6h0M185.4 345.7h0M183.9 350.0h0M195.0 332.4h0M197.3 335.5h0M184.1 348.8h0M198.8 346.3h0M194.9 348.9h0M200.2 339.4h0M185.4 343.7h0M201.5 348.9h0M182.5 350.9h0M192.5 352.6h0M193.9 352.2h0M197.2 342.6h0M200.1 348.7h0M198.5 347.1h0M194.0 350.2h0M191.5 349.0h0M196.6 338.1h0M188.1 348.2h0M188.1 351.0h0M193.8 342.8h0M194.3 341.7h0" stroke="#F8766D" stroke-width="0.8" stroke-linecap="round" fill="none"/>
<path d="M157.2 345.2L159.7 344.5L160.7 348.3L165.7 352.1L169.6 354.0L173.6 357.2L177.1 359.1L177.6 361.6L173.6 362.9L169.6 364.1L166.7 366.1L164.7 367.3L164.2 364.8L162.7 361.0L160.7 357.2L159.2 353.4L158.2 348.9Z" fill="#00BC56" fill-opacity="0.3"/>
<path d="M166.8 365.7h0M165.9 354.1h0M170.7 358.6h0M162.1 358.3h0M165.2 364.3h0M173.1 358.0h0M158.9 350.3h0M166.6 355.2h0M167.8 356.6h0M163.8 354.3h0M169.4 360.1h0M168.1 353.9h0M176.7 359.7h0M172.1 360.3h0M159.4 344.8h0M164.6 352.7h0M166.3 353.3h0M164.5 354.1h0M160.9 354.0h0M166.6 359.6h0M163.8 363.4h0M168.0 364.9h0M169.3 357.0h0M162.5 359.9h0M159.3 349.4h0M160.7 356.9h0M173.8 360.2h0M165.3 352.6h0M164.4 361.7h0M163.2 361.9h0M161.2 349.5h0M174.1 360.2h0M165.9 360.1h0M164.3 358.1h0M161.6 356.9h0M168.4 358.5h0M159.9 352.5h0M166.6 361.6h0M163.4 361.9h0M159.9 347.5h0M168.3 355.9h0M158.1 347.7h0M157.9 346.9h0M169.1 356.8h0M176.5 358.7h0M166.5 362.0h0M162.5 352.2h0M159.0 349.1h0M165.3 359.0h0M172.3 357.7h0M175.7 360.9h0M170.9 355.8h0M171.7 357.8h0M161.7 356.5h0M170.8 358.3h0M163.2 352.9h0M170.5 359.3h0M159.9 350.1h0M168.6 357.8h0M161.8 354.5h0M164.3 354.3h0M159.3 348.0h0M164.1 357.2h0M173.1 358.5h0M177.4 361.4h0M160.9 351.1h0M170.1 359.6h0M172.1 357.0h0M171.7 358.1h0M163.3 352.0h0M161.0 352.8h0M166.2 361.4h0M176.0 359.0h0M175.9 360.0h0M162.0 354.1h0M167.9 354.4h0M168.2 357.8h0M172.3 356.6h0M173.7 359.3h0M165.4 353.5h0M164.2 354.1h0M160.0 355.0h0M173.2 361.7h0M168.9 357.2h0M172.3 359.7h0M163.4 357.0h0M161.9 358.6h0M167.9 362.0h0M166.5 352.5h0M165.9 362.8h0M161.4 353.6h0M158.7 348.8h0M173.2 359.2h0M159.8 348.0h0M169.9 356.8h0M170.4 361.9h0M160.8 354.6h0M160.6 349.4h0M160.4 354.1h0M158.8 350.5h0M159.9 351.6h0M164.7 358.4h0M161.4 352.0h0M160.9 348.8h0M160.4 352.5h0M168.6 362.2h0M166.9 358.3h0M174.8 361.4h0M169.4 357.8h0M162.7 350.3h0M172.2 358.5h0M171.0 359.8h0M173.6 358.7h0M158.9 351.9h0M166.4 358.3h0M160.9 355.8h0M163.1 357.9h0M162.5 358.8h0M164.7 358.1h0M160.1 349.5h0M170.4 358.5h0M160.5 355.7h0M165.6 365.1h0M171.7 357.2h0M160.9 348.7h0M159.5 352.6h0M170.5 357.0h0M163.4 357.6h0M172.2 362.2h0M163.9 351.3h0M165.5 366.4h0M167.2 365.2h0M158.9 347.9h0M167.9 365.0h0M177.0 361.2h0M171.6 356.9h0M164.7 364.6h0M172.5 357.6h0M163.5 351.6h0M164.4 354.0h0M168.8 361.7h0M165.2 359.3h0M176.9 361.3h0M163.4 351.4h0M173.6 362.0h0M173.1 361.6h0M164.7 358.2h0M167.8 356.1h0M158.2 345.8h0M164.4 355.6h0M165.0 357.4h0M172.1 363.3h0M177.4 361.6h0M163.5 360.3h0M175.1 360.2h0M167.6 362.0h0M162.3 354.9h0M165.3 352.0h0M171.5 356.7h0M163.7 363.4h0M165.8 365.8h0M161.6 349.2h0M168.4 362.0h0M166.6 356.2h0M166.5 359.6h0M166.6 354.1h0M164.0 353.9h0M160.1 350.0h0M165.5 363.4h0M161.9 349.2h0M171.1 357.3h0M164.5 357.9h0M159.9 346.2h0M170.8 359.9h0M172.3 357.3h0M165.8 358.3h0M174.0 360.8h0M169.5 354.6h0M163.2 360.4h0M169.8 354.5h0M165.5 366.5h0M176.7 359.5h0M165.9 361.7h0M167.0 362.7h0M170.8 359.0h0M162.9 355.1h0M170.2 356.4h0M161.1 351.1h0M175.2 359.0h0M170.6 363.4h0M164.5 355.4h0M161.6 355.7h0M168.6 354.9h0M171.8 361.5h0M174.2 358.9h0M167.5 359.6h0M162.6 357.3h0M169.9 360.9h0M168.2 356.1h0M167.0 354.1h0M168.5 364.1h0M159.4 352.6h0M168.0 353.5h0M171.3 358.8h0M163.3 352.0h0M168.1 354.8h0M159.1 352.0h0M168.9 358.0h0M168.2 364.1h0M174.7 362.3h0M165.8 365.5h0M171.9 358.0h0M168.4 363.9h0M168.2 354.1h0M167.0 357.9h0M166.7 362.4h0M168.7 362.1h0M163.9 362.5h0M161.7 355.6h0M161.7 353.8h0M160.3 348.7h0M174.3 361.4h0M174.3 358.9h0M168.0 363.1h0M161.3 350.3h0M170.5 357.7h0M166.6 355.8h0M162.5 359.5h0M160.9 351.4h0M164.8 360.0h0M170.8 359.4h0M160.8 349.7h0M164.8 364.3h0M165.6 365.8h0M169.0 355.9h0M164.9 364.0h0M165.2 354.6h0M164.5 351.8h0M162.9 357.7h0M167.0 358.6h0M168.1 354.1h0M167.6 361.5h0M163.0 354.9h0M159.0 351.0h0M170.0 358.8h0M160.0 349.5h0M160.0 351.0h0M164.2 361.9h0M171.0 357.5h0M164.4 359.9h0M169.1 359.3h0M161.8 358.4h0M159.3 344.8h0M166.6 354.1h0M158.7 345.2h0M175.3 359.2h0M176.3 360.2h0M165.0 363.4h0M164.2 359.4h0M167.9 357.8h0M166.5 357.3h0M169.3 356.0h0M159.4 349.6h0M160.0 346.8h0M168.0 359.7h0M166.5 353.9h0M172.1 358.0h0M167.1 363.2h0" stroke="#00BC56" stroke-width="0.8" stroke-linecap="round" fill="none"/>
<path d="M148.7 361.3L149.3 356.5L149.8 353.4L150.8 348.9L151.8 346.4L153.3 345.1L155.3 344.4L157.0 344.7L158.0 345.6L157.5 347.0L155.8 347.0L154.3 347.7L153.3 350.2L153.8 354.0L155.3 355.3L157.2 354.3L157.7 355.6L156.3 356.5L154.3 357.2L154.4 360.3L154.3 364.1L153.0 365.1L150.8 363.8L149.0 362.8Z" fill="#06A4FF" fill-opacity="0.3"/>
<path d="M153.8 363.1h0M150.6 359.2h0M151.3 355.5h0M157.5 346.0h0M152.2 363.9h0M154.4 347.4h0M150.3 362.0h0M151.7 352.8h0M153.9 364.2h0M153.4 360.9h0M153.2 352.7h0M153.3 363.6h0M150.3 354.8h0M152.9 355.8h0M152.7 354.6h0M153.8 362.7h0M149.8 356.8h0M151.1 358.6h0M153.1 352.6h0M153.9 355.0h0M151.8 357.8h0M152.5 360.4h0M150.4 362.4h0M156.9 346.9h0M152.7 358.7h0M153.2 363.3h0M154.7 347.3h0M154.9 345.0h0M151.4 349.0h0M152.4 363.3h0M152.4 358.6h0M151.0 360.8h0M154.3 361.2h0M149.9 353.9h0M151.0 350.4h0M152.8 353.6h0M152.0 362.5h0M153.2 352.8h0M153.5 358.3h0M149.1 359.0h0M155.4 356.2h0M151.9 346.8h0M157.8 345.5h0M154.3 360.9h0M152.1 360.8h0M154.7 346.4h0M150.2 353.6h0M151.6 361.2h0M151.3 348.6h0M155.6 356.6h0M156.3 345.3h0M149.3 357.7h0M151.0 363.3h0M150.9 356.1h0M151.4 351.5h0M156.0 355.4h0M153.7 359.4h0M157.5 345.9h0M149.6 360.4h0M150.4 357.6h0M150.0 352.7h0M154.2 346.2h0M153.6 358.8h0M155.5 356.6h0M154.3 355.6h0M154.5 345.9h0M151.0 356.9h0M153.1 357.2h0M153.4 346.4h0M148.8 360.7h0M151.7 359.0h0M150.9 349.7h0M153.6 355.9h0M150.0 358.1h0M149.9 359.3h0M156.9 355.7h0M150.5 351.8h0M154.4 355.5h0M153.7 347.7h0M149.1 362.9h0M152.0 355.1h0M151.7 364.3h0M154.0 346.7h0M156.8 347.0h0M153.7 357.4h0M150.0 358.0h0M150.2 363.4h0M152.7 358.5h0M151.6 358.1h0M152.2 363.6h0M152.2 348.5h0M152.4 356.6h0M152.0 360.4h0M151.2 349.6h0M153.5 364.4h0M152.1 354.9h0M155.4 346.0h0M152.1 358.1h0M154.1 358.2h0M153.8 359.2h0M152.2 357.6h0M154.3 361.2h0M151.2 352.3h0M155.7 355.2h0M152.7 362.4h0M152.8 364.0h0M152.7 357.9h0M154.0 363.3h0M151.9 357.4h0M150.5 354.0h0M150.5 352.8h0M152.0 356.3h0M150.5 360.2h0M151.1 350.0h0M152.8 350.0h0M153.5 348.4h0M151.1 360.6h0M151.2 360.7h0M152.4 359.5h0M151.9 351.6h0M157.7 346.0h0M149.6 359.0h0M152.7 351.1h0M153.3 348.7h0M152.3 347.6h0M149.2 359.9h0M151.8 360.4h0M157.9 345.7h0M150.7 363.4h0M154.2 358.9h0M155.5 346.2h0M155.4 345.5h0M152.4 346.9h0M152.4 363.7h0M152.7 353.1h0M154.9 346.2h0M155.1 345.3h0M149.1 360.4h0M152.8 355.8h0M154.4 356.3h0" stroke="#06A4FF" stroke-width="0.8" stroke-linecap="round" fill="none"/>
<path d="M262.1 386.3L264.6 387.9L268.7 392.1L272.0 398.4L276.2 401.6L282.8 399.5L286.1 402.6L282.8 404.7L276.2 405.8L271.2 407.9L264.6 409.0L261.6 405.8L261.2 399.5L262.5 392.1Z" fill="#53B400" fill-opacity="0.22"/>
<path d="M272.4 406.0h0M277.8 404.5h0M281.5 403.2h0M277.5 404.1h0M270.8 404.4h0M268.4 400.2h0M279.0 401.5h0M271.8 405.2h0M268.8 403.7h0M266.5 393.7h0M267.9 396.8h0M282.1 400.5h0M275.1 403.5h0M266.2 408.2h0M264.7 403.6h0M266.4 403.5h0M277.0 403.4h0M265.1 396.3h0M262.4 388.5h0M264.8 390.0h0M265.6 392.4h0M267.3 398.6h0M268.8 406.8h0M269.2 393.1h0M272.4 399.6h0M272.0 404.8h0M269.8 396.1h0M263.3 397.0h0M265.0 398.0h0M266.5 400.3h0M267.4 402.0h0M276.3 402.9h0M274.8 403.3h0M268.6 407.1h0M273.2 405.4h0M270.2 400.8h0M279.3 405.2h0M267.9 399.3h0M264.6 404.6h0M264.2 402.0h0M267.1 402.4h0M266.2 395.2h0M270.7 396.8h0M266.6 406.8h0M264.9 394.3h0M270.7 406.9h0M270.2 405.9h0M266.8 401.0h0M261.5 399.7h0M261.8 399.0h0M269.9 404.8h0M270.6 403.2h0M273.1 399.4h0M277.0 401.4h0M272.4 401.2h0M262.4 396.9h0M266.5 404.3h0M268.4 398.4h0M263.2 387.4h0M268.4 400.1h0M272.6 402.1h0M270.6 405.6h0M269.3 393.4h0M265.0 401.0h0M265.1 400.6h0M264.7 406.3h0M276.6 402.1h0M266.4 400.8h0M282.4 404.5h0M263.8 393.2h0M278.7 402.1h0M274.4 403.3h0M264.6 400.7h0M274.0 404.8h0M272.1 405.5h0M274.0 404.0h0M266.0 401.1h0M281.9 400.8h0M264.3 402.0h0M275.2 402.3h0M265.3 401.1h0M269.3 407.0h0M269.7 397.9h0M266.6 390.2h0M263.0 390.5h0M265.3 403.8h0M262.7 402.7h0M273.0 400.0h0M263.5 388.7h0M270.1 395.1h0M282.1 400.9h0M266.2 408.5h0M266.7 392.5h0M268.9 394.6h0M272.9 402.0h0M265.3 406.5h0M277.1 403.5h0M267.2 391.0h0M264.9 388.6h0M272.9 399.9h0M264.2 393.2h0M279.9 401.2h0M270.0 398.4h0M262.6 401.7h0M270.6 401.5h0M269.1 395.6h0M267.0 399.2h0M266.8 395.0h0M268.1 398.2h0M267.2 400.4h0M265.2 403.1h0M264.8 392.8h0M267.0 407.7h0M279.0 404.6h0M271.2 399.3h0M264.1 398.8h0M264.3 395.0h0M265.5 406.0h0M270.0 395.4h0M266.3 396.0h0M269.4 399.6h0M267.3 401.4h0M266.8 393.2h0M269.2 393.1h0M270.7 405.9h0M265.7 405.6h0M271.3 401.1h0M269.8 396.0h0M279.5 401.8h0M275.5 403.2h0M264.4 403.3h0M266.3 400.6h0M262.9 387.7h0M270.7 402.2h0M271.7 403.0h0M282.1 404.6h0M271.1 406.2h0M262.4 405.2h0M268.9 397.9h0M269.5 403.7h0M271.5 405.5h0M266.8 402.9h0M275.4 403.2h0M268.9 407.6h0M266.0 401.8h0M262.7 404.3h0M268.0 402.8h0M270.3 398.4h0M282.9 402.8h0M281.7 404.0h0M262.9 391.7h0M269.8 396.1h0M266.1 405.5h0M261.6 400.9h0M272.9 399.2h0M268.9 397.1h0M272.6 406.6h0M281.3 403.7h0M264.5 399.9h0M264.9 401.2h0M273.1 404.1h0M277.8 402.7h0M266.0 408.4h0M270.1 405.3h0M264.9 402.2h0M262.8 401.1h0M269.3 405.0h0M269.4 398.1h0M263.7 393.7h0M263.4 396.8h0M264.0 390.3h0M263.7 402.0h0M266.0 390.3h0M274.6 405.3h0M269.0 402.0h0M284.3 401.3h0M277.1 402.0h0M266.0 408.1h0M274.7 405.2h0M262.6 399.6h0M268.4 394.4h0M267.3 391.6h0M282.8 403.5h0M281.0 403.0h0M272.4 402.1h0M262.6 391.8h0M263.2 404.1h0M268.1 402.1h0M266.2 394.0h0M268.5 393.8h0M275.2 401.3h0M267.4 397.7h0M264.5 398.3h0M282.2 401.4h0M268.8 403.6h0M267.6 405.4h0M271.0 403.6h0M266.6 398.9h0M264.9 405.2h0M284.0 402.0h0M264.9 400.6h0M264.0 389.0h0M264.4 399.5h0M273.1 399.5h0M270.9 397.1h0M266.6 395.1h0M264.0 403.7h0M263.3 406.7h0M275.5 405.5h0M270.9 400.7h0M263.6 406.3h0M262.3 404.9h0M271.0 398.5h0M277.7 403.1h0M265.3 390.2h0M263.5 404.0h0M264.2 403.6h0M277.2 403.1h0M276.0 404.7h0M267.7 395.5h0M283.4 403.8h0M268.5 395.9h0M269.1 406.6h0M263.7 403.0h0M262.4 389.0h0M263.5 407.3h0M263.7 399.2h0M274.9 400.8h0M270.5 403.0h0M271.6 406.7h0M277.1 403.5h0M270.0 400.2h0M278.5 403.5h0M268.2 392.8h0M270.0 399.2h0M268.6 400.9h0M283.8 401.3h0M275.1 401.0h0M265.4 401.6h0M265.8 407.7h0M269.9 400.7h0M267.2 394.6h0M266.2 397.9h0M266.7 397.5h0M263.6 389.4h0M276.1 403.5h0M269.9 401.7h0M261.5 400.4h0M265.8 400.1h0M268.8 394.7h0M280.2 402.6h0M279.9 404.3h0M262.4 397.7h0M272.3 401.0h0M271.0 407.9h0M263.7 405.6h0M265.8 408.2h0M268.8 393.7h0M283.1 404.0h0M266.8 406.4h0M270.3 398.4h0M275.8 405.5h0M266.7 406.5h0M263.8 393.1h0M265.9 389.7h0M265.6 405.2h0M272.7 404.5h0" stroke="#53B400" stroke-width="0.8" stroke-linecap="round" fill="none"/>
<path d="M289.4 379.0L291.9 379.5L294.0 384.7L293.1 388.9L290.2 394.2L286.1 398.4L283.6 399.5L284.4 396.3L286.9 391.0L287.7 385.8L288.6 381.6Z" fill="#00B6EB" fill-opacity="0.22"/>
<path d="M289.0 395.0h0M288.9 383.4h0M289.2 392.0h0M291.9 386.3h0M287.9 393.0h0M293.4 384.2h0M292.9 387.5h0M289.3 380.1h0M292.9 384.8h0M290.1 388.9h0M288.8 387.0h0M286.1 395.4h0M289.6 388.5h0M288.4 395.2h0M292.6 389.6h0M288.2 393.5h0M292.3 389.7h0M292.3 383.4h0M290.5 388.7h0M288.4 391.8h0M291.2 388.4h0M285.7 395.0h0M291.4 391.0h0M291.4 381.8h0M292.0 381.9h0M288.2 394.8h0M292.1 386.9h0M289.3 390.3h0M288.8 390.5h0M292.4 388.2h0M287.2 396.9h0M289.8 381.1h0M288.4 387.3h0M287.5 391.6h0M288.7 395.4h0M289.9 383.0h0M291.2 388.4h0M290.1 380.4h0M289.1 388.6h0M293.2 384.3h0M287.3 389.7h0M292.0 387.7h0M289.9 391.7h0M290.4 390.0h0M288.8 393.4h0M287.9 394.4h0M289.1 381.5h0M288.0 386.2h0M287.9 388.7h0M291.7 379.7h0M289.7 385.5h0M288.2 388.6h0M287.1 396.4h0M288.2 393.9h0M291.8 390.0h0M285.6 394.1h0M286.1 392.7h0M290.1 390.7h0M292.0 387.5h0M289.7 382.5h0M287.4 387.9h0M290.4 383.9h0M290.1 394.3h0M290.3 384.1h0M290.3 383.6h0M289.7 383.1h0M290.9 380.2h0M291.0 380.7h0M290.9 389.8h0M289.7 392.3h0M286.7 395.4h0M287.7 386.1h0M289.6 387.6h0M290.3 390.7h0M289.4 379.9h0M290.4 391.8h0M288.8 391.2h0M288.9 388.4h0M286.2 395.2h0M291.6 385.8h0M287.3 391.3h0M291.7 382.1h0M291.0 391.8h0M284.4 398.9h0M290.9 382.7h0M286.2 394.3h0M290.4 393.6h0M292.1 388.9h0M289.7 387.9h0M289.3 390.9h0M291.4 389.8h0M291.6 383.8h0M287.2 395.1h0M290.5 382.0h0M290.3 381.4h0M286.7 391.9h0M290.2 384.7h0M287.5 393.3h0M287.9 393.3h0M292.4 386.9h0M288.8 385.9h0" stroke="#00B6EB" stroke-width="0.8" stroke-linecap="round" fill="none"/>
<path d="M278.6 404.7L286.9 405.8L292.7 407.9L294.4 412.1L291.9 415.3L286.9 419.5L283.6 425.8L280.3 425.8L279.4 418.4L279.4 413.2Z" fill="#00C094" fill-opacity="0.22"/>
<path d="M282.9 410.3h0M283.6 424.2h0M284.5 414.9h0M290.3 414.2h0M284.7 418.1h0M287.8 413.6h0M280.2 406.3h0M284.6 416.6h0M279.7 417.0h0M280.8 412.9h0M287.3 416.3h0M282.8 409.6h0M283.1 424.4h0M283.5 409.3h0M279.6 410.2h0M290.2 415.9h0M281.2 420.6h0M284.5 415.8h0M285.5 410.4h0M285.7 409.3h0M289.2 415.3h0M292.6 411.3h0M279.0 406.3h0M290.1 415.6h0M281.6 417.2h0M280.1 408.3h0M282.0 413.0h0M280.3 409.8h0M290.8 409.8h0M289.0 416.2h0M288.9 410.0h0M283.6 406.7h0M281.3 414.1h0M283.1 419.3h0M289.8 410.9h0M286.0 412.2h0M286.6 410.1h0M286.1 411.6h0M287.8 407.7h0M281.0 424.0h0M284.5 413.0h0M282.2 420.5h0M280.5 422.8h0M282.5 422.1h0M292.2 409.8h0M285.8 406.9h0M284.8 413.1h0M289.5 407.3h0M280.5 407.3h0M287.8 406.8h0M292.9 411.4h0M282.3 405.4h0M289.4 413.2h0M284.4 411.5h0M287.0 412.5h0M286.0 419.6h0M280.5 419.2h0M281.1 422.4h0M283.8 420.6h0M281.4 420.7h0M283.1 420.7h0M279.0 405.6h0M283.2 419.6h0M290.3 408.9h0M281.4 419.9h0M279.9 415.3h0M284.6 423.5h0M280.2 405.7h0M288.0 413.8h0M286.0 413.6h0M287.9 410.2h0M281.7 420.5h0M282.1 421.6h0M285.9 420.3h0M281.5 405.4h0M285.1 417.4h0M289.6 413.9h0M283.1 413.9h0M291.0 409.3h0M292.6 411.5h0M282.9 407.6h0M279.4 411.5h0M286.8 407.5h0M291.1 411.8h0M282.7 416.3h0M285.5 411.9h0M279.8 412.5h0M284.5 416.5h0M280.0 422.5h0M289.9 412.9h0M286.2 415.4h0M279.5 412.3h0M285.6 419.6h0M293.6 411.8h0M283.3 407.1h0M285.0 422.9h0M289.1 417.5h0M282.7 405.8h0M279.4 405.1h0M284.0 412.7h0M289.6 410.4h0M286.4 412.1h0M279.4 411.6h0M286.9 407.8h0M282.0 409.4h0M287.3 414.2h0M286.7 414.9h0M283.5 420.4h0M284.7 422.0h0M284.1 420.5h0M283.6 405.6h0M288.9 413.7h0M280.3 411.8h0M282.8 405.5h0M285.0 421.7h0M284.9 415.6h0M283.8 412.1h0M283.0 406.1h0M289.8 415.7h0M282.3 421.8h0M291.9 409.1h0M286.1 416.4h0M289.4 412.6h0M288.4 414.0h0M288.7 409.9h0M287.5 409.6h0M290.7 410.1h0M281.1 418.4h0M288.9 411.8h0M283.0 406.7h0M290.3 416.2h0M290.9 412.9h0M283.7 416.1h0M284.8 413.8h0M283.0 412.5h0M293.1 413.1h0M282.3 419.7h0M286.8 407.7h0M285.1 410.2h0M280.8 406.5h0M279.9 407.7h0M281.9 405.3h0M289.0 406.8h0M282.1 411.1h0M281.1 405.8h0M285.9 406.4h0M285.4 413.3h0M291.4 414.2h0M287.4 410.2h0M288.2 406.4h0M292.8 410.9h0M289.7 412.7h0M285.7 412.6h0M280.3 417.3h0M283.3 411.5h0M286.3 415.7h0M288.0 415.0h0M285.1 411.6h0M286.9 416.2h0M291.0 412.1h0M282.4 412.6h0M290.4 411.8h0M281.5 418.0h0M281.3 418.7h0M280.5 409.4h0M290.2 414.3h0M289.1 413.2h0M279.2 409.9h0M279.2 408.4h0M290.1 414.2h0M285.2 415.3h0M288.6 415.7h0M285.2 421.1h0M286.9 414.8h0M281.0 422.3h0M289.0 413.5h0M286.1 412.8h0M285.2 416.5h0M284.1 411.8h0M291.7 411.9h0M282.7 417.1h0M282.2 420.5h0M284.0 407.1h0M287.2 406.4h0M286.2 411.8h0M286.3 417.8h0M283.6 406.7h0M280.4 408.7h0M285.9 417.3h0M291.6 408.6h0M292.6 409.8h0M285.3 406.9h0M280.6 417.1h0M293.4 412.0h0M293.4 409.9h0M287.6 414.2h0M279.8 411.4h0M279.3 406.5h0M284.1 407.9h0M288.0 410.3h0M285.4 408.1h0M283.2 414.9h0M286.0 413.8h0M280.7 408.9h0M291.2 413.0h0M287.7 413.6h0M283.9 420.5h0M279.5 414.3h0M281.9 413.3h0M283.0 410.9h0M290.9 410.2h0M288.6 411.7h0M281.3 421.4h0M286.0 419.6h0M290.2 410.2h0M289.1 408.9h0M280.4 421.6h0M284.2 411.8h0M281.7 412.9h0M280.9 423.3h0M281.2 405.9h0M282.0 418.5h0M289.2 416.4h0M280.6 407.1h0M282.9 421.3h0M289.4 417.4h0M287.8 416.8h0" stroke="#00C094" stroke-width="0.8" stroke-linecap="round" fill="none"/>
<path d="M277.0 410.0L280.3 411.1L280.3 420.5L278.6 425.8L277.4 424.8L277.0 417.4Z" fill="#FB61D7" fill-opacity="0.22"/>
<path d="M279.1 419.7h0M280.1 418.3h0M279.1 423.8h0M277.2 411.0h0M277.9 420.9h0M278.4 422.6h0M278.1 417.9h0M280.0 417.4h0M279.3 420.2h0M278.6 422.6h0M278.4 412.4h0M278.6 419.7h0M279.9 412.0h0M277.5 421.5h0M278.4 420.3h0M277.7 415.2h0M277.1 414.5h0M278.7 416.2h0M279.0 415.3h0M279.4 414.5h0M277.9 412.8h0M278.8 411.1h0M279.8 413.2h0M278.8 416.6h0M277.8 421.9h0M279.3 421.5h0M278.2 424.1h0M278.1 420.1h0M277.8 411.5h0M278.4 425.0h0M279.7 417.0h0M280.0 416.2h0M277.8 424.0h0M277.1 417.5h0M277.5 410.7h0M278.6 417.7h0M280.3 412.7h0M280.0 415.6h0M277.7 419.2h0M278.4 417.6h0M279.6 414.2h0M279.1 413.7h0M279.3 423.2h0M277.7 420.3h0M278.3 423.7h0M279.9 414.6h0M278.3 419.8h0" stroke="#FB61D7" stroke-width="0.8" stroke-linecap="round" fill="none"/>
<path d="M276.2 425.8L280.3 427.9L279.9 434.2L279.4 442.7L277.0 446.9L273.7 448.0L269.9 446.4L268.3 440.6L268.3 434.2L270.4 429.0L272.9 426.3Z" fill="#99A800" fill-opacity="0.22"/>
<path d="M278.6 429.7h0M273.1 440.4h0M276.0 446.9h0M270.0 436.6h0M276.7 434.4h0M275.7 434.3h0M276.4 427.7h0M276.0 429.9h0M280.1 430.3h0M277.1 440.7h0M274.4 439.0h0M278.7 443.1h0M278.4 433.7h0M278.4 438.4h0M273.9 432.6h0M278.9 440.1h0M274.6 439.6h0M278.2 432.9h0M272.5 433.1h0M272.3 434.9h0M273.8 437.8h0M273.1 432.9h0M269.6 436.4h0M273.3 439.7h0M274.5 432.9h0M275.0 437.3h0M272.5 439.6h0M269.0 443.0h0M277.1 445.7h0M270.3 436.3h0M275.2 436.5h0M275.3 432.2h0M273.6 430.2h0M273.7 434.1h0M275.0 437.3h0M279.8 434.6h0M275.8 440.2h0M275.3 434.8h0M277.0 444.4h0M270.3 443.0h0M278.1 442.6h0M275.3 426.9h0M271.5 433.4h0M276.9 436.4h0M273.1 435.8h0M275.6 432.4h0M279.0 430.1h0M269.6 442.8h0M277.1 427.3h0M277.6 445.8h0M278.4 442.3h0M276.7 426.8h0M274.2 439.2h0M271.9 446.7h0M274.3 430.7h0M271.0 434.2h0M278.5 427.7h0M274.7 439.1h0M271.6 430.2h0M277.6 428.5h0M269.4 431.7h0M274.1 427.1h0M274.3 430.4h0M270.7 445.9h0M274.8 426.3h0M274.4 435.6h0M277.4 429.7h0M275.3 427.4h0M269.2 440.9h0M272.7 438.9h0M272.3 427.9h0M275.5 428.4h0M274.9 431.9h0M274.0 441.9h0M270.6 444.9h0M280.1 427.8h0M270.2 441.9h0M274.1 446.3h0M271.7 439.2h0M272.7 440.2h0M271.4 442.7h0M270.4 443.9h0M269.0 434.3h0M268.9 441.2h0M275.2 430.4h0M272.9 439.6h0M273.1 443.3h0M275.7 437.9h0M268.9 440.0h0M270.9 440.7h0M270.5 435.1h0M273.2 426.8h0M277.8 435.1h0M279.0 432.3h0M273.0 440.2h0M272.6 434.3h0M277.9 442.6h0M276.2 432.9h0M275.5 427.2h0M274.4 430.4h0M271.9 443.0h0M279.6 427.9h0M278.2 439.0h0M276.5 444.4h0M269.7 431.0h0M268.8 433.9h0M279.5 430.8h0M277.0 431.6h0M272.8 432.4h0M271.3 430.9h0M278.1 436.0h0M276.7 434.7h0M273.0 440.3h0M279.3 428.7h0M279.5 441.1h0M274.6 441.5h0M274.2 427.9h0M270.6 444.5h0M273.6 438.7h0M271.2 433.7h0M273.1 444.7h0M278.0 436.8h0M270.6 444.8h0M276.7 446.0h0M269.5 431.3h0M279.1 441.2h0M271.9 441.7h0M278.1 439.1h0M276.2 439.1h0M278.0 442.5h0M270.3 437.7h0M272.8 442.8h0M274.1 442.2h0M279.0 430.4h0M278.9 430.6h0M276.0 437.2h0M275.6 438.3h0M270.8 438.8h0M274.6 435.0h0M272.9 439.5h0M270.5 430.8h0M270.2 436.8h0M277.0 432.0h0M269.7 443.1h0M271.7 438.8h0M270.7 434.0h0M275.2 445.4h0M278.4 432.0h0M271.2 433.4h0M273.7 438.3h0M272.8 430.3h0M276.4 441.1h0M274.8 437.2h0M275.1 439.6h0M268.4 439.7h0M277.8 437.0h0M272.7 433.2h0M273.1 431.7h0M272.5 444.9h0M276.7 443.4h0M271.6 444.5h0M278.1 443.8h0M277.5 429.1h0M275.5 442.3h0M270.9 440.6h0M272.5 438.8h0M270.1 437.0h0M268.3 434.5h0M276.5 437.6h0M269.5 438.4h0M276.2 440.3h0M273.0 428.1h0M279.7 433.7h0M276.3 439.8h0M270.0 436.7h0M274.9 427.9h0M273.5 429.1h0M269.7 442.5h0M271.6 436.6h0M278.6 435.4h0M274.3 439.4h0M268.5 436.2h0M276.9 445.7h0M276.6 439.8h0M268.5 435.4h0M269.7 444.0h0M278.4 436.7h0M278.1 435.8h0M271.1 441.8h0M273.1 437.7h0M277.8 428.1h0M275.7 436.0h0M274.4 432.4h0M274.9 426.2h0M278.0 432.5h0M270.4 436.3h0M276.6 445.7h0M272.3 429.4h0M270.2 431.8h0M279.0 430.4h0M273.8 429.6h0M276.4 432.4h0M273.7 434.4h0M275.2 447.2h0M276.3 435.5h0M276.6 440.0h0M271.7 436.2h0M270.1 439.0h0M278.4 430.0h0M280.1 429.2h0M271.1 432.2h0M273.7 431.7h0M271.8 441.8h0M273.9 443.3h0M274.4 428.0h0M275.9 445.2h0M278.9 428.5h0M277.3 430.4h0M272.3 440.2h0M277.5 439.9h0M275.6 428.6h0M273.4 432.3h0M273.0 439.8h0M275.5 434.9h0M275.3 446.0h0M274.7 429.8h0M279.0 427.5h0M274.7 445.9h0M270.8 431.0h0M272.6 434.7h0M273.7 431.1h0M277.1 432.5h0M270.6 445.8h0M273.2 430.0h0" stroke="#99A800" stroke-width="0.8" stroke-linecap="round" fill="none"/>
<path d="M280.7 427.9L284.0 425.8L284.4 434.2L284.0 440.6L281.1 442.7L278.6 444.8L279.9 436.3Z" fill="#A58AFF" fill-opacity="0.22"/>
<path d="M280.7 431.9h0M284.0 432.5h0M281.9 430.8h0M283.9 438.5h0M279.7 439.5h0M284.0 433.8h0M279.1 442.4h0M283.1 432.5h0M280.0 440.9h0M283.7 433.7h0M279.5 444.0h0M282.9 430.2h0M283.1 429.4h0M283.2 441.2h0M283.1 427.9h0M282.0 429.6h0M283.1 440.1h0M281.6 433.3h0M281.4 437.7h0M282.7 437.0h0M279.8 439.6h0M279.8 442.9h0M281.1 436.9h0M282.8 434.8h0M280.2 442.7h0M282.3 427.3h0M283.0 430.5h0M282.7 431.9h0M280.5 441.1h0M283.9 432.8h0M282.6 441.0h0M281.2 433.6h0M281.8 439.9h0M283.5 429.6h0M282.0 433.6h0M281.5 428.2h0M281.2 428.6h0M282.6 436.3h0M281.2 434.1h0M281.9 434.9h0M282.2 434.7h0M282.3 438.3h0M282.9 436.7h0M279.5 440.0h0M283.6 437.3h0M280.5 436.2h0M282.1 440.0h0M282.7 431.8h0M282.4 439.1h0M284.1 429.7h0M281.2 432.3h0M281.4 441.7h0M284.0 430.1h0M283.0 440.9h0M282.4 437.4h0M280.5 443.1h0M284.3 435.3h0M282.2 435.5h0M281.6 431.7h0M279.4 440.4h0M284.0 430.3h0M279.0 442.6h0M282.6 438.0h0M283.8 437.0h0M280.7 429.2h0M280.8 438.2h0M283.2 427.4h0M279.4 441.0h0M281.5 437.7h0M279.9 436.5h0M280.8 431.0h0M280.5 437.6h0M282.4 434.5h0" stroke="#A58AFF" stroke-width="0.8" stroke-linecap="round" fill="none"/>
<path d="M359.1 386.3L361.6 387.9L365.7 392.1L369.0 398.4L373.2 401.6L379.8 399.5L383.1 402.6L379.8 404.7L373.2 405.8L368.2 407.9L361.6 409.0L358.6 405.8L358.2 399.5L359.5 392.1Z" fill="#53B400" fill-opacity="0.18"/>
<path d="M359.4 405.6h0M362.9 397.8h0M369.1 402.6h0M363.6 396.3h0M361.4 402.3h0M367.6 407.9h0M359.6 390.1h0M362.1 399.2h0M379.9 401.6h0M360.6 405.5h0M366.8 403.2h0M365.5 403.8h0M379.2 403.0h0M362.3 390.1h0M358.7 401.0h0M366.0 397.0h0M378.7 400.9h0M362.5 405.4h0M378.9 401.9h0M360.0 391.8h0M366.7 401.1h0M363.5 393.6h0M365.8 404.8h0M369.8 401.4h0M359.5 397.2h0M367.5 396.3h0M361.6 390.0h0M363.2 391.8h0M364.5 392.0h0M361.5 388.7h0M368.1 397.4h0M367.3 402.4h0M367.7 407.3h0M377.8 401.3h0M360.5 390.0h0M361.6 388.8h0M359.7 395.8h0M361.2 406.4h0M359.2 402.5h0M363.8 403.8h0M361.1 402.9h0M358.5 402.7h0M365.4 405.9h0M365.0 400.2h0M375.9 404.0h0M363.2 402.9h0M361.3 404.2h0M364.4 400.6h0M368.0 407.9h0M364.9 392.7h0M363.6 397.0h0M370.6 401.6h0M360.2 403.4h0M362.4 392.0h0M369.2 406.9h0M363.4 390.3h0M359.1 399.8h0M370.9 405.4h0M364.6 398.9h0M366.0 402.6h0M360.6 398.9h0M359.8 398.2h0M372.4 404.1h0M363.5 391.2h0M372.0 403.0h0M362.4 407.5h0M381.2 401.2h0M361.3 405.7h0M369.0 401.6h0M360.6 404.6h0M360.8 398.1h0M377.4 403.0h0M374.3 403.3h0M364.9 395.6h0M361.8 408.3h0M358.5 399.1h0M363.3 407.3h0M367.3 397.5h0M366.2 403.2h0M362.4 392.7h0M362.2 392.1h0M363.9 394.6h0M360.8 401.5h0M368.6 404.8h0M366.2 398.5h0M375.0 403.4h0M364.0 397.0h0M365.8 396.6h0M375.2 403.7h0M366.9 407.7h0M371.7 403.6h0M360.5 402.0h0M367.6 402.6h0M364.9 405.4h0M359.8 403.6h0M363.1 405.2h0M364.5 401.6h0M359.8 395.0h0M371.6 402.9h0M364.6 393.1h0M362.0 408.1h0M362.9 397.1h0M380.6 402.7h0M366.2 407.5h0M362.2 397.6h0M362.2 397.8h0M370.0 405.7h0M372.9 403.5h0M358.7 405.7h0M371.1 404.5h0M365.0 401.6h0M361.3 391.8h0M365.6 397.8h0M363.2 404.5h0M365.3 402.1h0M363.5 403.5h0M364.4 407.7h0M366.7 396.2h0M360.6 401.7h0M360.3 403.9h0M378.1 402.1h0M359.3 401.7h0M360.9 402.7h0M380.0 401.0h0M364.9 405.2h0M368.8 406.0h0M364.1 407.1h0M361.2 390.9h0M380.6 403.7h0M366.2 404.4h0M360.2 405.1h0M363.8 394.9h0M360.3 391.0h0M361.2 407.0h0M365.5 393.5h0M361.1 389.1h0M364.1 404.8h0M362.4 406.8h0M359.8 390.7h0M361.9 405.9h0M365.2 402.2h0M364.8 395.9h0M362.7 399.5h0M363.5 402.1h0M366.5 393.8h0M363.3 401.5h0M367.2 397.8h0M371.9 405.8h0M364.9 403.3h0M369.3 400.3h0M359.7 402.6h0M365.2 396.0h0M367.2 395.8h0M367.3 407.8h0M374.2 404.7h0M359.5 393.3h0M362.0 401.3h0M361.5 401.9h0M363.8 398.6h0M366.5 403.1h0M366.1 396.5h0M369.0 402.7h0M361.1 408.1h0M365.5 406.5h0M363.0 408.5h0M361.9 404.9h0M375.7 402.2h0M376.1 401.6h0M368.0 398.3h0M358.6 404.4h0M362.1 400.7h0M360.4 399.0h0M361.7 393.4h0M364.3 401.6h0M363.3 407.1h0M360.8 396.7h0M361.8 394.9h0M360.8 404.0h0M363.2 396.1h0M376.2 404.5h0M360.3 404.5h0M365.1 400.9h0M361.0 408.0h0M367.1 398.6h0M362.7 395.8h0M377.1 403.7h0M362.0 404.3h0M371.6 404.5h0M380.3 402.6h0M380.3 400.5h0M371.2 405.0h0M368.8 402.7h0M359.1 400.2h0M364.2 392.9h0M367.0 401.4h0M379.0 404.8h0M374.8 404.5h0M366.3 405.6h0M368.1 401.7h0M363.4 401.4h0M361.6 399.6h0M363.1 402.0h0M361.5 393.3h0M366.7 395.2h0M364.3 393.9h0M361.9 388.4h0M362.4 407.4h0M381.4 402.9h0M366.8 399.6h0M377.9 401.5h0M368.4 404.5h0M365.7 402.0h0M370.5 406.8h0M377.4 401.6h0M361.2 403.8h0M367.3 402.6h0M360.2 400.4h0M363.4 391.4h0" stroke="#53B400" stroke-width="0.8" stroke-linecap="round" fill="none"/>
<path d="M386.4 379.0L388.9 379.5L391.0 384.7L390.1 388.9L387.2 394.2L383.1 398.4L380.6 399.5L381.4 396.3L383.9 391.0L384.7 385.8L385.6 381.6Z" fill="#00B6EB" fill-opacity="0.18"/>
<path d="M385.5 385.1h0M387.1 392.5h0M388.3 385.2h0M385.9 386.1h0M385.5 384.5h0M383.1 397.7h0M385.6 387.9h0M388.7 380.0h0M384.9 394.2h0M390.8 384.5h0M386.6 379.0h0M389.0 381.0h0M383.7 394.7h0M382.3 396.0h0M388.4 385.8h0M385.9 383.5h0M390.0 387.4h0M384.3 389.6h0M387.8 383.6h0M389.8 383.0h0M387.8 386.0h0M390.0 384.1h0M388.9 388.2h0M384.9 387.9h0M385.4 390.6h0M387.7 387.9h0M386.8 381.7h0M385.4 389.8h0M385.6 392.9h0M390.4 386.4h0M381.8 396.7h0M386.5 382.5h0M386.6 384.7h0M387.6 390.7h0M384.6 393.1h0M388.6 382.4h0M389.0 385.9h0M387.7 382.4h0M387.3 387.6h0M386.0 382.4h0M390.6 386.0h0M385.9 391.5h0M387.0 388.7h0M384.3 395.2h0M384.5 392.0h0M387.6 387.5h0M382.1 395.6h0M384.4 390.5h0M383.9 393.8h0M384.4 396.9h0M385.7 390.9h0M382.0 397.7h0M387.9 385.2h0M382.6 395.0h0M384.7 391.7h0M382.2 397.7h0M388.9 384.8h0M382.8 396.0h0M384.2 393.2h0M386.8 389.7h0M389.2 389.5h0M387.8 385.1h0M386.8 388.2h0M386.2 383.9h0M385.4 384.5h0M381.7 398.9h0M387.1 385.7h0M387.7 390.6h0M387.9 390.4h0M381.7 398.5h0M383.3 396.6h0M385.8 392.2h0M387.0 379.6h0M385.9 395.5h0M386.5 380.8h0M382.9 394.4h0M388.0 383.2h0M389.1 388.1h0M386.2 391.7h0M387.5 390.3h0M382.2 397.2h0M381.2 398.6h0M383.0 394.0h0" stroke="#00B6EB" stroke-width="0.8" stroke-linecap="round" fill="none"/>
<path d="M375.6 404.7L383.9 405.8L389.7 407.9L391.4 412.1L388.9 415.3L383.9 419.5L380.6 425.8L377.3 425.8L376.4 418.4L376.4 413.2Z" fill="#00C094" fill-opacity="0.18"/>
<path d="M380.3 409.9h0M380.8 407.5h0M377.7 421.8h0M378.8 405.9h0M388.6 410.5h0M379.1 406.5h0M383.6 417.1h0M376.8 414.1h0M389.9 411.8h0M381.9 413.5h0M382.7 415.3h0M376.1 405.8h0M384.4 409.1h0M382.4 410.0h0M378.6 422.5h0M389.1 407.9h0M378.1 418.0h0M385.8 412.1h0M379.3 414.1h0M381.2 416.4h0M378.9 412.4h0M381.5 421.6h0M377.3 421.1h0M379.2 424.4h0M389.3 408.1h0M381.3 418.3h0M381.0 418.7h0M383.2 415.1h0M378.2 421.1h0M389.0 414.5h0M385.4 406.5h0M377.0 415.7h0M381.3 417.8h0M381.0 424.4h0M385.3 406.7h0M383.5 413.1h0M378.2 409.6h0M376.0 407.9h0M382.0 406.7h0M390.2 412.5h0M387.1 416.3h0M389.5 411.1h0M383.1 408.6h0M384.8 418.5h0M378.9 419.7h0M383.0 415.2h0M380.7 420.4h0M386.5 415.1h0M378.6 414.7h0M383.1 409.2h0M376.9 420.1h0M381.2 415.8h0M385.0 416.5h0M376.9 422.3h0M378.1 422.9h0M380.7 421.4h0M377.0 416.8h0M380.3 412.0h0M378.3 410.1h0M378.1 420.0h0M381.4 408.5h0M381.8 413.2h0M380.8 418.1h0M382.8 415.3h0M377.5 417.0h0M383.8 411.6h0M387.2 414.1h0M379.7 425.2h0M384.1 418.2h0M381.9 415.8h0M390.3 411.4h0M379.3 412.3h0M386.7 415.6h0M386.1 406.7h0M383.6 406.8h0M388.4 414.0h0M380.8 424.7h0M377.3 408.1h0M379.0 410.6h0M390.4 410.4h0M390.4 411.1h0M385.8 417.5h0M383.5 409.5h0M380.3 417.2h0M389.1 409.4h0M387.7 414.6h0M389.5 408.0h0M381.0 416.3h0M380.6 425.6h0M380.7 409.5h0M377.7 414.6h0M378.4 417.6h0M381.9 413.9h0M379.8 418.6h0M385.8 411.4h0M381.8 413.7h0M389.1 411.4h0M382.8 416.1h0M386.2 415.3h0M388.0 408.2h0M379.3 406.7h0M381.4 422.0h0M378.6 413.7h0M377.2 410.2h0M382.9 411.9h0M381.7 412.6h0M378.3 407.8h0M378.0 415.5h0M383.8 409.2h0M385.4 414.1h0M379.7 409.4h0M385.1 408.8h0M376.8 416.7h0M377.7 417.4h0M379.3 419.3h0M378.5 413.7h0M380.1 423.2h0M378.0 410.4h0M380.2 423.7h0M380.5 410.0h0M377.9 413.2h0M386.3 416.0h0M378.0 421.9h0M378.3 417.7h0M379.9 419.6h0M377.8 416.5h0M390.0 408.9h0M378.6 407.5h0M379.0 407.4h0M377.1 413.4h0M384.2 410.6h0M377.6 411.2h0M382.0 416.4h0M379.8 405.8h0M377.1 409.6h0M389.5 412.9h0M377.1 409.3h0M384.9 415.8h0M384.7 408.8h0M380.4 425.7h0M384.6 417.7h0M378.2 408.8h0M380.7 410.7h0M380.0 405.9h0M378.4 425.3h0M378.2 418.2h0M378.9 416.1h0M389.2 409.7h0M387.5 415.9h0M377.1 405.2h0M379.6 407.8h0M379.6 420.0h0M383.8 415.5h0M376.5 411.4h0M379.7 408.2h0M378.7 416.7h0M378.7 413.6h0M378.2 416.4h0M384.9 418.0h0M377.9 407.5h0M379.1 405.3h0M385.8 411.8h0M386.8 414.1h0M378.4 424.3h0M383.2 416.8h0M385.5 412.0h0M378.8 411.6h0M380.5 425.4h0M376.5 415.2h0M378.8 409.6h0M377.9 415.6h0M379.0 422.2h0M382.0 412.1h0M389.6 413.5h0M377.4 410.3h0M389.2 412.8h0M384.8 408.4h0M375.9 407.4h0M378.9 415.4h0M379.4 406.4h0M379.4 412.4h0M377.1 417.5h0M382.0 413.1h0M381.7 414.4h0M381.5 406.4h0M379.7 409.4h0" stroke="#00C094" stroke-width="0.8" stroke-linecap="round" fill="none"/>
<path d="M374.0 410.0L377.3 411.1L377.3 420.5L375.6 425.8L374.4 424.8L374.0 417.4Z" fill="#FB61D7" fill-opacity="0.18"/>
<path d="M374.4 423.2h0M375.8 423.1h0M375.8 424.3h0M376.9 413.2h0M375.2 421.0h0M375.1 416.7h0M375.7 415.3h0M376.7 414.2h0M377.2 418.4h0M376.0 415.4h0M374.9 416.4h0M376.4 417.2h0M374.4 422.5h0M375.8 411.3h0M376.6 410.9h0M375.7 420.5h0M376.6 413.9h0M376.4 416.1h0M376.2 418.0h0M376.0 417.8h0M374.5 414.1h0M376.7 416.6h0M375.8 418.2h0M375.6 417.2h0M374.3 417.4h0M376.3 422.9h0M374.2 416.9h0M375.6 417.4h0M375.7 421.3h0M374.8 412.9h0M375.7 416.4h0M377.1 411.2h0M375.2 421.1h0M375.7 419.8h0M375.6 424.3h0M375.4 421.1h0M374.4 415.2h0M374.9 412.8h0M375.5 421.5h0" stroke="#FB61D7" stroke-width="0.8" stroke-linecap="round" fill="none"/>
<path d="M373.2 425.8L377.3 427.9L376.9 434.2L376.4 442.7L374.0 446.9L370.7 448.0L366.9 446.4L365.3 440.6L365.3 434.2L367.4 429.0L369.9 426.3Z" fill="#99A800" fill-opacity="0.18"/>
<path d="M373.5 440.9h0M371.9 439.4h0M373.4 428.7h0M375.3 440.7h0M372.2 440.3h0M376.3 429.0h0M367.8 440.9h0M371.9 434.2h0M372.4 445.3h0M367.1 445.7h0M370.0 436.8h0M375.6 438.1h0M372.3 447.1h0M367.6 436.8h0M368.4 436.2h0M366.5 440.5h0M375.3 431.2h0M365.9 442.9h0M374.0 428.9h0M370.0 445.8h0M375.6 430.9h0M372.1 446.3h0M371.5 432.9h0M367.0 438.9h0M367.4 434.2h0M370.3 433.5h0M377.1 429.6h0M374.6 428.1h0M369.0 428.8h0M373.2 436.4h0M376.1 441.7h0M367.4 440.0h0M371.3 434.0h0M367.6 437.3h0M375.4 444.4h0M374.0 430.5h0M366.6 442.3h0M369.7 436.3h0M370.2 427.3h0M373.7 431.9h0M366.5 438.1h0M374.0 426.7h0M374.9 439.8h0M370.2 429.5h0M369.4 432.2h0M370.7 442.3h0M367.7 430.3h0M374.5 430.4h0M373.4 435.5h0M371.5 445.3h0M372.1 436.5h0M373.5 445.5h0M371.7 427.3h0M373.1 426.8h0M370.2 431.2h0M373.8 446.8h0M374.1 444.1h0M373.4 446.2h0M374.0 439.2h0M376.4 431.0h0M376.3 438.7h0M375.0 428.9h0M371.2 435.4h0M373.8 443.5h0M369.9 426.9h0M366.6 441.0h0M376.3 428.5h0M367.6 439.5h0M375.2 437.7h0M376.5 429.4h0M365.5 439.3h0M376.2 441.2h0M371.6 430.9h0M367.0 437.9h0M366.5 438.4h0M370.3 443.9h0M371.8 427.5h0M367.8 443.5h0M372.8 440.4h0M370.0 432.1h0M368.0 445.5h0M367.1 439.7h0M372.8 431.6h0M376.2 430.4h0M373.4 441.2h0M375.2 436.5h0M368.6 442.5h0M366.2 439.8h0M374.6 440.1h0M373.7 443.3h0M372.7 441.6h0M374.7 433.6h0M375.0 443.2h0M371.2 427.1h0M367.4 431.8h0M370.3 426.6h0M375.9 434.9h0M370.2 444.4h0M370.5 430.1h0M374.1 445.2h0M372.5 439.4h0M365.3 437.7h0M372.8 427.1h0M372.0 446.0h0M372.1 435.6h0M376.2 436.7h0M375.4 432.4h0M371.8 429.5h0M373.4 426.6h0M369.0 432.6h0M370.4 445.7h0M374.5 439.4h0M374.4 434.9h0M369.9 446.6h0M368.7 432.1h0M369.3 445.5h0M373.1 434.2h0M373.2 437.9h0M370.9 437.6h0M370.2 430.4h0M366.3 442.7h0M374.8 433.3h0M375.4 433.9h0M369.8 426.8h0M371.4 437.7h0M373.3 426.5h0M370.3 443.2h0M369.6 437.3h0M368.0 430.7h0M375.0 442.1h0M368.4 431.5h0M371.5 434.7h0M370.0 431.9h0M371.6 445.3h0M370.4 431.1h0M366.4 443.4h0M374.4 442.2h0M373.9 428.4h0M372.8 429.9h0M368.2 442.8h0M376.0 432.9h0M369.5 441.9h0M367.6 434.3h0M365.4 436.6h0M366.2 432.1h0M374.1 427.4h0M373.6 435.5h0M371.6 433.2h0M372.7 432.2h0M376.0 429.4h0M368.8 434.9h0M372.9 446.3h0M373.8 430.6h0M370.7 443.8h0M373.6 442.0h0M371.8 446.6h0M371.1 429.2h0M365.4 437.4h0M370.0 442.6h0M374.5 442.7h0M373.1 434.7h0M374.3 430.8h0M376.2 435.4h0M372.8 435.5h0M373.3 430.5h0M370.2 428.7h0M376.6 434.2h0M374.2 439.6h0M368.7 430.4h0M371.3 436.8h0M369.0 433.1h0M369.2 427.4h0M370.8 429.0h0M369.8 435.8h0M374.4 445.3h0M368.1 440.2h0M375.0 431.4h0M366.0 440.0h0M375.1 431.3h0M366.0 434.2h0M367.1 440.9h0M374.4 428.9h0M374.3 427.9h0M366.6 432.2h0M373.9 431.9h0M376.6 437.8h0M368.8 442.3h0M367.9 435.6h0M374.2 432.2h0M369.2 436.0h0M375.0 436.1h0M374.2 445.2h0" stroke="#99A800" stroke-width="0.8" stroke-linecap="round" fill="none"/>
<path d="M377.7 427.9L381.0 425.8L381.4 434.2L381.0 440.6L378.1 442.7L375.6 444.8L376.9 436.3Z" fill="#A58AFF" fill-opacity="0.18"/>
<path d="M379.7 436.9h0M379.0 434.7h0M380.7 439.5h0M379.6 426.8h0M377.3 436.1h0M379.7 435.8h0M377.5 431.3h0M379.9 433.7h0M377.8 442.1h0M377.1 440.8h0M379.7 429.8h0M378.4 432.7h0M380.4 433.9h0M376.7 437.6h0M379.1 429.4h0M376.9 440.3h0M376.4 443.5h0M377.4 438.0h0M380.3 429.5h0M380.2 430.4h0M377.5 432.7h0M379.1 429.9h0M380.2 428.3h0M379.8 438.9h0M377.6 440.0h0M378.2 432.5h0M379.0 440.9h0M376.7 442.4h0M377.9 436.8h0M377.7 441.9h0M376.6 441.8h0M378.0 440.7h0M378.8 430.1h0M377.3 440.8h0M377.1 439.0h0M380.5 438.9h0M376.8 443.7h0M380.2 429.3h0M379.1 437.6h0M378.3 429.5h0M381.1 436.8h0M376.9 436.4h0M377.7 441.8h0M379.5 433.4h0M376.6 442.8h0M380.1 429.3h0M380.5 428.2h0M377.6 439.2h0M379.5 434.4h0M379.5 440.3h0M380.4 440.9h0M381.1 429.2h0M380.4 435.7h0M377.3 436.4h0M378.9 436.5h0M379.8 439.1h0M379.5 436.8h0M378.3 434.6h0M380.0 430.8h0" stroke="#A58AFF" stroke-width="0.8" stroke-linecap="round" fill="none"/>
<path d="M68.0 385.5L71.4 386.9L75.4 392.0L76.5 395.6L70.9 394.8L68.0 392.7Z" fill="#fff" fill-opacity="0.3"/>
<path d="M82.2 400.6L89.0 399.2L92.4 402.1L89.0 404.9L83.3 405.7Z" fill="#fff" fill-opacity="0.3"/>
<path d="M82.8 426.6L86.7 428.0L86.7 436.0L85.0 443.2L82.8 439.6L82.2 432.4Z" fill="#fff" fill-opacity="0.3"/>
<path d="M78.8 340.7L84.5 336.4L87.9 339.3L86.7 345.8L83.3 347.2L79.4 344.3Z" fill="#fff" fill-opacity="0.3"/>
<path d="M32.3 376.8L38.0 375.4L43.6 376.1L41.9 381.1L37.4 381.1L33.4 379.3Z" fill="#fff" fill-opacity="0.3"/>
<path d="M164.5 385.5L167.9 386.9L171.9 392.0L173.0 395.6L167.4 394.8L164.5 392.7Z" fill="#fff" fill-opacity="0.3"/>
<path d="M178.7 400.6L185.5 399.2L188.9 402.1L185.5 404.9L179.8 405.7Z" fill="#fff" fill-opacity="0.3"/>
<path d="M179.3 426.6L183.2 428.0L183.2 436.0L181.5 443.2L179.3 439.6L178.7 432.4Z" fill="#fff" fill-opacity="0.3"/>
<path d="M175.3 340.7L181.0 336.4L184.4 339.3L183.2 345.8L179.8 347.2L175.9 344.3Z" fill="#fff" fill-opacity="0.3"/>
<path d="M128.8 376.8L134.5 375.4L140.1 376.1L138.4 381.1L133.9 381.1L129.9 379.3Z" fill="#fff" fill-opacity="0.3"/>
<path d="M261.5 385.5L264.9 386.9L268.9 392.0L270.0 395.6L264.4 394.8L261.5 392.7Z" fill="#fff" fill-opacity="0.3"/>
<path d="M275.7 400.6L282.5 399.2L285.9 402.1L282.5 404.9L276.8 405.7Z" fill="#fff" fill-opacity="0.3"/>
<path d="M276.3 426.6L280.2 428.0L280.2 436.0L278.5 443.2L276.3 439.6L275.7 432.4Z" fill="#fff" fill-opacity="0.3"/>
<path d="M272.3 340.7L278.0 336.4L281.4 339.3L280.2 345.8L276.8 347.2L272.9 344.3Z" fill="#fff" fill-opacity="0.3"/>
<path d="M225.8 376.8L231.5 375.4L237.1 376.1L235.4 381.1L230.9 381.1L226.9 379.3Z" fill="#fff" fill-opacity="0.3"/>
<path d="M358.5 385.5L361.9 386.9L365.9 392.0L367.0 395.6L361.4 394.8L358.5 392.7Z" fill="#fff" fill-opacity="0.3"/>
<path d="M372.7 400.6L379.5 399.2L382.9 402.1L379.5 404.9L373.8 405.7Z" fill="#fff" fill-opacity="0.3"/>
<path d="M373.3 426.6L377.2 428.0L377.2 436.0L375.5 443.2L373.3 439.6L372.7 432.4Z" fill="#fff" fill-opacity="0.3"/>
<path d="M369.3 340.7L375.0 336.4L378.4 339.3L377.2 345.8L373.8 347.2L369.9 344.3Z" fill="#fff" fill-opacity="0.3"/>
<path d="M322.8 376.8L328.5 375.4L334.1 376.1L332.4 381.1L327.9 381.1L323.9 379.3Z" fill="#fff" fill-opacity="0.3"/>
<circle cx="77" cy="335" r="0.55" fill="#FF66A8" fill-opacity="0.5"/>
<circle cx="88" cy="341" r="0.55" fill="#FF66A8" fill-opacity="0.5"/>
<circle cx="106" cy="345" r="0.55" fill="#FF66A8" fill-opacity="0.5"/>
<circle cx="87" cy="365.8" r="0.55" fill="#FF66A8" fill-opacity="0.5"/>
<circle cx="96" cy="356" r="0.55" fill="#FF66A8" fill-opacity="0.5"/>
<path d="M17.5 317.2V455" fill="none" stroke="#a6a6a6" stroke-width="1.1"/>
<path d="M17.5 455H112.1" stroke="#a6a6a6" stroke-width="1.1"/>
<path d="M19.3 455v1.5" stroke="#a6a6a6" stroke-width="0.6"/>
<text x="19.3" y="461.0" font-size="5.0" fill="#404040" text-anchor="middle">-15</text>
<path d="M37.3 455v1.5" stroke="#a6a6a6" stroke-width="0.6"/>
<text x="37.3" y="461.0" font-size="5.0" fill="#404040" text-anchor="middle">-10</text>
<path d="M55.3 455v1.5" stroke="#a6a6a6" stroke-width="0.6"/>
<text x="55.3" y="461.0" font-size="5.0" fill="#404040" text-anchor="middle">-5</text>
<path d="M73.3 455v1.5" stroke="#a6a6a6" stroke-width="0.6"/>
<text x="73.3" y="461.0" font-size="5.0" fill="#404040" text-anchor="middle">0</text>
<path d="M91.3 455v1.5" stroke="#a6a6a6" stroke-width="0.6"/>
<text x="91.3" y="461.0" font-size="5.0" fill="#404040" text-anchor="middle">5</text>
<path d="M109.3 455v1.5" stroke="#a6a6a6" stroke-width="0.6"/>
<text x="109.3" y="461.0" font-size="5.0" fill="#404040" text-anchor="middle">10</text>
<text x="64.8" y="317.0" font-size="4.4" fill="#222" text-anchor="middle" font-weight="bold" textLength="7.5" lengthAdjust="spacingAndGlyphs">D60</text>
<path d="M114.0 455H208.6" stroke="#a6a6a6" stroke-width="1.1"/>
<path d="M115.8 455v1.5" stroke="#a6a6a6" stroke-width="0.6"/>
<text x="115.8" y="461.0" font-size="5.0" fill="#404040" text-anchor="middle">-15</text>
<path d="M133.8 455v1.5" stroke="#a6a6a6" stroke-width="0.6"/>
<text x="133.8" y="461.0" font-size="5.0" fill="#404040" text-anchor="middle">-10</text>
<path d="M151.8 455v1.5" stroke="#a6a6a6" stroke-width="0.6"/>
<text x="151.8" y="461.0" font-size="5.0" fill="#404040" text-anchor="middle">-5</text>
<path d="M169.8 455v1.5" stroke="#a6a6a6" stroke-width="0.6"/>
<text x="169.8" y="461.0" font-size="5.0" fill="#404040" text-anchor="middle">0</text>
<path d="M187.8 455v1.5" stroke="#a6a6a6" stroke-width="0.6"/>
<text x="187.8" y="461.0" font-size="5.0" fill="#404040" text-anchor="middle">5</text>
<path d="M205.8 455v1.5" stroke="#a6a6a6" stroke-width="0.6"/>
<text x="205.8" y="461.0" font-size="5.0" fill="#404040" text-anchor="middle">10</text>
<text x="161.3" y="317.0" font-size="4.4" fill="#222" text-anchor="middle" font-weight="bold" textLength="7.5" lengthAdjust="spacingAndGlyphs">D90</text>
<path d="M211.0 455H305.6" stroke="#a6a6a6" stroke-width="1.1"/>
<path d="M212.8 455v1.5" stroke="#a6a6a6" stroke-width="0.6"/>
<text x="212.8" y="461.0" font-size="5.0" fill="#404040" text-anchor="middle">-15</text>
<path d="M230.8 455v1.5" stroke="#a6a6a6" stroke-width="0.6"/>
<text x="230.8" y="461.0" font-size="5.0" fill="#404040" text-anchor="middle">-10</text>
<path d="M248.8 455v1.5" stroke="#a6a6a6" stroke-width="0.6"/>
<text x="248.8" y="461.0" font-size="5.0" fill="#404040" text-anchor="middle">-5</text>
<path d="M266.8 455v1.5" stroke="#a6a6a6" stroke-width="0.6"/>
<text x="266.8" y="461.0" font-size="5.0" fill="#404040" text-anchor="middle">0</text>
<path d="M284.8 455v1.5" stroke="#a6a6a6" stroke-width="0.6"/>
<text x="284.8" y="461.0" font-size="5.0" fill="#404040" text-anchor="middle">5</text>
<path d="M302.8 455v1.5" stroke="#a6a6a6" stroke-width="0.6"/>
<text x="302.8" y="461.0" font-size="5.0" fill="#404040" text-anchor="middle">10</text>
<text x="258.3" y="317.0" font-size="4.4" fill="#222" text-anchor="middle" font-weight="bold" textLength="7.5" lengthAdjust="spacingAndGlyphs">D120</text>
<path d="M308.0 455H402.6" stroke="#a6a6a6" stroke-width="1.1"/>
<path d="M309.8 455v1.5" stroke="#a6a6a6" stroke-width="0.6"/>
<text x="309.8" y="461.0" font-size="5.0" fill="#404040" text-anchor="middle">-15</text>
<path d="M327.8 455v1.5" stroke="#a6a6a6" stroke-width="0.6"/>
<text x="327.8" y="461.0" font-size="5.0" fill="#404040" text-anchor="middle">-10</text>
<path d="M345.8 455v1.5" stroke="#a6a6a6" stroke-width="0.6"/>
<text x="345.8" y="461.0" font-size="5.0" fill="#404040" text-anchor="middle">-5</text>
<path d="M363.8 455v1.5" stroke="#a6a6a6" stroke-width="0.6"/>
<text x="363.8" y="461.0" font-size="5.0" fill="#404040" text-anchor="middle">0</text>
<path d="M381.8 455v1.5" stroke="#a6a6a6" stroke-width="0.6"/>
<text x="381.8" y="461.0" font-size="5.0" fill="#404040" text-anchor="middle">5</text>
<path d="M399.8 455v1.5" stroke="#a6a6a6" stroke-width="0.6"/>
<text x="399.8" y="461.0" font-size="5.0" fill="#404040" text-anchor="middle">10</text>
<text x="355.3" y="317.0" font-size="4.4" fill="#222" text-anchor="middle" font-weight="bold" textLength="7.5" lengthAdjust="spacingAndGlyphs">D200</text>
<path d="M16.0 328.6h1.5" stroke="#a6a6a6" stroke-width="0.6"/>
<text x="15.8" y="330.4" font-size="5.0" fill="#404040" text-anchor="end">10</text>
<path d="M16.0 354.0h1.5" stroke="#a6a6a6" stroke-width="0.6"/>
<text x="15.8" y="355.8" font-size="5.0" fill="#404040" text-anchor="end">5</text>
<path d="M16.0 379.4h1.5" stroke="#a6a6a6" stroke-width="0.6"/>
<text x="15.8" y="381.2" font-size="5.0" fill="#404040" text-anchor="end">0</text>
<path d="M16.0 404.8h1.5" stroke="#a6a6a6" stroke-width="0.6"/>
<text x="15.8" y="406.6" font-size="5.0" fill="#404040" text-anchor="end">-5</text>
<path d="M16.0 430.2h1.5" stroke="#a6a6a6" stroke-width="0.6"/>
<text x="15.8" y="432.0" font-size="5.0" fill="#404040" text-anchor="end">-10</text>
<text x="209.8" y="466.8" font-size="7.3" fill="#111" text-anchor="middle">umap_1</text>
<text x="0.0" y="0.0" font-size="7.3" fill="#111" text-anchor="middle" transform="translate(7.4 386.7) rotate(-90)">umap_2</text>
<text x="44.5" y="358.6" font-size="6.7" fill="#000" textLength="18.6" lengthAdjust="spacingAndGlyphs" stroke="#000" stroke-width="0.18">NRPC</text>
<text x="79.9" y="355.9" font-size="6.7" fill="#000" textLength="13.9" lengthAdjust="spacingAndGlyphs" stroke="#000" stroke-width="0.18">CM1</text>
<text x="79.9" y="365.0" font-size="6.7" fill="#000" textLength="18.2" lengthAdjust="spacingAndGlyphs" stroke="#000" stroke-width="0.18">RGC2</text>
<text x="20.9" y="368.7" font-size="6.7" fill="#000" textLength="30.6" lengthAdjust="spacingAndGlyphs" stroke="#000" stroke-width="0.18">Early RPC</text>
<text x="23.7" y="386.4" font-size="6.7" fill="#000" textLength="47.6" lengthAdjust="spacingAndGlyphs" stroke="#000" stroke-width="0.18">Transient NRPC</text>
<text x="29.6" y="397.2" font-size="6.7" fill="#000" textLength="28.5" lengthAdjust="spacingAndGlyphs" stroke="#000" stroke-width="0.18">Late RPC</text>
<text x="62.7" y="409.2" font-size="6.7" fill="#000" textLength="35.3" lengthAdjust="spacingAndGlyphs" stroke="#000" stroke-width="0.18">PHOTO Pre</text>
<text x="177.1" y="331.8" font-size="6.7" fill="#000" textLength="18.2" lengthAdjust="spacingAndGlyphs" stroke="#000" stroke-width="0.18">RGC1</text>
<text x="143.4" y="344.2" font-size="6.7" fill="#000" textLength="28.5" lengthAdjust="spacingAndGlyphs" stroke="#000" stroke-width="0.18">Late RPC</text>
<text x="189.8" y="344.6" font-size="6.7" fill="#000" textLength="13.9" lengthAdjust="spacingAndGlyphs" stroke="#000" stroke-width="0.18">CM1</text>
<text x="141.0" y="353.8" font-size="6.7" fill="#000" textLength="18.6" lengthAdjust="spacingAndGlyphs" stroke="#000" stroke-width="0.18">NRPC</text>
<text x="174.7" y="353.0" font-size="6.7" fill="#000" textLength="19.7" lengthAdjust="spacingAndGlyphs" stroke="#000" stroke-width="0.18">INTER</text>
<text x="161.7" y="362.6" font-size="6.7" fill="#000" textLength="13.9" lengthAdjust="spacingAndGlyphs" stroke="#000" stroke-width="0.18">CM2</text>
<text x="152.1" y="398.8" font-size="6.7" fill="#000" textLength="26.6" lengthAdjust="spacingAndGlyphs" stroke="#000" stroke-width="0.18">MULLER</text>
<text x="271.8" y="331.3" font-size="6.7" fill="#000" textLength="18.2" lengthAdjust="spacingAndGlyphs" stroke="#000" stroke-width="0.18">RGC1</text>
<text x="285.8" y="343.2" font-size="6.7" fill="#000" textLength="13.9" lengthAdjust="spacingAndGlyphs" stroke="#000" stroke-width="0.18">CM1</text>
<text x="257.4" y="361.3" font-size="6.7" fill="#000" textLength="13.9" lengthAdjust="spacingAndGlyphs" stroke="#000" stroke-width="0.18">CM2</text>
<text x="226.1" y="380.5" font-size="6.7" fill="#000" textLength="28.5" lengthAdjust="spacingAndGlyphs" stroke="#000" stroke-width="0.18">Late RPC</text>
<text x="283.8" y="387.1" font-size="6.7" fill="#000" textLength="19.7" lengthAdjust="spacingAndGlyphs" stroke="#000" stroke-width="0.18">INTER</text>
<text x="256.9" y="398.1" font-size="6.7" fill="#000" textLength="18.6" lengthAdjust="spacingAndGlyphs" stroke="#000" stroke-width="0.18">NRPC</text>
<text x="235.8" y="408.0" font-size="6.7" fill="#000" textLength="26.6" lengthAdjust="spacingAndGlyphs" stroke="#000" stroke-width="0.18">MULLER</text>
<text x="263.9" y="411.6" font-size="6.7" fill="#000" textLength="40.5" lengthAdjust="spacingAndGlyphs" stroke="#000" stroke-width="0.18">BIPOLAR Pre</text>
<text x="257.8" y="419.1" font-size="6.7" fill="#000" textLength="35.3" lengthAdjust="spacingAndGlyphs" stroke="#000" stroke-width="0.18">PHOTO Pre</text>
<text x="263.0" y="432.8" font-size="6.7" fill="#000" textLength="14.6" lengthAdjust="spacingAndGlyphs" stroke="#000" stroke-width="0.18">ROD</text>
<text x="275.6" y="442.6" font-size="6.7" fill="#000" textLength="19.0" lengthAdjust="spacingAndGlyphs" stroke="#000" stroke-width="0.18">CONE</text>
<text x="347.8" y="392.6" font-size="6.7" fill="#000" textLength="18.6" lengthAdjust="spacingAndGlyphs" stroke="#000" stroke-width="0.18">NRPC</text>
<text x="375.0" y="391.1" font-size="6.7" fill="#000" textLength="19.7" lengthAdjust="spacingAndGlyphs" stroke="#000" stroke-width="0.18">INTER</text>
<text x="309.1" y="400.0" font-size="6.7" fill="#000" textLength="47.6" lengthAdjust="spacingAndGlyphs" stroke="#000" stroke-width="0.18">Transient NRPC</text>
<text x="359.2" y="400.6" font-size="6.7" fill="#000" textLength="26.6" lengthAdjust="spacingAndGlyphs" stroke="#000" stroke-width="0.18">MULLER</text>
<text x="360.4" y="412.0" font-size="6.7" fill="#000" textLength="40.5" lengthAdjust="spacingAndGlyphs" stroke="#000" stroke-width="0.18">BIPOLAR Pre</text>
<text x="355.0" y="420.0" font-size="6.7" fill="#000" textLength="35.3" lengthAdjust="spacingAndGlyphs" stroke="#000" stroke-width="0.18">PHOTO Pre</text>
<text x="361.1" y="437.6" font-size="6.7" fill="#000" textLength="14.6" lengthAdjust="spacingAndGlyphs" stroke="#000" stroke-width="0.18">ROD</text>
<text x="372.1" y="445.8" font-size="6.7" fill="#000" textLength="19.0" lengthAdjust="spacingAndGlyphs" stroke="#000" stroke-width="0.18">CONE</text>
<circle cx="408.2" cy="356.4" r="0.9" fill="#F8766D"/>
<text x="411.4" y="358.1" font-size="5.0" fill="#1a1a1a" textLength="10.0" lengthAdjust="spacingAndGlyphs" stroke="#1a1a1a" stroke-width="0.08">CM1</text>
<circle cx="408.2" cy="361.0" r="0.9" fill="#E38900"/>
<text x="411.4" y="362.8" font-size="5.0" fill="#1a1a1a" textLength="20.6" lengthAdjust="spacingAndGlyphs" stroke="#1a1a1a" stroke-width="0.08">Late RPC</text>
<circle cx="408.2" cy="365.6" r="0.9" fill="#C49A00"/>
<text x="411.4" y="367.3" font-size="5.0" fill="#1a1a1a" textLength="13.2" lengthAdjust="spacingAndGlyphs" stroke="#1a1a1a" stroke-width="0.08">RGC1</text>
<circle cx="408.2" cy="370.2" r="0.9" fill="#99A800"/>
<text x="411.4" y="371.9" font-size="5.0" fill="#1a1a1a" textLength="10.6" lengthAdjust="spacingAndGlyphs" stroke="#1a1a1a" stroke-width="0.08">ROD</text>
<circle cx="408.2" cy="374.8" r="0.9" fill="#53B400"/>
<text x="411.4" y="376.5" font-size="5.0" fill="#1a1a1a" textLength="19.3" lengthAdjust="spacingAndGlyphs" stroke="#1a1a1a" stroke-width="0.08">MULLER</text>
<circle cx="408.2" cy="379.4" r="0.9" fill="#00BC56"/>
<text x="411.4" y="381.1" font-size="5.0" fill="#1a1a1a" textLength="10.0" lengthAdjust="spacingAndGlyphs" stroke="#1a1a1a" stroke-width="0.08">CM2</text>
<circle cx="408.2" cy="384.0" r="0.9" fill="#00C094"/>
<text x="411.4" y="385.8" font-size="5.0" fill="#1a1a1a" textLength="29.3" lengthAdjust="spacingAndGlyphs" stroke="#1a1a1a" stroke-width="0.08">BIPOLAR Pre</text>
<circle cx="408.2" cy="388.6" r="0.9" fill="#00BFC4"/>
<text x="411.4" y="390.3" font-size="5.0" fill="#1a1a1a" textLength="22.2" lengthAdjust="spacingAndGlyphs" stroke="#1a1a1a" stroke-width="0.08">Early RPC</text>
<circle cx="408.2" cy="393.2" r="0.9" fill="#00B6EB"/>
<text x="411.4" y="394.9" font-size="5.0" fill="#1a1a1a" textLength="14.2" lengthAdjust="spacingAndGlyphs" stroke="#1a1a1a" stroke-width="0.08">INTER</text>
<circle cx="408.2" cy="397.8" r="0.9" fill="#06A4FF"/>
<text x="411.4" y="399.5" font-size="5.0" fill="#1a1a1a" textLength="13.5" lengthAdjust="spacingAndGlyphs" stroke="#1a1a1a" stroke-width="0.08">NRPC</text>
<circle cx="408.2" cy="402.4" r="0.9" fill="#A58AFF"/>
<text x="411.4" y="404.1" font-size="5.0" fill="#1a1a1a" textLength="13.7" lengthAdjust="spacingAndGlyphs" stroke="#1a1a1a" stroke-width="0.08">CONE</text>
<circle cx="408.2" cy="407.0" r="0.9" fill="#DF70F8"/>
<text x="411.4" y="408.8" font-size="5.0" fill="#1a1a1a" textLength="34.4" lengthAdjust="spacingAndGlyphs" stroke="#1a1a1a" stroke-width="0.08">Transient NRPC</text>
<circle cx="408.2" cy="411.6" r="0.9" fill="#FB61D7"/>
<text x="411.4" y="413.3" font-size="5.0" fill="#1a1a1a" textLength="25.5" lengthAdjust="spacingAndGlyphs" stroke="#1a1a1a" stroke-width="0.08">PHOTO Pre</text>
<circle cx="408.2" cy="416.2" r="0.9" fill="#FF66A8"/>
<text x="411.4" y="417.9" font-size="5.0" fill="#1a1a1a" textLength="13.2" lengthAdjust="spacingAndGlyphs" stroke="#1a1a1a" stroke-width="0.08">RGC2</text>
<circle cx="534.5" cy="304.7" r="0.32" fill="#cac0d9"/>
<circle cx="564.4" cy="304.7" r="0.32" fill="#cac0d9"/>
<circle cx="594.4" cy="304.7" r="0.32" fill="#cac0d9"/>
<circle cx="624.3" cy="304.7" r="0.32" fill="#cac0d9"/>
<circle cx="534.5" cy="316.7" r="0.32" fill="#cac0d9"/>
<circle cx="564.4" cy="316.7" r="0.32" fill="#cac0d9"/>
<circle cx="594.4" cy="316.7" r="0.32" fill="#cac0d9"/>
<circle cx="624.3" cy="316.7" r="0.32" fill="#cac0d9"/>
<circle cx="534.5" cy="328.7" r="0.32" fill="#cac0d9"/>
<circle cx="564.4" cy="328.7" r="0.32" fill="#cac0d9"/>
<circle cx="594.4" cy="328.7" r="0.32" fill="#cac0d9"/>
<circle cx="624.3" cy="328.7" r="0.32" fill="#cac0d9"/>
<circle cx="534.5" cy="340.7" r="0.32" fill="#cac0d9"/>
<circle cx="564.4" cy="340.7" r="0.32" fill="#cac0d9"/>
<circle cx="594.4" cy="340.7" r="0.32" fill="#cac0d9"/>
<circle cx="624.3" cy="340.7" r="0.45" fill="#b69ce3"/>
<circle cx="534.5" cy="352.7" r="0.32" fill="#cac0d9"/>
<circle cx="564.4" cy="352.7" r="0.32" fill="#cac0d9"/>
<circle cx="594.4" cy="352.7" r="0.32" fill="#cac0d9"/>
<circle cx="624.3" cy="352.7" r="0.32" fill="#cac0d9"/>
<circle cx="534.5" cy="364.7" r="1.17" fill="#5932fa"/>
<circle cx="564.4" cy="364.7" r="1.26" fill="#4926fb"/>
<circle cx="594.4" cy="364.7" r="0.32" fill="#cac0d9"/>
<circle cx="624.3" cy="364.7" r="0.32" fill="#cac0d9"/>
<circle cx="534.5" cy="376.7" r="1.26" fill="#5932fa"/>
<circle cx="564.4" cy="376.7" r="0.63" fill="#9d77ec"/>
<circle cx="594.4" cy="376.7" r="0.63" fill="#9d77ec"/>
<circle cx="624.3" cy="376.7" r="0.32" fill="#cac0d9"/>
<circle cx="534.5" cy="388.7" r="0.32" fill="#cac0d9"/>
<circle cx="564.4" cy="388.7" r="0.32" fill="#cac0d9"/>
<circle cx="594.4" cy="388.7" r="0.32" fill="#cac0d9"/>
<circle cx="624.3" cy="388.7" r="0.32" fill="#cac0d9"/>
<circle cx="534.5" cy="400.7" r="0.45" fill="#b69ce3"/>
<circle cx="564.4" cy="400.7" r="0.32" fill="#cac0d9"/>
<circle cx="594.4" cy="400.7" r="0.32" fill="#cac0d9"/>
<circle cx="624.3" cy="400.7" r="0.72" fill="#8e65f0"/>
<circle cx="534.5" cy="412.7" r="0.45" fill="#b69ce3"/>
<circle cx="564.4" cy="412.7" r="0.32" fill="#cac0d9"/>
<circle cx="594.4" cy="412.7" r="0.32" fill="#cac0d9"/>
<circle cx="624.3" cy="412.7" r="0.32" fill="#cac0d9"/>
<circle cx="534.5" cy="424.7" r="1.44" fill="#4926fb"/>
<circle cx="564.4" cy="424.7" r="0.90" fill="#8e65f0"/>
<circle cx="594.4" cy="424.7" r="0.81" fill="#966eee"/>
<circle cx="624.3" cy="424.7" r="0.32" fill="#cac0d9"/>
<circle cx="534.5" cy="436.7" r="0.99" fill="#a480ea"/>
<circle cx="564.4" cy="436.7" r="1.80" fill="#8e65f0"/>
<circle cx="594.4" cy="436.7" r="2.34" fill="#673df8"/>
<circle cx="624.3" cy="436.7" r="0.32" fill="#cac0d9"/>
<circle cx="534.5" cy="448.7" r="0.99" fill="#9d77ec"/>
<circle cx="564.4" cy="448.7" r="1.17" fill="#8e65f0"/>
<circle cx="594.4" cy="448.7" r="1.53" fill="#855bf2"/>
<circle cx="624.3" cy="448.7" r="0.32" fill="#cac0d9"/>
<circle cx="534.5" cy="460.7" r="0.90" fill="#9d77ec"/>
<circle cx="564.4" cy="460.7" r="0.99" fill="#8e65f0"/>
<circle cx="594.4" cy="460.7" r="1.17" fill="#7c51f4"/>
<circle cx="624.3" cy="460.7" r="0.32" fill="#cac0d9"/>
<path d="M516.2 297.8V468.5H642.1" fill="none" stroke="#6e6e6e" stroke-width="1.0"/>
<path d="M514.4 304.7h1.8" stroke="#a6a6a6" stroke-width="0.7"/>
<text x="514.0" y="306.9" font-size="6.3" fill="#1a1a1a" text-anchor="end" textLength="36.1" lengthAdjust="spacingAndGlyphs" stroke="#1a1a1a" stroke-width="0.15">BIPOLAR Pre</text>
<path d="M514.4 316.7h1.8" stroke="#a6a6a6" stroke-width="0.7"/>
<text x="514.0" y="318.9" font-size="6.3" fill="#1a1a1a" text-anchor="end" textLength="16.9" lengthAdjust="spacingAndGlyphs" stroke="#1a1a1a" stroke-width="0.15">CONE</text>
<path d="M514.4 328.7h1.8" stroke="#a6a6a6" stroke-width="0.7"/>
<text x="514.0" y="330.9" font-size="6.3" fill="#1a1a1a" text-anchor="end" textLength="13.0" lengthAdjust="spacingAndGlyphs" stroke="#1a1a1a" stroke-width="0.15">ROD</text>
<path d="M514.4 340.7h1.8" stroke="#a6a6a6" stroke-width="0.7"/>
<text x="514.0" y="342.9" font-size="6.3" fill="#1a1a1a" text-anchor="end" textLength="31.5" lengthAdjust="spacingAndGlyphs" stroke="#1a1a1a" stroke-width="0.15">PHOTO Pre</text>
<path d="M514.4 352.7h1.8" stroke="#a6a6a6" stroke-width="0.7"/>
<text x="514.0" y="354.9" font-size="6.3" fill="#1a1a1a" text-anchor="end" textLength="17.6" lengthAdjust="spacingAndGlyphs" stroke="#1a1a1a" stroke-width="0.15">INTER</text>
<path d="M514.4 364.7h1.8" stroke="#a6a6a6" stroke-width="0.7"/>
<text x="514.0" y="366.9" font-size="6.3" fill="#1a1a1a" text-anchor="end" textLength="23.8" lengthAdjust="spacingAndGlyphs" stroke="#1a1a1a" stroke-width="0.15">MULLER</text>
<path d="M514.4 376.7h1.8" stroke="#a6a6a6" stroke-width="0.7"/>
<text x="514.0" y="378.9" font-size="6.3" fill="#1a1a1a" text-anchor="end" textLength="12.4" lengthAdjust="spacingAndGlyphs" stroke="#1a1a1a" stroke-width="0.15">CM2</text>
<path d="M514.4 388.7h1.8" stroke="#a6a6a6" stroke-width="0.7"/>
<text x="514.0" y="390.9" font-size="6.3" fill="#1a1a1a" text-anchor="end" textLength="12.4" lengthAdjust="spacingAndGlyphs" stroke="#1a1a1a" stroke-width="0.15">CM1</text>
<path d="M514.4 400.7h1.8" stroke="#a6a6a6" stroke-width="0.7"/>
<text x="514.0" y="402.9" font-size="6.3" fill="#1a1a1a" text-anchor="end" textLength="16.3" lengthAdjust="spacingAndGlyphs" stroke="#1a1a1a" stroke-width="0.15">RGC2</text>
<path d="M514.4 412.7h1.8" stroke="#a6a6a6" stroke-width="0.7"/>
<text x="514.0" y="414.9" font-size="6.3" fill="#1a1a1a" text-anchor="end" textLength="16.3" lengthAdjust="spacingAndGlyphs" stroke="#1a1a1a" stroke-width="0.15">RGC1</text>
<path d="M514.4 424.7h1.8" stroke="#a6a6a6" stroke-width="0.7"/>
<text x="514.0" y="426.9" font-size="6.3" fill="#1a1a1a" text-anchor="end" textLength="16.6" lengthAdjust="spacingAndGlyphs" stroke="#1a1a1a" stroke-width="0.15">NRPC</text>
<path d="M514.4 436.7h1.8" stroke="#a6a6a6" stroke-width="0.7"/>
<text x="514.0" y="438.9" font-size="6.3" fill="#1a1a1a" text-anchor="end" textLength="42.4" lengthAdjust="spacingAndGlyphs" stroke="#1a1a1a" stroke-width="0.15">Transient NRPC</text>
<path d="M514.4 448.7h1.8" stroke="#a6a6a6" stroke-width="0.7"/>
<text x="514.0" y="450.9" font-size="6.3" fill="#1a1a1a" text-anchor="end" textLength="27.3" lengthAdjust="spacingAndGlyphs" stroke="#1a1a1a" stroke-width="0.15">Early RPC</text>
<path d="M514.4 460.7h1.8" stroke="#a6a6a6" stroke-width="0.7"/>
<text x="514.0" y="462.9" font-size="6.3" fill="#1a1a1a" text-anchor="end" textLength="25.4" lengthAdjust="spacingAndGlyphs" stroke="#1a1a1a" stroke-width="0.15">Late RPC</text>
<path d="M534.5 468.5v1.8" stroke="#a6a6a6" stroke-width="0.7"/>
<text x="534.5" y="474.7" font-size="6.2" fill="#1a1a1a" text-anchor="middle" textLength="23.6" lengthAdjust="spacingAndGlyphs" stroke="#1a1a1a" stroke-width="0.15">NOTCH1</text>
<path d="M564.4 468.5v1.8" stroke="#a6a6a6" stroke-width="0.7"/>
<text x="564.4" y="474.7" font-size="6.2" fill="#1a1a1a" text-anchor="middle" textLength="23.6" lengthAdjust="spacingAndGlyphs" stroke="#1a1a1a" stroke-width="0.15">NOTCH2</text>
<path d="M594.4 468.5v1.8" stroke="#a6a6a6" stroke-width="0.7"/>
<text x="594.4" y="474.7" font-size="6.2" fill="#1a1a1a" text-anchor="middle" textLength="23.6" lengthAdjust="spacingAndGlyphs" stroke="#1a1a1a" stroke-width="0.15">NOTCH3</text>
<path d="M624.3 468.5v1.8" stroke="#a6a6a6" stroke-width="0.7"/>
<text x="624.3" y="474.7" font-size="6.2" fill="#1a1a1a" text-anchor="middle" textLength="23.6" lengthAdjust="spacingAndGlyphs" stroke="#1a1a1a" stroke-width="0.15">NOTCH4</text>
<text x="579.3" y="484.2" font-size="9.2" fill="#111" text-anchor="middle" textLength="34.6" lengthAdjust="spacingAndGlyphs">Features</text>
<text x="0.0" y="0.0" font-size="9.6" fill="#111" text-anchor="middle" transform="translate(469.2 382) rotate(-90)">Identity</text>
<text x="646.2" y="348.6" font-size="4.8" fill="#1a1a1a" textLength="35.3" lengthAdjust="spacingAndGlyphs">Average Expression</text>
<rect x="646.3" y="352.0" width="4.2" height="22.9" fill="url(#gB)"/>
<text x="652.8" y="357.7" font-size="6.2" fill="#1a1a1a">2</text>
<text x="652.8" y="363.7" font-size="6.2" fill="#1a1a1a">1</text>
<text x="652.8" y="370.2" font-size="6.2" fill="#1a1a1a">0</text>
<text x="652.8" y="376.5" font-size="6.2" fill="#1a1a1a">-1</text>
<text x="646.2" y="381.8" font-size="4.8" fill="#1a1a1a" textLength="33.5" lengthAdjust="spacingAndGlyphs">Percent Expressed</text>
<circle cx="648.5" cy="388.0" r="0.25" fill="#000"/>
<text x="652.8" y="390.2" font-size="6.2" fill="#1a1a1a">0</text>
<circle cx="648.5" cy="393.8" r="0.55" fill="#000"/>
<text x="652.8" y="396.0" font-size="6.2" fill="#1a1a1a">10</text>
<circle cx="648.5" cy="399.5" r="0.85" fill="#000"/>
<text x="652.8" y="401.7" font-size="6.2" fill="#1a1a1a">20</text>
<circle cx="648.5" cy="405.3" r="1.15" fill="#000"/>
<text x="652.8" y="407.5" font-size="6.2" fill="#1a1a1a">30</text>
<circle cx="648.5" cy="411.0" r="1.45" fill="#000"/>
<text x="652.8" y="413.2" font-size="6.2" fill="#1a1a1a">40</text>
<circle cx="648.5" cy="416.6" r="1.8" fill="#000"/>
<text x="652.8" y="418.8" font-size="6.2" fill="#1a1a1a">50</text>
<path d="M35.4 614.3L40.4 612.0L48.2 616.0L55.4 621.7L62.6 626.2L66.9 630.7L64.0 637.5L58.3 642.0L44.0 643.2L36.8 641.5L32.5 635.3L31.8 623.9L32.5 617.1Z" fill="#c1afde" fill-opacity="0.2"/>
<path d="M41.0 600.8L51.1 599.0L62.6 598.2L69.0 598.5L70.5 601.3L69.7 607.0L72.6 613.8L66.9 619.4L58.3 619.4L51.1 617.1L44.0 613.8L38.2 609.2L39.0 604.6Z" fill="#d0ccd5" fill-opacity="0.2"/>
<path d="M68.3 613.2L74.1 616.0L76.9 622.8L79.7 630.7L75.5 633.6L68.3 631.8L65.4 628.5L69.7 623.9L71.1 618.2Z" fill="#ccc4d8" fill-opacity="0.2"/>
<path d="M86.2 595.6L87.4 589.9L88.3 586.1L90.2 580.9L92.2 577.8L95.0 576.3L98.8 575.4L102.2 575.8L104.1 576.9L103.1 578.6L99.8 578.6L96.9 579.4L95.0 582.4L96.0 586.9L98.8 588.4L102.7 587.3L103.6 588.8L100.8 589.9L96.9 590.7L97.2 594.4L96.9 599.0L94.5 600.1L90.2 598.6L86.9 597.5Z" fill="#cfcad6" fill-opacity="0.2"/>
<path d="M102.6 576.4L107.4 575.6L109.4 580.1L118.8 584.7L126.5 586.9L134.1 590.7L140.9 592.9L141.7 595.9L134.1 597.5L126.5 599.0L120.8 601.3L117.0 602.7L116.0 599.7L113.2 595.2L109.4 590.7L106.4 586.1L104.6 580.9Z" fill="#c5b5dc" fill-opacity="0.2"/>
<path d="M107.9 575.8L115.6 572.8L123.2 569.3L126.5 566.3L131.9 561.6L136.3 557.3L141.7 553.8L148.3 552.1L157.0 551.0L164.6 551.7L171.2 555.1L176.6 560.3L167.9 563.3L162.4 565.9L158.1 570.2L153.7 576.2L148.3 579.7L142.8 575.4L135.2 574.5L128.7 576.2L121.0 576.7L113.4 577.1Z" fill="#baa3e1" fill-opacity="0.2"/>
<path d="M176.6 560.3L182.1 564.6L187.5 567.6L191.3 572.8L190.8 578.8L184.2 583.5L173.3 586.6L161.3 588.3L151.5 590.4L146.1 593.9L141.7 594.3L145.0 590.0L147.2 584.0L152.6 577.9L157.0 571.9L161.3 566.8L166.8 563.7Z" fill="#a27eea" fill-opacity="0.2"/>
<path d="M151.1 599.3L153.5 599.3L153.5 601.0L151.1 601.0Z" fill="#9d77ec" fill-opacity="0.2"/>
<path d="M117.8 625.5L122.5 627.4L130.5 632.4L136.8 639.9L144.8 643.6L157.5 641.1L163.9 644.9L157.5 647.4L144.8 648.7L135.2 651.2L122.5 652.5L116.9 648.7L116.1 641.1L118.5 632.4Z" fill="#5932fa" fill-opacity="0.22"/>
<path d="M170.3 616.7L175.0 617.3L179.0 623.6L177.4 628.6L171.8 634.8L163.9 639.9L159.1 641.1L160.7 637.3L165.5 631.1L167.0 624.8L168.6 619.8Z" fill="#744af5" fill-opacity="0.22"/>
<path d="M149.6 647.4L165.5 648.7L176.6 651.2L179.8 656.2L175.0 660.0L165.5 665.1L159.1 672.5L152.7 672.5L151.1 663.8L151.1 657.5Z" fill="#5f37f9" fill-opacity="0.22"/>
<path d="M146.4 653.7L152.7 655.0L152.7 666.3L149.6 672.5L147.2 671.3L146.4 662.5Z" fill="#5630fa" fill-opacity="0.22"/>
<path d="M144.8 672.5L152.7 675.0L152.0 682.6L151.1 692.7L146.4 697.7L140.0 699.0L132.8 697.1L129.6 690.2L129.6 682.6L133.7 676.3L138.5 673.2Z" fill="#3d1efd" fill-opacity="0.22"/>
<path d="M153.5 675.0L159.9 672.5L160.7 682.6L159.9 690.2L154.4 692.7L149.6 695.2L152.0 685.1Z" fill="#502bfb" fill-opacity="0.22"/>
<path d="M57.9 630.5h0M51.2 619.9h0M47.5 616.2h0M53.4 620.6h0M50.0 609.0h0M72.1 612.7h0M47.1 602.2h0M48.4 604.6h0M57.1 609.2h0M69.0 608.4h0M62.5 610.4h0M47.0 602.6h0M56.9 608.9h0M69.9 604.7h0M60.1 611.8h0M55.9 601.1h0M43.6 609.9h0M67.2 607.1h0M66.7 611.0h0M69.0 617.0h0M51.5 601.5h0M61.8 608.6h0M59.3 600.9h0M47.2 606.4h0M60.1 613.8h0M66.0 600.2h0M70.8 612.6h0M62.9 602.4h0M64.9 605.3h0M43.0 602.9h0M47.2 602.5h0M62.1 609.2h0M64.3 610.1h0M54.7 604.5h0M67.7 610.3h0M53.3 612.8h0M64.7 606.4h0M61.1 598.3h0M68.5 613.4h0M60.6 599.5h0M60.3 599.1h0M60.9 607.8h0M51.3 614.2h0M55.4 611.9h0M58.2 608.4h0M69.9 605.0h0M66.0 604.6h0M61.4 607.1h0M46.0 610.8h0M63.9 599.6h0M63.0 609.6h0M72.0 613.3h0M56.6 600.9h0M63.3 608.4h0M69.4 599.5h0M63.1 601.7h0M43.4 601.4h0M66.9 606.2h0M50.6 599.4h0M51.0 614.2h0M48.8 602.8h0M68.2 603.4h0M57.4 605.9h0M69.2 614.5h0M50.7 610.2h0M58.9 602.9h0M52.3 603.8h0M58.0 599.2h0M41.5 610.1h0M51.5 603.6h0M67.7 612.7h0M66.2 602.9h0M48.8 603.5h0M68.6 601.8h0M67.4 612.6h0M68.1 599.2h0M53.4 607.5h0M63.3 608.7h0M55.3 600.4h0M62.2 610.4h0M53.4 610.1h0M52.6 615.0h0M60.6 603.9h0M57.3 600.9h0M61.3 606.2h0M46.8 604.6h0M54.7 602.9h0M60.0 603.6h0M62.2 603.2h0M66.7 605.8h0M50.3 601.3h0M63.1 618.7h0M56.7 604.5h0M69.7 613.7h0M45.4 602.9h0M68.2 608.2h0M46.4 601.4h0M69.5 601.2h0M68.7 599.2h0M63.3 610.7h0M66.5 604.5h0M43.2 605.9h0M60.9 605.6h0M50.4 612.4h0M68.1 615.6h0M60.4 610.3h0M54.7 605.1h0M64.7 604.0h0M65.1 600.0h0M64.6 617.5h0M58.2 601.1h0M70.8 610.7h0M69.1 600.9h0M66.8 598.7h0M63.8 608.2h0M56.4 608.0h0M54.2 600.4h0M65.9 604.6h0M60.3 601.7h0M62.1 610.3h0M66.7 599.5h0M71.4 612.4h0M69.2 607.9h0M52.9 602.9h0M51.0 608.7h0M59.3 615.9h0M61.1 611.7h0M69.0 612.6h0M62.5 610.5h0M56.8 611.4h0M65.0 600.6h0M58.5 603.5h0M58.5 614.4h0M55.2 605.5h0M64.9 598.3h0M54.4 604.2h0M68.4 609.0h0M65.7 603.4h0M66.9 606.2h0M69.7 611.3h0M42.5 605.2h0M62.6 602.7h0M66.5 606.4h0M48.8 606.6h0M65.2 618.3h0M61.7 601.9h0M54.7 608.9h0M59.4 613.9h0M60.5 598.6h0M59.6 599.3h0M60.8 601.1h0M50.6 601.0h0M55.3 608.3h0M65.3 603.4h0M53.5 604.4h0M62.6 612.0h0M58.4 616.3h0M61.5 608.9h0M66.3 610.9h0M60.4 599.1h0M50.4 605.0h0M62.3 610.8h0M57.6 601.2h0M42.5 602.2h0M47.6 601.7h0M58.1 608.6h0M49.6 613.2h0M69.8 603.8h0M65.2 602.6h0M41.6 604.5h0M67.8 614.8h0M66.6 601.4h0M68.3 608.8h0M50.0 599.5h0M62.4 603.3h0M70.0 609.0h0M46.8 600.8h0M67.8 615.2h0M67.2 606.9h0M55.3 601.7h0M66.2 618.1h0M70.1 602.4h0M51.8 614.4h0M42.9 609.3h0M61.5 599.3h0M57.2 602.4h0M69.2 606.9h0M61.4 610.9h0M57.7 606.6h0M53.4 602.9h0M64.5 600.8h0M66.3 609.1h0M54.5 601.3h0M54.4 604.0h0M64.3 601.9h0M66.0 600.3h0M49.9 611.7h0M58.3 602.5h0M47.9 611.5h0M68.5 605.8h0M59.7 601.9h0M45.4 602.1h0M64.6 606.8h0M64.1 603.3h0M51.9 602.9h0M53.5 599.7h0M65.1 599.6h0M52.1 605.9h0M53.2 605.0h0M68.4 607.9h0M45.5 605.4h0M66.8 601.2h0M62.9 616.5h0M47.5 610.3h0M67.8 606.1h0M65.7 613.6h0M66.2 609.2h0M55.9 604.5h0M71.4 615.4h0M74.3 619.9h0M73.1 618.7h0M71.4 622.8h0M73.9 618.5h0M69.7 615.4h0M68.9 629.1h0M69.9 615.4h0M71.6 623.4h0M72.4 615.9h0M71.4 620.5h0M70.0 623.6h0M74.0 618.6h0M74.7 618.2h0M73.2 619.6h0M73.5 617.2h0M74.4 621.3h0M73.2 621.5h0M74.3 625.6h0M72.4 620.2h0M74.8 621.1h0M74.4 618.5h0M76.0 623.2h0M74.4 616.7h0M74.8 619.4h0M73.8 626.5h0M71.1 615.6h0M69.0 627.9h0M91.7 585.5h0M87.4 590.0h0M88.3 586.3h0M94.5 580.5h0M96.7 593.8h0M90.7 585.4h0M103.2 588.3h0M95.0 584.6h0M97.2 577.3h0M95.8 588.1h0M92.5 596.4h0M93.1 586.6h0M100.4 576.7h0M90.7 593.4h0M91.0 597.5h0M96.4 589.0h0M100.0 576.0h0M93.1 590.6h0M97.9 575.7h0M94.0 577.7h0M93.7 591.2h0M96.2 592.1h0M94.6 583.9h0M91.7 592.4h0M93.8 599.8h0M90.3 587.0h0M94.9 597.4h0M87.3 597.3h0M89.1 592.7h0M89.4 593.9h0M91.5 598.5h0M96.7 593.4h0M91.7 583.2h0M94.2 585.8h0M92.8 581.5h0M94.0 581.8h0M90.5 587.2h0M89.7 588.4h0M101.2 588.5h0M98.0 575.9h0M90.0 582.0h0M93.4 592.4h0M92.4 580.9h0M95.3 590.0h0M91.3 596.2h0M93.1 593.8h0M101.5 578.3h0M101.5 575.8h0M87.0 597.2h0M91.0 579.9h0M102.6 588.0h0M92.6 590.5h0M96.1 596.4h0M94.5 576.7h0M95.2 578.6h0M92.5 578.1h0M94.9 577.0h0M95.2 576.9h0M90.6 592.0h0M92.3 584.7h0M101.5 588.5h0M89.8 593.4h0M101.4 576.2h0M94.0 594.3h0M92.1 580.0h0M91.6 579.8h0M90.5 588.3h0M88.7 591.8h0M90.3 589.0h0M102.3 578.3h0M90.7 587.7h0M90.2 595.9h0M95.9 576.4h0M120.8 586.1h0M118.5 591.1h0M108.2 581.7h0M114.3 591.3h0M106.8 575.8h0" stroke="#d3d3d3" stroke-width="0.8" stroke-linecap="round" fill="none"/>
<path d="M42.0 613.6h0M40.9 620.6h0M44.6 618.8h0M43.3 632.7h0M54.5 625.5h0M42.1 620.7h0M62.5 632.9h0M48.6 621.6h0M40.4 616.7h0M59.5 627.6h0M43.9 618.3h0M50.5 623.6h0M44.7 617.7h0M60.7 632.1h0M48.7 628.9h0M57.2 633.7h0M50.9 624.3h0M41.5 617.6h0M46.3 620.9h0M49.9 626.8h0M48.2 618.8h0M36.9 616.7h0M50.0 622.0h0M48.2 617.8h0M52.9 620.0h0M48.2 630.2h0M46.7 621.4h0M44.8 623.7h0M66.5 631.4h0M47.4 625.1h0M34.8 621.4h0M43.4 614.4h0M48.7 616.6h0M63.8 628.8h0M50.5 621.6h0M50.1 621.4h0M42.1 622.2h0M55.5 633.8h0M54.3 621.4h0M49.2 618.6h0M64.7 630.4h0M51.8 626.7h0M53.3 626.0h0M52.5 620.5h0M64.6 631.5h0M59.9 627.1h0M38.3 625.3h0M63.5 627.7h0M36.8 615.3h0M57.6 627.7h0M56.1 626.4h0M41.2 613.7h0M32.5 618.2h0M40.4 618.8h0M40.8 616.1h0M35.1 621.9h0M63.3 627.9h0M60.3 603.0h0M51.9 612.1h0M55.6 602.2h0M60.1 605.5h0M63.4 601.4h0M45.2 606.7h0M40.2 609.9h0M59.6 607.6h0M50.4 600.3h0M45.6 610.9h0M57.9 616.5h0M45.0 604.2h0M65.1 615.9h0M54.2 606.3h0M56.0 609.9h0M46.0 609.2h0M53.1 617.3h0M65.7 611.9h0M64.4 612.2h0M67.7 602.0h0M45.0 609.0h0M49.9 616.2h0M59.7 617.4h0M63.6 598.6h0M44.2 609.2h0M40.1 602.9h0M48.8 609.3h0M48.5 613.0h0M55.2 602.0h0M62.4 619.1h0M68.3 609.4h0M63.1 615.8h0M52.1 610.3h0M62.3 607.3h0M71.8 614.1h0M53.7 605.7h0M56.8 617.6h0M43.7 604.3h0M65.6 611.5h0M64.8 604.8h0M54.9 615.4h0M65.6 613.2h0M48.3 613.8h0M43.7 606.8h0M50.1 603.7h0M61.5 617.8h0M46.4 600.8h0M67.9 609.1h0M38.6 608.9h0M53.6 609.5h0M52.1 616.1h0M65.5 610.3h0M51.2 604.5h0M56.1 612.5h0M68.9 610.4h0M58.7 603.7h0M68.1 615.1h0M54.2 613.5h0M43.2 610.7h0M69.2 600.3h0M61.9 604.2h0M44.1 604.9h0M62.3 619.2h0M43.9 607.8h0M61.9 610.3h0M64.0 606.4h0M47.7 610.9h0M46.3 612.4h0M59.2 614.2h0M50.2 602.9h0M43.7 604.0h0M41.9 604.3h0M49.6 605.5h0M57.9 611.3h0M60.8 614.0h0M62.8 606.4h0M50.0 616.2h0M58.5 601.5h0M68.1 614.8h0M57.5 614.4h0M64.9 603.2h0M58.9 600.0h0M39.7 607.9h0M52.1 607.3h0M58.2 610.1h0M39.1 605.4h0M58.9 618.9h0M67.6 609.3h0M65.1 606.8h0M47.6 612.9h0M56.7 610.4h0M65.8 607.2h0M46.8 605.9h0M45.4 602.6h0M60.6 614.3h0M68.0 616.6h0M64.1 598.4h0M59.8 613.8h0M58.4 609.7h0M59.5 614.4h0M55.4 614.1h0M39.2 608.4h0M42.7 609.7h0M60.0 613.7h0M62.4 609.9h0M46.2 605.0h0M51.1 600.4h0M49.8 610.9h0M47.4 611.2h0M66.9 610.7h0M45.4 608.9h0M60.5 613.1h0M50.9 609.0h0M58.1 614.9h0M56.5 606.6h0M48.0 602.8h0M39.1 604.7h0M64.5 603.7h0M56.4 605.0h0M69.0 603.5h0M52.7 612.7h0M44.4 601.5h0M41.5 605.7h0M60.7 609.0h0M52.7 608.9h0M51.6 612.3h0M68.8 608.6h0M63.0 603.2h0M46.5 603.7h0M57.2 618.5h0M63.2 617.6h0M51.3 614.6h0M70.8 613.5h0M42.3 602.9h0M62.1 617.1h0M39.8 605.7h0M40.1 605.6h0M60.6 618.0h0M45.6 604.2h0M48.5 604.4h0M69.5 607.3h0M48.0 614.1h0M66.0 608.2h0M52.7 615.6h0M63.9 615.3h0M56.5 611.6h0M46.6 599.9h0M52.8 605.9h0M57.2 616.7h0M45.2 601.0h0M66.4 616.8h0M42.3 606.6h0M51.0 604.8h0M64.0 611.3h0M53.1 610.7h0M55.3 613.4h0M56.5 616.5h0M59.5 613.6h0M48.1 604.2h0M62.1 608.0h0M58.0 607.0h0M56.7 609.9h0M70.2 608.5h0M50.2 614.5h0M61.6 608.8h0M59.6 618.1h0M71.0 614.6h0M69.6 603.0h0M51.3 599.3h0M71.0 610.7h0M68.7 600.0h0M60.0 606.2h0M55.8 604.1h0M66.3 606.3h0M66.9 615.3h0M42.4 611.7h0M41.2 611.3h0M46.1 606.0h0M48.6 602.0h0M42.2 603.0h0M49.6 614.6h0M51.4 600.0h0M56.2 614.0h0M62.0 605.7h0M55.6 617.5h0M51.9 605.7h0M49.6 615.8h0M39.1 608.3h0M47.6 606.5h0M60.3 609.3h0M56.8 599.0h0M62.6 614.2h0M51.3 613.3h0M53.4 609.1h0M52.2 601.4h0M69.0 613.7h0M44.6 603.0h0M45.0 606.1h0M42.6 605.1h0M57.5 609.1h0M45.6 601.6h0M43.7 603.2h0M69.6 608.9h0M52.8 607.6h0M46.9 606.1h0M59.1 600.0h0M66.9 615.7h0M63.8 600.1h0M65.8 617.1h0M58.5 610.0h0M49.9 603.4h0M47.1 606.0h0M56.6 614.9h0M71.9 622.4h0M75.1 631.9h0M77.0 629.8h0M70.7 620.4h0M69.0 614.1h0M66.5 627.9h0M75.9 622.4h0M75.4 624.2h0M72.4 621.0h0M70.7 625.9h0M77.5 628.5h0M76.4 624.0h0M77.4 626.0h0M73.9 616.0h0M73.7 624.9h0M70.3 616.8h0M70.2 626.3h0M71.2 614.9h0M71.4 628.2h0M72.5 632.8h0M74.5 625.6h0M71.7 630.9h0M73.3 623.3h0M71.5 631.0h0M70.8 622.5h0M71.6 630.6h0M72.4 616.8h0M70.4 616.3h0M78.8 631.1h0M69.7 631.7h0M73.3 618.8h0M77.2 629.4h0M69.0 629.5h0M73.5 631.8h0M73.8 623.9h0M66.8 629.9h0M74.1 625.3h0M78.4 628.9h0M71.2 621.2h0M78.3 629.2h0M70.6 632.3h0M73.6 625.3h0M77.1 630.0h0M66.0 628.1h0M75.3 626.9h0M73.0 631.8h0M73.7 619.9h0M72.0 628.1h0M71.6 622.6h0M77.8 626.3h0M71.8 616.8h0M72.6 618.7h0M71.1 619.7h0M77.0 629.1h0M70.9 620.1h0M72.1 622.2h0M90.2 584.0h0M95.0 588.7h0M93.0 595.3h0M90.5 588.6h0M95.9 576.6h0M101.6 578.1h0M97.0 588.5h0M93.2 598.4h0M88.6 590.6h0M95.2 576.7h0M90.9 581.1h0M93.2 593.2h0M96.8 588.2h0M99.1 578.6h0M90.0 592.7h0M95.4 588.4h0M103.5 576.7h0M92.4 578.1h0M88.3 594.9h0M90.3 594.9h0M93.6 582.2h0M94.1 579.4h0M89.6 587.0h0M89.3 593.2h0M92.0 598.1h0M89.4 584.7h0M92.5 586.9h0M93.7 596.6h0M94.9 591.9h0M95.4 586.3h0M96.2 595.7h0M94.1 580.6h0M92.3 591.7h0M94.8 599.9h0M93.1 581.8h0M89.0 590.1h0M91.2 582.0h0M90.1 586.6h0M94.1 599.8h0M90.8 594.4h0M91.6 582.8h0M91.5 599.0h0M93.9 579.4h0M101.5 578.0h0M89.7 594.2h0M94.5 587.2h0M97.1 578.6h0M95.1 584.6h0M96.8 578.6h0M92.2 580.3h0M88.3 594.9h0M95.3 584.4h0M88.5 593.5h0M97.1 595.0h0M93.0 577.7h0M93.2 584.1h0M88.2 592.0h0M95.1 592.3h0M90.9 597.8h0M95.5 598.4h0M90.2 586.5h0M87.7 596.2h0M95.1 596.5h0M96.8 577.4h0M94.5 584.0h0M88.6 596.9h0M88.6 587.9h0M92.3 579.3h0M91.4 589.3h0M99.6 576.8h0M90.9 591.4h0M89.3 595.1h0M96.6 595.5h0M90.5 589.1h0M91.8 582.5h0M93.3 593.7h0M90.7 593.3h0M91.5 585.4h0M98.6 576.0h0M89.3 586.2h0M91.3 593.0h0M94.6 593.0h0M90.2 586.3h0M93.4 578.6h0M96.9 595.3h0M91.7 582.2h0M92.5 586.3h0M96.0 595.1h0M91.4 591.4h0M100.4 577.4h0M138.4 592.4h0M132.5 591.8h0M133.3 597.4h0M121.8 594.6h0M129.3 591.7h0M121.6 594.4h0M119.2 593.2h0M120.5 598.3h0M116.2 586.7h0M120.9 598.9h0M128.8 591.6h0M113.8 583.3h0M116.4 594.3h0M118.4 584.5h0M108.3 583.5h0M133.2 590.8h0M119.8 600.2h0M117.7 598.6h0M122.2 599.8h0M115.3 587.9h0M113.4 589.4h0M117.9 593.9h0M117.8 584.9h0M119.5 601.8h0M105.7 581.4h0M137.6 593.6h0M109.4 584.6h0M137.6 592.0h0M119.5 589.6h0M119.7 597.1h0M130.9 591.6h0M120.6 593.9h0M121.2 590.2h0M106.5 576.7h0M121.8 596.2h0M107.5 581.9h0M120.7 600.1h0M111.3 587.1h0M139.2 593.1h0M125.0 587.5h0M119.5 596.2h0M124.1 595.7h0M121.6 598.3h0M113.0 592.7h0M113.6 582.4h0M124.0 589.5h0M118.6 584.9h0M127.6 592.8h0M108.7 581.2h0M123.4 589.6h0M108.7 580.0h0M112.0 583.0h0M129.7 592.9h0M134.2 561.9h0M127.3 571.2h0M114.7 574.2h0M127.2 565.8h0" stroke="#ccc5d7" stroke-width="0.8" stroke-linecap="round" fill="none"/>
<path d="M55.3 623.4h0M43.3 617.9h0M46.4 623.5h0M41.7 613.1h0M56.2 640.3h0M45.3 635.5h0M45.4 626.1h0M58.7 635.1h0M55.3 626.5h0M38.2 618.0h0M56.9 625.7h0M45.3 631.7h0M45.5 623.0h0M43.8 620.5h0M41.7 639.2h0M58.0 624.2h0M39.5 614.4h0M37.7 622.7h0M64.5 628.8h0M37.4 616.2h0M61.6 632.4h0M42.8 623.3h0M47.4 615.6h0M39.7 613.2h0M45.2 638.1h0M46.5 624.3h0M45.7 618.7h0M51.6 620.4h0M45.3 620.0h0M53.1 626.3h0M46.1 617.0h0M48.0 628.1h0M34.4 622.0h0M49.2 627.7h0M45.4 634.2h0M48.1 623.7h0M32.3 626.7h0M48.7 636.9h0M48.0 620.1h0M57.2 625.3h0M47.5 635.9h0M50.7 620.9h0M50.7 625.2h0M43.4 625.4h0M54.5 628.1h0M56.4 635.4h0M46.2 633.9h0M41.0 617.6h0M63.4 630.7h0M56.5 625.3h0M57.4 626.8h0M55.9 632.7h0M57.6 634.8h0M47.5 626.0h0M57.1 629.0h0M53.7 631.7h0M42.0 635.3h0M64.5 629.8h0M37.2 617.3h0M50.1 619.2h0M42.9 617.1h0M43.1 617.8h0M53.4 622.7h0M53.2 620.5h0M50.9 630.0h0M61.7 629.7h0M49.3 624.4h0M62.3 637.7h0M36.1 620.9h0M55.6 625.9h0M57.2 638.3h0M45.3 619.8h0M51.1 626.7h0M46.4 619.3h0M44.8 619.3h0M62.5 637.0h0M49.7 631.6h0M52.5 635.9h0M52.0 632.0h0M33.1 618.9h0M56.2 625.4h0M38.0 622.1h0M34.3 622.4h0M43.0 631.2h0M46.8 625.6h0M64.8 631.9h0M50.6 627.9h0M54.3 641.3h0M53.2 622.2h0M45.5 615.9h0M55.0 634.3h0M54.1 636.8h0M54.1 628.0h0M46.6 626.3h0M57.8 633.6h0M33.1 618.3h0M41.0 613.8h0M39.7 614.1h0M43.6 621.5h0M53.1 626.0h0M40.0 624.6h0M59.7 626.9h0M63.1 635.4h0M35.1 634.0h0M48.1 622.6h0M49.8 633.6h0M47.5 625.1h0M55.1 629.7h0M45.8 629.8h0M44.7 629.1h0M32.9 617.2h0M57.9 626.2h0M39.3 616.5h0M43.6 619.7h0M64.2 628.0h0M40.9 614.2h0M40.5 615.3h0M55.3 633.4h0M54.8 631.9h0M47.7 622.4h0M56.0 629.9h0M35.2 616.4h0M57.6 624.5h0M54.1 621.9h0M34.0 626.7h0M44.4 625.6h0M55.1 635.9h0M33.5 629.0h0M41.7 625.8h0M62.5 637.0h0M43.0 624.8h0M52.4 627.8h0M56.8 638.0h0M49.6 630.3h0M33.5 620.0h0M62.9 628.0h0M36.7 620.4h0M41.5 615.1h0M63.8 634.8h0M32.2 623.3h0M55.5 638.4h0M58.5 624.9h0M34.5 618.5h0M57.6 637.1h0M35.6 618.5h0M36.1 619.6h0M39.1 630.9h0M42.8 615.4h0M44.2 626.6h0M48.0 626.2h0M44.9 614.9h0M42.8 618.2h0M41.6 629.6h0M55.0 629.4h0M34.3 627.4h0M52.4 623.3h0M48.4 635.1h0M36.8 620.0h0M47.9 640.5h0M57.6 630.2h0M55.1 638.5h0M38.8 615.6h0M46.6 626.1h0M59.6 639.0h0M54.8 625.3h0M40.9 625.9h0M64.9 630.0h0M48.7 630.7h0M61.4 630.3h0M38.5 622.8h0M51.7 633.1h0M47.5 626.3h0M58.5 634.7h0M46.8 626.8h0M56.6 629.4h0M50.3 617.8h0M59.6 633.0h0M43.5 623.3h0M42.3 616.1h0M43.6 632.7h0M60.1 636.9h0M40.6 615.5h0M41.4 622.7h0M48.8 617.9h0M39.0 617.6h0M59.5 639.0h0M38.4 628.7h0M38.7 614.6h0M38.1 615.9h0M57.5 629.7h0M54.4 628.3h0M37.7 615.3h0M57.9 632.2h0M34.0 623.7h0M52.7 622.8h0M57.7 639.2h0M39.3 624.6h0M34.2 616.3h0M33.8 618.2h0M46.7 618.2h0M47.4 627.1h0M47.6 624.7h0M37.7 618.7h0M55.6 632.2h0M58.8 627.2h0M40.5 626.1h0M54.6 630.1h0M53.3 627.6h0M33.3 620.2h0M45.8 616.5h0M40.1 614.5h0M45.0 627.3h0M53.5 626.0h0M34.6 632.2h0M47.8 620.8h0M47.7 619.6h0M55.6 636.8h0M37.0 619.2h0M42.0 623.0h0M61.0 634.5h0M48.8 616.8h0M45.0 630.5h0M61.0 616.9h0M60.4 617.1h0M48.8 611.8h0M55.1 614.2h0M60.3 619.3h0M39.1 606.8h0M66.4 618.9h0M53.2 604.5h0M59.0 612.0h0M40.3 606.9h0M51.6 614.2h0M42.1 611.5h0M58.8 618.9h0M41.0 601.0h0M50.8 615.3h0M44.8 613.1h0M39.5 606.3h0M59.5 615.7h0M43.7 612.7h0M63.9 616.8h0M58.6 616.1h0M53.5 614.2h0M52.7 599.7h0M48.6 604.2h0M56.8 615.1h0M68.9 606.9h0M47.7 613.5h0M63.0 612.8h0M58.8 615.6h0M50.4 613.1h0M53.0 616.7h0M43.4 607.7h0M50.9 612.1h0M45.5 611.6h0M52.7 615.2h0M59.9 618.7h0M48.2 600.8h0M47.5 613.9h0M41.5 607.9h0M62.9 614.3h0M56.2 614.1h0M50.8 607.6h0M58.8 605.8h0M39.3 606.4h0M46.5 614.6h0M72.7 632.6h0M74.4 632.7h0M71.4 632.5h0M75.7 622.5h0M75.8 633.2h0M73.7 631.8h0M69.3 631.8h0M71.0 630.2h0M66.0 627.9h0M71.2 623.3h0M70.1 628.5h0M68.2 630.4h0M70.9 627.2h0M72.1 618.6h0M67.4 629.1h0M67.9 631.0h0M68.2 626.2h0M72.1 625.7h0M71.7 626.8h0M69.4 631.5h0M71.4 621.8h0M70.1 628.1h0M72.4 629.6h0M72.3 630.7h0M72.3 631.4h0M74.4 627.5h0M67.5 629.1h0M71.2 630.1h0M73.2 619.8h0M71.0 631.2h0M70.0 624.0h0M72.0 627.9h0M72.4 628.4h0M75.0 627.3h0M92.1 592.5h0M92.7 586.9h0M87.4 594.5h0M88.3 587.9h0M87.7 591.1h0M97.2 576.3h0M90.3 584.8h0M91.6 596.0h0M88.0 588.9h0M91.8 598.1h0M93.5 579.1h0M94.9 588.4h0M89.2 589.6h0M88.3 594.1h0M93.5 580.7h0M97.6 589.1h0M99.6 589.7h0M90.4 585.1h0M89.7 595.6h0M129.8 594.4h0M121.1 595.8h0M112.1 587.4h0M120.0 596.2h0M119.7 594.9h0M108.5 582.1h0M114.5 596.9h0M133.1 590.6h0M110.1 586.4h0M108.5 582.4h0M106.7 584.7h0M127.0 596.9h0M121.8 590.1h0M126.8 597.6h0M117.6 594.5h0M116.0 591.6h0M107.9 584.5h0M128.1 597.7h0M132.1 595.8h0M113.1 588.6h0M108.0 579.5h0M130.4 593.3h0M112.0 591.3h0M106.0 579.9h0M124.2 593.1h0M126.8 597.6h0M111.1 590.4h0M124.9 588.7h0M116.0 598.0h0M122.1 587.9h0M107.0 583.3h0M109.3 581.8h0M116.1 592.4h0M119.0 595.0h0M114.9 592.7h0M114.0 583.3h0M122.8 589.5h0M125.3 592.8h0M133.3 591.9h0M121.5 598.1h0M140.9 595.2h0M137.3 596.4h0M113.3 584.0h0M121.9 593.4h0M111.9 583.8h0M119.2 585.8h0M119.8 596.4h0M120.2 594.4h0M121.8 598.4h0M128.2 594.9h0M118.6 586.4h0M116.5 593.8h0M109.4 580.7h0M111.5 586.9h0M104.8 579.6h0M123.6 592.6h0M115.0 597.5h0M110.2 580.6h0M118.8 598.7h0M108.3 578.6h0M125.8 598.3h0M115.7 598.6h0M115.5 592.6h0M106.7 585.7h0M119.7 593.4h0M117.4 592.4h0M124.2 586.9h0M121.2 598.3h0M123.6 595.0h0M118.3 595.0h0M122.0 592.2h0M106.0 583.5h0M117.2 586.0h0M126.2 595.7h0M130.3 589.0h0M134.8 593.7h0M121.7 590.0h0M128.6 590.0h0M115.6 594.0h0M108.2 588.3h0M133.9 595.3h0M105.9 582.3h0M129.2 593.2h0M106.2 577.2h0M110.7 582.4h0M122.5 600.0h0M106.3 576.8h0M131.6 590.3h0M115.4 595.9h0M105.9 580.7h0M115.7 584.7h0M107.2 578.9h0M132.2 593.0h0M127.7 592.1h0M128.9 596.5h0M109.4 583.1h0M123.6 587.1h0M105.1 580.9h0M136.6 593.7h0M113.3 592.6h0M117.2 587.5h0M133.4 592.9h0M136.7 594.0h0M123.6 590.0h0M114.5 593.9h0M125.3 591.1h0M119.7 587.4h0M126.9 595.7h0M117.0 598.8h0M126.3 594.2h0M124.3 594.6h0M128.8 591.2h0M140.1 595.1h0M124.5 588.9h0M112.1 588.5h0M114.8 594.6h0M127.2 593.5h0M134.1 595.9h0M130.5 591.2h0M123.7 590.4h0M105.9 580.9h0M118.7 590.0h0M120.4 600.8h0M112.1 588.5h0M110.9 581.9h0M138.2 594.7h0M106.9 581.8h0M128.6 594.5h0M133.2 596.5h0M125.0 593.4h0M137.4 593.9h0M138.7 595.5h0M107.6 587.6h0M132.0 593.3h0M134.0 595.6h0M110.8 585.5h0M116.2 592.1h0M110.0 585.4h0M110.3 590.7h0M107.6 583.0h0M112.4 590.6h0M116.4 596.4h0M107.5 578.0h0M106.6 582.3h0M122.4 597.0h0M114.6 589.9h0M115.0 586.9h0M116.0 583.6h0M134.6 596.3h0M110.2 583.2h0M116.3 585.3h0M126.8 597.3h0M126.3 591.7h0M135.2 594.9h0M114.1 591.2h0M134.1 592.5h0M124.2 596.1h0M110.9 581.7h0M117.8 593.4h0M112.8 583.3h0M134.3 595.8h0M120.3 591.5h0M128.3 594.5h0M114.5 596.9h0M129.0 589.2h0M105.3 578.2h0M112.2 589.8h0M114.7 584.9h0M136.5 595.5h0M123.9 597.0h0M105.6 576.7h0M138.9 595.8h0M122.0 595.9h0M113.7 595.0h0M114.6 593.8h0M119.0 593.7h0M106.7 579.1h0M107.4 577.5h0M118.9 585.6h0M120.0 593.2h0M128.2 594.7h0M125.7 588.0h0M128.8 593.8h0M125.8 593.0h0M107.1 586.6h0M132.0 597.7h0M135.8 595.6h0M114.3 583.2h0M110.5 588.7h0M120.4 601.3h0M130.8 594.8h0M112.1 582.5h0M115.7 587.5h0M122.3 590.3h0M121.3 590.8h0M107.4 586.6h0M113.2 593.1h0M118.3 596.0h0M138.3 596.5h0M126.0 592.3h0M108.4 587.6h0M119.9 596.3h0M123.9 597.3h0M123.4 592.4h0M138.0 594.8h0M115.5 595.6h0M142.1 564.1h0M127.2 573.2h0M133.1 569.4h0M160.8 559.8h0M140.9 568.3h0M156.4 560.8h0M121.9 573.8h0M118.8 575.5h0M136.4 561.7h0M129.2 573.8h0M139.7 570.9h0M126.8 570.7h0M130.4 567.9h0M125.7 572.1h0M130.2 564.7h0M154.4 562.8h0M123.4 575.2h0M122.7 572.0h0M141.8 568.4h0M128.3 571.0h0M127.5 575.1h0M141.9 571.7h0M113.3 574.7h0M117.2 575.2h0M125.5 568.5h0M148.1 563.9h0M143.7 561.7h0M122.2 573.1h0M129.4 565.6h0M126.4 568.7h0M127.3 570.8h0M137.4 564.0h0M138.2 566.9h0M129.5 569.6h0M115.6 575.1h0M122.9 573.8h0M120.1 573.1h0M144.6 566.8h0M120.2 576.5h0M127.4 573.1h0M116.1 573.2h0M116.1 575.1h0M127.2 571.2h0M136.4 562.2h0M142.2 564.0h0M129.8 568.2h0M149.7 572.3h0M110.9 575.9h0M114.4 573.3h0M119.0 575.7h0M134.0 565.4h0M126.5 566.6h0M151.8 556.1h0M125.5 575.8h0M149.3 574.4h0M119.5 572.9h0M157.2 564.7h0M117.4 573.8h0M138.9 566.3h0M120.6 576.5h0M129.0 570.5h0M132.1 561.6h0M148.7 552.8h0M120.0 573.8h0M113.1 575.5h0M137.2 561.9h0M117.9 574.4h0M134.2 569.4h0M129.3 572.8h0M134.3 566.9h0M143.1 572.3h0" stroke="#c5b7db" stroke-width="0.8" stroke-linecap="round" fill="none"/>
<path d="M55.7 637.9h0M39.9 636.4h0M35.7 632.0h0M43.0 620.5h0M35.7 619.4h0M40.6 636.0h0M36.6 638.7h0M40.8 627.8h0M37.8 636.1h0M56.2 634.2h0M51.6 636.5h0M46.5 631.4h0M34.6 618.1h0M48.2 635.3h0M56.2 636.8h0M34.2 620.6h0M35.7 629.7h0M33.3 629.3h0M56.3 634.7h0M49.8 630.9h0M64.8 633.1h0M39.7 621.2h0M60.1 637.2h0M50.6 638.5h0M49.8 636.8h0M61.6 639.2h0M32.9 618.7h0M49.7 636.8h0M42.4 623.4h0M44.6 627.0h0M59.1 640.8h0M58.3 630.7h0M35.7 623.9h0M45.3 622.5h0M43.4 637.4h0M58.4 640.6h0M53.3 631.8h0M35.6 631.2h0M54.7 641.0h0M37.7 628.7h0M50.4 637.6h0M37.2 634.1h0M42.4 623.6h0M58.1 638.7h0M38.4 614.0h0M47.8 634.2h0M58.2 636.2h0M36.9 637.1h0M45.3 619.7h0M54.4 634.1h0M41.8 618.5h0M45.5 632.6h0M39.8 620.9h0M48.2 625.3h0M61.2 633.6h0M37.1 626.1h0M51.6 640.9h0M44.4 630.6h0M39.2 638.3h0M55.2 630.7h0M50.3 618.8h0M34.0 621.0h0M52.2 640.9h0M38.3 619.4h0M42.7 623.4h0M36.4 638.9h0M55.9 625.4h0M37.5 627.8h0M53.9 628.2h0M43.8 624.4h0M48.1 635.0h0M41.8 630.9h0M53.3 637.5h0M41.1 623.7h0M41.9 624.9h0M63.2 634.0h0M37.4 621.3h0M44.0 621.2h0M32.5 618.3h0M44.5 640.9h0M60.0 628.9h0M58.9 635.2h0M33.1 633.8h0M49.1 632.8h0M57.8 641.4h0M35.0 632.8h0M51.8 639.6h0M37.7 624.9h0M61.5 628.5h0M53.8 638.6h0M60.6 625.3h0M37.3 628.5h0M51.3 626.8h0M33.6 618.4h0M56.0 623.2h0M62.2 638.3h0M36.8 622.5h0M36.2 636.2h0M44.8 620.4h0M39.8 637.3h0M56.5 642.0h0M37.8 625.7h0M44.8 621.9h0M43.8 639.9h0M47.2 628.7h0M36.9 633.1h0M64.6 633.5h0M62.7 632.7h0M65.7 629.9h0M44.4 633.3h0M53.5 636.5h0M43.2 633.8h0M45.3 640.4h0M53.3 638.0h0M41.0 627.7h0M39.3 635.4h0M32.8 627.4h0M36.2 638.9h0M49.6 622.0h0M41.6 631.7h0M53.7 635.3h0M42.2 629.1h0M33.9 618.5h0M43.1 636.6h0M35.7 623.8h0M36.0 627.6h0M53.1 625.1h0M46.9 637.4h0M63.2 627.7h0M63.0 632.7h0M33.8 620.3h0M42.7 637.8h0M64.6 633.9h0M39.2 637.8h0M49.5 633.6h0M37.6 628.1h0M33.5 632.5h0M48.6 618.9h0M34.2 618.1h0M39.8 628.9h0M45.3 638.0h0M35.5 625.2h0M49.6 629.6h0M45.7 628.9h0M44.2 632.1h0M35.3 630.1h0M54.7 642.2h0M38.8 635.5h0M49.2 631.2h0M33.4 624.3h0M38.7 620.2h0M37.0 624.3h0M40.8 639.2h0M39.6 623.7h0M47.6 621.0h0M39.4 640.5h0M38.0 627.5h0M45.2 640.7h0M58.3 634.2h0M54.5 628.5h0M32.8 623.3h0M44.8 641.0h0M49.9 639.6h0M54.2 638.8h0M50.3 641.6h0M48.4 624.1h0M56.6 635.1h0M51.7 626.7h0M48.6 630.5h0M42.5 623.5h0M45.2 633.4h0M44.4 625.3h0M40.4 630.3h0M44.2 633.9h0M43.2 639.4h0M38.1 633.7h0M49.0 639.4h0M54.4 630.8h0M48.7 628.1h0M44.2 629.0h0M55.6 631.7h0M55.2 637.8h0M62.3 632.5h0M55.8 628.4h0M55.7 629.5h0M35.6 633.6h0M34.3 623.9h0M43.4 628.2h0M63.5 636.0h0M32.4 628.4h0M46.5 642.7h0M42.2 632.5h0M50.5 631.4h0M46.3 634.6h0M52.9 626.2h0M58.2 629.7h0M58.5 628.7h0M38.1 630.6h0M55.7 636.2h0M36.2 630.0h0M44.2 632.3h0M51.4 633.8h0M42.7 641.8h0M37.9 630.7h0M61.7 635.6h0M45.3 637.9h0M46.5 630.4h0M33.9 619.0h0M32.2 620.8h0M32.9 616.8h0M41.4 622.1h0M48.6 639.4h0M37.3 630.1h0M54.8 636.0h0M47.0 636.6h0M37.1 623.7h0M39.5 633.1h0M58.8 638.0h0M32.6 632.5h0M32.8 635.4h0M34.9 620.0h0M45.0 617.0h0M41.6 638.9h0M35.1 628.6h0M58.0 634.8h0M55.6 641.7h0M41.1 638.5h0M61.3 635.0h0M42.2 633.1h0M55.1 628.8h0M37.9 626.4h0M51.8 639.0h0M55.9 633.1h0M32.7 620.8h0M50.8 622.5h0M57.0 637.9h0M43.6 634.4h0M40.8 627.6h0M40.1 633.0h0M32.4 624.7h0M40.1 625.1h0M35.7 623.5h0M49.0 637.3h0M47.7 642.8h0M56.3 629.5h0M48.0 627.8h0M47.5 620.0h0M38.4 618.1h0M36.1 625.1h0M45.5 622.7h0M42.8 631.3h0M38.8 613.5h0M48.5 641.7h0M38.0 635.3h0M46.1 630.6h0M44.4 634.6h0M47.2 629.3h0M41.0 610.9h0M64.9 618.7h0M57.8 616.9h0M74.6 632.2h0M71.1 630.7h0M75.9 627.1h0M67.6 627.4h0M72.6 629.0h0M114.9 590.4h0M116.4 588.5h0M108.0 585.7h0M124.3 597.0h0M121.2 590.5h0M123.5 587.7h0M108.6 583.7h0M141.2 595.3h0M116.5 593.7h0M123.3 598.1h0M120.2 588.9h0M135.5 594.5h0M118.2 601.9h0M121.2 600.2h0M108.8 587.7h0M115.2 593.5h0M107.5 584.4h0M117.3 587.1h0M132.7 596.8h0M118.6 588.0h0M115.3 585.8h0M125.0 587.5h0M125.2 592.4h0M108.3 584.1h0M134.4 592.0h0M125.9 592.3h0M119.9 591.8h0M121.4 586.6h0M125.3 595.7h0M108.3 580.2h0M119.1 589.7h0M108.6 581.6h0M116.5 601.2h0M108.4 588.8h0M124.5 590.7h0M120.8 589.3h0M121.0 595.6h0M112.9 587.1h0M126.9 590.3h0M108.9 582.4h0M107.5 582.5h0M139.8 594.8h0M135.7 595.4h0M109.9 584.1h0M116.6 599.7h0M112.7 586.3h0M127.6 593.8h0M116.1 584.0h0M128.4 589.3h0M108.8 588.7h0M116.3 591.4h0M114.9 586.7h0M106.9 585.7h0M134.4 596.6h0M130.2 596.9h0M122.2 590.3h0M106.8 583.5h0M130.2 596.4h0M131.4 591.7h0M120.2 588.5h0M140.2 594.1h0M131.6 590.4h0M124.1 595.8h0M132.2 596.2h0M116.0 595.5h0M124.5 588.9h0M118.2 595.4h0M119.7 593.0h0M141.1 594.3h0M130.9 592.5h0M108.0 579.5h0M114.4 595.0h0M111.7 593.3h0M133.5 590.6h0M105.1 580.7h0M131.5 593.6h0M105.5 577.7h0M135.9 593.2h0M131.3 589.9h0M120.4 590.5h0M130.0 596.2h0M112.9 582.6h0M159.0 553.9h0M142.6 572.5h0M158.8 561.3h0M131.7 575.3h0M147.2 577.0h0M160.5 564.4h0M142.1 562.8h0M151.0 569.8h0M141.7 573.7h0M154.1 565.6h0M139.5 558.2h0M114.5 574.0h0M127.8 573.1h0M141.5 563.7h0M119.7 571.5h0M158.4 555.4h0M121.5 570.5h0M135.7 561.4h0M111.5 574.5h0M163.2 563.4h0M150.8 555.1h0M134.5 573.9h0M151.6 566.2h0M118.9 575.5h0M127.9 573.6h0M145.1 571.1h0M151.2 568.0h0M138.8 562.0h0M144.0 562.6h0M145.2 560.5h0M149.4 577.2h0M148.2 566.7h0M140.9 571.0h0M155.2 558.4h0M139.7 567.8h0M151.9 565.2h0M163.7 561.3h0M144.8 559.0h0M155.7 571.9h0M145.4 565.3h0M139.8 564.1h0M125.6 574.1h0M124.2 572.7h0M129.8 570.5h0M131.9 564.8h0M121.7 575.2h0M139.7 556.4h0M165.7 556.2h0M144.9 555.8h0M142.0 568.4h0M141.5 554.3h0M151.8 558.4h0M137.7 561.9h0M136.5 571.6h0M144.8 564.7h0M157.0 553.5h0M137.6 562.7h0M150.9 565.0h0M158.8 554.6h0M141.9 573.5h0M138.3 570.0h0M148.9 553.4h0M139.7 574.5h0M152.2 575.5h0M145.2 565.0h0M153.2 572.1h0M139.6 568.3h0M152.0 564.0h0M136.8 565.0h0M158.6 566.0h0M164.8 562.6h0M144.3 573.2h0M132.6 573.8h0M153.1 554.3h0M140.5 570.9h0M116.6 573.4h0M146.4 563.9h0M156.7 553.1h0M152.7 556.7h0M138.4 569.6h0M145.0 558.7h0M146.5 554.9h0M132.6 561.0h0M150.6 571.5h0M133.4 563.6h0M159.4 560.0h0M154.5 553.1h0M157.4 552.6h0M145.2 555.7h0M137.7 559.5h0M162.5 555.9h0M129.8 564.4h0M152.3 563.4h0M136.4 564.0h0M153.0 562.6h0M152.7 564.7h0M138.1 566.0h0M119.1 574.5h0M147.4 553.7h0M154.8 565.2h0M155.1 573.6h0M142.7 559.0h0M140.5 566.0h0M150.9 559.1h0M137.5 569.0h0M132.9 572.4h0M109.2 575.7h0M141.2 564.9h0M163.1 559.4h0M153.3 575.4h0M144.3 575.5h0M132.2 561.5h0M127.5 570.7h0M146.1 553.8h0M148.4 557.7h0M148.4 574.7h0M164.3 555.7h0M148.4 560.4h0M147.0 567.6h0M134.3 574.0h0M127.3 569.4h0M138.8 567.3h0M120.4 572.1h0M148.6 559.3h0M149.1 566.1h0M141.0 554.4h0M137.4 565.7h0M137.7 566.7h0M153.8 574.2h0M155.9 558.5h0M170.8 561.9h0M143.6 569.7h0M157.9 563.5h0M128.1 570.6h0M153.0 572.1h0M133.1 565.2h0M139.5 573.8h0M149.1 578.6h0M126.7 569.6h0M141.9 568.2h0M129.6 567.0h0M144.5 559.3h0M133.0 564.5h0M146.0 557.6h0M128.0 570.3h0M151.2 557.9h0M145.1 573.3h0M119.1 576.1h0M132.7 563.8h0M123.7 572.3h0M134.6 572.9h0M166.2 553.3h0M143.1 575.4h0M161.8 552.9h0M144.3 554.4h0M152.1 565.0h0M116.8 576.2h0M125.0 574.9h0M147.2 557.6h0M155.8 566.6h0M142.9 568.9h0M164.3 558.7h0M146.4 563.2h0M131.7 569.6h0M149.4 578.3h0M147.6 570.6h0M140.2 564.4h0M142.9 562.9h0M124.1 570.6h0M138.1 566.9h0M135.4 569.0h0M132.3 574.7h0M156.7 553.2h0M163.0 552.6h0M149.7 566.8h0M130.8 566.7h0M135.7 563.2h0M157.1 551.9h0M157.6 560.8h0M146.9 568.6h0M171.1 558.1h0M158.0 569.9h0M131.9 566.3h0M157.7 563.1h0M115.7 573.9h0M132.0 561.7h0M122.2 570.4h0M139.0 562.9h0M134.0 562.6h0M148.8 563.1h0M137.0 569.9h0M144.2 570.0h0M144.0 575.5h0M154.0 552.9h0M145.8 568.3h0M136.7 574.5h0M126.0 576.2h0M161.6 565.2h0M126.4 567.4h0M141.3 559.9h0M141.3 570.3h0M140.9 560.4h0M142.3 567.8h0M139.0 569.7h0M123.8 575.7h0M125.9 571.0h0M156.8 563.6h0M150.3 557.6h0M119.1 573.6h0M145.9 557.2h0M128.5 570.9h0M143.2 558.9h0M155.3 573.5h0M156.1 572.5h0M129.1 569.7h0M142.8 560.7h0M138.7 570.2h0M108.3 575.7h0M149.4 570.0h0M119.2 574.0h0M139.3 555.8h0M131.1 569.7h0M142.4 562.2h0M134.7 573.6h0M146.8 578.1h0M140.7 564.9h0M139.8 565.1h0M151.5 576.2h0M127.5 573.0h0M143.3 560.5h0M141.7 560.0h0M119.4 574.0h0M117.3 575.1h0M130.6 566.3h0M154.2 565.1h0M129.7 574.2h0M134.2 574.0h0M137.3 573.0h0M131.2 572.6h0M140.2 567.2h0M133.3 564.9h0M114.3 574.9h0M143.1 567.3h0M145.3 573.5h0M137.8 568.1h0M139.7 561.5h0M150.5 578.0h0M152.7 560.3h0M137.1 558.2h0M139.3 562.4h0M147.2 572.0h0M132.4 574.2h0M149.2 559.5h0M129.3 573.9h0M150.1 563.0h0M129.1 571.6h0M137.0 557.0h0M152.4 566.3h0M152.8 574.3h0M141.2 563.6h0M139.7 573.8h0M152.3 572.0h0M140.7 555.6h0M131.2 563.7h0M151.5 556.0h0M112.3 576.2h0M129.3 576.0h0M148.7 558.0h0M143.7 561.0h0M153.6 552.9h0M157.8 569.4h0M139.1 565.0h0M139.3 570.6h0M128.6 565.7h0M146.3 564.9h0M147.3 573.2h0M145.5 573.2h0M126.8 567.5h0M142.3 572.1h0M131.0 564.1h0M119.0 574.4h0M142.0 555.8h0M142.5 571.2h0M160.6 561.9h0M139.3 565.7h0M112.5 574.1h0M131.5 571.5h0M140.7 564.6h0M158.4 560.5h0M152.5 571.6h0M140.5 555.2h0M139.4 556.0h0M157.0 560.2h0M140.4 572.1h0M151.7 571.3h0M150.2 577.0h0M129.2 569.5h0M141.1 573.6h0M112.1 575.5h0" stroke="#bea8df" stroke-width="0.8" stroke-linecap="round" fill="none"/>
<path d="M36.4 636.0h0M44.3 634.0h0M36.8 635.2h0M49.3 641.3h0M44.2 634.7h0M38.7 641.3h0M37.6 630.0h0M43.7 625.9h0M43.5 640.2h0M40.1 639.9h0M39.5 642.0h0M50.6 633.6h0M46.6 636.7h0M42.2 639.1h0M38.0 639.9h0M56.8 639.7h0M47.0 638.4h0M44.8 641.6h0M46.3 637.6h0M40.0 639.1h0M40.2 640.8h0M58.5 637.3h0M50.9 632.0h0M42.3 635.7h0M47.7 634.4h0M40.7 634.6h0M38.2 633.9h0M44.8 634.9h0M60.2 637.3h0M38.4 633.3h0M45.4 639.8h0M34.1 628.6h0M36.0 629.3h0M61.8 633.8h0M48.6 635.8h0M32.7 623.9h0M49.9 637.7h0M43.8 632.0h0M41.2 634.4h0M37.4 625.0h0M40.3 634.2h0M33.7 634.9h0M49.4 640.9h0M48.3 639.3h0M47.3 635.1h0M53.3 638.3h0M32.4 633.4h0M42.0 632.4h0M42.6 635.5h0M45.2 637.1h0M38.1 631.1h0M45.2 635.0h0M44.7 640.2h0M53.1 641.0h0M58.2 631.2h0M42.3 638.0h0M48.9 639.3h0M37.6 632.3h0M42.2 642.1h0M42.5 633.5h0M52.7 635.1h0M44.7 638.5h0M46.1 634.5h0M42.4 641.8h0M41.8 633.1h0M38.7 633.2h0M49.7 635.7h0M48.4 640.2h0M37.4 635.8h0M48.0 630.7h0M38.4 635.4h0M50.1 637.2h0M48.4 632.7h0M43.7 643.1h0M33.1 631.6h0M53.4 641.3h0M45.7 642.5h0M42.0 629.4h0M40.4 636.3h0M32.8 624.9h0M34.0 628.3h0M33.2 630.8h0M44.5 639.2h0M51.4 629.0h0M52.1 639.5h0M35.4 638.6h0M42.8 637.1h0M48.0 634.8h0M58.6 639.8h0M36.7 634.2h0M33.9 624.6h0M38.2 639.2h0M41.1 636.9h0M39.3 630.1h0M40.7 637.3h0M37.0 634.7h0M123.8 589.2h0M122.4 586.8h0M149.7 557.5h0M142.3 566.6h0M149.3 573.0h0M144.0 567.7h0M134.7 570.9h0M169.2 560.2h0M155.9 561.2h0M152.3 573.4h0M139.6 557.1h0M138.7 574.3h0M167.1 562.4h0M162.6 564.7h0M141.9 560.2h0M166.3 562.3h0M164.3 562.4h0M141.8 555.3h0M154.0 565.0h0M162.2 555.5h0M168.3 554.8h0M172.9 558.6h0M144.7 564.5h0M163.4 564.3h0M166.9 560.8h0M156.2 555.4h0M135.4 573.5h0M163.4 561.8h0M155.0 551.6h0M143.6 554.1h0M143.5 553.4h0M121.9 575.0h0M115.4 576.1h0M156.4 565.7h0M152.1 570.8h0M140.7 556.8h0M172.8 557.2h0M147.1 577.4h0M143.0 559.6h0M146.2 553.3h0M153.3 559.0h0M164.3 563.1h0M140.8 555.7h0M154.2 569.1h0M153.9 553.1h0M156.7 554.5h0M153.5 564.2h0M161.2 562.8h0M149.0 574.6h0M138.8 563.0h0M116.2 576.6h0M153.5 563.8h0M169.7 562.5h0M147.2 570.5h0M149.9 552.8h0M158.1 569.7h0M149.6 560.0h0M149.0 567.8h0M152.2 555.3h0M161.5 551.5h0M156.4 570.3h0M152.9 564.0h0M145.6 576.6h0M157.2 552.0h0M148.0 552.9h0M157.8 557.8h0M132.6 565.7h0M136.0 569.1h0M145.2 577.1h0M146.4 575.3h0M151.9 576.7h0M155.5 570.0h0M147.3 566.8h0M164.0 557.7h0M141.2 568.9h0M150.3 572.0h0M169.0 556.0h0M132.6 564.1h0M150.6 574.5h0M133.5 566.4h0M161.1 567.0h0M155.1 556.1h0M147.1 556.5h0M134.2 572.3h0M164.3 557.1h0M161.4 555.0h0M144.4 560.8h0M148.2 555.4h0M159.1 553.4h0M131.2 563.0h0M136.7 557.4h0M160.8 551.9h0M157.8 569.7h0M147.3 563.7h0M145.6 574.5h0M146.2 562.5h0M143.5 573.6h0M126.0 575.2h0M152.2 562.9h0M147.6 562.6h0M145.5 556.1h0M167.1 558.4h0M147.3 555.0h0M136.1 561.9h0M143.1 565.0h0M155.0 557.7h0M136.1 559.5h0M150.8 552.7h0M145.4 556.1h0M154.8 553.5h0M159.9 551.5h0M141.2 574.1h0M150.1 564.5h0M136.2 568.3h0M145.0 555.2h0M133.1 561.8h0M144.5 575.2h0M137.0 563.9h0M159.2 566.3h0M146.1 565.5h0M147.0 557.0h0M157.8 565.8h0M130.9 574.2h0M155.6 563.1h0M141.6 561.3h0M152.1 573.7h0M156.0 569.9h0M155.9 562.1h0M158.8 559.4h0M128.5 571.8h0M144.9 576.9h0M137.7 559.9h0M174.8 559.8h0M146.7 575.9h0M153.7 558.4h0M143.0 571.3h0M153.1 563.9h0M162.0 553.3h0M160.2 555.0h0M135.9 564.4h0M158.5 552.5h0M160.6 564.2h0M151.2 553.5h0M140.7 565.1h0M150.2 570.6h0M154.4 555.5h0M160.7 567.1h0M132.6 562.7h0M157.0 554.6h0M155.7 568.4h0M158.0 564.9h0M146.9 569.8h0M158.5 556.3h0M157.5 565.7h0M164.1 553.3h0M161.4 563.1h0M170.5 560.4h0M153.0 576.2h0M161.6 555.6h0M156.8 566.9h0M164.4 557.8h0M154.8 564.1h0M152.9 571.4h0M163.3 565.1h0M175.9 560.3h0M147.5 564.7h0M142.0 562.3h0M148.8 574.5h0M151.3 569.6h0M151.4 577.6h0M148.6 564.9h0M152.5 559.4h0M138.0 569.5h0M124.6 576.1h0M157.0 571.5h0M134.7 559.8h0M156.6 562.3h0M151.1 577.8h0M128.8 573.3h0M151.7 565.7h0M135.3 563.7h0M149.8 576.5h0M159.7 567.6h0M170.3 555.1h0M147.0 568.7h0M135.3 567.5h0M112.6 574.8h0M150.7 552.6h0M153.5 567.8h0M150.8 576.2h0M153.7 567.8h0M167.5 560.5h0M159.0 565.9h0M161.7 557.3h0M173.6 561.1h0M140.9 558.7h0M152.8 555.5h0M161.4 556.6h0M147.9 578.5h0M149.5 553.6h0M148.2 572.9h0M142.0 556.9h0M144.3 569.4h0M141.4 562.7h0M150.2 552.1h0M158.1 567.1h0M117.8 573.1h0M170.1 556.1h0M147.5 568.3h0M163.2 562.9h0M154.9 554.4h0M139.4 567.8h0M171.3 557.5h0M170.4 560.8h0M163.4 560.7h0M153.5 562.8h0M150.6 553.8h0M132.9 569.8h0M170.8 559.8h0M170.0 560.6h0M167.5 562.9h0M131.9 568.3h0M148.6 557.2h0M120.1 575.8h0M154.0 552.1h0M128.9 571.0h0M172.6 557.0h0M164.3 556.2h0M145.6 558.2h0M159.0 560.7h0M134.0 572.3h0M149.4 571.7h0M151.8 553.1h0M155.9 570.1h0M124.8 569.8h0M143.5 558.1h0M159.6 560.8h0M151.7 561.5h0M130.3 564.5h0M154.5 563.1h0M139.2 556.9h0M137.0 568.0h0M136.3 567.2h0M145.6 574.3h0M157.5 551.2h0M156.7 569.4h0M153.5 562.6h0M153.8 564.5h0M154.1 569.4h0M145.5 565.0h0M162.6 558.1h0M170.9 557.8h0M159.2 568.2h0M151.3 568.0h0M163.3 563.7h0M154.1 557.5h0M157.6 558.0h0M132.7 568.5h0M147.9 560.5h0M146.7 562.8h0M151.1 574.1h0M162.5 559.6h0M143.8 560.0h0M149.5 574.8h0M141.7 561.8h0M151.2 572.8h0M157.7 560.8h0M172.2 557.1h0M144.1 571.3h0M150.1 568.0h0M142.4 564.4h0M139.5 574.8h0M155.7 553.9h0M148.2 578.8h0M142.5 574.9h0M173.2 557.3h0M142.1 555.2h0M153.3 568.6h0M149.3 577.5h0M142.8 554.3h0M115.4 573.4h0M170.2 560.6h0M146.1 569.0h0M158.8 562.2h0M155.4 569.2h0M154.2 562.6h0M164.7 553.9h0M170.1 554.6h0M153.2 564.6h0M131.6 570.7h0M141.7 554.3h0M111.7 574.6h0M163.3 565.4h0M127.6 568.1h0M153.7 575.3h0M168.0 563.2h0M160.4 555.7h0M150.2 575.8h0M149.4 564.4h0M155.3 565.5h0M153.9 551.9h0M145.1 571.6h0M163.1 565.3h0M151.5 556.6h0M152.5 568.8h0M154.8 569.0h0M153.9 573.0h0M160.8 555.0h0M141.0 573.5h0M143.5 561.2h0M146.8 568.9h0M148.0 567.1h0M144.4 559.2h0M148.6 575.6h0M146.0 558.5h0M146.4 567.2h0M150.9 576.0h0M149.5 572.1h0M167.3 553.1h0M156.4 560.6h0M170.1 556.1h0M166.6 558.8h0M156.9 569.6h0M149.1 574.9h0M164.9 564.7h0M139.2 564.7h0M136.6 564.7h0M158.5 555.2h0M155.7 557.2h0M132.9 572.9h0M157.4 562.5h0M153.9 585.8h0M154.1 576.9h0M149.3 587.3h0M180.9 579.6h0M176.4 572.6h0M174.8 568.1h0M161.7 582.5h0M174.6 566.8h0M163.9 587.4h0M170.0 570.5h0M177.9 579.6h0M188.6 578.2h0M176.2 569.2h0" stroke="#b59ae3" stroke-width="0.8" stroke-linecap="round" fill="none"/>
<path d="M39.9 639.7h0M37.6 637.3h0M37.7 641.4h0M34.3 635.0h0M36.9 639.4h0M35.8 635.4h0M36.3 639.4h0M33.4 633.5h0M39.9 637.1h0M42.7 639.5h0M153.3 555.3h0M149.3 562.1h0M149.7 561.8h0M164.9 553.1h0M154.8 567.0h0M145.5 575.9h0M169.2 554.3h0M135.0 558.7h0M147.8 568.9h0M160.8 552.3h0M164.3 556.3h0M173.8 559.6h0M145.7 552.9h0M152.2 558.9h0M168.7 559.7h0M158.6 555.9h0M164.0 557.2h0M160.5 553.1h0M165.1 559.3h0M168.8 559.4h0M148.0 570.1h0M160.2 560.8h0M155.7 560.7h0M160.6 555.8h0M155.9 554.6h0M153.0 555.0h0M166.9 563.6h0M171.8 557.5h0M160.6 553.5h0M163.5 561.7h0M164.4 563.5h0M161.5 559.4h0M142.2 563.7h0M155.8 562.8h0M160.3 556.8h0M170.1 560.8h0M167.1 559.4h0M171.6 560.8h0M159.6 558.1h0M166.0 553.5h0M164.6 555.4h0M165.0 559.5h0M166.2 563.4h0M164.7 558.5h0M159.0 564.6h0M143.7 573.7h0M148.1 556.8h0M140.2 574.8h0M161.0 562.2h0M145.6 556.3h0M166.3 560.2h0M164.8 552.6h0M152.0 561.3h0M158.3 564.2h0M149.0 576.2h0M171.4 557.9h0M174.1 559.4h0M154.5 568.9h0M163.0 558.2h0M161.1 556.5h0M153.9 571.7h0M142.1 563.0h0M155.0 567.4h0M170.6 561.3h0M165.3 584.8h0M188.3 569.4h0M183.8 575.6h0M173.7 572.3h0M176.7 576.3h0M167.4 576.4h0M167.8 573.8h0M145.0 591.2h0M160.2 571.3h0M146.9 587.4h0M157.7 576.2h0M161.3 588.2h0M166.9 575.9h0M156.7 588.6h0M150.1 588.3h0M171.8 567.7h0M171.8 569.4h0M149.8 586.3h0M150.3 588.0h0M189.2 570.4h0M161.3 576.9h0M167.2 574.8h0M154.0 580.6h0M161.0 584.8h0M150.6 589.8h0M165.8 583.8h0M167.8 581.2h0M158.7 575.7h0M173.7 578.6h0M187.1 577.1h0M184.4 577.0h0M178.5 571.3h0M178.0 583.9h0M151.3 581.5h0M145.6 590.2h0M161.8 586.7h0M170.8 577.5h0M171.4 575.4h0M163.9 571.7h0M189.4 579.4h0M161.9 568.1h0M159.8 572.7h0M187.2 570.5h0M184.8 581.0h0M189.6 575.3h0M160.2 584.2h0M167.6 572.0h0M175.0 584.6h0M174.5 571.1h0M162.0 579.9h0M146.6 591.6h0M162.2 577.7h0M155.2 581.6h0M158.8 586.4h0M175.7 571.6h0M170.1 587.0h0M158.1 572.5h0M174.4 575.4h0M157.1 583.2h0M165.7 577.5h0M150.1 582.2h0M173.8 583.6h0M158.9 574.2h0M169.1 582.0h0M175.4 573.6h0M174.3 579.8h0M190.1 573.0h0M169.1 581.5h0M177.8 582.5h0M182.0 567.3h0M165.1 571.5h0M178.5 583.7h0M179.1 578.9h0M179.6 581.9h0M148.0 589.1h0M180.8 569.1h0M189.9 573.6h0M182.0 579.3h0M185.5 578.7h0M169.3 563.6h0M175.9 574.4h0M152.8 584.8h0M159.4 574.5h0M177.6 584.9h0M179.6 578.5h0M148.2 584.3h0M189.5 574.1h0M188.4 575.6h0M151.7 586.6h0M174.6 567.3h0M172.1 586.0h0M186.4 570.4h0M184.1 581.6h0M174.6 566.5h0M169.6 565.1h0M163.1 572.8h0M162.9 579.3h0M165.3 569.8h0M167.8 586.9h0M174.9 582.4h0M175.9 578.7h0M167.8 564.5h0M186.1 575.3h0M164.1 579.3h0M168.3 572.0h0M160.6 582.2h0M173.6 580.1h0M170.4 585.1h0M158.3 585.0h0M173.6 572.0h0M189.1 573.9h0M163.9 576.6h0M164.1 568.6h0M178.4 582.8h0M182.7 566.1h0M148.3 591.4h0M161.0 567.3h0M184.4 570.5h0M167.0 571.9h0M172.8 575.9h0M181.7 577.4h0M171.7 579.5h0M170.7 576.0h0M163.8 578.7h0M178.1 578.4h0M184.5 580.6h0M151.5 583.9h0M160.0 581.5h0M163.8 570.3h0M170.4 584.5h0M172.1 568.8h0M171.1 575.0h0M182.4 569.1h0M167.4 579.5h0M171.2 567.8h0M157.8 583.4h0M174.7 562.9h0M173.1 574.2h0M175.0 582.8h0M153.3 582.2h0M165.2 582.1h0M149.7 588.0h0M181.0 574.4h0M176.4 579.3h0" stroke="#ac8ce7" stroke-width="0.8" stroke-linecap="round" fill="none"/>
<path d="M173.3 557.3h0M167.4 554.6h0M171.6 561.6h0M149.7 566.5h0M175.4 560.6h0M169.8 562.6h0M164.3 552.7h0M174.8 558.9h0M162.2 575.9h0M174.5 575.2h0M166.9 567.7h0M168.8 584.1h0M150.2 587.2h0M149.0 590.2h0M186.4 581.1h0M182.7 581.7h0M176.7 563.9h0M171.3 567.6h0M173.9 568.0h0M188.6 579.2h0M144.4 591.1h0M181.7 566.8h0M175.3 582.5h0M165.0 572.1h0M173.4 576.0h0M163.9 578.4h0M182.9 583.8h0M164.6 573.7h0M176.7 583.0h0M153.3 584.6h0M174.9 583.9h0M179.6 566.8h0M150.3 590.5h0M181.6 583.4h0M163.4 584.9h0M147.9 590.1h0M161.3 574.4h0M186.6 580.2h0M173.9 584.1h0M186.5 568.2h0M171.3 573.0h0M190.0 571.1h0M167.3 579.9h0M173.4 580.5h0M151.5 586.8h0M176.3 584.7h0M179.1 575.2h0M182.2 569.3h0M191.0 575.2h0M176.6 564.8h0M162.1 568.7h0M156.1 578.1h0M165.7 572.5h0M179.5 563.9h0M166.4 583.5h0M166.1 570.7h0M156.0 574.8h0M168.2 571.2h0M184.8 577.9h0M187.4 579.6h0M163.8 566.0h0M159.8 577.8h0M163.5 577.7h0M174.5 570.9h0M185.6 576.2h0M179.7 581.7h0M169.6 566.4h0M189.9 578.9h0M176.5 577.3h0M167.8 575.2h0M172.3 575.4h0M162.5 579.5h0M177.8 566.1h0M161.8 577.5h0M187.7 578.3h0M179.2 573.7h0M181.4 584.0h0M180.0 575.0h0M169.5 567.9h0M144.2 592.8h0M182.7 571.5h0M176.9 577.8h0M170.9 586.2h0M163.8 568.3h0M175.3 584.8h0M180.3 582.6h0M185.6 569.0h0M153.6 582.8h0M172.1 572.3h0M173.8 564.1h0M186.2 574.0h0M163.5 583.4h0M159.0 573.4h0M185.3 576.0h0M185.1 579.4h0M171.7 577.8h0M189.7 576.2h0M175.4 583.2h0M161.1 580.1h0M173.9 581.6h0M190.1 576.5h0M182.2 570.2h0M169.7 571.7h0M179.8 582.7h0M157.4 583.4h0M149.9 581.7h0M168.6 576.1h0M167.4 584.1h0M160.4 582.6h0M172.6 582.0h0M154.6 578.3h0M186.5 571.7h0M176.3 567.3h0M166.9 584.7h0M169.1 580.2h0M161.9 580.9h0M161.2 572.7h0M174.4 568.5h0M168.6 582.5h0M163.7 579.7h0M146.0 593.3h0M189.2 575.6h0M178.9 579.2h0M160.7 577.1h0M165.4 569.9h0M148.1 586.4h0M187.3 570.6h0M163.7 578.6h0M176.2 569.9h0M183.8 567.6h0M178.1 577.5h0M155.3 584.7h0M185.4 577.6h0M189.1 571.7h0M168.0 585.1h0M154.6 575.9h0M171.9 568.0h0M169.4 581.4h0M172.6 577.3h0M166.5 578.1h0M152.6 580.1h0M180.1 584.7h0M174.7 575.9h0M162.6 581.9h0M165.2 579.2h0M175.0 576.6h0M190.7 572.9h0M172.9 568.2h0M164.2 568.3h0M159.2 588.0h0M174.1 566.1h0M168.5 580.7h0M177.0 562.1h0M159.6 575.9h0M178.9 581.2h0M168.7 582.2h0M172.6 571.6h0M170.3 575.4h0M156.6 573.8h0M177.8 571.2h0M180.5 564.7h0M169.4 570.4h0M160.2 571.6h0M188.2 570.0h0M164.2 569.6h0M184.1 573.2h0M167.8 576.5h0M151.3 581.7h0M153.4 585.9h0M169.2 574.1h0M177.1 574.5h0M178.1 573.6h0M178.2 566.4h0M163.8 582.7h0M176.7 575.3h0M176.4 575.1h0M155.8 588.8h0M170.5 584.3h0M179.2 576.9h0M180.0 584.4h0M143.7 592.5h0M177.1 579.2h0M182.1 571.0h0M162.5 566.6h0M168.2 576.1h0M172.3 570.7h0M158.7 583.7h0M155.6 589.4h0M153.8 585.2h0M167.1 566.7h0M172.1 577.2h0M162.9 584.0h0M164.8 565.5h0M147.9 589.6h0M170.6 582.7h0M165.1 574.4h0M188.0 568.9h0M161.1 577.9h0M148.4 583.4h0M186.1 571.7h0M181.6 572.4h0M182.5 572.1h0M177.2 573.1h0M157.9 585.9h0M176.5 580.9h0M162.4 570.8h0M166.8 584.3h0M184.0 575.7h0M161.3 582.5h0M155.0 577.1h0M161.6 586.1h0M175.4 569.1h0M163.3 577.1h0M178.8 577.3h0M168.8 585.8h0M173.1 572.5h0M168.3 582.3h0M150.3 589.0h0M161.7 568.0h0M180.7 582.1h0M182.5 581.0h0M148.3 589.0h0M154.3 589.8h0M172.3 564.2h0M178.5 574.1h0M162.0 575.8h0M183.9 571.9h0M149.1 584.7h0M180.3 584.2h0M179.3 575.1h0M172.0 567.3h0M165.4 574.5h0M184.8 582.4h0M180.9 568.5h0M154.7 589.4h0M169.8 577.3h0M179.6 573.2h0M166.0 583.7h0M147.9 589.9h0M181.0 578.4h0M172.8 577.5h0M173.1 578.5h0M170.3 584.9h0M184.1 572.8h0M181.8 568.7h0M187.4 567.9h0M173.5 563.1h0M157.3 586.3h0M160.8 568.6h0M173.9 572.0h0M169.8 577.6h0M178.5 575.6h0M175.2 577.0h0M151.3 586.3h0M161.3 574.0h0M175.5 577.0h0M182.1 582.6h0M180.0 572.8h0M168.6 579.6h0M176.0 566.0h0M145.8 592.8h0M178.1 575.1h0M162.4 579.8h0M165.4 574.3h0M176.4 568.7h0M174.3 562.0h0M173.4 585.1h0M185.7 577.8h0M168.3 583.8h0M171.2 580.3h0M159.7 584.1h0M176.2 574.7h0M166.0 573.7h0M183.2 568.4h0M182.5 572.3h0M154.8 578.6h0M168.4 585.7h0M182.4 565.3h0M165.2 569.2h0M188.3 568.7h0M172.9 575.7h0M179.5 580.7h0M156.3 579.5h0M160.0 580.1h0M154.1 586.9h0M180.7 571.5h0M172.3 576.6h0M168.6 564.1h0M187.6 569.1h0M188.1 570.6h0M178.8 570.4h0M168.7 576.4h0M180.1 572.1h0M161.5 576.5h0M170.8 582.4h0M180.0 581.7h0M147.6 584.5h0M155.8 578.6h0M168.5 583.1h0M178.8 574.1h0M178.8 572.1h0M177.5 567.8h0M179.8 581.4h0M166.9 583.4h0M187.2 569.5h0M150.0 586.1h0M170.5 573.0h0M167.2 575.5h0M152.3 581.5h0M160.8 572.3h0M167.9 584.8h0M180.0 579.7h0M186.2 569.5h0M155.2 588.1h0M174.7 566.3h0M188.0 576.3h0M183.0 577.0h0M162.3 582.8h0M172.6 572.7h0M152.3 582.6h0M173.0 579.8h0M152.5 585.4h0M165.5 581.3h0M175.6 572.4h0M188.1 576.7h0M167.6 565.6h0M190.4 579.0h0M163.4 575.3h0M187.6 571.3h0M184.3 575.6h0M152.5 586.8h0M175.6 564.6h0M169.9 575.5h0M172.7 575.0h0M170.4 583.2h0M153.9 587.2h0M183.2 570.9h0M175.2 581.4h0M175.0 561.3h0M169.5 564.8h0M181.4 567.7h0M146.1 593.0h0M160.5 576.2h0M179.1 571.5h0M175.7 570.8h0M153.9 581.5h0M175.0 581.7h0M167.8 573.1h0M170.8 573.9h0M174.4 576.1h0M174.7 562.9h0M180.4 571.2h0M171.6 571.3h0M162.3 577.4h0M159.6 583.6h0M182.6 574.7h0M170.9 572.8h0M166.8 565.6h0M167.8 585.8h0M167.1 571.7h0M147.2 584.5h0M184.6 577.4h0M163.9 583.9h0M150.8 588.0h0M158.8 584.1h0M157.2 587.5h0M178.3 565.3h0M151.3 588.4h0M173.5 568.2h0M179.3 563.7h0M167.5 571.1h0M161.6 582.1h0M184.0 578.6h0M176.9 585.1h0M166.2 565.0h0M184.3 583.0h0M169.6 586.7h0M169.4 566.7h0M167.5 582.9h0M152.0 580.5h0M183.3 566.5h0M145.4 589.1h0M161.7 569.3h0M155.1 587.0h0M186.0 567.8h0M188.6 569.5h0M164.6 582.3h0M155.8 583.0h0M164.1 572.8h0M182.4 583.3h0M184.8 570.3h0M152.3 585.0h0M182.3 580.7h0M156.5 576.0h0M190.3 574.9h0M183.3 582.9h0M153.2 586.2h0M169.4 574.0h0M179.8 581.7h0M186.4 570.5h0M161.8 587.7h0M150.4 587.1h0M148.3 591.7h0M153.0 599.4h0" stroke="#a27eea" stroke-width="0.8" stroke-linecap="round" fill="none"/>
<path d="M164.5 565.8h0M173.9 574.0h0M168.6 578.8h0M159.6 568.9h0M174.8 562.0h0M183.7 577.0h0M172.1 564.2h0M157.5 574.3h0M172.2 577.8h0M170.3 578.9h0M169.4 565.3h0M183.3 573.6h0M179.5 562.7h0M159.7 573.8h0M162.4 570.1h0M174.1 562.3h0M178.7 582.2h0M178.9 582.4h0M145.2 592.6h0M160.0 574.4h0M178.2 580.4h0M172.8 567.1h0M184.8 578.2h0M178.0 575.0h0M176.8 572.6h0M158.4 572.1h0M188.7 572.0h0M164.0 570.9h0M177.8 565.6h0M161.9 571.9h0M151.3 580.5h0M177.9 571.9h0M162.6 572.0h0M147.4 590.8h0M174.4 578.5h0M164.5 586.1h0M162.6 584.7h0M188.3 569.4h0M186.2 568.5h0M175.5 577.9h0M162.3 573.9h0M177.3 581.4h0M154.1 587.8h0M165.9 583.0h0M170.9 571.1h0M167.3 564.0h0M167.8 581.8h0M158.4 588.8h0M170.9 584.9h0M187.1 576.9h0M166.4 585.8h0M166.2 572.4h0M176.5 581.9h0M181.9 565.1h0M169.9 585.7h0M176.9 562.7h0M153.2 588.5h0M145.7 593.7h0M176.1 564.9h0M159.3 585.1h0M183.0 582.9h0M177.3 560.9h0M181.3 567.8h0M177.7 562.6h0M189.8 577.1h0M184.3 576.7h0M166.9 583.9h0M188.5 579.5h0M178.5 580.9h0M181.1 569.2h0M183.1 567.4h0M153.2 583.3h0M168.8 579.6h0M171.6 563.3h0M162.0 581.3h0M174.9 571.1h0M160.1 570.4h0M172.9 569.2h0M166.0 584.2h0M181.0 564.1h0M155.4 581.7h0M164.1 575.3h0M154.8 586.2h0M179.2 579.2h0M162.6 572.1h0M156.1 578.3h0M180.2 577.9h0M177.8 567.4h0M183.4 566.6h0M188.8 571.9h0M151.8 587.8h0M162.0 575.0h0M174.0 571.6h0M143.4 593.3h0M152.8 588.3h0M170.5 575.7h0M177.4 573.5h0M178.1 583.6h0M166.6 568.6h0M168.1 583.6h0M167.8 572.4h0M148.7 585.4h0M175.8 584.2h0M146.0 588.1h0M189.8 571.0h0M181.1 575.4h0M173.7 582.8h0M157.5 575.0h0M148.4 591.6h0M177.5 585.2h0M179.5 582.0h0M157.2 581.8h0M151.4 588.9h0M184.3 576.9h0M157.3 579.5h0M178.6 579.5h0M169.5 578.5h0M167.1 564.2h0M181.7 582.7h0M180.2 579.9h0M167.3 569.4h0M156.2 583.7h0M158.8 581.3h0M147.5 590.5h0M165.6 569.6h0M172.3 570.6h0M156.4 577.6h0M182.8 565.7h0M186.4 572.7h0M156.8 576.6h0M167.5 574.4h0M185.4 575.3h0M167.2 581.0h0M158.3 582.0h0M180.4 577.0h0M172.2 565.5h0M183.5 575.5h0M169.3 574.7h0M148.9 586.3h0M166.4 580.0h0M179.5 563.0h0M162.9 586.8h0M161.4 576.7h0M167.3 570.8h0M147.8 587.4h0M176.5 585.6h0M144.5 594.0h0M180.4 564.6h0M164.9 579.1h0M173.4 580.4h0M166.2 583.9h0M177.3 584.0h0M167.0 568.6h0M178.7 579.3h0M166.3 564.4h0M150.8 587.3h0M181.9 575.5h0M153.2 600.8h0M153.0 600.3h0M172.4 629.1h0" stroke="#9770ed" stroke-width="0.8" stroke-linecap="round" fill="none"/>
<path d="M181.3 569.3h0M180.0 572.8h0M161.1 584.0h0M186.9 576.0h0M169.0 568.8h0M171.4 584.2h0M147.8 592.3h0M169.1 633.5h0M174.7 631.4h0M170.1 620.1h0M166.8 626.7h0M163.3 636.5h0M167.7 635.5h0M167.2 633.1h0M164.9 631.9h0M162.0 637.9h0M170.5 629.9h0M165.4 634.8h0M176.1 628.5h0M168.2 633.9h0M170.2 633.5h0M168.0 636.5h0M170.5 622.9h0" stroke="#8b62f1" stroke-width="0.8" stroke-linecap="round" fill="none"/>
<path d="M123.8 630.4h0M146.7 645.2h0M117.1 644.0h0M147.6 646.6h0M132.9 649.3h0M177.3 627.6h0M172.6 627.8h0M163.0 634.4h0M175.4 624.5h0M166.7 634.6h0M169.0 627.0h0M178.3 622.7h0M175.9 627.2h0M170.0 626.4h0M170.2 616.9h0M160.3 640.6h0M174.5 625.6h0M173.6 619.2h0M175.2 620.8h0M162.2 637.7h0M175.8 619.4h0M176.2 626.4h0M175.5 626.2h0M172.5 621.2h0M164.6 633.8h0M168.3 635.4h0M168.1 628.0h0M174.6 622.4h0M177.4 621.1h0M174.2 620.0h0M175.6 621.9h0M167.0 625.9h0M168.9 633.0h0M163.2 637.5h0M173.8 620.4h0M176.5 623.8h0M169.9 635.4h0M169.6 632.9h0M165.6 636.6h0M170.5 622.2h0M171.1 631.8h0M177.9 623.9h0M161.1 639.3h0M167.9 637.0h0M169.5 621.0h0M172.8 624.1h0M173.0 620.8h0M177.7 625.1h0M168.5 631.9h0M175.4 630.6h0M173.2 624.8h0M165.6 633.8h0M166.3 627.8h0M175.6 628.5h0M160.0 639.5h0M171.0 627.9h0M170.7 629.9h0M176.3 628.9h0M173.3 622.4h0M177.4 621.4h0M173.5 626.9h0M176.8 621.5h0M174.1 630.9h0M164.7 636.4h0M174.9 622.1h0M174.8 625.9h0M176.2 624.0h0M169.9 618.8h0M167.0 626.7h0M170.7 624.6h0M170.6 623.3h0M171.4 631.8h0M167.1 626.8h0M173.3 624.1h0M168.6 634.1h0M172.8 619.9h0M169.5 619.5h0M174.9 625.1h0M176.7 621.5h0M167.3 625.3h0M177.3 627.8h0M165.6 633.4h0M164.5 638.0h0M170.7 617.0h0M167.8 652.2h0M162.2 648.8h0M157.0 653.9h0M151.6 655.7h0M160.4 665.3h0M150.0 656.1h0" stroke="#7e53f4" stroke-width="0.8" stroke-linecap="round" fill="none"/>
<path d="M122.0 641.4h0M138.4 641.4h0M154.0 647.3h0M151.4 647.2h0M128.3 634.1h0M126.0 649.8h0M133.8 637.5h0M154.8 641.9h0M119.7 647.4h0M127.5 638.0h0M124.3 632.5h0M118.7 649.8h0M145.6 643.7h0M127.0 637.5h0M120.3 649.6h0M128.3 644.2h0M123.4 637.2h0M140.7 646.2h0M129.8 638.7h0M121.7 636.1h0M137.8 647.9h0M125.7 651.7h0M124.8 634.9h0M124.5 649.4h0M120.4 630.8h0M139.5 648.5h0M123.1 630.4h0M127.7 631.4h0M127.9 650.7h0M151.9 647.6h0M128.3 635.2h0M133.0 648.0h0M122.0 646.0h0M121.4 643.0h0M118.1 635.9h0M146.5 646.8h0M158.7 645.9h0M136.8 647.8h0M129.4 651.2h0M127.5 649.3h0M124.3 629.5h0M159.7 645.1h0M133.7 643.1h0M121.1 646.8h0M130.7 648.8h0M121.9 649.9h0M118.9 636.6h0M156.7 644.4h0M126.9 639.1h0M126.4 643.2h0M118.8 626.8h0M116.7 643.0h0M130.9 633.7h0M123.9 648.7h0M153.8 642.2h0M156.9 646.5h0M127.9 648.2h0M140.1 643.9h0M120.5 629.4h0M140.4 643.5h0M144.5 645.0h0M119.2 649.4h0M122.7 652.5h0M120.9 648.1h0M131.9 636.5h0M157.0 646.3h0M134.1 647.3h0M136.5 648.7h0M124.7 634.9h0M135.1 642.8h0M148.9 644.6h0M119.0 639.2h0M132.3 634.9h0M129.8 641.1h0M150.9 645.0h0M137.3 643.3h0M129.9 641.9h0M141.1 649.4h0M121.4 634.9h0M157.0 642.6h0M132.8 643.0h0M141.0 648.9h0M124.0 633.1h0M123.6 647.1h0M121.6 636.3h0M122.9 649.1h0M135.6 644.6h0M159.2 645.4h0M125.9 650.9h0M135.7 644.1h0M158.3 642.4h0M142.6 645.0h0M127.3 644.7h0M125.5 630.0h0M147.3 643.7h0M127.9 644.6h0M127.9 650.6h0M135.5 644.7h0M125.0 641.6h0M128.6 647.8h0M120.9 644.6h0M128.7 635.5h0M139.6 649.3h0M120.5 638.0h0M139.9 646.9h0M129.4 633.3h0M120.3 641.5h0M127.4 650.3h0M122.4 633.6h0M126.2 638.8h0M120.0 642.2h0M131.7 641.8h0M130.4 635.4h0M120.4 642.4h0M146.5 647.8h0M168.8 621.0h0M167.8 623.8h0M167.7 628.7h0M170.8 625.5h0M168.4 636.7h0M177.7 623.7h0M165.2 634.1h0M168.5 635.1h0M174.8 619.4h0M172.6 624.6h0M166.0 632.5h0M168.4 635.8h0M172.8 629.2h0M166.6 636.5h0M172.8 620.5h0M160.7 637.8h0M173.7 628.5h0M178.4 624.5h0M174.1 621.0h0M167.7 625.8h0M163.7 635.8h0M173.4 619.0h0M169.2 628.2h0M175.7 624.8h0M172.9 626.6h0M175.8 625.8h0M175.8 626.5h0M170.3 633.1h0M172.9 633.1h0M160.7 637.7h0M170.4 628.0h0M171.4 621.5h0M166.4 631.4h0M165.6 634.6h0M169.2 628.7h0M172.5 622.3h0M166.0 630.0h0M175.1 630.5h0M173.5 620.5h0M173.9 620.7h0M160.8 639.3h0M163.5 635.7h0M168.7 624.1h0M175.3 618.1h0M165.6 638.5h0M176.5 628.8h0M168.3 634.2h0M177.0 623.8h0M174.5 623.1h0M171.7 620.5h0M176.6 624.3h0M169.9 627.2h0M169.5 619.5h0M170.8 629.3h0M171.7 624.0h0M176.2 619.8h0M173.1 632.8h0M172.7 618.0h0M163.9 639.3h0M171.8 628.8h0M162.9 634.5h0M173.2 619.9h0M163.0 634.7h0M169.1 627.3h0M163.3 638.2h0M168.7 627.4h0M178.4 625.0h0M162.3 637.2h0M177.1 626.0h0M177.9 624.1h0M168.0 626.3h0M173.9 626.0h0M175.7 628.0h0M170.6 617.5h0M168.7 627.2h0M167.8 623.3h0M166.4 631.9h0M170.0 619.7h0M172.9 632.0h0M177.8 622.4h0M172.4 621.6h0M169.5 630.1h0M172.7 625.1h0M165.1 637.3h0M169.6 630.9h0M166.1 638.3h0M168.0 634.6h0M163.9 636.6h0M172.3 621.1h0M177.0 623.4h0M165.7 630.1h0M169.5 631.0h0M173.2 620.2h0M168.4 626.6h0M171.9 622.6h0M168.3 635.0h0M176.7 627.4h0M168.8 626.8h0M169.6 636.0h0M170.4 623.2h0M168.8 630.2h0M167.8 632.4h0M164.7 664.1h0M161.1 657.3h0M171.4 659.2h0M170.5 658.7h0M155.0 653.1h0M170.0 658.7h0M162.4 651.2h0M164.6 657.1h0M163.6 652.5h0M162.7 659.0h0M168.1 652.3h0M156.9 662.4h0M159.9 660.8h0M156.8 660.3h0M161.1 665.2h0M155.4 668.0h0M154.9 664.3h0M162.2 657.2h0M171.3 654.1h0M172.5 651.0h0M164.1 648.9h0M171.9 651.3h0M154.9 648.1h0M153.5 651.4h0M153.8 661.1h0M158.1 655.4h0M165.6 653.5h0M163.6 649.4h0M168.0 660.4h0M160.2 667.4h0M161.2 648.9h0M177.3 652.4h0M163.7 660.3h0M172.9 657.3h0M153.9 667.5h0M167.2 653.1h0M164.1 657.9h0M164.5 651.0h0M154.7 656.3h0M162.5 651.5h0M158.2 654.6h0M172.4 650.5h0M161.9 656.6h0M155.2 665.6h0M161.3 658.4h0M171.6 661.6h0M161.8 658.9h0M167.4 662.5h0M171.7 660.5h0M157.0 651.3h0M161.5 666.1h0M158.9 649.2h0M160.8 652.2h0M172.3 653.1h0M151.2 648.8h0M167.1 654.5h0M169.2 653.6h0M157.9 668.5h0M152.2 654.9h0M171.7 656.4h0M174.3 653.5h0M166.7 652.4h0M153.8 663.5h0M162.2 667.9h0M171.4 658.2h0M170.6 650.9h0M154.1 653.8h0M164.7 658.2h0M156.1 648.4h0M167.5 661.5h0M163.1 666.0h0M165.8 663.8h0M155.3 667.2h0M159.8 663.6h0M168.3 659.1h0M168.0 662.9h0M167.7 650.4h0M150.0 649.8h0M158.6 662.0h0M169.8 653.0h0M161.9 662.2h0M153.7 652.1h0M170.9 658.6h0M156.0 656.6h0M175.5 651.3h0M172.3 654.8h0M171.2 653.6h0M159.5 669.8h0M156.1 660.6h0M160.1 667.9h0M157.0 667.6h0M153.5 657.0h0M158.6 653.1h0M156.1 670.3h0M168.4 660.5h0M161.3 657.5h0M155.0 670.2h0M157.7 656.6h0M161.8 650.1h0M159.0 652.5h0M173.7 657.5h0M154.9 668.2h0M178.7 654.8h0M166.1 651.9h0M172.4 654.3h0M154.4 669.3h0M169.7 649.8h0M167.2 657.5h0M154.4 666.8h0M162.5 655.3h0M165.3 659.7h0M168.8 650.2h0M158.8 661.3h0M152.0 659.9h0M157.3 653.9h0M171.1 652.6h0M159.7 670.6h0M167.6 658.1h0M177.7 655.0h0M163.0 651.8h0M162.0 663.4h0M178.1 654.2h0M159.0 659.4h0M165.6 660.1h0M167.0 656.2h0M153.8 670.7h0M166.3 650.3h0M160.6 656.7h0M161.0 656.6h0M167.1 663.3h0M165.5 651.0h0M159.1 662.7h0M151.9 650.1h0M154.7 648.9h0M164.8 658.7h0M160.4 661.4h0M173.0 659.5h0M172.4 652.0h0M157.1 667.6h0M151.7 663.4h0M149.2 660.0h0M146.6 660.3h0M150.7 664.6h0M151.4 668.1h0M149.5 672.5h0M149.5 666.5h0M150.7 656.8h0M149.4 668.7h0M151.9 659.7h0M149.3 681.5h0M143.5 685.5h0M142.8 692.9h0M142.1 687.0h0M132.6 696.5h0M141.1 696.9h0M155.9 686.7h0M156.0 684.9h0M156.7 680.4h0M160.0 678.4h0M156.1 679.0h0M155.0 688.8h0M153.5 692.9h0M159.4 673.3h0M151.4 689.3h0" stroke="#6e44f7" stroke-width="0.8" stroke-linecap="round" fill="none"/>
<path d="M121.7 634.8h0M127.9 635.8h0M128.4 641.8h0M135.7 640.0h0M129.7 631.9h0M119.2 640.5h0M132.5 650.6h0M141.5 648.7h0M130.6 650.0h0M136.7 646.9h0M129.2 649.6h0M132.7 647.6h0M118.3 627.9h0M131.3 635.2h0M120.2 649.4h0M138.9 647.6h0M132.9 650.4h0M121.2 640.4h0M131.8 640.5h0M129.3 638.7h0M120.5 634.9h0M133.1 637.0h0M138.0 644.9h0M125.8 651.0h0M127.6 633.2h0M123.3 651.9h0M145.2 645.4h0M138.4 648.0h0M118.8 632.4h0M123.1 637.5h0M149.6 647.4h0M128.2 631.0h0M124.4 641.4h0M137.9 646.1h0M127.5 650.6h0M128.3 637.6h0M148.4 644.7h0M126.4 631.5h0M120.2 633.1h0M155.1 641.9h0M119.2 636.1h0M150.0 645.0h0M147.7 646.4h0M129.5 632.5h0M135.2 642.8h0M131.3 638.8h0M118.6 646.1h0M117.0 645.5h0M153.5 643.0h0M123.0 631.4h0M160.7 644.8h0M138.8 645.0h0M121.1 639.8h0M122.6 635.0h0M158.3 643.1h0M129.3 639.2h0M124.0 648.1h0M126.8 632.4h0M119.1 635.4h0M132.9 650.8h0M149.6 646.0h0M119.5 627.2h0M118.8 634.9h0M136.5 639.9h0M127.9 635.8h0M137.4 642.9h0M117.7 644.8h0M124.8 641.3h0M120.5 644.3h0M119.1 649.4h0M154.4 645.6h0M135.7 644.8h0M120.2 645.5h0M151.8 645.3h0M126.2 650.1h0M125.9 633.9h0M155.7 643.2h0M119.7 635.4h0M136.0 650.7h0M150.9 642.8h0M155.9 643.1h0M154.6 642.1h0M119.4 636.4h0M132.2 640.6h0M142.5 648.4h0M158.0 644.2h0M137.4 644.2h0M122.4 636.1h0M142.3 644.2h0M125.3 651.6h0M121.2 648.9h0M117.3 645.5h0M119.5 644.5h0M137.9 644.5h0M130.1 640.6h0M154.5 641.9h0M157.7 645.1h0M158.4 646.1h0M128.0 640.4h0M118.0 641.4h0M130.2 645.5h0M121.1 627.1h0M127.6 640.7h0M132.1 641.4h0M153.0 643.2h0M140.8 642.8h0M130.1 650.9h0M130.0 645.1h0M134.8 647.3h0M118.6 627.4h0M137.7 645.9h0M146.2 646.9h0M156.5 643.0h0M121.7 642.1h0M128.4 640.0h0M128.4 648.3h0M123.7 641.8h0M148.8 645.5h0M122.0 649.1h0M128.4 647.8h0M134.0 644.6h0M157.7 646.6h0M118.8 640.8h0M131.5 649.9h0M125.8 644.1h0M123.2 645.5h0M146.2 646.0h0M116.4 641.7h0M127.2 648.3h0M120.2 626.9h0M121.7 646.0h0M119.9 635.3h0M138.4 641.1h0M149.5 648.0h0M123.4 644.4h0M148.5 646.7h0M139.2 646.6h0M126.1 630.6h0M145.6 648.4h0M117.2 644.8h0M124.2 645.4h0M136.3 647.1h0M121.6 637.9h0M122.2 651.0h0M121.9 642.3h0M161.4 645.8h0M130.5 648.2h0M127.9 640.2h0M117.6 642.5h0M139.4 648.4h0M124.5 629.6h0M146.4 647.1h0M131.1 641.2h0M137.4 646.4h0M147.0 643.6h0M136.0 639.3h0M148.2 643.7h0M142.3 645.7h0M131.2 636.7h0M135.4 638.7h0M118.6 642.2h0M125.3 632.3h0M121.3 640.2h0M125.8 631.5h0M126.3 637.7h0M141.5 644.6h0M123.1 651.4h0M156.2 643.7h0M120.7 641.0h0M140.9 643.0h0M131.0 633.4h0M119.1 630.8h0M130.8 644.9h0M126.5 647.0h0M131.8 648.5h0M119.5 650.1h0M130.0 634.3h0M158.8 643.1h0M145.5 647.4h0M138.1 643.8h0M120.1 641.0h0M144.5 645.0h0M125.9 637.9h0M155.4 645.6h0M142.8 645.9h0M147.5 644.8h0M157.2 642.9h0M129.1 637.7h0M133.9 642.3h0M120.1 640.1h0M121.9 627.5h0M129.4 644.8h0M121.3 632.8h0M123.5 629.8h0M144.3 646.0h0M153.5 644.9h0M131.0 642.9h0M133.6 647.1h0M124.7 630.4h0M121.4 651.1h0M162.4 644.9h0M145.1 643.8h0M148.3 643.8h0M136.6 646.3h0M151.9 644.1h0M138.8 643.9h0M140.9 643.5h0M120.2 640.1h0M129.0 649.3h0M140.4 644.4h0M150.5 647.2h0M130.8 633.0h0M132.9 645.5h0M119.4 629.7h0M119.9 626.5h0M151.3 645.4h0M147.4 648.1h0M123.8 639.8h0M131.5 637.7h0M129.6 645.1h0M135.3 641.8h0M128.2 635.8h0M150.8 643.5h0M132.4 635.0h0M155.6 645.5h0M119.6 641.0h0M126.4 642.7h0M120.0 635.4h0M129.8 637.2h0M133.3 638.6h0M129.8 634.6h0M121.9 648.5h0M128.0 637.3h0M123.3 649.3h0M121.5 631.2h0M143.1 645.7h0M128.1 649.0h0M148.4 643.5h0M119.1 627.2h0M133.8 642.5h0M121.8 648.2h0M134.8 648.4h0M157.7 642.6h0M125.4 648.0h0M125.9 637.7h0M121.1 632.0h0M124.3 637.0h0M149.7 646.5h0M125.7 639.7h0M121.4 631.7h0M121.5 636.8h0M123.5 651.6h0M151.7 645.6h0M135.7 639.1h0M121.9 643.2h0M157.3 647.1h0M125.1 639.9h0M118.9 647.9h0M125.5 631.3h0M158.7 642.7h0M139.5 648.9h0M142.2 646.1h0M138.9 641.2h0M122.7 642.8h0M133.0 644.9h0M126.1 645.7h0M120.5 637.7h0M136.3 645.8h0M142.3 642.7h0M117.9 645.3h0M154.3 642.9h0M124.5 642.5h0M159.4 643.5h0M153.1 645.3h0M125.7 632.7h0M148.3 646.6h0M138.4 644.9h0M117.2 641.2h0M121.2 644.9h0M118.8 640.2h0M133.3 643.8h0M133.3 641.6h0M138.5 647.4h0M139.0 642.2h0M124.4 641.9h0M139.5 649.3h0M120.7 644.5h0M125.1 636.0h0M124.9 646.7h0M122.6 628.8h0M128.0 639.5h0M136.1 643.2h0M156.9 646.7h0M143.3 644.6h0M124.8 651.9h0M122.5 630.2h0M159.1 646.0h0M124.2 635.2h0M147.6 644.4h0M133.3 641.8h0M125.5 631.4h0M134.7 645.7h0M120.6 634.2h0M118.4 647.1h0M167.9 632.4h0M172.5 633.6h0M169.0 624.7h0M172.4 625.9h0M173.3 624.6h0M164.7 636.9h0M167.5 625.6h0M161.8 639.9h0M166.9 626.2h0M173.6 632.2h0M174.1 621.4h0M164.7 638.3h0M161.8 665.6h0M172.5 657.0h0M167.6 650.5h0M173.4 655.5h0M163.9 655.9h0M159.3 662.9h0M166.5 649.6h0M161.0 664.1h0M162.7 662.4h0M152.2 664.9h0M156.4 666.2h0M174.2 659.6h0M167.0 654.2h0M164.4 660.2h0M159.8 661.1h0M153.1 648.9h0M152.5 649.9h0M158.6 672.5h0M158.2 655.4h0M161.7 660.5h0M155.5 658.5h0M173.0 658.4h0M175.6 652.3h0M174.3 651.5h0M159.6 659.0h0M169.6 658.4h0M152.4 668.2h0M174.5 652.7h0M156.2 664.7h0M176.3 654.1h0M170.0 658.8h0M162.0 653.1h0M154.5 665.4h0M170.1 652.4h0M152.7 668.6h0M174.5 659.7h0M164.8 656.3h0M152.4 658.6h0M173.9 652.7h0M178.7 654.7h0M177.5 653.5h0M161.6 660.1h0M161.7 653.9h0M168.1 652.0h0M153.6 657.0h0M171.6 660.3h0M152.8 659.2h0M168.5 659.7h0M157.2 658.7h0M154.8 656.6h0M155.8 671.1h0M158.6 671.3h0M172.2 656.1h0M173.6 652.2h0M163.7 657.2h0M158.5 652.0h0M176.7 652.4h0M158.3 670.7h0M168.9 660.2h0M160.2 665.3h0M176.9 653.3h0M165.9 660.6h0M151.2 655.6h0M170.1 652.0h0M173.9 659.9h0M169.7 653.2h0M156.3 666.0h0M169.5 662.0h0M151.8 653.8h0M162.5 662.1h0M170.6 654.9h0M175.8 658.6h0M158.8 649.0h0M159.1 661.1h0M167.6 652.4h0M161.6 660.3h0M163.8 664.6h0M153.9 670.6h0M157.7 656.8h0M166.4 651.0h0M166.3 654.6h0M157.9 663.9h0M156.9 667.4h0M163.6 650.5h0M173.2 660.9h0M165.5 651.2h0M176.7 653.1h0M161.6 658.1h0M155.7 660.6h0M159.2 656.4h0M153.0 671.1h0M156.7 656.6h0M171.3 652.5h0M152.5 659.4h0M158.1 664.4h0M156.4 671.8h0M155.1 666.1h0M164.7 653.5h0M169.4 653.4h0M155.7 656.3h0M163.7 656.9h0M168.0 653.2h0M156.4 651.1h0M152.8 669.5h0M166.9 650.7h0M163.5 659.4h0M152.9 654.6h0M158.2 663.5h0M151.6 662.3h0M173.0 650.6h0M174.2 656.2h0M166.4 661.5h0M152.8 657.4h0M152.1 652.2h0M162.5 666.1h0M165.6 664.0h0M153.4 658.6h0M170.3 656.2h0M158.7 671.6h0M172.4 659.0h0M173.6 657.9h0M156.9 671.4h0M155.6 660.2h0M172.8 659.2h0M154.2 671.9h0M162.7 660.6h0M156.3 660.7h0M166.1 650.5h0M168.0 654.8h0M162.4 668.2h0M168.3 658.5h0M165.9 655.2h0M158.3 651.5h0M153.8 667.2h0M159.8 670.2h0M156.2 665.1h0M157.3 648.3h0M151.6 648.3h0M154.2 652.4h0M170.5 662.1h0M152.3 668.4h0M150.6 650.1h0M152.6 648.4h0M168.1 650.7h0M153.2 667.9h0M155.9 652.8h0M161.1 661.0h0M159.0 661.9h0M166.1 662.9h0M155.5 663.6h0M160.2 650.6h0M161.0 661.9h0M158.3 654.0h0M157.7 659.3h0M157.5 670.2h0M162.9 654.1h0M159.2 649.0h0M160.4 658.1h0M160.3 663.7h0M163.0 660.8h0M165.9 659.5h0M155.8 666.5h0M158.6 665.6h0M163.6 649.0h0M177.0 658.3h0M167.8 655.8h0M156.4 651.0h0M154.1 656.6h0M153.5 670.2h0M155.9 649.3h0M175.9 658.6h0M161.0 653.4h0M155.7 669.6h0M176.2 653.9h0M159.4 663.4h0M166.4 660.0h0M152.3 652.0h0M155.3 650.8h0M152.5 657.7h0M169.4 658.9h0M160.1 657.8h0M165.3 650.8h0M161.9 662.9h0M173.8 651.8h0M167.0 661.9h0M160.8 651.1h0M162.5 665.0h0M164.4 654.8h0M162.1 667.5h0M176.7 653.3h0M157.4 663.1h0M152.4 655.6h0M151.6 661.9h0M158.9 655.8h0M158.6 669.9h0M175.9 653.6h0M158.1 652.8h0M166.3 654.1h0M172.5 650.8h0M163.1 656.2h0M160.0 653.3h0M150.5 653.2h0M160.5 656.8h0M157.2 665.4h0M153.9 652.4h0M156.7 658.2h0M179.2 655.8h0M156.7 669.6h0M174.0 652.6h0M156.1 661.1h0M174.1 658.6h0M163.7 656.8h0M156.7 653.6h0M151.5 649.1h0M155.9 672.0h0M158.0 668.6h0M175.5 655.2h0M160.8 650.4h0M157.1 659.2h0M164.9 656.1h0M163.6 656.4h0M167.0 650.5h0M155.1 672.4h0M154.1 672.4h0M155.0 650.3h0M161.0 667.4h0M164.6 649.3h0M162.2 666.0h0M161.6 652.2h0M159.2 649.1h0M160.6 651.8h0M164.4 662.1h0M156.1 662.2h0M156.7 662.9h0M160.1 655.4h0M153.9 672.2h0M155.1 671.9h0M159.8 665.2h0M160.1 659.2h0M159.8 665.5h0M164.6 650.8h0M157.2 652.9h0M159.9 664.6h0M168.2 659.6h0M156.5 651.8h0M175.7 652.4h0M169.1 654.7h0M158.6 668.3h0M169.3 655.2h0M153.5 670.6h0M170.2 652.7h0M163.1 664.6h0M161.6 654.3h0M160.9 659.4h0M156.1 648.9h0M164.6 660.4h0M158.1 652.3h0M161.3 666.5h0M166.0 657.7h0M162.3 659.5h0M156.4 651.1h0M159.2 667.3h0M177.0 653.2h0M160.9 669.4h0M151.8 661.5h0M148.6 662.2h0M148.9 654.5h0M150.0 665.4h0M151.5 658.7h0M148.0 661.5h0M151.3 660.4h0M151.6 663.6h0M148.2 671.7h0M149.2 660.9h0M146.5 660.0h0M146.8 660.5h0M151.4 658.4h0M152.1 664.6h0M151.9 655.8h0M152.3 666.5h0M146.6 658.4h0M152.2 667.3h0M151.4 660.0h0M147.9 668.3h0M147.2 664.1h0M147.3 668.4h0M146.5 659.6h0M148.2 668.4h0M152.4 655.9h0M148.2 662.1h0M149.9 655.0h0M152.1 658.5h0M152.4 664.7h0M147.6 658.8h0M150.7 656.0h0M152.6 664.9h0M152.5 658.9h0M151.0 660.1h0M151.9 667.5h0M149.4 667.1h0M149.7 657.7h0M150.4 665.5h0M151.0 667.1h0M149.3 666.5h0M150.7 669.4h0M148.3 654.8h0M148.9 656.4h0M147.8 666.0h0M148.7 669.4h0M150.2 665.9h0M147.9 659.9h0M151.9 661.4h0M151.7 661.9h0M152.2 656.3h0M150.6 663.7h0M147.9 690.1h0M143.5 690.0h0M139.8 692.2h0M139.0 690.1h0M150.4 682.2h0M143.5 692.8h0M144.1 688.6h0M134.8 676.3h0M139.7 691.6h0M146.1 680.1h0M137.6 687.3h0M145.0 685.9h0M151.8 674.8h0M138.9 679.7h0M141.8 691.9h0M150.6 686.1h0M135.9 690.9h0M137.2 696.9h0M132.2 679.4h0M150.2 675.7h0M130.5 685.9h0M137.6 694.8h0M136.8 680.8h0M149.0 674.2h0M133.8 695.7h0M142.4 684.4h0M142.5 688.0h0M151.3 676.8h0M147.3 673.5h0M132.6 696.4h0M130.6 684.0h0M148.4 691.6h0M133.8 684.7h0M141.1 697.2h0M137.9 674.3h0M137.2 692.0h0M139.9 696.5h0M142.8 677.3h0M130.5 684.9h0M141.5 683.1h0M139.9 682.2h0M138.5 696.9h0M142.7 679.6h0M141.9 679.7h0M147.8 682.8h0M134.7 679.6h0M142.3 678.4h0M140.9 696.1h0M150.5 692.2h0M146.2 679.3h0M149.2 681.2h0M131.8 679.4h0M150.2 679.0h0M141.8 689.5h0M138.1 691.7h0M141.7 687.2h0M142.8 689.3h0M137.2 696.6h0M146.6 690.9h0M138.4 692.0h0M134.4 682.8h0M137.3 674.4h0M129.8 690.3h0M130.3 685.8h0M147.3 688.9h0M149.8 686.0h0M137.9 686.6h0M150.6 690.5h0M145.4 692.9h0M148.4 686.6h0M136.4 676.7h0M146.9 683.1h0M138.1 694.0h0M145.1 696.8h0M143.8 690.2h0M146.1 677.3h0M149.0 684.5h0M135.7 687.8h0M139.3 677.7h0M145.9 685.6h0M144.1 678.0h0M136.7 688.9h0M139.4 694.9h0M142.9 685.8h0M149.6 675.5h0M145.7 692.8h0M141.5 697.0h0M131.3 682.8h0M152.5 685.7h0M152.2 688.6h0M153.5 689.7h0M156.5 674.0h0M159.2 688.9h0M155.1 679.6h0M152.9 692.8h0M150.7 691.5h0M153.2 690.3h0M155.4 681.9h0M155.9 691.2h0M152.5 691.2h0M152.7 684.6h0M160.2 686.7h0M151.2 688.8h0M159.1 686.3h0M157.2 675.9h0M160.1 679.1h0M153.7 692.2h0M156.4 682.9h0M158.2 686.0h0M156.4 686.1h0M159.0 685.3h0M155.1 676.3h0M153.3 677.4h0M159.9 673.2h0M158.6 688.2h0M154.6 686.6h0M153.6 688.8h0M158.5 682.2h0M156.0 683.3h0M153.2 687.4h0M155.9 688.0h0M153.7 685.7h0M159.2 682.1h0M159.9 677.9h0M159.0 688.8h0M156.1 689.0h0M154.3 676.6h0M155.7 677.4h0M152.9 692.4h0M155.3 684.7h0M153.1 687.4h0M157.2 679.3h0M153.4 690.0h0M159.3 676.8h0M151.8 693.7h0M151.3 688.9h0M154.0 677.5h0M158.7 690.1h0M154.0 685.2h0M156.0 682.2h0M157.5 680.7h0M156.4 689.1h0M157.7 682.8h0M157.3 690.9h0M159.1 679.5h0M155.4 679.6h0M159.7 681.8h0M157.2 677.3h0M157.9 678.2h0M157.7 679.8h0M152.7 682.8h0M153.5 682.0h0M160.6 683.5h0M153.4 690.1h0M159.4 684.3h0M160.2 679.5h0M152.7 682.4h0M154.4 688.2h0M156.8 681.1h0M152.8 683.3h0M157.5 688.5h0M156.1 688.6h0M158.3 689.7h0M153.9 684.6h0M158.4 676.0h0M155.0 684.7h0M158.1 677.7h0" stroke="#5a33f9" stroke-width="0.8" stroke-linecap="round" fill="none"/>
<path d="M154.5 646.1h0M154.8 645.8h0M133.8 651.0h0M132.9 642.4h0M117.5 636.9h0M123.0 628.5h0M122.2 650.2h0M122.2 636.4h0M121.6 631.1h0M117.8 648.9h0M126.0 640.5h0M140.3 647.8h0M134.4 649.5h0M127.3 636.6h0M146.7 647.1h0M130.1 638.3h0M121.3 641.3h0M119.8 635.3h0M127.3 643.0h0M129.3 647.8h0M122.0 644.2h0M134.4 637.8h0M147.1 644.5h0M127.4 642.9h0M126.7 640.9h0M159.2 644.1h0M122.4 642.6h0M126.6 635.5h0M132.9 644.3h0M133.9 648.9h0M120.0 629.1h0M123.2 643.9h0M160.0 645.2h0M121.7 641.2h0M119.2 639.2h0M154.1 643.8h0M128.1 642.8h0M136.3 645.4h0M143.5 643.3h0M131.2 651.1h0M129.1 643.2h0M126.2 638.6h0M122.8 644.4h0M129.7 649.4h0M123.9 647.8h0M118.4 629.5h0M145.3 646.8h0M143.6 644.8h0M150.5 646.7h0M118.8 649.2h0M156.2 646.6h0M131.4 644.5h0M138.8 649.5h0M125.3 637.4h0M147.6 647.8h0M129.5 640.7h0M120.6 639.9h0M125.1 641.3h0M124.2 632.5h0M130.6 641.4h0M119.5 638.5h0M121.8 644.4h0M136.9 649.7h0M138.4 642.2h0M120.8 647.5h0M133.6 647.7h0M123.2 629.2h0M118.7 632.4h0M155.0 645.0h0M139.5 645.2h0M125.1 639.7h0M130.6 635.7h0M126.1 649.0h0M120.1 636.3h0M144.3 645.9h0M123.5 651.2h0M149.3 647.6h0M124.5 645.2h0M160.4 644.3h0M156.3 645.3h0M122.4 651.9h0M119.0 642.9h0M158.5 643.8h0M121.0 643.6h0M122.9 633.2h0M135.9 641.7h0M129.1 644.3h0M127.2 637.8h0M125.7 630.9h0M124.5 640.8h0M133.3 643.5h0M121.1 640.7h0M140.3 647.6h0M122.2 648.5h0M137.3 643.1h0M120.9 649.4h0M123.9 643.7h0M123.5 637.2h0M139.3 643.4h0M132.5 648.9h0M137.6 646.1h0M131.0 647.7h0M126.4 641.5h0M120.5 640.5h0M125.0 632.2h0M125.3 640.9h0M125.2 647.4h0M147.4 646.6h0M135.7 641.3h0M128.7 631.9h0M123.1 629.1h0M122.4 643.1h0M119.0 636.6h0M128.0 637.6h0M118.8 630.9h0M138.9 644.7h0M120.9 632.9h0M125.6 632.4h0M140.7 644.3h0M123.6 640.4h0M136.3 641.6h0M136.4 647.8h0M130.1 638.7h0M144.2 647.1h0M119.6 635.7h0M131.7 645.7h0M161.7 637.4h0M156.4 664.0h0M166.9 654.0h0M158.3 653.8h0M154.3 659.1h0M178.4 655.2h0M162.9 654.4h0M167.4 651.3h0M151.9 665.6h0M156.6 654.1h0M153.1 651.8h0M156.0 658.8h0M165.7 649.8h0M165.4 658.5h0M155.7 649.9h0M151.5 650.1h0M156.0 655.7h0M162.4 666.1h0M176.3 658.1h0M160.6 654.9h0M174.1 658.5h0M166.7 654.2h0M164.6 655.5h0M172.5 655.4h0M157.3 660.0h0M160.9 650.9h0M154.2 662.1h0M163.0 654.3h0M157.6 667.3h0M171.9 654.3h0M167.6 655.4h0M170.8 661.8h0M171.6 653.8h0M171.1 655.1h0M155.0 660.4h0M157.3 664.6h0M151.9 648.3h0M154.8 667.5h0M171.6 651.8h0M155.6 656.8h0M161.9 656.9h0M166.4 661.4h0M161.7 654.6h0M169.5 659.1h0M166.0 656.8h0M169.7 651.5h0M167.3 658.5h0M174.6 653.8h0M156.3 655.4h0M162.8 667.0h0M161.5 669.4h0M152.6 661.4h0M172.3 661.1h0M176.2 658.8h0M166.0 664.0h0M156.8 661.6h0M166.4 663.4h0M170.6 656.9h0M164.6 652.1h0M163.6 657.0h0M166.8 662.8h0M169.4 660.9h0M170.9 658.6h0M174.6 657.5h0M164.1 650.6h0M148.7 657.3h0M149.5 661.1h0M147.3 657.9h0M146.8 662.2h0M149.3 655.7h0M148.7 657.7h0M148.5 662.7h0M147.5 662.5h0M150.7 659.4h0M147.3 655.5h0M147.2 654.4h0M148.5 669.8h0M146.5 662.9h0M150.7 664.4h0M148.0 655.5h0M146.7 653.8h0M152.1 663.7h0M149.5 658.7h0M149.1 661.1h0M151.2 662.9h0M151.7 655.7h0M149.2 654.5h0M148.8 661.4h0M152.4 656.3h0M152.6 661.0h0M149.5 662.7h0M146.8 661.5h0M152.3 662.1h0M152.1 662.7h0M147.0 654.1h0M150.1 663.6h0M151.7 660.9h0M150.7 659.2h0M151.7 667.5h0M130.0 683.5h0M145.7 680.6h0M149.8 692.8h0M146.8 693.3h0M130.1 686.0h0M144.9 683.9h0M142.9 680.3h0M146.7 697.1h0M132.6 681.5h0M130.0 682.1h0M145.8 675.4h0M146.4 686.5h0M149.4 685.3h0M148.8 675.0h0M139.9 683.8h0M137.7 681.4h0M149.4 693.7h0M140.2 693.5h0M143.3 695.1h0M147.4 682.9h0M148.7 692.5h0M147.0 676.0h0M133.9 679.9h0M139.7 688.8h0M140.5 674.8h0M139.3 689.9h0M132.3 694.4h0M145.7 676.8h0M147.6 689.0h0M147.9 686.4h0M137.6 695.0h0M146.2 688.6h0M139.2 676.7h0M143.8 695.4h0M140.6 693.8h0M142.1 692.3h0M151.0 683.9h0M139.8 681.1h0M132.7 690.3h0M144.2 682.3h0M144.4 685.6h0M137.4 698.3h0M145.5 684.4h0M138.3 674.5h0M138.3 683.3h0M147.6 692.9h0M146.8 688.8h0M136.0 691.3h0M141.0 673.2h0M134.2 687.7h0M145.1 684.2h0M141.1 697.1h0M150.5 691.5h0M144.6 677.5h0M146.5 691.8h0M140.1 698.9h0M146.7 697.4h0M146.3 680.2h0M136.3 681.7h0M134.4 688.6h0M146.6 691.2h0M137.1 686.3h0M136.7 675.6h0M142.6 674.5h0M141.4 690.2h0M144.3 683.8h0M139.9 686.4h0M139.6 696.3h0M143.7 682.4h0M143.1 694.5h0M139.0 686.5h0M142.7 683.4h0M137.9 685.6h0M149.5 676.2h0M141.0 698.4h0M134.9 692.5h0M132.7 680.1h0M147.9 675.0h0M138.5 691.1h0M137.6 690.6h0M134.7 694.9h0M135.1 690.8h0M142.0 674.2h0M147.9 680.6h0M151.4 682.1h0M143.7 692.8h0M142.6 692.3h0M141.8 680.2h0M139.6 692.4h0M150.3 691.4h0M138.4 687.7h0M143.9 680.1h0M151.5 675.9h0M145.0 692.2h0M145.7 692.5h0M151.9 676.6h0M134.2 684.3h0M140.2 684.5h0M131.5 688.0h0M139.3 674.1h0M135.4 679.3h0M135.5 687.4h0M149.9 685.7h0M134.9 696.6h0M143.2 690.5h0M130.5 685.3h0M142.8 693.4h0M148.5 694.5h0M135.7 675.9h0M136.5 682.6h0M143.2 672.8h0M146.4 688.7h0M138.6 694.0h0M136.7 675.7h0M137.1 687.3h0M142.4 695.1h0M143.2 679.7h0M148.7 679.1h0M148.6 688.5h0M143.0 684.2h0M132.8 696.6h0M137.8 690.1h0M135.1 675.4h0M133.9 686.3h0M151.3 677.6h0M144.7 675.6h0M135.6 695.4h0M144.6 680.0h0M140.9 695.3h0M135.9 679.5h0M148.4 683.1h0M138.7 689.8h0M136.2 690.8h0M149.5 674.1h0M146.0 688.9h0M149.1 676.8h0M137.0 692.4h0M146.7 688.6h0M140.8 693.9h0M142.6 679.3h0M139.4 676.4h0M150.0 692.3h0M131.1 684.9h0M142.4 677.7h0M143.5 689.8h0M141.4 679.0h0M146.0 678.2h0M148.4 679.9h0M137.3 682.0h0M130.4 689.8h0M146.0 676.4h0M140.7 698.0h0M148.3 682.1h0M148.1 686.4h0M136.7 698.0h0M139.8 682.0h0M135.0 695.6h0M140.9 694.5h0M135.0 691.0h0M139.0 683.0h0M147.9 688.4h0M143.1 674.8h0M144.2 672.8h0M135.0 685.9h0M147.0 687.4h0M149.4 691.4h0M139.5 689.2h0M137.3 685.5h0M133.5 683.5h0M137.1 686.5h0M148.2 676.3h0M143.8 691.3h0M139.9 689.9h0M139.6 682.0h0M136.7 688.1h0M146.2 688.3h0M140.8 690.2h0M135.4 677.2h0M130.6 690.8h0M148.5 692.6h0M143.1 673.1h0M142.4 694.4h0M140.3 675.4h0M143.2 690.0h0M132.9 684.2h0M131.8 685.2h0M146.8 694.2h0M147.8 692.1h0M140.2 673.7h0M151.1 681.6h0M131.9 690.6h0M136.1 688.9h0M136.2 687.6h0M150.8 692.0h0M148.6 678.3h0M143.4 688.5h0M140.1 682.8h0M137.8 698.3h0M142.0 698.0h0M137.8 688.0h0M140.3 689.7h0M138.6 691.5h0M143.0 683.2h0M142.6 683.0h0M130.7 685.3h0M144.8 674.8h0M140.1 698.3h0M145.6 688.0h0M150.4 683.4h0M149.1 691.1h0M133.2 681.9h0M137.6 693.0h0M136.7 690.1h0M135.1 692.9h0M139.5 698.1h0M149.7 676.7h0M129.8 683.1h0M140.0 691.4h0M133.7 694.8h0M147.0 675.6h0M141.9 697.9h0M135.3 688.5h0M141.6 682.5h0M145.6 685.5h0M135.4 691.8h0M139.1 682.9h0M131.6 688.8h0M136.7 679.6h0M138.5 692.7h0M135.6 691.4h0M148.6 694.5h0M131.5 686.0h0M148.3 675.8h0M138.6 680.9h0M149.8 689.5h0M138.4 676.8h0M150.7 688.3h0M147.4 696.1h0M144.7 690.9h0M130.3 684.3h0M138.2 678.6h0M135.5 688.3h0M144.1 696.9h0M144.8 688.2h0M137.3 684.8h0M142.0 692.3h0M133.8 683.0h0M149.5 679.9h0M150.5 679.6h0M137.9 694.4h0M141.2 694.5h0M147.5 689.9h0M137.2 676.6h0M145.7 675.4h0M139.0 698.4h0M141.7 673.1h0M139.8 683.0h0M135.4 697.2h0M136.9 690.8h0M153.9 684.1h0M152.9 685.5h0M155.3 691.0h0M155.6 691.5h0M150.1 693.4h0M151.6 689.9h0M159.4 681.2h0M155.4 677.8h0M158.3 686.8h0M157.7 686.1h0M155.5 681.3h0M151.6 691.4h0M150.6 694.2h0M150.3 692.3h0M159.3 686.5h0M159.1 674.2h0M156.6 685.7h0M154.8 688.9h0M155.7 684.6h0M159.2 688.2h0M151.4 692.0h0M153.7 689.4h0M157.8 677.9h0M155.3 682.9h0M158.8 684.6h0M157.8 684.2h0M157.2 677.3h0M157.5 684.9h0M155.4 675.9h0M151.7 693.1h0M159.6 687.3h0M156.9 678.3h0M151.8 692.9h0M158.8 681.8h0M158.7 688.0h0M154.1 689.2h0M155.0 684.3h0M154.3 681.0h0M156.4 687.1h0M153.5 675.7h0M154.9 677.7h0M157.6 673.8h0M158.4 687.5h0M155.7 683.1h0M150.9 694.3h0M156.6 679.9h0M152.6 689.5h0M160.2 682.8h0M156.5 674.2h0M157.9 687.5h0M159.6 685.8h0M158.2 675.1h0M153.0 684.3h0M151.9 688.5h0M159.3 686.0h0M150.2 694.0h0M159.8 681.6h0M159.8 680.4h0M156.5 675.4h0" stroke="#4020fc" stroke-width="0.8" stroke-linecap="round" fill="none"/>
<path d="M138.6 649.8h0M118.2 636.2h0M125.4 633.2h0M149.8 645.4h0M155.6 645.8h0M118.2 625.8h0M157.7 663.3h0M170.0 657.2h0M149.1 656.6h0M151.5 663.1h0M150.9 667.6h0M140.6 677.0h0M143.2 679.3h0M147.9 690.8h0M141.9 684.1h0M136.8 690.9h0M142.5 697.5h0M136.4 678.0h0M139.9 697.8h0M141.0 692.3h0M139.4 697.5h0M142.5 698.2h0M140.1 680.1h0M146.8 683.8h0M148.7 682.8h0M142.8 682.7h0M141.0 698.3h0M144.4 677.2h0M137.7 680.9h0M145.5 679.6h0M149.1 677.9h0M146.5 680.1h0M149.4 688.3h0M131.3 684.2h0M148.2 690.6h0M129.8 685.4h0M133.6 687.8h0M151.2 687.6h0M148.6 680.6h0M145.0 693.9h0M131.1 681.7h0M141.8 677.4h0M144.4 678.8h0M139.5 695.2h0M144.5 677.4h0M137.0 692.2h0M136.7 682.7h0M139.7 697.4h0M143.4 674.1h0M136.3 681.5h0M146.8 693.6h0M140.7 675.4h0M131.6 683.0h0M135.8 693.9h0M146.0 677.5h0M150.8 680.1h0M150.3 685.7h0M140.2 679.1h0M144.4 679.0h0M143.8 681.2h0M147.1 689.1h0M135.5 688.5h0M141.6 686.1h0M145.4 692.5h0M132.7 687.6h0M144.5 684.4h0M140.5 678.1h0M134.5 694.3h0M138.6 675.8h0M142.1 675.0h0M138.7 691.5h0M142.6 687.7h0M142.1 691.5h0M142.9 687.8h0M140.6 698.1h0M145.3 688.8h0M132.9 684.0h0M138.7 689.8h0M145.6 680.3h0M132.0 695.0h0M138.0 674.2h0M142.8 679.2h0M137.4 690.0h0M145.1 686.4h0M143.3 682.7h0M133.0 688.4h0M146.1 687.1h0M150.0 687.0h0M145.4 684.8h0M138.2 674.1h0M141.2 685.9h0M149.8 677.2h0M142.4 683.2h0M135.0 677.6h0M136.7 686.1h0M140.6 684.3h0M141.3 685.3h0M136.0 685.2h0M145.7 695.2h0M142.5 686.5h0M142.2 687.7h0M141.2 683.5h0M143.0 688.4h0M147.4 693.4h0M140.8 687.0h0M134.0 683.8h0M151.9 682.2h0M147.6 677.7h0M147.3 683.1h0M139.6 694.3h0M141.1 690.3h0M145.5 692.5h0M132.6 690.0h0M148.5 680.0h0M131.5 682.7h0M143.5 687.6h0M135.9 678.9h0M140.6 685.6h0M134.4 679.8h0M137.1 682.4h0M140.6 682.1h0M133.6 680.0h0M144.9 690.9h0M147.3 684.5h0M144.5 675.7h0M144.5 688.6h0M140.4 691.9h0M140.0 675.1h0M145.6 689.4h0M143.6 694.2h0M144.0 696.5h0M143.4 697.5h0M137.5 694.0h0M151.1 674.6h0M138.3 684.8h0M146.4 678.2h0M135.1 680.0h0M149.2 680.3h0M140.7 673.9h0M130.6 683.3h0M144.1 679.8h0M140.1 695.4h0M148.6 686.2h0M130.5 685.2h0M134.7 684.8h0M133.4 685.0h0M142.0 677.7h0M157.1 674.2h0M153.5 685.0h0M153.9 684.9h0M152.7 686.6h0M158.8 674.1h0" stroke="#0000ff" stroke-width="0.8" stroke-linecap="round" fill="none"/>
<path d="M145.0 641.0L158.0 638.0L166.0 648.0L162.0 662.0L152.0 668.0L146.0 658.0Z" fill="#fff" fill-opacity="0.45"/>
<path d="M116.0 620.0L127.0 626.0L131.0 636.0L121.0 639.0L116.0 630.0Z" fill="#fff" fill-opacity="0.45"/>
<path d="M150.0 664.0L160.0 664.0L158.0 674.0L150.0 676.0Z" fill="#fff" fill-opacity="0.45"/>
<path d="M131.4 588.2h0M130.6 584.7h0M141.2 588.3h0M129.9 585.9h0M146.2 583.8h0M140.2 586.7h0M135.4 587.3h0M129.6 585.2h0M133.8 582.1h0M139.7 586.4h0M146.2 584.3h0M145.2 580.6h0M136.9 582.7h0M132.3 584.1h0M127.1 583.5h0M139.4 578.3h0M139.3 580.3h0M141.0 581.1h0M133.8 576.3h0M137.5 580.9h0M145.8 587.9h0M133.9 583.8h0M139.2 590.2h0M133.2 584.1h0M146.7 586.6h0M135.3 584.5h0M130.1 579.7h0M135.7 586.2h0M141.6 585.1h0M136.3 588.1h0M141.4 577.9h0M141.3 579.0h0M142.7 578.6h0M140.6 587.3h0M141.4 577.5h0M135.0 577.8h0M141.4 578.4h0M139.4 582.8h0M143.8 585.6h0M142.6 589.0h0M141.4 590.8h0M134.4 582.3h0M133.6 583.4h0M122.8 578.3h0M135.7 577.3h0M140.6 581.8h0M139.2 578.2h0M126.8 581.4h0M141.4 583.9h0M140.0 590.3h0M136.5 580.7h0M139.7 586.8h0M130.1 581.8h0M133.4 585.2h0M136.2 585.9h0M134.8 577.3h0M130.5 576.8h0M128.0 578.3h0M138.7 580.3h0M136.9 578.0h0M139.6 577.1h0M138.8 584.5h0M144.4 587.9h0M135.9 581.9h0M135.3 579.0h0M140.5 584.6h0M139.8 578.2h0M134.2 582.4h0M133.3 579.7h0M131.9 581.7h0M123.4 578.1h0M131.3 577.1h0M132.9 584.6h0M130.3 586.0h0M140.4 579.5h0M130.8 581.2h0M138.2 580.6h0M136.8 579.0h0M125.1 579.8h0M131.7 577.1h0M141.7 591.5h0M129.6 578.9h0M138.5 581.1h0M146.1 583.2h0M142.8 585.5h0M125.8 582.7h0M144.1 583.9h0M141.1 581.9h0M136.1 583.6h0M127.5 581.9h0M134.3 586.6h0M131.0 586.8h0M132.8 585.3h0M131.7 585.4h0M134.3 586.9h0M128.2 577.5h0M141.4 583.4h0M131.8 586.9h0M129.7 579.2h0M134.1 587.3h0M130.5 587.5h0M139.6 591.5h0M145.6 585.2h0M139.6 585.6h0M144.0 583.4h0M140.6 582.2h0M130.5 586.7h0M145.9 584.2h0M132.4 578.4h0M144.3 583.0h0M135.4 589.3h0M126.7 577.7h0M141.0 583.2h0M122.3 578.1h0M129.6 586.1h0M145.5 585.6h0M143.8 582.3h0M137.9 589.3h0M134.2 586.9h0M144.8 582.1h0M138.3 587.0h0M144.1 585.5h0M136.0 586.0h0M126.2 579.9h0M141.4 587.1h0M127.2 578.3h0M140.2 591.8h0M128.7 584.7h0M142.3 582.6h0M141.4 589.6h0M141.7 583.0h0M135.1 584.8h0M134.3 583.5h0M137.9 579.6h0M143.8 582.4h0M135.8 586.9h0M134.4 579.9h0M133.4 585.9h0M130.1 580.3h0M137.4 577.9h0M133.9 577.1h0M130.2 578.9h0M133.8 585.1h0M134.2 577.3h0M136.0 575.9h0M137.2 577.0h0M124.2 578.7h0M144.6 582.8h0M136.4 590.0h0M128.2 585.6h0M139.5 586.2h0M135.5 581.9h0M131.3 578.8h0M142.0 580.7h0M141.7 589.2h0M142.5 581.1h0M144.8 588.8h0M135.4 583.2h0M138.1 585.3h0M139.5 591.7h0" stroke="#bba5e0" stroke-width="0.8" stroke-linecap="round" fill="none"/>
<path d="M14.3 542.6V709.9H204.3" fill="none" stroke="#a6a6a6" stroke-width="1.0"/>
<path d="M13.0 556.6h1.3" stroke="#a6a6a6" stroke-width="0.5"/>
<text x="12.4" y="558.0" font-size="4.0" fill="#404040" text-anchor="end">10</text>
<path d="M13.0 586.9h1.3" stroke="#a6a6a6" stroke-width="0.5"/>
<text x="12.4" y="588.3" font-size="4.0" fill="#404040" text-anchor="end">5</text>
<path d="M13.0 617.2h1.3" stroke="#a6a6a6" stroke-width="0.5"/>
<text x="12.4" y="618.6" font-size="4.0" fill="#404040" text-anchor="end">0</text>
<path d="M13.0 647.5h1.3" stroke="#a6a6a6" stroke-width="0.5"/>
<text x="12.4" y="648.9" font-size="4.0" fill="#404040" text-anchor="end">-5</text>
<path d="M13.0 677.8h1.3" stroke="#a6a6a6" stroke-width="0.5"/>
<text x="12.4" y="679.2" font-size="4.0" fill="#404040" text-anchor="end">-10</text>
<path d="M13.0 708.1h1.3" stroke="#a6a6a6" stroke-width="0.5"/>
<text x="12.4" y="709.5" font-size="4.0" fill="#404040" text-anchor="end">-15</text>
<path d="M23.0 709.9v1.3" stroke="#a6a6a6" stroke-width="0.5"/>
<text x="23.0" y="714.8" font-size="4.0" fill="#404040" text-anchor="middle">-15</text>
<path d="M57.6 709.9v1.3" stroke="#a6a6a6" stroke-width="0.5"/>
<text x="57.6" y="714.8" font-size="4.0" fill="#404040" text-anchor="middle">-10</text>
<path d="M92.2 709.9v1.3" stroke="#a6a6a6" stroke-width="0.5"/>
<text x="92.2" y="714.8" font-size="4.0" fill="#404040" text-anchor="middle">-5</text>
<path d="M126.8 709.9v1.3" stroke="#a6a6a6" stroke-width="0.5"/>
<text x="126.8" y="714.8" font-size="4.0" fill="#404040" text-anchor="middle">0</text>
<path d="M161.4 709.9v1.3" stroke="#a6a6a6" stroke-width="0.5"/>
<text x="161.4" y="714.8" font-size="4.0" fill="#404040" text-anchor="middle">5</text>
<path d="M196.0 709.9v1.3" stroke="#a6a6a6" stroke-width="0.5"/>
<text x="196.0" y="714.8" font-size="4.0" fill="#404040" text-anchor="middle">10</text>
<text x="109.5" y="719.2" font-size="4.6" fill="#222" text-anchor="middle">umap_1</text>
<text x="0.0" y="0.0" font-size="4.6" fill="#222" text-anchor="middle" transform="translate(4.8 626) rotate(-90)">umap_2</text>
<text x="110.0" y="540.0" font-size="5.0" fill="#111" text-anchor="middle" font-weight="bold" textLength="51.5" lengthAdjust="spacingAndGlyphs">monocle3_pseudotime</text>
<defs><linearGradient id="gE" x1="0" y1="1" x2="0" y2="0"><stop offset="0.00" stop-color="#d3d3d3"/><stop offset="0.20" stop-color="#c1aede"/><stop offset="0.40" stop-color="#aa89e7"/><stop offset="0.60" stop-color="#8e65f0"/><stop offset="0.80" stop-color="#673df8"/><stop offset="1.00" stop-color="#0000ff"/></linearGradient></defs>
<rect x="209.2" y="615.0" width="4.5" height="22.7" fill="url(#gE)"/>
<text x="215.6" y="620.0" font-size="4.3" fill="#222" stroke="#222" stroke-width="0.12">60</text>
<text x="215.6" y="626.4" font-size="4.3" fill="#222" stroke="#222" stroke-width="0.12">40</text>
<text x="215.6" y="633.0" font-size="4.3" fill="#222" stroke="#222" stroke-width="0.12">20</text>
<text x="215.6" y="639.5" font-size="4.3" fill="#222" stroke="#222" stroke-width="0.12">0</text>
<path d="M242.6 673.2H646.5" stroke="#ebebeb" stroke-width="0.6"/>
<path d="M242.6 636.9H646.5" stroke="#ebebeb" stroke-width="0.6"/>
<path d="M242.6 600.6H646.5" stroke="#ebebeb" stroke-width="0.6"/>
<path d="M242.6 564.4H646.5" stroke="#ebebeb" stroke-width="0.6"/>
<path d="M321.2 534.6V704" stroke="#ebebeb" stroke-width="0.6"/>
<path d="M442.6 534.6V704" stroke="#ebebeb" stroke-width="0.6"/>
<path d="M563.9 534.6V704" stroke="#ebebeb" stroke-width="0.6"/>
<text x="240.6" y="693.5" font-size="6.5" fill="#404040" text-anchor="end">0</text>
<path d="M241.2 691.3h1.4" stroke="#a6a6a6" stroke-width="0.5"/>
<text x="240.6" y="657.2" font-size="6.5" fill="#404040" text-anchor="end">2</text>
<path d="M241.2 655.0h1.4" stroke="#a6a6a6" stroke-width="0.5"/>
<text x="240.6" y="621.0" font-size="6.5" fill="#404040" text-anchor="end">4</text>
<path d="M241.2 618.8h1.4" stroke="#a6a6a6" stroke-width="0.5"/>
<text x="240.6" y="584.7" font-size="6.5" fill="#404040" text-anchor="end">6</text>
<path d="M241.2 582.5h1.4" stroke="#a6a6a6" stroke-width="0.5"/>
<text x="240.6" y="548.5" font-size="6.5" fill="#404040" text-anchor="end">8</text>
<path d="M241.2 546.3h1.4" stroke="#a6a6a6" stroke-width="0.5"/>
<text x="260.6" y="711.9" font-size="6.5" fill="#404040" text-anchor="middle">0</text>
<text x="381.9" y="711.9" font-size="6.5" fill="#404040" text-anchor="middle">5</text>
<text x="503.2" y="711.9" font-size="6.5" fill="#404040" text-anchor="middle">10</text>
<text x="624.5" y="711.9" font-size="6.5" fill="#404040" text-anchor="middle">15</text>
<text x="444.5" y="720.7" font-size="8.9" fill="#1a1a1a" text-anchor="middle" textLength="89.7" lengthAdjust="spacingAndGlyphs">monocle3_pseudotime</text>
<circle cx="653.9" cy="617.4" r="0.8" fill="#ff0000"/><circle cx="653.9" cy="623.4" r="0.8" fill="#0000ff"/>
<text x="658.2" y="619.5" font-size="6.0" fill="#1a1a1a" textLength="23.7" lengthAdjust="spacingAndGlyphs">NOTCH1</text>
<text x="658.2" y="625.5" font-size="6.0" fill="#1a1a1a" textLength="23.7" lengthAdjust="spacingAndGlyphs">NOTCH3</text>
<path d="M260.2 698.2H311.3M312.8 698.2H333.2M339.0 698.2H353.7M357.4 698.2H382.8M384.3 698.2H388.7M390.1 698.2H396.0M400.4 698.2H406.2M409.1 698.2H414.9M419.3 698.2H423.7M426.6 698.2H431.0M434.0 698.2H438.3M441.2 698.2H511.5M515.3 698.2H518.2M522.3 698.2H552.4M554.5 698.2H572.8M579.6 698.2H610.8M612.8 698.2H619.6M621.6 698.2H629.2" stroke="#ff0000" stroke-width="1.6"/>
<path d="M260.2 696.6H311.3M312.8 696.6H333.2M339.0 696.6H353.7M357.4 696.6H382.8M384.3 696.6H388.7M390.1 696.6H396.0M400.4 696.6H406.2M409.1 696.6H414.9M419.3 696.6H423.7M426.6 696.6H431.0M434.0 696.6H438.3M441.2 696.6H511.5M515.3 696.6H518.2M522.3 696.6H552.4M554.5 696.6H572.8M579.6 696.6H610.8M612.8 696.6H619.6M621.6 696.6H629.2" stroke="#0000ff" stroke-width="1.6"/>
<path d="M301.6 668.5h0M263.2 672.3h0M277.5 684.1h0M309.1 649.7h0M277.2 674.0h0M277.2 652.3h0M301.3 667.2h0M308.4 679.0h0M273.0 668.8h0M289.1 664.5h0M264.2 673.0h0M296.3 663.8h0M308.4 683.0h0M292.1 679.4h0M267.9 679.5h0M295.2 683.4h0M287.7 679.1h0M302.8 675.3h0M297.1 665.8h0M291.3 666.7h0M284.8 663.4h0M266.9 666.1h0M299.2 674.0h0M278.6 671.9h0M264.6 664.4h0M278.2 673.8h0M270.1 672.9h0M264.1 668.0h0M298.1 674.9h0M264.3 679.9h0M273.7 687.6h0M300.2 673.6h0M308.1 663.2h0M301.1 668.7h0M309.0 665.2h0M303.4 683.1h0M301.1 676.8h0M301.8 665.2h0M296.5 667.4h0M273.6 664.1h0M284.7 674.5h0M284.2 657.4h0M297.1 665.6h0M285.9 673.5h0M305.8 664.4h0M289.5 667.1h0M302.5 681.4h0M293.9 680.9h0M268.1 674.7h0M295.8 677.8h0M309.4 683.0h0M310.8 673.9h0M309.6 673.6h0M263.9 666.5h0M304.6 682.5h0M307.7 669.3h0M294.2 675.5h0M265.9 678.8h0M306.9 673.7h0M287.3 670.6h0M272.3 676.2h0M304.4 678.8h0M309.3 674.0h0M287.4 673.1h0M262.0 671.2h0M295.6 668.9h0M295.1 680.6h0M305.2 677.7h0M264.7 677.6h0M271.0 655.3h0M270.0 681.2h0M280.9 675.1h0M307.2 679.8h0M262.5 666.5h0M276.0 668.3h0M302.1 676.9h0M276.9 674.2h0M310.8 676.9h0M277.9 675.9h0M288.3 671.5h0M265.5 659.2h0M294.1 659.3h0M268.8 683.2h0M282.2 661.2h0M266.1 672.1h0M308.1 674.2h0M293.2 675.0h0M268.3 658.4h0M279.0 674.3h0M306.1 660.4h0M286.4 653.9h0M273.4 676.7h0M277.4 670.1h0M267.8 668.9h0M284.4 667.2h0M267.0 680.3h0M300.2 672.0h0M272.5 655.7h0M308.2 683.8h0M273.8 677.5h0M273.8 671.9h0M288.6 652.7h0M269.0 656.0h0M272.1 653.9h0M311.2 656.2h0M264.7 673.8h0M305.7 678.9h0M304.4 656.3h0M269.1 671.2h0M270.5 671.2h0M276.9 672.3h0M299.4 676.4h0M289.5 682.9h0M308.7 673.5h0M264.4 677.3h0M291.4 658.9h0M268.1 666.6h0M310.1 650.2h0M301.8 679.6h0M276.2 674.1h0M291.2 668.2h0M289.3 667.3h0M304.4 662.0h0M283.9 662.1h0M292.7 678.0h0M287.9 676.6h0M288.0 670.3h0M291.8 669.3h0M297.7 669.4h0M273.8 675.3h0M281.8 675.9h0M289.4 679.2h0M285.6 681.9h0M309.9 665.7h0M295.2 663.8h0M299.3 660.7h0M288.2 678.8h0M278.6 673.6h0M297.1 669.7h0M264.7 654.7h0M266.3 660.8h0M295.2 660.0h0M289.8 674.9h0M277.1 672.4h0M267.5 677.8h0M287.2 665.4h0M288.9 660.3h0M300.8 670.3h0M268.5 671.8h0M293.6 678.4h0M303.3 678.2h0M271.8 671.6h0M277.3 668.8h0M270.4 662.9h0M281.6 680.9h0M282.0 670.9h0M296.8 661.5h0M275.9 667.5h0M308.9 670.2h0M280.5 679.2h0M276.7 685.4h0M300.3 658.6h0M285.5 679.5h0M276.9 684.8h0M299.1 678.1h0M282.3 677.1h0M307.7 682.5h0M267.6 679.8h0M268.0 672.3h0M267.5 674.2h0M284.3 682.3h0M287.0 677.7h0M285.7 671.0h0M280.7 635.6h0M303.3 685.9h0M296.2 653.5h0M315.5 674.4h0M331.0 656.7h0M320.9 682.5h0M328.0 669.4h0M323.3 679.6h0M316.7 679.0h0M315.7 674.6h0M322.7 671.3h0M321.1 671.7h0M319.7 667.1h0M313.6 669.1h0M316.0 676.1h0M325.3 686.4h0M326.9 684.9h0M320.7 681.5h0M316.0 643.9h0M322.2 680.5h0M323.3 663.1h0M332.2 666.3h0M313.1 673.4h0M321.7 681.2h0M327.9 623.6h0M321.3 674.6h0M319.7 678.5h0M316.7 671.3h0M345.8 671.6h0M339.2 673.0h0M344.2 677.5h0M347.2 672.0h0M349.3 676.2h0M346.5 674.2h0M341.6 679.7h0M352.1 670.1h0M348.0 678.9h0M340.1 666.6h0M344.6 679.0h0M341.3 673.7h0M340.1 660.1h0M344.4 680.2h0M353.3 677.0h0M342.5 670.8h0M349.7 656.5h0M348.1 655.3h0M343.1 667.4h0M367.8 669.9h0M378.4 681.9h0M378.4 673.9h0M370.0 664.1h0M376.1 679.2h0M365.1 663.3h0M362.4 674.9h0M363.9 676.3h0M359.4 651.0h0M361.3 658.3h0M380.2 682.9h0M362.6 683.5h0M375.6 665.3h0M363.7 681.1h0M378.5 636.3h0M374.1 669.2h0M357.9 677.5h0M363.4 680.6h0M364.5 679.2h0M368.4 674.8h0M364.5 675.5h0M363.6 683.6h0M378.1 671.9h0M368.5 682.0h0M373.2 678.1h0M370.6 668.8h0M366.7 642.8h0M378.2 675.4h0M376.6 675.3h0M384.6 676.0h0M387.0 669.5h0M384.5 682.9h0M394.3 663.5h0M393.0 684.3h0M395.3 658.9h0M394.6 679.1h0M395.2 680.4h0M392.0 668.0h0M406.1 675.8h0M402.1 663.4h0M401.9 676.7h0M401.4 648.0h0M403.8 668.7h0M405.2 673.7h0M406.0 662.4h0M401.2 685.3h0M405.5 653.0h0M409.5 672.8h0M413.3 660.5h0M409.9 666.4h0M409.1 677.4h0M410.2 669.4h0M409.3 680.6h0M413.4 659.7h0M419.9 676.0h0M420.8 661.7h0M420.2 678.4h0M428.0 662.0h0M428.6 676.6h0M428.6 677.1h0M430.5 673.2h0M427.5 671.1h0M436.3 680.5h0M437.2 677.0h0M436.2 677.3h0M444.7 678.8h0M448.8 672.8h0M447.2 675.0h0M449.6 682.9h0M449.6 653.1h0M447.6 680.4h0M443.4 667.6h0M444.0 652.2h0M442.6 673.5h0M444.5 668.0h0M443.6 674.2h0M511.0 683.6h0M458.8 667.7h0M495.1 679.6h0M469.8 677.1h0M484.7 670.9h0M450.1 681.0h0M485.7 677.8h0M501.7 668.9h0M496.3 671.8h0M461.7 672.3h0M495.3 678.1h0M456.0 659.3h0M466.4 669.0h0M481.7 665.6h0M460.3 660.9h0M491.9 678.4h0M472.1 678.9h0M464.2 666.2h0M450.6 668.8h0M473.8 668.9h0M477.8 671.1h0M480.6 674.7h0M504.2 665.5h0M503.2 674.4h0M461.3 655.7h0M476.4 679.5h0M464.0 671.0h0M462.6 671.9h0M480.9 666.9h0M472.1 672.8h0M496.3 650.0h0M470.5 675.1h0M468.5 669.9h0M499.2 674.8h0M502.4 665.9h0M458.8 681.9h0M461.3 673.1h0M453.6 665.5h0M451.4 677.7h0M507.8 666.7h0M496.4 669.8h0M463.9 661.6h0M477.9 668.5h0M497.8 674.6h0M501.2 675.9h0M474.9 675.3h0M460.3 681.2h0M491.1 677.5h0M476.9 672.6h0M455.4 643.8h0M466.6 671.3h0M501.5 675.1h0M482.3 673.6h0M507.1 678.1h0M509.7 660.4h0M495.3 680.9h0M458.3 671.6h0M511.2 673.5h0M487.6 665.8h0M489.8 669.0h0M466.3 679.2h0M468.8 659.5h0M510.3 667.3h0M495.0 675.0h0M493.5 677.7h0M498.9 669.5h0M452.0 665.6h0M479.6 675.2h0M451.3 682.6h0M469.5 674.1h0M453.6 675.9h0M464.9 658.9h0M457.0 680.2h0M476.1 678.2h0M488.5 679.7h0M489.6 676.3h0M468.7 675.0h0M486.5 668.9h0M501.7 662.4h0M472.0 671.5h0M496.5 679.2h0M460.2 674.9h0M461.0 675.9h0M511.2 681.5h0M509.0 671.1h0M472.9 665.6h0M497.9 664.0h0M470.5 679.0h0M478.3 670.6h0M496.4 679.6h0M473.4 669.8h0M479.1 683.9h0M491.8 681.0h0M509.4 673.1h0M456.3 684.4h0M466.8 673.0h0M468.9 665.5h0M471.5 652.9h0M495.7 678.3h0M506.2 646.0h0M476.0 684.3h0M501.4 673.3h0M497.4 662.6h0M463.9 670.5h0M496.2 674.4h0M462.4 665.1h0M481.0 673.0h0M454.0 681.7h0M497.6 675.9h0M488.3 670.5h0M511.0 663.4h0M467.7 672.4h0M487.3 667.8h0M465.4 680.0h0M451.3 658.6h0M492.0 665.4h0M478.4 661.3h0M457.7 670.4h0M463.4 672.7h0M460.8 673.4h0M453.3 672.6h0M483.5 673.5h0M498.4 670.5h0M504.3 675.3h0M483.6 668.4h0M461.2 677.1h0M501.6 666.0h0M495.6 669.7h0M475.8 668.4h0M469.1 675.6h0M485.2 677.2h0M505.1 677.2h0M511.3 675.9h0M453.1 678.4h0M468.5 673.6h0M502.7 673.0h0M467.1 674.0h0M459.3 650.7h0M453.5 639.0h0M496.8 668.5h0M469.9 676.1h0M477.2 673.6h0M462.7 652.0h0M466.8 670.8h0M455.9 666.8h0M491.6 645.7h0M505.8 668.2h0M468.3 654.9h0M456.9 678.7h0M459.5 678.8h0M485.4 661.0h0M502.1 664.5h0M481.3 634.2h0M483.2 674.6h0M485.8 680.5h0M507.4 669.5h0M471.6 677.2h0M461.9 682.7h0M451.8 681.8h0M460.9 664.5h0M477.4 660.8h0M455.2 660.0h0M510.5 670.7h0M498.2 675.0h0M458.5 672.9h0M478.7 678.6h0M495.0 667.2h0M485.1 672.8h0M482.3 669.2h0M502.1 679.2h0M482.0 677.1h0M463.8 670.8h0M454.8 681.5h0M465.3 668.9h0M452.2 660.0h0M459.9 672.0h0M499.6 668.1h0M480.6 677.0h0M481.6 656.4h0M476.7 672.3h0M458.9 662.8h0M475.7 682.2h0M486.8 668.5h0M490.8 665.0h0M462.0 681.8h0M487.5 649.1h0M481.2 681.0h0M517.5 679.1h0M517.7 666.7h0M550.0 671.1h0M535.1 674.8h0M540.4 678.3h0M548.4 679.1h0M529.1 672.0h0M540.7 662.0h0M536.6 679.6h0M523.2 662.9h0M522.7 681.6h0M527.4 662.0h0M533.3 675.3h0M545.4 671.2h0M542.1 679.7h0M531.7 675.6h0M547.8 674.6h0M534.9 668.2h0M537.9 680.0h0M538.4 658.0h0M527.0 674.9h0M522.4 682.3h0M537.2 657.8h0M540.7 676.2h0M547.3 677.4h0M546.2 677.1h0M529.7 664.2h0M526.6 659.6h0M526.9 673.9h0M526.5 681.1h0M526.6 666.3h0M541.4 673.2h0M528.2 670.5h0M526.7 671.2h0M546.3 676.7h0M526.8 676.5h0M531.6 668.2h0M549.6 665.1h0M543.3 671.9h0M534.4 684.1h0M526.1 647.5h0M542.0 676.0h0M571.2 674.3h0M561.8 680.3h0M557.9 666.2h0M567.1 661.8h0M569.0 673.7h0M559.7 675.4h0M570.9 673.7h0M559.4 673.1h0M566.3 676.4h0M559.9 673.2h0M566.3 654.7h0M571.2 668.3h0M565.1 656.4h0M567.0 678.7h0M570.5 656.9h0M566.6 658.7h0M565.8 680.3h0M571.5 671.4h0M572.7 668.4h0M570.8 680.8h0M570.3 675.2h0M555.1 676.1h0M558.6 674.4h0M566.6 669.5h0M585.2 679.6h0M588.6 670.1h0M596.3 670.5h0M588.9 672.1h0M587.0 655.8h0M603.0 666.6h0M609.2 676.4h0M585.3 676.4h0M604.3 679.4h0M601.8 669.2h0M606.7 675.7h0M608.3 679.3h0M599.9 661.8h0M579.9 673.8h0M582.5 678.4h0M610.2 676.4h0M610.8 674.5h0M593.6 676.6h0M609.7 665.4h0M592.1 672.4h0M585.1 670.5h0M583.7 672.8h0M588.2 678.7h0M599.2 677.5h0M586.4 678.3h0M588.7 674.2h0M591.6 679.6h0M589.0 660.9h0M587.6 671.9h0M608.5 669.8h0M582.7 683.4h0M585.7 620.3h0M605.2 668.7h0M592.2 670.5h0M590.8 680.8h0M598.6 681.8h0M603.2 679.6h0M594.6 668.2h0M580.1 661.4h0M601.7 670.0h0M609.0 669.3h0M584.0 680.6h0M579.9 663.9h0M583.9 655.1h0M590.1 676.0h0M618.7 670.2h0M614.4 664.2h0M618.5 680.3h0M614.0 675.9h0M619.2 679.4h0M619.5 676.6h0M615.1 674.8h0M613.8 677.3h0M626.1 673.5h0M624.5 676.7h0M627.1 675.8h0M628.5 678.9h0M624.8 675.9h0M623.6 680.4h0M623.2 666.4h0M627.6 685.1h0M626.4 643.9h0M624.1 677.7h0M623.2 679.3h0M624.2 681.3h0M622.7 685.1h0M627.6 676.0h0M626.1 656.0h0M320.3 663.4h0M320.3 674.0h0M320.5 671.7h0M320.4 666.5h0M320.9 672.1h0M320.7 683.1h0M320.6 670.9h0M320.4 682.0h0M320.8 667.3h0M320.1 671.7h0M320.3 675.1h0M320.4 677.5h0M320.6 658.6h0M320.7 662.7h0M320.7 664.9h0M320.7 679.0h0M320.8 676.3h0M319.9 679.6h0M351.2 675.5h0M351.0 668.4h0M351.2 682.5h0M351.2 669.2h0M351.3 682.4h0M351.6 676.1h0M351.1 671.8h0M351.1 680.8h0M351.1 678.9h0M351.0 676.4h0M351.0 654.8h0M471.4 680.3h0M471.4 673.2h0M470.9 660.5h0M471.3 668.9h0M471.4 629.3h0M471.0 675.0h0M471.3 656.5h0M471.2 679.4h0M471.0 670.8h0M471.3 683.4h0M471.9 660.6h0M470.8 647.7h0M470.8 678.5h0M471.2 669.0h0M471.6 643.3h0M471.6 672.6h0M471.3 642.3h0M489.5 665.0h0M489.1 673.4h0M489.2 676.0h0M489.5 679.5h0M489.4 667.1h0M489.5 673.8h0M489.5 662.7h0M489.9 681.5h0M489.1 667.0h0M489.0 672.1h0M489.3 631.6h0M489.0 654.2h0M489.3 661.8h0M489.2 677.8h0M489.2 672.3h0M489.3 664.9h0M489.5 678.4h0M489.4 669.8h0M489.4 676.8h0M488.7 661.4h0M489.2 679.7h0M489.2 674.6h0M489.7 669.2h0M504.3 680.7h0M504.4 667.4h0M504.0 674.5h0M504.1 643.2h0M503.9 651.3h0M504.3 668.1h0M504.8 666.3h0M503.6 664.7h0M504.5 654.6h0M504.2 679.5h0M504.1 671.6h0M504.7 677.9h0M504.5 671.2h0M505.0 659.5h0M527.6 681.8h0M527.5 677.5h0M527.0 680.8h0M527.1 657.6h0M526.9 676.8h0M527.3 677.9h0M527.4 676.7h0M527.3 674.4h0M527.8 667.6h0M527.3 674.1h0M526.7 663.6h0M527.6 680.6h0M530.5 683.8h0M530.4 677.7h0M530.4 671.9h0M530.9 668.9h0M530.5 685.8h0M530.5 676.3h0M530.7 671.9h0M530.6 675.4h0M530.4 677.3h0M530.5 671.3h0M530.5 675.9h0M530.3 660.6h0M530.9 674.8h0M554.1 662.3h0M554.2 677.4h0M553.7 675.5h0M554.0 680.6h0M554.2 676.6h0M554.1 665.6h0M554.4 663.7h0M553.9 674.6h0M554.0 676.2h0M553.8 668.9h0M553.6 672.7h0M572.7 660.7h0M572.8 675.5h0M572.9 682.0h0M572.9 666.9h0M572.6 674.7h0M573.1 663.5h0M572.6 664.4h0M573.0 668.1h0M572.8 685.3h0M572.6 667.3h0M572.6 681.5h0M572.8 674.2h0M572.9 685.2h0M572.3 671.4h0M572.7 680.7h0M572.6 676.3h0M573.1 678.8h0M572.3 672.3h0M572.3 683.1h0M572.6 671.4h0M597.0 678.7h0M596.3 670.2h0M597.3 670.8h0M597.1 668.6h0M597.5 664.6h0M597.1 679.5h0M596.7 681.9h0M597.0 670.0h0M597.0 671.1h0M597.1 671.9h0M597.0 682.4h0M597.2 668.7h0M596.4 681.1h0M597.2 667.3h0M596.7 668.8h0M596.6 666.2h0M596.5 686.2h0M596.9 667.2h0M597.2 678.5h0M600.6 679.3h0M600.8 673.8h0M600.6 674.0h0M600.6 659.2h0M600.6 662.7h0M601.0 673.4h0M600.8 678.9h0M600.9 667.1h0M600.8 664.1h0M600.7 675.9h0M600.8 682.6h0M600.5 663.8h0M600.3 667.7h0M600.7 682.2h0M600.5 678.1h0M600.8 670.5h0M601.4 678.0h0M600.4 661.1h0M600.5 662.7h0M600.6 664.0h0M609.3 675.1h0M608.8 664.7h0M608.6 670.7h0M609.0 675.4h0M608.9 675.8h0M609.1 671.9h0M608.8 677.3h0M608.8 683.5h0M608.9 664.2h0M608.6 665.7h0M608.5 665.1h0M609.4 678.0h0M609.3 678.2h0M608.7 682.0h0M608.7 676.5h0M609.0 676.8h0M608.9 667.8h0M608.9 670.3h0M609.3 684.7h0M608.8 674.5h0M608.8 677.9h0M609.3 685.8h0M608.9 662.8h0M608.9 671.0h0M609.0 650.1h0M608.5 679.3h0M627.8 678.1h0M627.5 672.1h0M627.6 676.5h0M627.6 673.4h0M627.7 671.4h0M627.7 638.4h0M628.2 677.0h0M627.6 646.6h0M627.6 676.3h0M627.9 677.2h0M627.6 644.1h0M627.6 676.5h0M627.4 680.9h0M627.2 677.1h0M627.4 662.9h0M627.5 681.6h0M627.8 666.3h0M627.6 679.9h0M627.3 662.9h0M627.7 675.8h0M627.3 669.3h0M627.6 671.5h0M627.7 664.3h0M627.5 676.2h0M627.4 676.1h0M260.7 682.6h0M260.3 669.7h0M260.6 680.6h0M260.4 675.8h0M260.3 636.9h0M260.9 669.9h0M261.0 672.0h0M262.5 667.3h0M261.4 681.1h0M260.7 662.2h0M261.1 667.7h0M261.2 676.3h0M260.6 668.1h0M260.7 659.8h0M260.7 672.9h0M261.0 674.0h0M260.5 682.8h0M260.4 675.6h0M260.4 684.6h0M262.8 685.3h0M260.9 674.5h0M260.4 682.9h0M260.5 681.4h0M261.2 672.5h0M261.1 674.5h0M260.5 685.2h0M261.2 676.1h0M262.0 667.3h0M262.6 683.9h0M261.0 669.3h0M260.5 664.8h0M260.7 684.3h0M260.6 667.2h0M260.9 679.2h0M262.7 683.1h0M261.1 675.1h0M262.6 655.4h0M261.0 660.5h0M260.8 678.6h0M260.5 672.1h0M261.6 673.3h0M260.3 649.0h0M261.1 681.4h0M260.7 680.0h0M260.8 673.5h0M261.2 678.2h0M260.9 671.5h0M261.0 670.9h0M261.5 679.4h0M260.7 675.9h0M261.1 636.9h0M263.5 673.5h0M262.1 678.9h0M260.7 670.8h0M260.4 677.9h0M261.5 669.1h0M261.2 665.3h0M260.6 684.0h0M260.9 665.8h0M260.9 671.1h0M261.2 682.2h0M260.9 663.8h0M260.6 676.5h0M260.7 673.6h0M260.7 679.9h0M260.7 680.5h0M261.6 680.9h0M261.7 679.1h0M260.5 659.8h0M262.4 671.2h0M263.9 653.5h0M260.8 669.5h0M260.9 676.2h0M262.1 675.8h0M260.7 677.2h0M261.9 675.9h0M262.5 680.3h0M260.8 678.4h0M261.1 665.6h0M261.9 677.9h0M262.3 683.5h0M261.1 656.9h0M263.2 674.1h0M263.1 681.3h0M260.4 671.1h0M260.7 680.2h0M261.7 675.6h0M261.2 665.2h0M260.3 663.4h0M261.9 668.4h0M260.5 681.4h0M262.1 675.9h0M260.7 680.5h0M260.8 676.4h0M263.3 681.2h0M260.4 677.2h0M260.6 683.3h0M261.0 679.9h0M260.9 683.2h0M260.9 678.5h0M262.7 662.3h0M260.7 652.8h0M261.9 677.4h0M260.6 663.5h0M261.8 676.1h0M260.6 682.4h0M261.8 676.9h0M260.7 667.7h0M260.5 671.8h0M261.0 674.6h0M260.4 675.7h0M260.6 683.2h0M260.5 678.7h0M261.5 681.0h0M260.5 675.3h0M262.0 668.2h0M260.9 660.0h0M261.5 664.7h0M260.9 679.5h0M260.7 677.9h0M260.6 671.6h0M260.4 674.4h0M261.0 677.9h0M260.8 676.3h0M260.7 667.0h0M260.6 666.2h0M261.0 670.9h0M260.4 675.9h0M262.1 672.9h0M260.4 680.9h0M260.6 682.1h0M260.8 672.5h0M260.5 682.5h0M260.9 668.6h0M260.5 661.5h0M261.4 681.4h0M261.0 679.6h0M261.2 663.9h0M260.7 672.1h0M260.6 671.5h0M261.9 660.1h0M261.7 676.3h0M260.7 653.5h0M261.5 677.3h0M261.2 678.6h0M260.6 669.9h0M260.7 680.9h0M260.4 685.9h0M261.2 681.2h0M261.9 683.6h0M260.8 676.3h0M260.6 679.0h0M261.5 670.0h0M261.3 681.1h0M261.6 679.6h0M261.8 674.5h0M260.3 683.2h0M260.7 674.9h0M261.0 677.1h0M260.7 675.4h0M261.1 683.5h0M261.6 682.2h0M260.4 672.0h0M261.9 674.0h0M260.9 671.1h0M260.4 672.2h0M260.4 664.3h0M261.9 658.9h0M260.8 674.7h0M260.5 684.1h0M260.8 673.0h0M261.3 680.7h0M260.9 666.1h0M261.2 677.6h0M260.5 679.8h0M260.5 679.7h0M260.9 686.0h0M261.4 682.4h0M260.5 680.8h0M260.5 666.0h0M260.7 679.5h0M260.4 678.1h0M261.0 680.0h0M262.4 681.0h0M260.7 666.7h0M260.5 677.9h0M261.6 664.5h0M260.6 681.9h0M261.0 665.9h0M261.9 672.4h0M260.4 676.4h0M261.2 676.2h0M263.2 678.6h0M260.5 678.0h0M261.1 681.6h0M262.7 679.3h0M260.8 675.4h0M261.1 678.4h0M261.3 667.7h0M262.2 677.9h0M260.6 671.5h0M260.6 672.7h0M260.4 682.9h0M260.6 680.0h0M260.9 676.4h0M262.3 683.8h0M262.7 669.8h0M261.3 675.9h0M261.2 677.6h0M261.4 660.0h0M261.1 684.7h0M261.2 677.6h0M260.7 683.4h0M260.9 680.5h0M261.1 683.4h0M261.5 667.0h0M261.6 670.5h0M261.4 680.1h0M262.7 665.3h0M262.2 683.1h0M261.7 679.6h0M262.4 667.7h0M260.8 679.9h0M262.1 680.4h0M260.6 662.3h0M261.0 651.3h0M261.0 661.8h0M260.5 671.0h0M260.7 666.6h0M260.3 681.6h0M260.7 677.3h0M261.2 663.2h0M261.8 672.3h0M260.3 662.7h0M261.2 677.1h0M261.9 686.2h0M261.2 681.7h0M260.6 654.7h0M260.4 669.2h0M260.8 681.1h0M260.7 671.9h0M261.8 685.2h0M260.9 680.7h0M262.2 673.3h0M261.1 677.1h0M261.5 669.2h0M260.5 684.8h0M261.6 670.7h0M260.4 662.4h0M261.6 676.6h0M261.4 665.9h0M261.1 673.2h0" stroke="#ff0000" stroke-width="1.5" stroke-linecap="round" fill="none"/>
<path d="M286.7 656.0h0M301.6 673.8h0M272.5 659.5h0M263.2 641.2h0M285.1 677.4h0M277.5 658.3h0M294.4 664.2h0M297.5 662.4h0M293.3 625.1h0M262.1 652.8h0M277.2 633.6h0M277.2 657.3h0M278.9 666.2h0M287.8 662.5h0M308.3 660.9h0M294.5 636.1h0M299.5 662.5h0M284.8 604.0h0M308.4 641.3h0M273.0 650.2h0M263.7 650.1h0M310.1 621.0h0M289.1 661.9h0M264.2 663.6h0M296.3 661.5h0M295.2 668.3h0M287.7 635.7h0M271.5 669.8h0M302.8 662.5h0M275.6 672.2h0M299.1 672.3h0M291.3 632.1h0M277.2 665.8h0M284.8 653.1h0M293.0 647.1h0M276.3 670.9h0M299.2 639.6h0M289.5 639.8h0M278.2 660.2h0M269.9 649.5h0M298.1 658.9h0M285.2 655.6h0M264.4 639.1h0M292.0 654.5h0M266.8 632.6h0M300.2 667.2h0M308.1 655.1h0M301.1 667.1h0M309.0 633.1h0M298.5 650.2h0M301.8 645.6h0M273.6 677.2h0M284.7 656.1h0M275.9 631.3h0M297.1 654.9h0M285.9 653.7h0M275.9 674.8h0M309.4 652.7h0M275.4 646.4h0M279.4 656.7h0M302.5 664.4h0M289.8 644.7h0M266.9 654.2h0M293.9 665.4h0M296.5 676.9h0M268.1 649.1h0M265.7 665.5h0M309.4 665.5h0M302.5 659.4h0M310.8 601.9h0M309.6 640.1h0M304.8 659.0h0M263.9 677.6h0M304.6 654.0h0M288.5 639.1h0M307.7 671.4h0M287.7 657.1h0M306.9 672.1h0M287.3 661.5h0M281.4 665.0h0M272.3 651.4h0M309.1 648.5h0M305.4 665.7h0M304.4 606.7h0M284.2 663.5h0M309.3 667.5h0M301.1 664.8h0M279.5 660.5h0M295.7 629.3h0M295.6 654.0h0M295.1 634.6h0M305.2 661.5h0M275.1 643.3h0M270.0 674.6h0M267.7 651.5h0M280.9 624.3h0M278.9 650.1h0M276.0 642.6h0M302.1 575.8h0M310.8 641.4h0M278.2 668.7h0M311.3 651.6h0M271.9 594.8h0M305.7 648.5h0M287.6 647.7h0M265.5 664.0h0M294.1 675.0h0M301.3 651.4h0M305.2 664.7h0M305.6 667.3h0M268.8 674.6h0M298.6 652.6h0M308.1 662.2h0M268.3 642.8h0M279.0 634.2h0M295.2 639.1h0M306.1 659.7h0M273.1 652.2h0M273.4 654.5h0M301.7 663.7h0M277.4 623.7h0M275.3 668.6h0M310.0 652.8h0M267.8 655.4h0M284.4 656.6h0M300.4 661.7h0M267.0 664.0h0M279.5 638.5h0M271.2 647.1h0M272.5 659.0h0M308.2 654.3h0M282.2 678.1h0M273.8 643.0h0M288.6 659.0h0M294.3 660.8h0M301.5 670.5h0M269.0 667.6h0M301.6 652.0h0M272.1 652.4h0M275.9 656.7h0M311.2 651.5h0M292.4 652.5h0M305.7 655.2h0M302.3 667.1h0M309.1 659.3h0M269.2 654.5h0M304.4 673.1h0M273.9 616.5h0M269.1 659.0h0M307.2 665.1h0M280.2 661.1h0M276.9 660.4h0M276.9 664.9h0M293.2 658.9h0M299.4 661.6h0M299.3 648.1h0M300.1 615.9h0M309.9 645.1h0M280.1 660.2h0M308.7 654.3h0M264.4 664.8h0M268.4 650.8h0M279.7 661.9h0M291.4 652.3h0M268.1 665.2h0M280.7 647.8h0M274.2 665.2h0M289.2 638.9h0M307.0 661.0h0M270.7 656.7h0M263.1 643.2h0M301.8 616.2h0M305.4 655.5h0M294.3 658.8h0M301.4 654.3h0M299.8 660.1h0M285.8 618.6h0M277.6 662.8h0M268.4 656.8h0M304.4 669.5h0M271.6 668.1h0M292.7 654.8h0M287.9 653.5h0M273.1 647.7h0M291.8 663.4h0M265.4 667.9h0M304.9 630.8h0M297.7 675.2h0M306.8 661.4h0M290.5 652.4h0M292.0 659.1h0M289.4 671.8h0M285.6 644.9h0M309.9 667.5h0M295.2 677.2h0M306.9 638.1h0M273.2 668.5h0M283.1 632.4h0M299.3 658.2h0M288.2 655.5h0M277.9 625.2h0M278.6 663.6h0M297.1 669.9h0M264.7 627.6h0M303.3 665.5h0M265.9 654.9h0M286.5 664.9h0M300.5 617.8h0M282.5 667.0h0M264.4 639.3h0M268.2 645.8h0M310.2 633.1h0M310.7 656.7h0M296.1 666.9h0M303.4 652.0h0M302.6 657.4h0M289.8 665.7h0M277.1 647.2h0M287.2 600.0h0M282.8 671.8h0M288.9 676.8h0M288.4 642.9h0M300.8 651.1h0M268.2 670.9h0M279.5 615.0h0M268.5 654.3h0M264.1 654.7h0M293.6 657.0h0M303.3 636.9h0M287.3 654.7h0M271.8 657.5h0M270.4 627.1h0M274.3 661.4h0M310.1 647.1h0M281.6 663.7h0M296.2 641.1h0M284.6 660.8h0M296.8 646.3h0M275.9 650.1h0M263.2 673.3h0M307.6 636.2h0M282.2 651.3h0M275.0 661.3h0M271.6 666.7h0M284.3 631.1h0M276.9 674.1h0M308.9 643.9h0M303.8 659.3h0M280.5 657.3h0M276.7 650.8h0M300.3 665.4h0M285.5 627.2h0M262.7 669.1h0M276.9 635.1h0M307.7 655.3h0M268.0 643.8h0M267.5 664.8h0M270.2 667.4h0M271.6 663.5h0M288.3 675.8h0M290.6 669.2h0M281.5 670.0h0M287.0 638.8h0M285.7 648.9h0M301.0 629.5h0M279.6 655.8h0M280.7 644.7h0M303.3 662.2h0M296.2 672.2h0M306.3 653.5h0M332.4 617.5h0M325.4 638.3h0M325.4 662.9h0M322.3 666.0h0M314.8 649.5h0M315.5 658.9h0M323.9 642.5h0M320.9 656.8h0M328.0 657.6h0M325.8 659.8h0M331.4 662.9h0M323.3 652.8h0M319.8 643.8h0M316.7 646.7h0M324.1 671.8h0M314.0 669.6h0M315.7 661.4h0M322.7 642.4h0M319.9 666.7h0M319.7 661.2h0M320.1 668.8h0M330.7 667.3h0M313.6 660.6h0M316.0 658.1h0M325.3 639.5h0M320.7 651.2h0M326.0 640.3h0M324.1 641.3h0M315.5 651.1h0M322.2 652.5h0M323.3 650.3h0M321.7 642.2h0M327.9 652.0h0M314.6 635.6h0M330.8 666.8h0M317.8 677.6h0M321.3 667.1h0M321.0 665.1h0M319.7 661.7h0M328.0 665.8h0M318.6 672.8h0M320.6 647.3h0M348.0 664.8h0M346.1 660.5h0M348.6 681.3h0M349.6 657.9h0M351.8 662.8h0M346.5 651.3h0M341.6 638.2h0M352.1 647.9h0M345.0 671.3h0M348.0 669.0h0M353.2 661.0h0M351.4 653.1h0M345.8 637.8h0M346.4 662.6h0M342.1 655.5h0M339.3 665.6h0M344.6 657.4h0M341.3 656.9h0M347.3 666.3h0M340.1 649.1h0M340.1 654.8h0M353.3 662.8h0M341.1 665.4h0M342.5 656.9h0M350.3 656.0h0M345.8 672.1h0M343.3 650.9h0M349.0 670.8h0M341.9 669.0h0M340.6 649.1h0M348.1 664.1h0M343.1 657.5h0M350.6 665.1h0M367.8 651.3h0M371.7 646.9h0M367.8 626.5h0M378.4 636.0h0M378.4 658.3h0M381.2 662.3h0M370.0 662.5h0M376.1 658.8h0M365.1 659.0h0M381.9 630.9h0M358.9 654.9h0M363.9 648.0h0M371.6 664.7h0M366.1 659.1h0M376.9 650.5h0M359.4 644.9h0M357.5 671.8h0M380.2 666.3h0M362.6 655.3h0M368.5 594.1h0M375.6 654.7h0M358.8 639.5h0M368.8 665.9h0M367.1 669.3h0M378.5 667.2h0M374.1 664.8h0M363.1 624.4h0M371.3 666.2h0M359.9 650.6h0M378.8 659.4h0M377.4 649.3h0M375.5 659.2h0M363.4 666.2h0M364.5 642.5h0M381.9 651.2h0M368.4 644.7h0M362.4 668.0h0M369.0 654.3h0M380.2 659.4h0M381.0 660.0h0M372.6 638.6h0M364.5 668.9h0M374.6 659.7h0M363.6 652.1h0M367.5 625.6h0M373.2 644.7h0M370.6 668.1h0M373.3 663.7h0M377.7 652.6h0M358.2 663.5h0M362.3 605.4h0M378.2 648.1h0M375.6 660.5h0M372.6 651.1h0M386.2 653.6h0M386.9 676.5h0M384.6 634.8h0M387.9 668.3h0M387.2 637.5h0M387.7 645.2h0M387.6 642.0h0M387.0 656.0h0M384.5 605.9h0M394.3 644.0h0M393.0 652.0h0M395.3 653.4h0M395.3 647.8h0M394.6 673.0h0M393.0 627.9h0M392.4 660.6h0M395.0 654.7h0M393.4 647.3h0M392.0 659.7h0M405.6 657.6h0M406.1 672.4h0M401.9 667.4h0M401.4 653.7h0M405.2 656.2h0M403.3 672.6h0M406.0 650.6h0M400.8 636.2h0M401.2 631.2h0M405.5 660.9h0M414.4 654.2h0M413.3 649.8h0M409.9 613.1h0M409.1 652.9h0M410.2 632.7h0M413.0 672.5h0M413.4 667.5h0M422.2 651.8h0M423.4 656.0h0M419.9 606.6h0M420.7 636.8h0M419.9 673.4h0M421.1 657.9h0M420.4 639.8h0M420.8 654.1h0M427.8 649.9h0M430.0 628.9h0M428.6 658.5h0M428.6 632.4h0M428.5 657.6h0M430.5 640.1h0M427.5 624.4h0M435.5 664.0h0M438.1 668.6h0M436.2 663.3h0M437.2 609.5h0M436.2 646.5h0M448.1 671.6h0M444.7 627.5h0M447.2 633.5h0M448.6 666.2h0M449.6 673.1h0M449.6 661.0h0M447.6 639.7h0M448.0 670.8h0M444.3 662.1h0M447.9 648.8h0M444.0 653.4h0M442.6 616.2h0M444.5 655.3h0M443.6 662.7h0M511.0 664.4h0M464.5 639.0h0M458.8 664.8h0M507.4 582.8h0M469.8 658.8h0M452.3 664.9h0M485.5 640.2h0M499.3 670.2h0M450.1 668.7h0M485.7 632.4h0M505.4 630.3h0M486.7 637.0h0M465.1 627.7h0M466.9 654.4h0M484.9 679.2h0M450.9 632.2h0M496.6 639.1h0M461.7 650.0h0M495.3 658.9h0M463.9 660.0h0M497.9 666.9h0M486.5 649.4h0M466.4 656.2h0M481.7 652.4h0M460.3 664.5h0M491.9 670.1h0M464.2 644.6h0M502.4 620.9h0M495.8 663.1h0M458.3 646.9h0M480.6 660.1h0M504.2 640.9h0M480.4 664.3h0M503.2 656.4h0M461.3 641.6h0M461.8 637.5h0M460.8 674.9h0M476.4 636.3h0M488.2 645.7h0M462.6 659.4h0M480.9 672.3h0M496.3 666.8h0M481.9 655.0h0M490.5 660.1h0M468.5 644.4h0M463.3 667.1h0M459.2 648.6h0M504.6 662.2h0M489.6 647.2h0M502.4 669.4h0M471.2 665.8h0M490.1 644.6h0M452.8 609.4h0M497.6 622.8h0M470.5 670.3h0M500.4 655.6h0M453.6 665.2h0M451.4 652.9h0M470.3 677.3h0M494.7 656.0h0M507.8 647.8h0M496.4 656.7h0M497.8 615.5h0M474.9 656.0h0M465.0 655.9h0M487.4 656.1h0M486.4 668.3h0M510.6 653.1h0M498.6 653.4h0M488.9 660.6h0M491.1 680.3h0M498.3 598.8h0M505.9 621.4h0M493.5 665.4h0M476.9 662.3h0M454.7 663.1h0M465.0 641.0h0M478.6 655.3h0M456.9 659.8h0M497.4 662.5h0M459.3 669.9h0M466.6 656.8h0M470.1 643.7h0M459.9 665.3h0M469.0 627.0h0M501.5 657.8h0M507.1 654.1h0M509.7 662.1h0M495.3 664.1h0M458.3 671.3h0M511.2 669.7h0M487.6 666.0h0M466.3 622.3h0M466.3 673.8h0M468.8 654.9h0M470.3 655.3h0M460.1 666.9h0M493.3 649.1h0M450.4 671.4h0M495.0 671.5h0M481.5 650.4h0M493.5 668.4h0M477.1 652.1h0M497.8 657.1h0M466.6 640.4h0M498.9 547.3h0M452.0 668.7h0M472.8 665.9h0M461.6 642.5h0M502.3 664.0h0M460.6 640.8h0M453.6 641.6h0M504.3 634.3h0M510.8 651.5h0M476.1 671.3h0M489.6 651.8h0M477.6 612.4h0M456.6 670.3h0M486.5 655.1h0M472.5 659.4h0M501.7 640.3h0M472.0 625.7h0M498.9 663.6h0M477.5 636.6h0M455.8 641.4h0M460.3 646.0h0M461.0 664.4h0M509.0 670.8h0M472.9 657.7h0M467.8 674.3h0M470.9 671.2h0M497.9 610.2h0M470.5 655.6h0M478.3 637.1h0M461.1 634.0h0M496.4 674.8h0M473.4 634.3h0M479.1 656.5h0M476.9 633.6h0M456.3 658.1h0M459.7 659.1h0M466.8 669.1h0M460.8 658.4h0M471.5 638.5h0M506.1 659.1h0M496.0 660.2h0M478.3 625.0h0M459.7 643.2h0M510.1 629.8h0M476.0 667.9h0M501.4 671.4h0M497.4 660.5h0M465.4 655.8h0M470.5 667.0h0M454.4 644.5h0M488.3 659.0h0M472.1 669.2h0M479.2 665.3h0M492.0 646.8h0M496.2 671.5h0M474.1 667.7h0M505.1 651.6h0M498.2 643.9h0M480.2 669.6h0M454.0 662.7h0M472.8 677.1h0M474.8 636.2h0M484.9 640.9h0M450.1 660.0h0M492.5 655.1h0M511.0 662.3h0M467.7 644.6h0M461.9 673.1h0M487.3 666.1h0M465.4 663.5h0M476.0 675.4h0M451.3 666.8h0M475.5 620.0h0M492.0 652.2h0M497.8 647.2h0M478.4 668.1h0M452.8 670.2h0M468.9 665.2h0M457.7 647.7h0M463.4 659.1h0M454.3 635.3h0M460.8 637.1h0M453.3 656.8h0M469.0 627.5h0M498.4 596.8h0M504.7 649.3h0M504.3 624.2h0M500.0 665.3h0M467.6 637.4h0M483.6 674.6h0M508.8 667.5h0M501.6 667.1h0M450.5 653.2h0M475.8 662.4h0M472.5 651.8h0M469.1 666.7h0M491.7 658.0h0M497.2 660.9h0M505.1 656.5h0M511.3 635.4h0M468.5 667.3h0M502.7 645.4h0M467.1 648.9h0M453.5 663.2h0M496.8 652.5h0M469.9 650.6h0M463.2 651.3h0M489.5 643.0h0M451.6 652.5h0M466.8 630.2h0M460.0 640.5h0M480.9 669.6h0M455.9 658.3h0M491.6 667.1h0M476.3 641.6h0M507.1 656.0h0M456.0 616.8h0M456.9 669.5h0M451.0 642.6h0M469.2 637.8h0M466.3 662.9h0M502.1 651.5h0M477.6 658.3h0M481.3 665.4h0M460.9 631.3h0M483.2 655.8h0M485.8 655.8h0M500.7 631.0h0M507.4 645.5h0M450.8 641.2h0M490.7 657.9h0M471.6 649.9h0M508.9 666.5h0M461.9 652.7h0M480.3 658.8h0M501.2 637.7h0M451.8 652.1h0M477.4 638.5h0M501.3 670.6h0M455.2 659.0h0M507.2 658.1h0M498.2 662.6h0M458.5 655.0h0M460.9 635.7h0M505.1 644.5h0M495.0 658.1h0M463.4 663.5h0M485.1 672.5h0M505.3 650.1h0M507.9 650.0h0M502.5 645.1h0M467.0 669.3h0M497.7 645.0h0M454.8 650.5h0M465.3 658.2h0M464.4 670.3h0M469.9 652.0h0M464.4 662.5h0M452.9 663.0h0M450.5 659.7h0M474.7 658.1h0M498.5 589.0h0M502.1 662.7h0M493.1 653.8h0M476.9 665.5h0M481.6 639.4h0M476.7 646.0h0M458.9 653.2h0M490.3 665.4h0M477.5 653.2h0M506.9 643.1h0M490.8 652.2h0M487.5 653.8h0M482.8 670.8h0M499.5 657.5h0M499.4 636.8h0M457.0 654.5h0M481.9 658.4h0M517.5 652.0h0M515.9 652.2h0M528.5 657.3h0M550.0 671.9h0M532.1 662.0h0M550.0 625.8h0M530.2 653.0h0M535.1 665.8h0M542.5 648.0h0M547.6 663.9h0M541.9 673.7h0M534.2 640.8h0M550.3 661.4h0M524.9 673.3h0M548.4 664.9h0M532.4 659.0h0M536.6 676.3h0M527.5 643.9h0M545.7 670.0h0M527.4 676.0h0M527.9 674.8h0M535.7 653.9h0M552.4 668.3h0M533.3 663.0h0M545.0 628.9h0M531.3 647.4h0M551.4 612.6h0M534.9 675.5h0M537.9 654.4h0M538.4 636.0h0M531.8 653.2h0M531.5 657.9h0M552.1 633.8h0M534.0 652.6h0M527.0 677.1h0M537.1 645.6h0M522.4 663.7h0M544.0 667.3h0M537.2 617.9h0M525.8 662.1h0M540.7 644.4h0M547.3 660.8h0M526.6 640.2h0M526.9 662.9h0M547.2 620.5h0M526.5 644.2h0M535.0 657.3h0M545.2 652.2h0M541.4 668.8h0M526.6 661.3h0M533.9 666.5h0M540.8 663.1h0M541.4 642.6h0M529.5 658.6h0M535.3 649.2h0M536.7 643.1h0M545.7 654.2h0M531.6 587.0h0M549.6 650.2h0M537.1 645.3h0M544.2 669.1h0M550.7 663.0h0M526.4 644.7h0M534.4 649.2h0M526.1 664.5h0M551.6 659.9h0M548.6 642.2h0M564.0 622.1h0M557.9 677.0h0M572.1 668.5h0M572.8 655.0h0M566.8 631.1h0M562.1 652.8h0M563.5 628.4h0M559.7 650.2h0M570.9 672.3h0M568.6 658.8h0M562.4 660.4h0M559.9 670.1h0M566.3 655.7h0M571.2 647.9h0M558.8 655.2h0M570.5 650.0h0M557.7 616.8h0M569.5 655.0h0M566.6 666.0h0M558.6 642.1h0M565.8 632.5h0M569.1 665.9h0M557.5 660.4h0M570.8 660.9h0M555.1 657.0h0M566.3 670.1h0M560.5 664.8h0M566.6 655.6h0M559.4 659.7h0M555.7 591.9h0M600.6 628.5h0M589.1 656.6h0M587.6 662.4h0M597.8 642.7h0M588.8 629.3h0M589.0 645.3h0M585.2 654.8h0M588.6 647.8h0M596.3 664.6h0M588.9 665.3h0M607.3 658.7h0M599.5 648.2h0M603.7 666.9h0M598.8 638.0h0M603.0 671.8h0M609.2 651.5h0M585.3 665.2h0M588.3 656.5h0M586.4 644.1h0M594.4 660.4h0M596.2 649.1h0M606.6 656.8h0M606.7 664.5h0M584.7 648.8h0M598.3 653.6h0M608.3 654.3h0M601.7 648.8h0M599.9 673.7h0M605.5 670.5h0M589.3 665.1h0M579.9 624.5h0M595.3 661.4h0M610.2 638.2h0M585.1 648.0h0M584.8 665.2h0M610.1 628.0h0M593.6 675.4h0M609.7 663.7h0M592.1 627.6h0M596.1 674.5h0M603.5 678.3h0M595.3 652.8h0M593.4 639.3h0M587.1 662.5h0M588.2 661.5h0M591.2 648.5h0M608.7 650.2h0M599.2 663.1h0M586.4 663.9h0M599.7 651.4h0M586.1 656.8h0M588.7 654.8h0M603.2 634.0h0M587.6 659.1h0M605.4 620.3h0M591.1 675.2h0M603.9 660.7h0M584.3 669.1h0M608.9 657.0h0M583.0 653.6h0M598.3 638.4h0M593.5 656.5h0M610.7 611.4h0M596.7 623.4h0M583.8 671.0h0M600.3 657.8h0M604.9 660.5h0M585.7 661.1h0M608.0 671.6h0M596.1 665.0h0M592.2 649.2h0M590.8 673.5h0M599.8 658.9h0M597.5 659.9h0M597.8 646.8h0M580.5 643.3h0M593.3 650.0h0M609.9 665.6h0M580.6 666.4h0M605.2 591.1h0M603.8 550.2h0M604.0 675.0h0M599.7 643.7h0M580.1 659.6h0M606.5 672.0h0M609.0 647.5h0M592.4 672.1h0M579.9 629.1h0M583.9 666.4h0M590.0 658.8h0M598.0 634.8h0M595.9 649.4h0M586.6 652.9h0M616.7 660.9h0M616.2 666.1h0M616.2 598.6h0M618.7 672.2h0M618.5 669.5h0M613.8 670.5h0M614.0 666.4h0M619.2 621.3h0M613.1 643.5h0M615.9 662.1h0M614.5 643.0h0M623.7 639.3h0M626.1 641.1h0M626.2 624.2h0M627.2 668.0h0M624.5 671.8h0M626.8 673.4h0M625.9 624.5h0M627.1 659.1h0M621.6 655.4h0M624.8 649.4h0M626.1 636.7h0M626.4 651.3h0M624.1 639.0h0M622.7 655.3h0M627.6 662.8h0M626.1 646.0h0M622.7 652.6h0M627.3 626.2h0M320.3 649.2h0M320.3 657.4h0M320.4 664.9h0M320.5 647.5h0M320.4 656.7h0M320.9 654.9h0M320.7 668.1h0M320.6 659.6h0M320.4 650.6h0M320.4 637.2h0M320.4 658.0h0M320.7 671.8h0M320.8 654.0h0M320.2 645.3h0M320.6 657.5h0M320.5 655.3h0M320.1 643.7h0M320.5 673.4h0M320.3 660.5h0M320.7 653.4h0M320.6 662.8h0M320.2 647.2h0M320.6 665.8h0M320.3 663.9h0M320.7 662.5h0M320.2 671.1h0M320.3 656.2h0M320.2 670.1h0M320.3 640.8h0M320.7 642.9h0M321.0 660.0h0M320.7 669.0h0M320.8 676.5h0M320.7 653.6h0M350.7 663.9h0M351.2 670.1h0M351.0 665.3h0M351.2 666.5h0M351.2 667.5h0M350.5 663.8h0M351.3 643.5h0M351.1 661.4h0M351.1 676.9h0M351.1 634.4h0M351.1 616.8h0M351.2 670.7h0M351.0 638.1h0M351.0 663.8h0M471.4 660.8h0M470.9 637.4h0M471.4 647.7h0M470.9 652.4h0M471.0 660.0h0M471.3 665.7h0M471.4 646.0h0M471.0 637.8h0M471.3 665.0h0M471.4 665.6h0M470.9 654.2h0M471.0 663.7h0M470.9 664.9h0M471.9 630.0h0M471.6 671.3h0M471.6 667.2h0M471.5 658.8h0M471.6 665.2h0M471.4 647.4h0M470.8 656.7h0M471.3 621.9h0M471.2 649.5h0M471.2 667.0h0M471.2 654.8h0M471.6 665.4h0M471.6 655.3h0M471.7 662.8h0M489.0 658.4h0M489.6 659.9h0M489.1 597.2h0M489.6 662.4h0M489.2 653.8h0M489.5 650.9h0M489.5 640.9h0M489.1 661.5h0M489.9 676.8h0M489.1 637.6h0M489.4 641.4h0M489.1 653.0h0M489.5 658.4h0M489.0 653.8h0M489.0 664.3h0M489.3 662.0h0M489.6 664.3h0M489.3 635.7h0M489.4 662.6h0M489.2 660.7h0M489.3 628.5h0M489.5 664.1h0M489.4 638.7h0M489.3 640.7h0M489.5 647.4h0M489.4 674.6h0M488.7 644.5h0M489.0 657.0h0M490.0 662.4h0M489.2 626.6h0M504.4 654.1h0M504.0 622.3h0M504.1 652.2h0M504.4 657.4h0M504.1 653.9h0M504.4 642.8h0M504.2 668.7h0M504.7 674.4h0M504.7 665.5h0M504.1 651.8h0M504.0 645.5h0M504.3 634.1h0M504.3 627.8h0M503.6 664.0h0M504.3 656.2h0M504.3 658.6h0M504.2 643.8h0M504.2 662.7h0M505.0 636.8h0M504.6 670.1h0M504.1 661.2h0M505.0 638.9h0M526.9 655.7h0M527.3 650.4h0M527.8 646.2h0M527.6 644.7h0M527.4 649.9h0M527.2 656.9h0M527.5 673.4h0M526.8 660.9h0M527.1 638.3h0M526.9 654.7h0M527.3 661.5h0M527.4 624.3h0M527.0 651.8h0M527.3 644.1h0M527.4 625.5h0M527.8 635.9h0M527.2 654.2h0M527.3 659.0h0M526.7 662.3h0M527.1 657.6h0M527.6 662.6h0M527.1 652.2h0M530.7 647.2h0M530.4 620.2h0M530.4 633.8h0M530.9 654.1h0M530.5 643.9h0M530.5 659.7h0M530.8 651.2h0M530.6 653.8h0M530.9 637.7h0M530.4 646.7h0M530.5 655.8h0M530.6 637.3h0M530.5 662.5h0M530.9 638.6h0M554.1 655.9h0M554.2 659.3h0M553.7 651.8h0M554.0 663.6h0M554.2 642.6h0M554.2 662.6h0M554.1 640.1h0M553.6 628.3h0M554.4 632.1h0M553.9 643.8h0M554.0 674.2h0M554.0 676.0h0M553.8 598.6h0M554.3 674.2h0M553.6 648.0h0M553.5 644.2h0M572.8 652.6h0M572.9 668.4h0M572.9 670.7h0M572.6 640.7h0M573.1 656.0h0M572.6 672.8h0M573.0 637.4h0M572.2 669.6h0M572.6 654.6h0M572.6 657.3h0M572.6 625.4h0M572.8 645.4h0M572.9 634.0h0M572.3 652.3h0M572.7 666.5h0M572.6 659.2h0M572.7 667.6h0M572.3 624.0h0M573.1 655.6h0M573.0 651.8h0M572.3 643.4h0M572.6 671.0h0M597.0 639.6h0M596.3 653.9h0M597.3 651.9h0M597.1 637.0h0M597.5 657.8h0M597.1 626.5h0M597.0 660.2h0M597.2 675.6h0M596.9 631.9h0M596.7 649.6h0M596.6 654.7h0M597.0 622.4h0M597.0 670.1h0M597.1 638.6h0M597.0 617.9h0M597.2 636.9h0M597.3 659.2h0M597.0 663.8h0M596.6 634.7h0M596.5 651.4h0M596.9 644.3h0M597.2 617.6h0M597.0 654.5h0M600.5 609.3h0M600.8 650.9h0M600.9 647.5h0M600.7 652.5h0M600.7 652.6h0M600.6 631.5h0M600.5 672.3h0M600.8 661.6h0M600.8 669.3h0M601.2 661.3h0M600.5 642.3h0M600.6 652.0h0M600.7 649.8h0M600.5 650.6h0M601.0 661.2h0M600.8 650.4h0M600.9 651.3h0M600.6 595.1h0M600.7 651.5h0M600.8 631.7h0M600.5 661.6h0M600.3 645.8h0M600.5 662.3h0M600.7 651.9h0M600.8 609.8h0M600.8 664.6h0M600.2 640.6h0M601.4 653.0h0M600.4 660.9h0M600.5 669.4h0M600.6 653.5h0M608.7 646.5h0M608.6 646.2h0M608.9 621.1h0M608.8 632.2h0M608.8 645.7h0M608.9 649.4h0M608.5 649.2h0M609.4 670.6h0M608.7 665.6h0M609.0 649.9h0M608.8 652.0h0M608.9 662.9h0M608.6 653.5h0M608.8 671.7h0M608.8 658.8h0M608.9 648.0h0M608.9 656.8h0M608.8 650.7h0M609.3 677.2h0M608.9 658.0h0M608.9 663.2h0M608.7 636.1h0M609.0 625.2h0M608.5 639.5h0M627.5 618.0h0M627.6 666.7h0M627.6 625.3h0M627.7 649.1h0M627.4 664.1h0M627.2 657.0h0M627.6 661.0h0M627.5 652.6h0M627.2 679.3h0M627.4 669.8h0M627.6 662.3h0M627.4 640.2h0M627.7 651.7h0M627.3 661.3h0M627.6 663.4h0M627.4 656.6h0M627.5 659.5h0M627.8 664.3h0M627.5 617.1h0M627.8 639.9h0M627.6 671.6h0M627.3 658.4h0M627.7 645.4h0M627.4 672.1h0M627.7 627.5h0M627.8 672.6h0M627.9 668.4h0M627.9 654.5h0M627.5 658.6h0M627.4 621.0h0M627.5 662.8h0M627.3 651.5h0M627.7 664.5h0M627.3 652.9h0M627.5 646.6h0M627.4 651.2h0M627.3 659.3h0M261.0 660.5h0M260.3 656.5h0M260.6 628.8h0M260.4 668.1h0M260.3 662.9h0M260.9 629.3h0M261.0 645.8h0M262.5 652.4h0M260.7 655.1h0M261.4 639.1h0M260.7 673.1h0M261.2 658.0h0M260.6 628.6h0M261.8 651.1h0M260.7 653.1h0M260.7 657.4h0M261.0 613.5h0M260.6 660.1h0M260.5 647.0h0M260.4 649.0h0M260.6 655.6h0M261.9 635.9h0M260.4 640.3h0M262.8 665.9h0M260.9 653.2h0M260.4 662.5h0M260.5 656.6h0M261.2 652.3h0M261.1 630.4h0M261.2 657.9h0M261.2 666.8h0M261.0 669.0h0M262.6 651.8h0M261.0 664.5h0M260.5 633.8h0M260.7 658.5h0M260.6 668.0h0M260.9 665.9h0M262.7 660.5h0M261.1 650.5h0M262.6 652.9h0M261.0 633.9h0M260.8 622.3h0M260.5 601.8h0M261.6 672.7h0M260.3 656.9h0M261.1 683.0h0M260.7 653.9h0M260.8 658.5h0M261.2 644.4h0M261.7 646.0h0M260.9 659.9h0M261.0 641.4h0M260.5 661.3h0M261.5 640.1h0M261.1 649.4h0M263.5 656.7h0M262.1 658.1h0M260.7 657.4h0M261.5 633.7h0M261.2 616.1h0M260.9 663.5h0M260.9 657.1h0M261.2 670.4h0M261.4 654.1h0M261.4 654.7h0M260.9 652.2h0M260.5 647.7h0M260.6 633.9h0M261.0 650.7h0M260.7 657.8h0M260.7 648.6h0M261.6 666.2h0M261.7 630.8h0M262.4 646.1h0M263.9 653.8h0M261.5 634.2h0M260.8 656.6h0M260.9 602.7h0M261.0 662.6h0M261.9 669.7h0M261.4 650.7h0M262.5 640.1h0M260.8 638.0h0M261.1 675.5h0M261.9 658.7h0M262.3 627.8h0M260.5 635.0h0M261.1 657.2h0M260.7 660.6h0M263.2 659.0h0M260.4 673.6h0M260.7 677.9h0M261.7 636.2h0M261.2 661.8h0M260.3 662.6h0M261.9 669.4h0M260.5 666.6h0M262.1 654.9h0M261.1 644.9h0M260.7 652.7h0M260.8 630.7h0M261.6 662.4h0M263.3 663.0h0M260.4 655.9h0M262.2 654.7h0M260.6 666.5h0M261.0 651.0h0M260.9 663.1h0M262.7 650.3h0M260.7 667.7h0M261.9 659.7h0M260.6 637.3h0M260.5 654.6h0M261.8 634.6h0M260.6 635.3h0M261.8 657.7h0M260.4 682.0h0M261.1 646.6h0M260.9 658.7h0M261.0 669.4h0M260.4 639.1h0M261.4 638.6h0M260.6 644.1h0M260.5 635.3h0M261.8 666.8h0M261.5 675.3h0M260.5 634.8h0M262.0 669.5h0M260.9 653.7h0M261.5 640.5h0M260.9 678.8h0M260.6 668.4h0M260.7 640.3h0M260.6 664.8h0M260.4 597.0h0M261.1 669.3h0M260.5 657.7h0M260.8 652.7h0M260.7 621.6h0M260.6 656.1h0M260.4 650.7h0M260.5 665.7h0M262.1 666.5h0M260.4 656.6h0M260.6 658.0h0M261.5 655.7h0M260.8 656.2h0M260.5 622.8h0M260.9 659.8h0M260.5 635.9h0M261.1 665.1h0M261.4 637.8h0M261.0 650.9h0M260.5 656.9h0M261.2 630.0h0M260.7 644.6h0M260.6 648.0h0M261.9 656.0h0M261.7 634.4h0M260.7 644.6h0M261.5 631.0h0M261.2 647.9h0M260.6 667.8h0M260.7 645.4h0M260.4 636.4h0M260.7 669.4h0M261.2 649.9h0M261.9 677.7h0M261.8 654.5h0M260.6 649.8h0M261.5 642.1h0M261.3 642.5h0M260.7 626.4h0M261.6 671.4h0M261.8 637.6h0M260.6 663.2h0M260.3 634.4h0M260.7 651.6h0M261.0 657.7h0M260.7 619.8h0M261.8 666.4h0M261.1 670.4h0M261.6 642.5h0M260.4 665.3h0M261.9 655.5h0M260.9 674.0h0M260.4 655.2h0M260.4 658.4h0M261.9 667.5h0M261.0 646.6h0M260.8 663.6h0M260.8 655.5h0M260.5 632.4h0M260.8 665.2h0M260.7 669.3h0M260.5 648.3h0M261.0 657.6h0M261.2 655.0h0M260.5 597.0h0M260.5 674.7h0M260.4 641.3h0M261.8 681.3h0M260.5 626.7h0M260.7 624.7h0M260.4 625.1h0M261.0 641.8h0M262.4 642.5h0M260.7 659.9h0M261.3 660.8h0M260.5 646.0h0M261.6 626.1h0M261.6 654.9h0M261.0 680.7h0M261.9 645.9h0M260.4 670.2h0M260.8 658.8h0M261.2 653.8h0M263.2 660.7h0M260.6 667.6h0M260.5 653.0h0M262.7 624.5h0M260.8 658.5h0M260.7 663.0h0M261.1 665.4h0M261.3 653.2h0M262.2 627.4h0M260.6 636.6h0M260.6 632.4h0M260.4 650.8h0M260.9 663.5h0M260.6 623.7h0M260.9 657.5h0M262.3 668.5h0M262.7 662.3h0M261.2 656.7h0M261.4 642.4h0M261.1 651.0h0M261.2 652.7h0M260.9 641.9h0M261.1 667.3h0M261.5 635.0h0M261.6 654.7h0M261.4 645.1h0M262.7 655.2h0M262.2 671.2h0M261.7 658.9h0M262.4 658.5h0M260.7 662.4h0M260.8 661.9h0M262.1 655.8h0M261.6 666.8h0M261.0 667.8h0M260.5 665.2h0M260.7 647.7h0M260.3 626.1h0M260.7 658.7h0M261.6 642.7h0M261.2 667.5h0M261.8 668.2h0M260.3 656.1h0M261.2 652.1h0M261.0 631.8h0M261.9 651.2h0M261.2 650.4h0M260.7 634.6h0M261.6 663.4h0M260.6 663.2h0M260.8 630.5h0M260.7 661.0h0M261.6 669.3h0M261.8 666.5h0M260.9 605.6h0M260.9 666.5h0M262.2 663.1h0M260.7 645.9h0M261.1 648.2h0M261.5 647.0h0M260.5 647.2h0M260.4 644.4h0M261.6 651.2h0M260.7 638.9h0M261.4 662.6h0M261.1 657.3h0M260.9 554.4h0M530.6 542.6h0M526.9 555.3h0M449.0 589.8h0M480.0 595.2h0M349.0 589.8h0M603.0 577.1h0M618.0 582.5h0M574.0 595.2h0M598.0 575.3h0" stroke="#0000ff" stroke-width="1.5" stroke-linecap="round" fill="none"/>
<text x="247.4" y="759.0" font-size="13.6" fill="#111" textLength="165.2" lengthAdjust="spacingAndGlyphs" stroke="#111" stroke-width="0.2">59 co-expressing gene sets</text>
<rect x="40.2" y="769.0" width="271.2" height="39.200000000000045" fill="none" stroke="#222" stroke-width="1.4"/>
<path d="M81.0 769.0V808.2" stroke="#222" stroke-width="1.4"/>
<rect x="40.2" y="818.4" width="271.2" height="39.10000000000002" fill="none" stroke="#222" stroke-width="1.4"/>
<path d="M81.0 818.4V857.5" stroke="#222" stroke-width="1.4"/>
<rect x="40.2" y="867.6" width="271.2" height="38.69999999999993" fill="none" stroke="#222" stroke-width="1.4"/>
<path d="M81.0 867.6V906.3" stroke="#222" stroke-width="1.4"/>
<rect x="371.6" y="769.0" width="271.79999999999995" height="39.299999999999955" fill="none" stroke="#222" stroke-width="1.4"/>
<path d="M412.5 769.0V808.3" stroke="#222" stroke-width="1.4"/>
<rect x="371.6" y="867.4" width="271.79999999999995" height="38.700000000000045" fill="none" stroke="#222" stroke-width="1.4"/>
<path d="M412.5 867.4V906.1" stroke="#222" stroke-width="1.4"/>
<text x="60.8" y="794.0" font-size="13.6" fill="#111" text-anchor="middle" stroke="#111" stroke-width="0.2">1</text>
<text x="60.8" y="843.2" font-size="13.6" fill="#111" text-anchor="middle" stroke="#111" stroke-width="0.2">2</text>
<text x="60.8" y="892.4" font-size="13.6" fill="#111" text-anchor="middle" stroke="#111" stroke-width="0.2">3</text>
<text x="392.7" y="794.1" font-size="13.6" fill="#111" text-anchor="middle" textLength="14.5" lengthAdjust="spacingAndGlyphs" stroke="#111" stroke-width="0.2">16</text>
<text x="392.7" y="892.0" font-size="13.6" fill="#111" text-anchor="middle" textLength="14.5" lengthAdjust="spacingAndGlyphs" stroke="#111" stroke-width="0.2">33</text>
<text x="102.8" y="794.7" font-size="13.6" fill="#111" stroke="#111" stroke-width="0.2" textLength="186.9" lengthAdjust="spacingAndGlyphs"><tspan font-style="italic">MAGOH, FAM49B, PSMD13, …</tspan></text>
<text x="124.7" y="843.1" font-size="13.6" fill="#111" stroke="#111" stroke-width="0.2" textLength="142.6" lengthAdjust="spacingAndGlyphs"><tspan font-style="italic">EEF1B2, TUBB, YBX1, …</tspan></text>
<text x="123.1" y="892.3" font-size="13.6" fill="#111" stroke="#111" stroke-width="0.2" textLength="146.7" lengthAdjust="spacingAndGlyphs"><tspan font-style="italic">RPL13, RPS19, RPS18, …</tspan></text>
<text x="428.4" y="794.2" font-size="13.6" fill="#111" stroke="#111" stroke-width="0.2" textLength="199.2" lengthAdjust="spacingAndGlyphs"><tspan font-style="italic">COX7C, HNRNPU, …, </tspan><tspan font-style="italic" font-weight="bold">NOTCH3</tspan><tspan font-style="italic">, …</tspan></text>
<text x="441.9" y="891.6" font-size="13.6" fill="#111" stroke="#111" stroke-width="0.2" textLength="171.9" lengthAdjust="spacingAndGlyphs"><tspan font-style="italic">RPS27L, BAX, …, </tspan><tspan font-style="italic" font-weight="bold">NOTCH1</tspan><tspan font-style="italic">, …</tspan></text>
<circle cx="334.6" cy="845.3" r="1.35" fill="#111"/>
<circle cx="341.5" cy="845.3" r="1.35" fill="#111"/>
<circle cx="348.4" cy="845.3" r="1.35" fill="#111"/>
<circle cx="519.1" cy="831.1" r="1.35" fill="#111"/>
<circle cx="519.1" cy="837.8" r="1.35" fill="#111"/>
<circle cx="519.1" cy="844.4" r="1.35" fill="#111"/>
</svg></body></html>
